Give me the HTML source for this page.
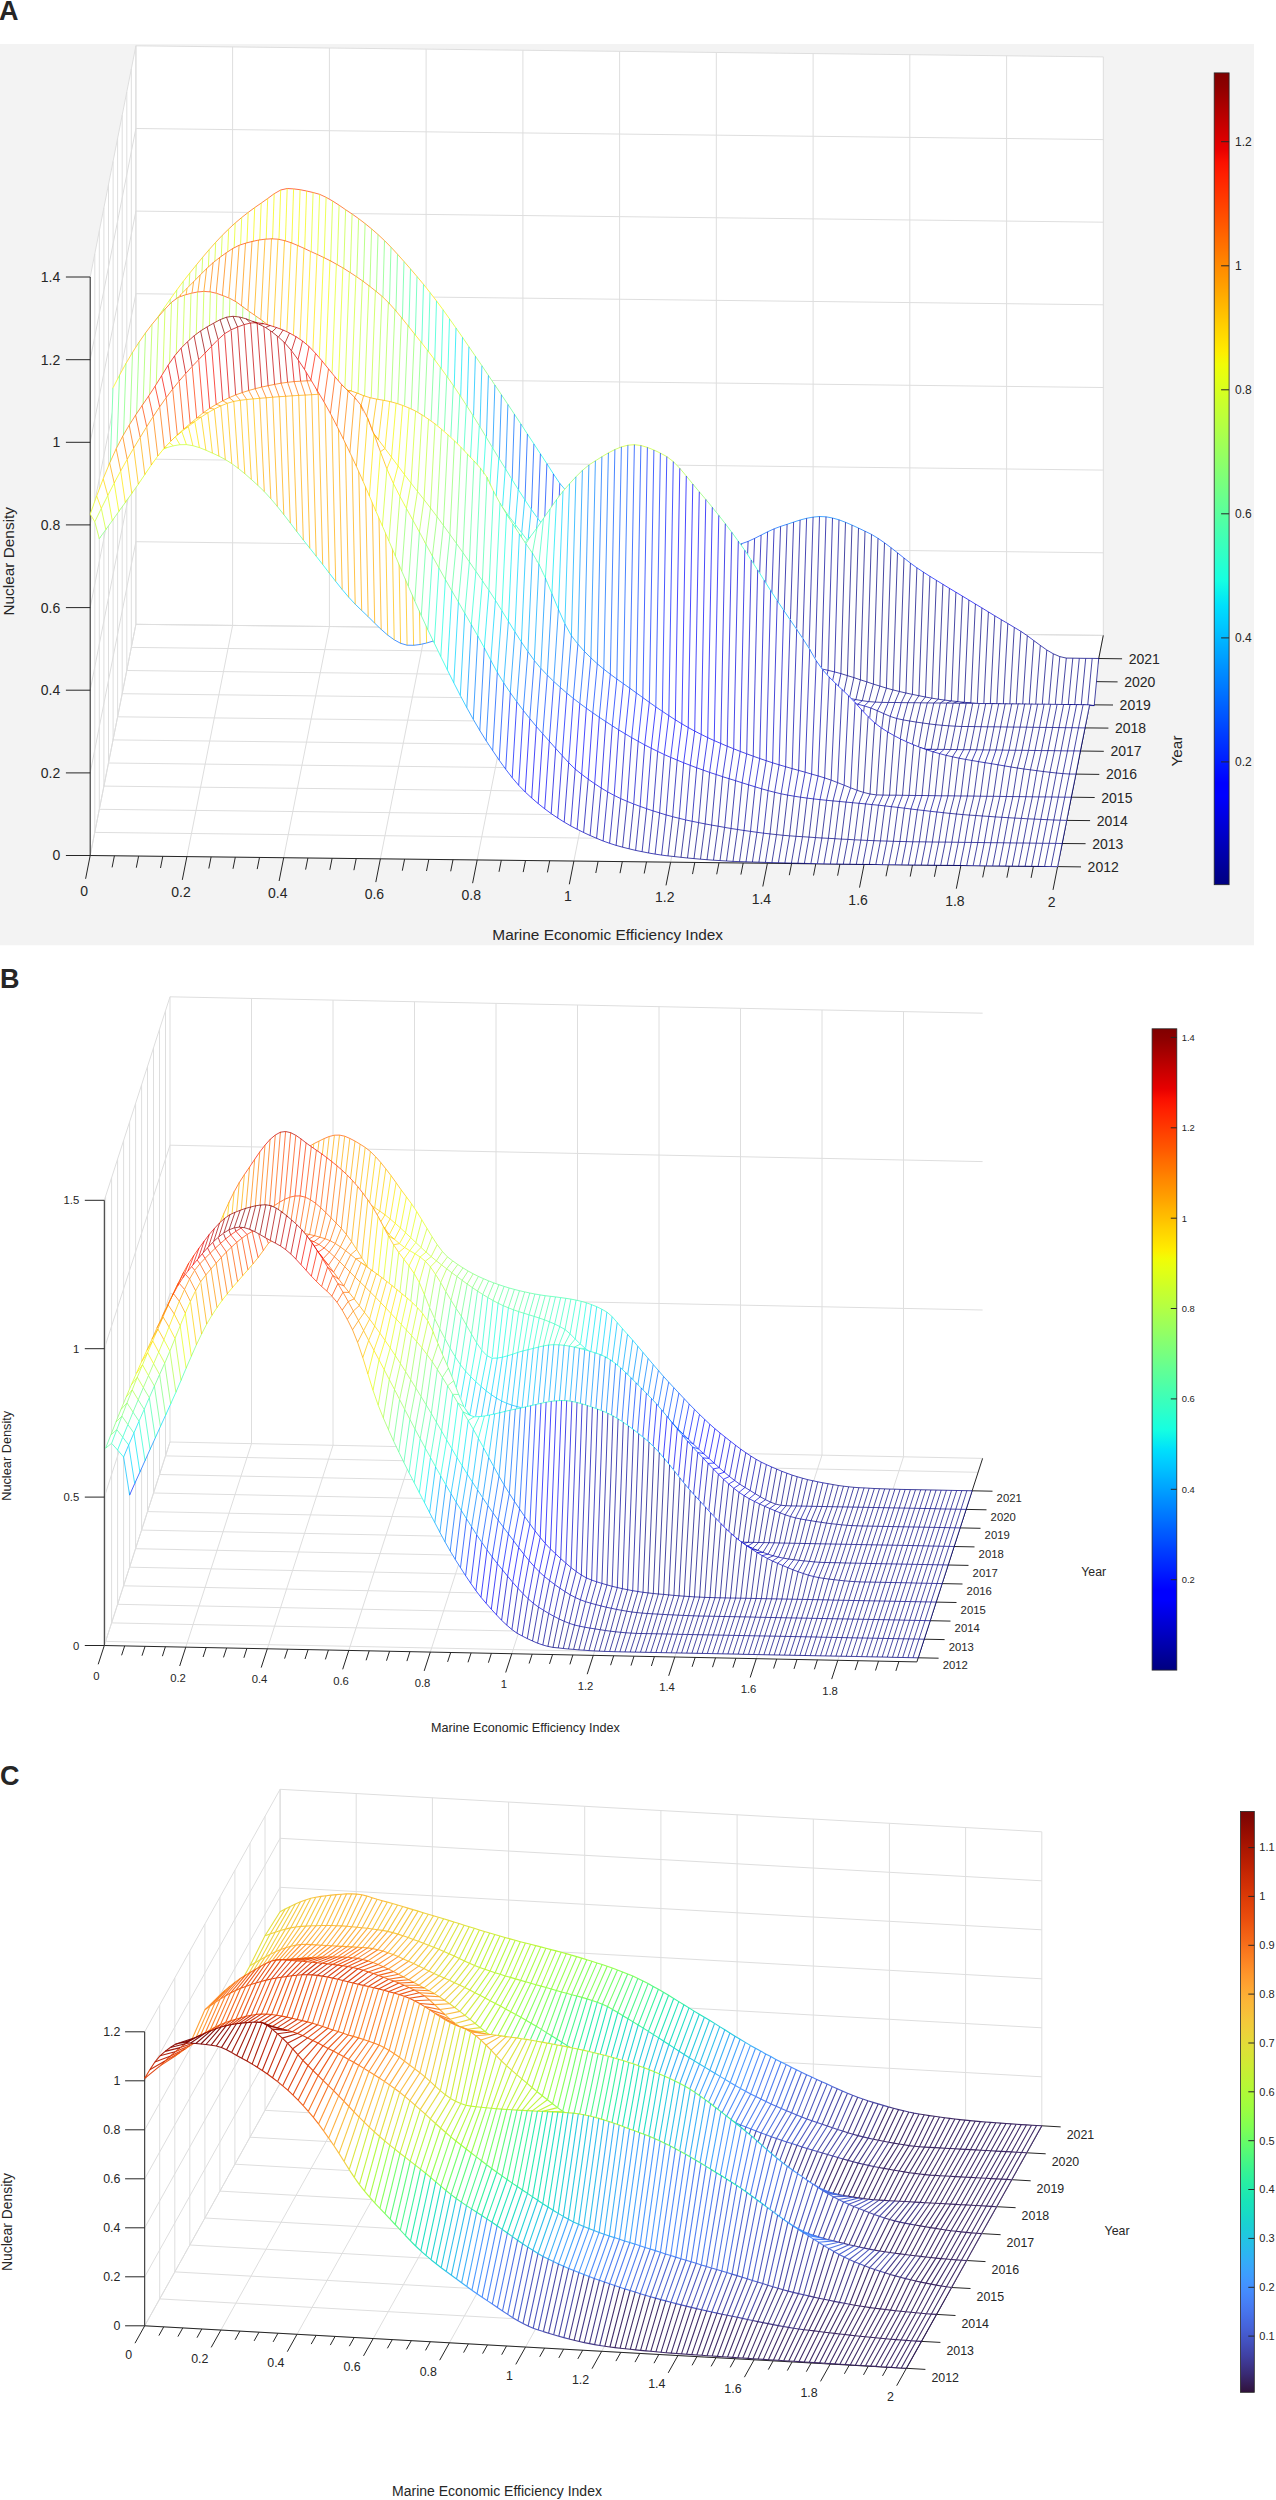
<!DOCTYPE html>
<html><head><meta charset="utf-8"><style>
html,body{margin:0;padding:0;background:#fff;width:1276px;height:2500px;overflow:hidden}
svg{display:block}
text{font-family:"Liberation Sans", sans-serif;fill:#262626}
.f{fill:#fff;stroke:none}
g.mA,g.mB,g.mC{fill:none;stroke-width:0.9;stroke-opacity:0.8;stroke-linejoin:round}
g.mC{stroke-width:1.1;stroke-opacity:0.95}
.k0{stroke:#9dff5a}.k1{stroke:#b1ff46}.k2{stroke:#c1ff36}.k3{stroke:#d1ff26}.k4{stroke:#e4ff13}.k5{stroke:#f4f802}.k6{stroke:#ffe600}.k7{stroke:#ffd000}.k8{stroke:#ffbd00}.k9{stroke:#ffab00}.k10{stroke:#ff9400}.k11{stroke:#ff8200}.k12{stroke:#ff6f00}.k13{stroke:#ff5900}.k14{stroke:#ff4700}.k15{stroke:#ff3400}.k16{stroke:#8dff6a}.k17{stroke:#7dff7a}.k18{stroke:#6aff8d}.k19{stroke:#5aff9d}.k20{stroke:#49ffad}.k21{stroke:#36ffc1}.k22{stroke:#26ffd1}.k23{stroke:#16ffe1}.k24{stroke:#02e8f4}.k25{stroke:#00d4ff}.k26{stroke:#00c0ff}.k27{stroke:#00a8ff}.k28{stroke:#0094ff}.k29{stroke:#0080ff}.k30{stroke:#0068ff}.k31{stroke:#0054ff}.k32{stroke:#0040ff}.k33{stroke:#0028ff}.k34{stroke:#0014ff}.k35{stroke:#0000ff}.k36{stroke:#0000f6}.k37{stroke:#0000df}.k38{stroke:#0000c8}.k39{stroke:#0000ad}.k40{stroke:#000096}.k41{stroke:#000080}.k42{stroke:#ff1e00}.k43{stroke:#f60b00}.k44{stroke:#df0000}.k45{stroke:#c40000}.k46{stroke:#ad0000}.k47{stroke:#960000}.k48{stroke:#800000}.k49{stroke:#e3db38}.k50{stroke:#eecf3a}.k51{stroke:#f5c53a}.k52{stroke:#faba39}.k53{stroke:#d9e436}.k54{stroke:#cdec34}.k55{stroke:#bef434}.k56{stroke:#b1f936}.k57{stroke:#a4fc3c}.k58{stroke:#92ff47}.k59{stroke:#80ff53}.k60{stroke:#6dfe62}.k61{stroke:#55fa76}.k62{stroke:#43f787}.k63{stroke:#32f298}.k64{stroke:#22ebaa}.k65{stroke:#1ae4b6}.k66{stroke:#18ddc2}.k67{stroke:#1ad2d2}.k68{stroke:#20c7df}.k69{stroke:#28bceb}.k70{stroke:#33adf7}.k71{stroke:#3ba0fd}.k72{stroke:#4294ff}.k73{stroke:#4685fa}.k74{stroke:#4778f0}.k75{stroke:#466be3}.k76{stroke:#455ccf}.k77{stroke:#434eba}.k78{stroke:#4040a2}.k79{stroke:#3b2f80}.k80{stroke:#36215f}.k81{stroke:#fdac34}.k82{stroke:#fe9e2f}.k83{stroke:#fe9029}.k84{stroke:#fb7e21}.k85{stroke:#f76f1a}.k86{stroke:#f26014}.k87{stroke:#eb500e}.k88{stroke:#e4450a}.k89{stroke:#dc3b07}.k90{stroke:#d02f05}.k91{stroke:#c52603}.k92{stroke:#b91e02}.k93{stroke:#a91601}.k94{stroke:#9b0f01}.k95{stroke:#8b0902}.k96{stroke:#7a0403}
</style></head><body>
<svg xmlns="http://www.w3.org/2000/svg" width="1276" height="2500" viewBox="0 0 1276 2500">

<rect x="0" y="44" width="1254" height="901.3" fill="#f3f3f3"/>
<polygon points="90.2,855.5 1057.6,866.6 1103.3,635.4 1103.3,56.9 135.9,45.8 90.2,277" fill="#fff"/>
<path d="M90.2 855.5L135.9 624.3M135.9 624.3L135.9 45.8M186.9 856.6L232.6 625.4M232.6 625.4L232.6 46.9M283.7 857.7L329.4 626.5M329.4 626.5L329.4 48M380.4 858.8L426.1 627.6M426.1 627.6L426.1 49.2M477.2 859.9L522.9 628.7M522.9 628.7L522.9 50.3M573.9 861L619.6 629.8M619.6 629.8L619.6 51.4M670.6 862.2L716.3 631M716.3 631L716.3 52.5M767.4 863.3L813.1 632.1M813.1 632.1L813.1 53.6M864.1 864.4L909.8 633.2M909.8 633.2L909.8 54.7M960.9 865.5L1006.6 634.3M1006.6 634.3L1006.6 55.8M1057.6 866.6L1103.3 635.4M1103.3 635.4L1103.3 56.9M90.2 855.5L1057.6 866.6M90.2 855.5L90.2 277M94.8 832.4L1062.2 843.5M94.8 832.4L94.8 253.9M99.3 809.3L1066.7 820.4M99.3 809.3L99.3 230.8M103.9 786.1L1071.3 797.2M103.9 786.1L103.9 207.7M108.5 763L1075.9 774.1M108.5 763L108.5 184.5M113.1 739.9L1080.4 751M113.1 739.9L113.1 161.4M117.6 716.8L1085 727.9M117.6 716.8L117.6 138.3M122.2 693.7L1089.6 704.8M122.2 693.7L122.2 115.2M126.8 670.5L1094.2 681.6M126.8 670.5L126.8 92.1M131.3 647.4L1098.7 658.5M131.3 647.4L131.3 68.9M135.9 624.3L1103.3 635.4M135.9 624.3L135.9 45.8M135.9 624.3L1103.3 635.4M90.2 855.5L135.9 624.3M135.9 541.7L1103.3 552.8M90.2 772.9L135.9 541.7M135.9 459L1103.3 470.1M90.2 690.2L135.9 459M135.9 376.4L1103.3 387.5M90.2 607.6L135.9 376.4M135.9 293.7L1103.3 304.8M90.2 524.9L135.9 293.7M135.9 211.1L1103.3 222.2M90.2 442.3L135.9 211.1M135.9 128.5L1103.3 139.6M90.2 359.7L135.9 128.5M135.9 45.8L1103.3 56.9M90.2 277L135.9 45.8" stroke="#dedede" stroke-width="1" fill="none"/>
<path d="M90.2 855.5L1057.6 866.6M90.2 855.5L90.2 277M1057.6 866.6L1103.3 635.4M90.2 855.5L85.6 878.8M186.9 856.6L182.3 879.9M283.7 857.7L279.1 881M380.4 858.8L375.8 882.1M477.2 859.9L472.6 883.2M573.9 861L569.3 884.3M670.6 862.2L666 885.4M767.4 863.3L762.8 886.5M864.1 864.4L859.5 887.6M960.9 865.5L956.3 888.7M1057.6 866.6L1053 889.9M114.4 855.8L112.1 867.4M138.6 856.1L136.3 867.7M162.8 856.3L160.5 868M211.1 856.9L208.8 868.5M235.3 857.2L233 868.8M259.5 857.4L257.2 869.1M307.9 858L305.6 869.6M332.1 858.3L329.8 869.9M356.2 858.6L353.9 870.2M404.6 859.1L402.3 870.7M428.8 859.4L426.5 871M453 859.7L450.7 871.3M501.3 860.2L499 871.8M525.5 860.5L523.2 872.1M549.7 860.8L547.4 872.4M598.1 861.3L595.8 873M622.3 861.6L620 873.2M646.5 861.9L644.2 873.5M694.8 862.4L692.5 874.1M719 862.7L716.7 874.3M743.2 863L740.9 874.6M791.6 863.5L789.3 875.2M815.8 863.8L813.5 875.5M839.9 864.1L837.6 875.7M888.3 864.7L886 876.3M912.5 864.9L910.2 876.6M936.7 865.2L934.4 876.8M985 865.8L982.7 877.4M1009.2 866L1006.9 877.7M1033.4 866.3L1031.1 877.9M90.2 855.5L65.9 855.5M90.2 772.9L65.9 772.9M90.2 690.2L65.9 690.2M90.2 607.6L65.9 607.6M90.2 524.9L65.9 524.9M90.2 442.3L65.9 442.3M90.2 359.7L65.9 359.7M90.2 277L65.9 277M1057.6 866.6L1081 866.9M1062.2 843.5L1085.6 843.7M1066.7 820.4L1090.1 820.6M1071.3 797.2L1094.7 797.5M1075.9 774.1L1099.3 774.4M1080.4 751L1103.8 751.3M1085 727.9L1108.4 728.1M1089.6 704.8L1113 705M1094.2 681.6L1117.6 681.9M1098.7 658.5L1122.1 658.8" stroke="#262626" stroke-width="1" fill="none"/>
<g class="mA"><path class="f" d="M131 358l13-21 13-19 13-19 13-18 13-16 13-15 13-15 13-12 13-11 13-9 13-9 13-6 13 2 13 2 13 5 13 8 13 9 13 10 13 11 13 12 13 14 13 15 13 16 13 18 13 18 13 19 13 19 13 19 13 19 13 20 13 20 13 20 13 19 13 15 13 11 13 10 13 8 13 7 13 5 13 4 13 3 13 2 13 2 13 1 13-1 13-3 13-3 13-6 13-6 13-6 13-4 13-4 13-1 13 1 13 4 13 6 12 6 13 9 13 10 13 10 13 9 13 8 13 8 13 8 13 8 13 8 13 8 13 7 13 9 13 9 13 9 13 4 13 0 13 0 7 1-5 47-6 0-13-1-13 0-13 0-13 0-13 0-13 0-13-1-13 0-13-1-13-1-13-2-13-2-13-2-13-3-13-3-13-4-13-4-13-4-13-4-13-4-13-2-13-3-13-2-13-2-13-2-13-3-13-3-13-2-13-3-13-3-13-3-13-3-13-4-13-4-13-4-13-5-13-6-13-6-13-6-13-7-13-9-13-10-13-12-13-12-13-14-13-14-13-16-13-16-13-15-13-14-13-14-13-13-13-13-13-15-13-17-13-17-12-14-13-12-13-11-13-8-13-6-13-3-13-1-13 2-13 4-13 5-13 7-13 7-13 8-13 10-13 12-13 14-13 16-13 17z"/>
<path class="k0" d="M131.3 358.2l6.5-10.5M475.4 356.2l6.5 9.5"/>
<path class="k1" d="M137.8 347.7l6.5-10.3 6.5-9.8M468.9 346.7l6.5 9.5"/>
<path class="k2" d="M150.8 327.6l6.5-9.7M462.5 337.3l6.4 9.4"/>
<path class="k3" d="M157.3 317.9l6.5-9.5M449.5 318.8l6.5 9.2 6.5 9.3"/>
<path class="k4" d="M163.8 308.4l6.5-9.3M443 309.7l6.5 9.1"/>
<path class="k5" d="M170.3 299.1l6.5-9.1M436.5 300.9l6.5 8.8"/>
<path class="k6" d="M176.8 290l6.5-8.7 6.5-8.3M423.5 284.3l6.5 8.2 6.5 8.4"/>
<path class="k7" d="M189.8 273l6.5-8M417 276.5l6.5 7.8"/>
<path class="k8" d="M196.3 265l6.4-7.8M404 261.5l6.5 7.4 6.5 7.6"/>
<path class="k9" d="M202.7 257.2l6.5-7.6 6.5-7.3M397.5 254.2l6.5 7.3"/>
<path class="k10" d="M215.7 242.3l6.5-6.9M384.5 240.6l6.5 6.6 6.5 7"/>
<path class="k11" d="M222.2 235.4l6.5-6.4 6.5-6M371.6 228.9l6.4 5.6 6.5 6.1"/>
<path class="k12" d="M235.2 223l6.5-5.5 6.5-5.1M358.6 218.6l6.5 5 6.5 5.3"/>
<path class="k13" d="M248.2 212.4l6.5-4.8 6.5-4.5 6.5-4.6M339.1 205.2l6.5 4.5 6.5 4.3 6.5 4.6"/>
<path class="k14" d="M267.7 198.5l6.5-4.8 6.5-3.7M313.1 192.5l6.5 1.8 6.5 3 6.5 3.7 6.5 4.2"/>
<path class="k15" d="M280.7 190l6.5-1.5 6.4 0.4 6.5 0.8 6.5 1.3 6.5 1.5"/>
<path class="k16" d="M481.9 365.7l6.5 9.7"/>
<path class="k17" d="M488.4 375.4l6.5 9.6 6.5 9.7"/>
<path class="k18" d="M501.4 394.7l6.5 9.7"/>
<path class="k19" d="M507.9 404.4l6.5 9.8"/>
<path class="k20" d="M514.4 414.2l6.5 9.8"/>
<path class="k21" d="M520.9 424l6.5 10"/>
<path class="k22" d="M527.4 434l6.5 9.9"/>
<path class="k23" d="M533.9 443.9l6.5 9.9 6.5 9.9"/>
<path class="k24" d="M546.9 463.7l6.5 10.2"/>
<path class="k25" d="M553.4 473.9l6.4 9.5"/>
<path class="k26" d="M559.8 483.4l6.5 7.6"/>
<path class="k27" d="M566.3 491l6.5 6.6 6.5 6.1"/>
<path class="k28" d="M579.3 503.7l6.5 5.8 6.5 5.2"/>
<path class="k29" d="M592.3 514.7l6.5 4.7 6.5 4.3M787.1 524.3l6.5-2.2 6.5-2.1 6.5-1.7 6.5-1.2 6.4-0.6 6.5 0.3 6.5 1.2 6.5 1.8 6.5 2.5 6.5 2.8 6.5 3"/>
<path class="k30" d="M605.3 523.7l6.5 3.7 6.5 3.2 6.5 3 6.5 2.7M761.1 535.1l6.5-3.3 6.5-3 6.5-2.4 6.5-2.1M858.5 528.1l6.5 3.1 6.5 3.2 6.5 3.9"/>
<path class="k31" d="M631.3 536.3l6.5 2.6 6.4 2.3 6.5 2 6.5 1.7 6.5 1.2M735.1 545.4l6.5-1.7 6.5-2.3 6.5-3 6.5-3.3M878 538.3l6.5 4.5 6.5 4.9 6.5 5.1"/>
<path class="k32" d="M663.7 546.1l6.5 1.1 6.5 1.1 6.5 0.9 6.5 0.8 6.5 0.5 6.5 0.2 6.5-0.3 6.5-0.8 6.5-1.2 6.5-1.4 6.4-1.6M897.5 552.8l6.5 5.2 6.4 5.1"/>
<path class="k33" d="M910.4 563.1l6.5 4.7 6.5 4.3"/>
<path class="k34" d="M923.4 572.1l6.5 4.2 6.5 4 6.5 4"/>
<path class="k35" d="M942.9 584.3l6.5 4 6.5 3.9 6.5 3.9"/>
<path class="k36" d="M962.4 596.1l6.5 3.9 6.5 4 6.5 3.9"/>
<path class="k37" d="M981.9 607.9l6.5 4 6.4 3.9 6.5 3.9"/>
<path class="k38" d="M1001.3 619.7l6.5 3.8 6.5 3.9 6.5 3.9"/>
<path class="k39" d="M1020.8 631.3l6.5 4.4 6.5 4.9"/>
<path class="k40" d="M1033.8 640.6l6.5 4.8 6.5 4.6 6.5 3.8"/>
<path class="k41" d="M1053.3 653.8l6.5 2.8 6.5 1.5 6.5 0.1 6.5 0.1 6.4 0.1 6.5 0 6.5 0.1"/>
<path class="k19" d="M126.8 422.6l4.5-64.4M399.4 424.7l4.6-163.2"/>
<path class="k18" d="M133.3 414.1l4.5-66.4M139.7 405.9l4.6-68.5M386.5 410l4.5-162.8M393 417.6l4.5-163.4"/>
<path class="k17" d="M146.2 397.9l4.6-70.3M380 401.7l4.5-161.1"/>
<path class="k16" d="M152.7 390.3l4.6-72.4M159.2 383l4.6-74.6M373.5 393.2l4.5-158.7"/>
<path class="k0" d="M165.7 376.1l4.6-77M360.5 376.4l4.6-152.8M367 384.7l4.6-155.8"/>
<path class="k1" d="M172.2 369.8l4.6-79.8M178.7 363.9l4.6-82.6M354 368.7l4.6-150.1"/>
<path class="k2" d="M185.2 358.6l4.6-85.6M191.7 353.8l4.6-88.8M198.2 349.7l4.5-92.5M341 356l4.6-146.3M347.5 361.9l4.6-147.9"/>
<path class="k3" d="M204.7 346.1l4.5-96.5M211.2 342.4l4.5-100.1M217.7 338.8l4.5-103.4M328 344.7l4.6-143.7M334.5 350.3l4.6-145.1"/>
<path class="k4" d="M224.1 335.3l4.6-106.3M230.6 332.1l4.6-109.1M237.1 329.2l4.6-111.7M308.6 330.7l4.5-138.2M315 334.8l4.6-140.5M321.5 339.5l4.6-142.2"/>
<path class="k5" d="M243.6 326.5l4.6-114.1M250.1 324.4l4.6-116.8M256.6 322.7l4.6-119.6M263.1 321.5l4.6-123M269.6 321l4.6-127.3M276.1 321.2l4.6-131.2M282.6 322.1l4.6-133.6M289.1 323.6l4.5-134.7M295.6 325.3l4.5-135.6M302.1 327.5l4.5-136.5"/>
<path class="k20" d="M405.9 431.5l4.6-162.6M412.4 438.1l4.6-161.6"/>
<path class="k21" d="M418.9 444.6l4.6-160.3M425.4 451.1l4.6-158.6"/>
<path class="k22" d="M431.9 457.8l4.6-156.9M438.4 464.6l4.6-154.9"/>
<path class="k23" d="M444.9 471.7l4.6-152.9"/>
<path class="k24" d="M451.4 479l4.6-151M457.9 486.7l4.6-149.4"/>
<path class="k25" d="M464.4 494.4l4.5-147.7"/>
<path class="k26" d="M470.9 502.3l4.5-146.1M477.4 510.2l4.5-144.5"/>
<path class="k27" d="M483.9 518l4.5-142.6"/>
<path class="k28" d="M490.3 525.7l4.6-140.7"/>
<path class="k29" d="M496.8 533.1l4.6-138.4M503.3 540.3l4.6-135.9"/>
<path class="k30" d="M509.8 547.1l4.6-132.9M516.3 553.6l4.6-129.6"/>
<path class="k31" d="M522.8 559.9l4.6-125.9M529.3 566.2l4.6-122.3"/>
<path class="k32" d="M535.8 572.3l4.6-118.5M542.3 578.1l4.6-114.4"/>
<path class="k33" d="M548.8 583.5l4.6-109.6M555.3 588.4l4.5-105"/>
<path class="k34" d="M561.8 592.7l4.5-101.7M568.3 596.5l4.5-98.9M574.8 600.2l4.5-96.5"/>
<path class="k35" d="M581.2 603.8l4.6-94.3M587.7 607.1l4.6-92.4M594.2 610.4l4.6-91"/>
<path class="k36" d="M600.7 613.4l4.6-89.7M607.2 616.4l4.6-89M613.7 619.2l4.6-88.6M620.2 621.9l4.6-88.3M626.7 624.4l4.6-88.1"/>
<path class="k37" d="M633.2 626.9l4.6-88M639.7 629.2l4.5-88M646.2 631.4l4.5-88.2M652.7 633.4l4.5-88.5M659.2 635.4l4.5-89.3"/>
<path class="k38" d="M665.6 637.3l4.6-90.1M672.1 639.1l4.6-90.8M678.6 640.8l4.6-91.6M685.1 642.4l4.6-92.4M691.6 643.9l4.6-93.4M698.1 645.4l4.6-94.7M704.6 646.8l4.6-96.4M711.1 648.2l4.6-98.6"/>
<path class="k39" d="M717.6 649.5l4.6-101.1M724.1 650.9l4.6-103.9M730.6 652.2l4.5-106.8M737.1 653.4l4.5-109.7M743.6 654.7l4.5-113.3M750.1 656l4.5-117.6M756.5 657.3l4.6-122.2M763 658.5l4.6-126.7M769.5 659.7l4.6-130.9"/>
<path class="k40" d="M776 660.8l4.6-134.4M782.5 661.9l4.6-137.6M789 663l4.6-140.9M795.5 664.1l4.6-144.1M802 665.2l4.6-146.9M808.5 666.4l4.6-149.3M815 667.6l4.5-151.1M821.5 668.9l4.5-152.1M828 670.3l4.5-152.3M834.5 671.9l4.5-152.1"/>
<path class="k41" d="M840.9 673.6l4.6-151.3M847.4 675.6l4.6-150.5M853.9 677.6l4.6-149.5M860.4 679.8l4.6-148.6M866.9 681.9l4.6-147.5M873.4 684.1l4.6-145.8M879.9 686.1l4.6-143.3M886.4 688.1l4.6-140.4M892.9 689.9l4.6-137.1M899.4 691.5l4.6-133.5M905.9 693l4.5-129.9M912.4 694.4l4.5-126.6M918.9 695.7l4.5-123.6M925.4 697l4.5-120.7M931.8 698.2l4.6-117.9M938.3 699.2l4.6-114.9M944.8 700.1l4.6-111.8M951.3 700.9l4.6-108.7M957.8 701.6l4.6-105.5M964.3 702.3l4.6-102.3M970.8 702.9l4.6-98.9M977.3 703.5l4.6-95.6M983.8 704l4.6-92.1M990.3 704.3l4.5-88.5M996.8 704.5l4.5-84.8M1003.3 704.6l4.5-81.1M1009.8 704.6l4.5-77.2M1016.2 704.7l4.6-73.4M1022.7 704.8l4.6-69.1M1029.2 704.9l4.6-64.3M1035.7 704.9l4.6-59.5M1042.2 705l4.6-55M1048.7 705.1l4.6-51.3M1055.2 705.2l4.6-48.6M1061.7 705.2l4.6-47.1M1068.2 705.3l4.6-47.1M1074.7 705.4l4.6-47.1M1081.2 705.5l4.5-47.1M1087.7 705.5l4.5-47.1M1094.2 705.6l4.5-47.1"/>
<path class="f" d="M127 423l13-17 13-16 13-14 13-12 13-10 13-8 13-7 13-7 13-5 13-4 13-2 13 1 13 3 13 6 13 8 13 11 13 12 12 14 13 17 13 17 13 15 13 13 13 13 13 14 13 14 13 15 13 16 13 16 13 14 13 14 13 12 13 12 13 10 13 9 13 7 13 6 13 6 13 6 13 5 13 4 13 4 13 4 13 3 13 3 13 3 13 3 13 2 13 3 13 3 13 2 13 2 13 2 13 3 13 2 13 4 13 4 13 4 13 4 13 4 13 3 13 3 13 2 13 2 13 2 13 1 13 1 13 0 13 1 13 0 13 0 13 0 13 0 13 0 13 1 6 0-4-1-7 0-13 0-13-1-13 0-13 0-13 0-13 0-13 0-13-1-13 0-13 0-13 0-13 0-13 0-13 0-13-1-13 0-13-1-13-3-13-3-13-3-13-4-13-4-13-3-13-4-13-4-13-5-13-5-12-5-13-6-13-5-13-7-13-7-13-8-13-9-13-8-13-10-13-12-13-12-13-12-13-13-13-15-13-16-13-18-13-21-13-21-13-22-13-21-13-20-13-19-13-17-13-17-13-16-13-16-13-14-13-10-13-10-13-8-13-7-13-7-13-6-13-5-13-4-13 0-13 3-13 3-13 8-13 10-13 12-13 13-13 14-13 18-13 23-13 29-13 32z"/>
<path class="k19" d="M126.8 422.6l6.5-8.5M399.4 424.7l6.5 6.8"/>
<path class="k18" d="M133.3 414.1l6.4-8.2 6.5-8M386.5 410l6.5 7.6 6.4 7.1"/>
<path class="k17" d="M146.2 397.9l6.5-7.6M380 401.7l6.5 8.3"/>
<path class="k16" d="M152.7 390.3l6.5-7.3 6.5-6.9M373.5 393.2l6.5 8.5"/>
<path class="k0" d="M165.7 376.1l6.5-6.3M360.5 376.4l6.5 8.3 6.5 8.5"/>
<path class="k1" d="M172.2 369.8l6.5-5.9 6.5-5.3M354 368.7l6.5 7.7"/>
<path class="k2" d="M185.2 358.6l6.5-4.8 6.5-4.1 6.5-3.6M341 356l6.5 5.9 6.5 6.8"/>
<path class="k3" d="M204.7 346.1l6.5-3.7 6.5-3.6 6.4-3.5M328 344.7l6.5 5.6 6.5 5.7"/>
<path class="k4" d="M224.1 335.3l6.5-3.2 6.5-2.9 6.5-2.7M308.6 330.7l6.4 4.1 6.5 4.7 6.5 5.2"/>
<path class="k5" d="M243.6 326.5l6.5-2.1 6.5-1.7 6.5-1.2 6.5-0.5 6.5 0.2 6.5 0.9 6.5 1.5 6.5 1.7 6.5 2.2 6.5 3.2"/>
<path class="k20" d="M405.9 431.5l6.5 6.6 6.5 6.5"/>
<path class="k21" d="M418.9 444.6l6.5 6.5 6.5 6.7"/>
<path class="k22" d="M431.9 457.8l6.5 6.8 6.5 7.1"/>
<path class="k23" d="M444.9 471.7l6.5 7.3"/>
<path class="k24" d="M451.4 479l6.5 7.7 6.5 7.7"/>
<path class="k25" d="M464.4 494.4l6.5 7.9"/>
<path class="k26" d="M470.9 502.3l6.5 7.9 6.5 7.8"/>
<path class="k27" d="M483.9 518l6.4 7.7"/>
<path class="k28" d="M490.3 525.7l6.5 7.4"/>
<path class="k29" d="M496.8 533.1l6.5 7.2 6.5 6.8"/>
<path class="k30" d="M509.8 547.1l6.5 6.5 6.5 6.3"/>
<path class="k31" d="M522.8 559.9l6.5 6.3 6.5 6.1"/>
<path class="k32" d="M535.8 572.3l6.5 5.8 6.5 5.4"/>
<path class="k33" d="M548.8 583.5l6.5 4.9 6.5 4.3"/>
<path class="k34" d="M561.8 592.7l6.5 3.8 6.5 3.7 6.4 3.6"/>
<path class="k35" d="M581.2 603.8l6.5 3.3 6.5 3.3 6.5 3"/>
<path class="k36" d="M600.7 613.4l6.5 3 6.5 2.8 6.5 2.7 6.5 2.5 6.5 2.5"/>
<path class="k37" d="M633.2 626.9l6.5 2.3 6.5 2.2 6.5 2 6.5 2 6.4 1.9"/>
<path class="k38" d="M665.6 637.3l6.5 1.8 6.5 1.7 6.5 1.6 6.5 1.5 6.5 1.5 6.5 1.4 6.5 1.4 6.5 1.3"/>
<path class="k39" d="M717.6 649.5l6.5 1.4 6.5 1.3 6.5 1.2 6.5 1.3 6.5 1.3 6.4 1.3 6.5 1.2 6.5 1.2 6.5 1.1"/>
<path class="k40" d="M776 660.8l6.5 1.1 6.5 1.1 6.5 1.1 6.5 1.1 6.5 1.2 6.5 1.2 6.5 1.3 6.5 1.4 6.5 1.6 6.4 1.7"/>
<path class="k41" d="M840.9 673.6l6.5 2 6.5 2 6.5 2.2 6.5 2.1 6.5 2.2 6.5 2 6.5 2 6.5 1.8 6.5 1.6 6.5 1.5 6.5 1.4 6.5 1.3 6.5 1.3 6.4 1.2 6.5 1 6.5 0.9 6.5 0.8 6.5 0.7 6.5 0.7 6.5 0.6 6.5 0.6 6.5 0.5 6.5 0.3 6.5 0.2 6.5 0.1 6.5 0 6.4 0.1 6.5 0.1 6.5 0.1 6.5 0 6.5 0.1 6.5 0.1 6.5 0.1 6.5 0 6.5 0.1 6.5 0.1 6.5 0.1 6.5 0 6.5 0.1"/>
<path class="k0" d="M122.2 404.4l4.6 18.2M466.3 405.1l4.6 97.2"/>
<path class="k1" d="M128.7 387.5l4.6 26.6M459.8 395.1l4.6 99.3"/>
<path class="k3" d="M135.2 371.7l4.5 34.2M440.3 367.3l4.6 104.4"/>
<path class="k4" d="M141.7 357l4.5 40.9M433.8 358.6l4.6 106"/>
<path class="k5" d="M148.2 343.5l4.5 46.8M420.9 341.9l4.5 109.2M427.3 350.1l4.6 107.7"/>
<path class="k6" d="M154.7 331.2l4.5 51.8M414.4 333.8l4.5 110.8"/>
<path class="k7" d="M161.1 320.1l4.6 56M407.9 325.6l4.5 112.5"/>
<path class="k8" d="M167.6 310.3l4.6 59.5M394.9 309.7l4.5 115M401.4 317.5l4.5 114"/>
<path class="k9" d="M174.1 302l4.6 61.9M180.6 294.8l4.6 63.8M381.9 296.2l4.6 113.8M388.4 302.5l4.6 115.1"/>
<path class="k10" d="M187.1 288.2l4.6 65.6M368.9 285.7l4.6 107.5M375.4 290.8l4.6 110.9"/>
<path class="k11" d="M193.6 281.7l4.6 68M200.1 275.1l4.6 71M355.9 276.3l4.6 100.1M362.4 280.8l4.6 103.9"/>
<path class="k12" d="M206.6 268.6l4.6 73.8M213.1 262.7l4.6 76.1M336.4 264.2l4.6 91.8M342.9 267.9l4.6 94M349.4 272l4.6 96.7"/>
<path class="k13" d="M219.6 257.6l4.5 77.7M226.1 252.9l4.5 79.2M310.5 251.4l4.5 83.4M317 254.3l4.5 85.2M323.5 257.4l4.5 87.3M330 260.6l4.5 89.7"/>
<path class="k14" d="M232.6 248.6l4.5 80.6M239.1 245.3l4.5 81.2M245.5 243.2l4.6 81.2M252 241.5l4.6 81.2M258.5 240.1l4.6 81.4M265 239.2l4.6 81.8M271.5 238.8l4.6 82.4M278 239.2l4.6 82.9M284.5 240.6l4.6 83M291 242.7l4.6 82.6M297.5 245.4l4.6 82.1M304 248.3l4.6 82.4"/>
<path class="k2" d="M446.8 376.2l4.6 102.8M453.3 385.5l4.6 101.2"/>
<path class="k16" d="M472.8 415.3l4.6 94.9"/>
<path class="k17" d="M479.3 425.7l4.6 92.3"/>
<path class="k18" d="M485.8 436.5l4.5 89.2"/>
<path class="k19" d="M492.3 447.4l4.5 85.7"/>
<path class="k20" d="M498.8 458.1l4.5 82.2"/>
<path class="k21" d="M505.3 468.5l4.5 78.6"/>
<path class="k22" d="M511.7 479l4.6 74.6"/>
<path class="k23" d="M518.2 489.4l4.6 70.5M524.7 499.6l4.6 66.6"/>
<path class="k24" d="M531.2 509.3l4.6 63"/>
<path class="k25" d="M537.7 518.3l4.6 59.8"/>
<path class="k26" d="M544.2 526.5l4.6 57M550.7 534.3l4.6 54.1"/>
<path class="k27" d="M557.2 541.6l4.6 51.1"/>
<path class="k28" d="M563.7 548.6l4.6 47.9M570.2 555.3l4.6 44.9"/>
<path class="k29" d="M576.7 561.8l4.5 42M583.2 568.1l4.5 39"/>
<path class="k30" d="M589.7 574.3l4.5 36.1"/>
<path class="k31" d="M596.2 580.4l4.5 33M602.6 586.3l4.6 30.1"/>
<path class="k32" d="M609.1 592.1l4.6 27.1M615.6 597.5l4.6 24.4M622.1 602.7l4.6 21.7"/>
<path class="k33" d="M628.6 607.5l4.6 19.4M635.1 612.1l4.6 17.1"/>
<path class="k34" d="M641.6 616.5l4.6 14.9M648.1 620.8l4.6 12.6M654.6 624.9l4.6 10.5"/>
<path class="k35" d="M661.1 628.9l4.5 8.4M667.6 632.7l4.5 6.4M674.1 636.4l4.5 4.4"/>
<path class="k36" d="M680.6 640l4.5 2.4M687 643.3l4.6 0.6M693.5 646.5l4.6-1.1"/>
<path class="k37" d="M700 649.6l4.6-2.8M706.5 652.5l4.6-4.3M713 655.2l4.6-5.7M719.5 658l4.6-7.1"/>
<path class="k38" d="M726 660.6l4.6-8.4M732.5 663.2l4.6-9.8M739 665.6l4.6-10.9M745.5 668l4.6-12M752 670.3l4.5-13"/>
<path class="k39" d="M758.5 672.6l4.5-14.1M765 674.8l4.5-15.1M771.5 676.8l4.5-16M777.9 678.8l4.6-16.9M784.4 680.8l4.6-17.8M790.9 682.6l4.6-18.5"/>
<path class="k40" d="M797.4 684.4l4.6-19.2M803.9 686.1l4.6-19.7M810.4 687.9l4.6-20.3M816.9 689.8l4.6-20.9M823.4 691.6l4.6-21.3M829.9 693.4l4.6-21.5M836.4 695.2l4.5-21.6"/>
<path class="k41" d="M842.9 696.8l4.5-21.2M849.4 698.3l4.5-20.7M855.9 699.6l4.5-19.8M862.3 700.7l4.6-18.8M868.8 701.6l4.6-17.5M875.3 702.1l4.6-16M881.8 702.4l4.6-14.3M888.3 702.5l4.6-12.6M894.8 702.5l4.6-11M901.3 702.6l4.6-9.6M907.8 702.7l4.6-8.3M914.3 702.7l4.6-7M920.8 702.8l4.6-5.8M927.3 702.9l4.5-4.7M933.8 703l4.5-3.8M940.3 703l4.5-2.9M946.8 703.1l4.5-2.2M953.2 703.2l4.6-1.6M959.7 703.3l4.6-1M966.2 703.3l4.6-0.4M972.7 703.4l4.6 0.1M979.2 703.5l4.6 0.5M985.7 703.6l4.6 0.7M992.2 703.6l4.6 0.9M998.7 703.7l4.6 0.9M1005.2 703.8l4.6 0.8M1011.7 703.9l4.5 0.8M1018.2 703.9l4.5 0.9M1024.7 704l4.5 0.9M1031.2 704.1l4.5 0.8M1037.6 704.2l4.6 0.8M1044.1 704.2l4.6 0.9M1050.6 704.3l4.6 0.9M1057.1 704.4l4.6 0.8M1063.6 704.5l4.6 0.8M1070.1 704.5l4.6 0.9M1076.6 704.6l4.6 0.9M1083.1 704.7l4.6 0.8M1089.6 704.8l4.6 0.8"/>
<path class="f" d="M122 404l13-32 13-29 13-23 13-18 13-14 13-13 13-12 13-10 13-8 13-3 13-3 13 0 13 4 13 5 13 6 13 7 13 7 13 8 13 10 13 10 13 14 13 16 13 16 13 17 13 17 13 19 13 20 13 21 13 22 13 21 13 21 13 18 13 16 13 15 13 13 13 12 13 12 13 12 13 10 13 8 13 9 13 8 13 7 13 7 13 5 13 6 12 5 13 5 13 5 13 4 13 4 13 3 13 4 13 4 13 3 13 3 13 3 13 1 13 0 13 1 13 0 13 0 13 0 13 0 13 0 13 0 13 1 13 0 13 0 13 0 13 0 13 0 13 1 13 0 7 0-5 23-6 0-13 0-13 0-13-1-13 0-13 0-13 0-13 0-13 0-13-1-13 0-13-1-13-2-13-2-13-2-13-5-13-6-13-4-13-3-13-2-13-3-13-3-13-4-13-4-13-4-13-4-13-5-13-4-13-6-13-5-13-6-13-6-13-6-13-7-13-7-13-8-13-9-13-9-13-8-13-8-13-8-13-7-13-9-13-9-13-12-13-12-13-12-13-13-13-13-13-13-13-14-13-14-13-12-13-11-13-11-13-10-13-10-13-10-13-10-13-11-13-11-13-10-13-9-13-7-13-8-13-7-12-4-13-1-13 5-13 9-13 11-13 13-13 18-13 24-13 26z"/>
<path class="k0" d="M122.2 404.4l6.5-16.9M466.3 405.1l6.5 10.2"/>
<path class="k1" d="M128.7 387.5l6.5-15.8M459.8 395.1l6.5 10"/>
<path class="k3" d="M135.2 371.7l6.5-14.7M440.3 367.3l6.5 8.9"/>
<path class="k4" d="M141.7 357l6.5-13.5M433.8 358.6l6.5 8.7"/>
<path class="k5" d="M148.2 343.5l6.5-12.3M420.9 341.9l6.4 8.2 6.5 8.5"/>
<path class="k6" d="M154.7 331.2l6.4-11.1M414.4 333.8l6.5 8.1"/>
<path class="k7" d="M161.1 320.1l6.5-9.8M407.9 325.6l6.5 8.2"/>
<path class="k8" d="M167.6 310.3l6.5-8.3M394.9 309.7l6.5 7.8 6.5 8.1"/>
<path class="k9" d="M174.1 302l6.5-7.2 6.5-6.6M381.9 296.2l6.5 6.3 6.5 7.2"/>
<path class="k10" d="M187.1 288.2l6.5-6.5M368.9 285.7l6.5 5.1 6.5 5.4"/>
<path class="k11" d="M193.6 281.7l6.5-6.6 6.5-6.5M355.9 276.3l6.5 4.5 6.5 4.9"/>
<path class="k12" d="M206.6 268.6l6.5-5.9 6.5-5.1M336.4 264.2l6.5 3.7 6.5 4.1 6.5 4.3"/>
<path class="k13" d="M219.6 257.6l6.5-4.7 6.5-4.3M310.5 251.4l6.5 2.9 6.5 3.1 6.5 3.2 6.4 3.6"/>
<path class="k14" d="M232.6 248.6l6.5-3.3 6.4-2.1 6.5-1.7 6.5-1.4 6.5-0.9 6.5-0.4 6.5 0.4 6.5 1.4 6.5 2.1 6.5 2.7 6.5 2.9 6.5 3.1"/>
<path class="k2" d="M446.8 376.2l6.5 9.3 6.5 9.6"/>
<path class="k16" d="M472.8 415.3l6.5 10.4"/>
<path class="k17" d="M479.3 425.7l6.5 10.8"/>
<path class="k18" d="M485.8 436.5l6.5 10.9"/>
<path class="k19" d="M492.3 447.4l6.5 10.7"/>
<path class="k20" d="M498.8 458.1l6.5 10.4"/>
<path class="k21" d="M505.3 468.5l6.4 10.5"/>
<path class="k22" d="M511.7 479l6.5 10.4"/>
<path class="k23" d="M518.2 489.4l6.5 10.2 6.5 9.7"/>
<path class="k24" d="M531.2 509.3l6.5 9"/>
<path class="k25" d="M537.7 518.3l6.5 8.2"/>
<path class="k26" d="M544.2 526.5l6.5 7.8 6.5 7.3"/>
<path class="k27" d="M557.2 541.6l6.5 7"/>
<path class="k28" d="M563.7 548.6l6.5 6.7 6.5 6.5"/>
<path class="k29" d="M576.7 561.8l6.5 6.3 6.5 6.2"/>
<path class="k30" d="M589.7 574.3l6.5 6.1"/>
<path class="k31" d="M596.2 580.4l6.4 5.9 6.5 5.8"/>
<path class="k32" d="M609.1 592.1l6.5 5.4 6.5 5.2 6.5 4.8"/>
<path class="k33" d="M628.6 607.5l6.5 4.6 6.5 4.4"/>
<path class="k34" d="M641.6 616.5l6.5 4.3 6.5 4.1 6.5 4"/>
<path class="k35" d="M661.1 628.9l6.5 3.8 6.5 3.7 6.5 3.6"/>
<path class="k36" d="M680.6 640l6.4 3.3 6.5 3.2 6.5 3.1"/>
<path class="k37" d="M700 649.6l6.5 2.9 6.5 2.7 6.5 2.8 6.5 2.6"/>
<path class="k38" d="M726 660.6l6.5 2.6 6.5 2.4 6.5 2.4 6.5 2.3 6.5 2.3"/>
<path class="k39" d="M758.5 672.6l6.5 2.2 6.5 2 6.4 2 6.5 2 6.5 1.8 6.5 1.8"/>
<path class="k40" d="M797.4 684.4l6.5 1.7 6.5 1.8 6.5 1.9 6.5 1.8 6.5 1.8 6.5 1.8 6.5 1.6"/>
<path class="k41" d="M842.9 696.8l6.5 1.5 6.5 1.3 6.4 1.1 6.5 0.9 6.5 0.5 6.5 0.3 6.5 0.1 6.5 0 6.5 0.1 6.5 0.1 6.5 0 6.5 0.1 6.5 0.1 6.5 0.1 6.5 0 6.5 0.1 6.4 0.1 6.5 0.1 6.5 0 6.5 0.1 6.5 0.1 6.5 0.1 6.5 0 6.5 0.1 6.5 0.1 6.5 0.1 6.5 0 6.5 0.1 6.5 0.1 6.4 0.1 6.5 0 6.5 0.1 6.5 0.1 6.5 0.1 6.5 0 6.5 0.1 6.5 0.1 6.5 0.1"/>
<path class="k1" d="M117.6 411l4.6-6.6M377.3 413.1l4.6-116.9M383.8 418.4l4.6-115.9"/>
<path class="k2" d="M124.1 397.5l4.6-10M357.8 397.9l4.6-117.1M364.3 402.9l4.6-117.2M370.8 408l4.6-117.2"/>
<path class="k3" d="M130.6 384.6l4.6-12.9M344.9 387.9l4.5-115.9M351.4 392.9l4.5-116.6"/>
<path class="k4" d="M137.1 372.6l4.6-15.6M331.9 377.8l4.5-113.6M338.4 382.9l4.5-115"/>
<path class="k5" d="M143.6 361.5l4.6-18M318.9 367.3l4.6-109.9M325.4 372.6l4.6-112"/>
<path class="k6" d="M150.1 351.5l4.6-20.3M305.9 356.6l4.6-105.2M312.4 361.9l4.6-107.6"/>
<path class="k7" d="M156.6 342.9l4.5-22.8M286.4 341.3l4.6-98.6M292.9 346.3l4.6-100.9M299.4 351.4l4.6-103.1"/>
<path class="k8" d="M163.1 335.8l4.5-25.5M169.6 330l4.5-28M273.4 332.3l4.6-93.1M279.9 336.7l4.6-96.1"/>
<path class="k9" d="M176.1 324.4l4.5-29.6M182.5 319.1l4.6-30.9M254 320.9l4.5-80.8M260.5 324.6l4.5-85.4M267 328.3l4.5-89.5"/>
<path class="k10" d="M189 314.4l4.6-32.7M195.5 310.3l4.6-35.2M202 307.2l4.6-38.6M228 307.4l4.6-58.8M234.5 310.1l4.6-64.8M241 313.4l4.5-70.2M247.5 317.1l4.5-75.6"/>
<path class="k11" d="M208.5 305.2l4.6-42.5M215 304.7l4.6-47.1M221.5 305.5l4.6-52.6"/>
<path class="k0" d="M390.3 423.8l4.6-114.1M396.8 429.3l4.6-111.8"/>
<path class="k16" d="M403.3 435l4.6-109.4M409.8 440.9l4.6-107.1"/>
<path class="k17" d="M416.3 447.2l4.6-105.3M422.8 453.9l4.5-103.8"/>
<path class="k18" d="M429.3 460.7l4.5-102.1"/>
<path class="k19" d="M435.8 467.7l4.5-100.4M442.3 474.7l4.5-98.5"/>
<path class="k20" d="M448.7 481.6l4.6-96.1M455.2 488.3l4.6-93.2"/>
<path class="k21" d="M461.7 494.8l4.6-89.7"/>
<path class="k22" d="M468.2 501.3l4.6-86M474.7 507.7l4.6-82"/>
<path class="k23" d="M481.2 514l4.6-77.5M487.7 520.2l4.6-72.8"/>
<path class="k24" d="M494.2 526.3l4.6-68.2M500.7 532.2l4.6-63.7"/>
<path class="k25" d="M507.2 538.2l4.5-59.2M513.7 544l4.5-54.6"/>
<path class="k26" d="M520.2 549.5l4.5-49.9M526.7 554.7l4.5-45.4"/>
<path class="k27" d="M533.1 559.3l4.6-41M539.6 563.6l4.6-37.1M546.1 567.6l4.6-33.3"/>
<path class="k28" d="M552.6 571.4l4.6-29.8M559.1 575.1l4.6-26.5M565.6 578.8l4.6-23.5"/>
<path class="k29" d="M572.1 582.6l4.6-20.8M578.6 586.6l4.6-18.5M585.1 590.8l4.6-16.5"/>
<path class="k30" d="M591.6 595l4.6-14.6M598.1 599.4l4.5-13.1"/>
<path class="k31" d="M604.6 603.8l4.5-11.7M611.1 608.2l4.5-10.7M617.6 612.5l4.5-9.8"/>
<path class="k32" d="M624 616.8l4.6-9.3M630.5 620.9l4.6-8.8M637 624.9l4.6-8.4"/>
<path class="k33" d="M643.5 628.6l4.6-7.8M650 632.2l4.6-7.3M656.5 635.5l4.6-6.6"/>
<path class="k34" d="M663 638.8l4.6-6.1M669.5 642l4.6-5.6M676 645.2l4.6-5.2M682.5 648.2l4.5-4.9"/>
<path class="k35" d="M689 651.2l4.5-4.7M695.5 654.2l4.5-4.6M702 657l4.5-4.5M708.4 659.8l4.6-4.6"/>
<path class="k36" d="M714.9 662.5l4.6-4.5M721.4 665.1l4.6-4.5M727.9 667.6l4.6-4.4M734.4 670.1l4.6-4.5"/>
<path class="k37" d="M740.9 672.5l4.6-4.5M747.4 674.8l4.6-4.5M753.9 677l4.6-4.4M760.4 679.1l4.6-4.3M766.9 681.2l4.6-4.4M773.4 683.3l4.5-4.5"/>
<path class="k38" d="M779.9 685.2l4.5-4.4M786.4 687.1l4.5-4.5M792.9 689l4.5-4.6M799.3 690.8l4.6-4.7M805.8 692.5l4.6-4.6M812.3 694.2l4.6-4.4"/>
<path class="k39" d="M818.8 695.9l4.6-4.3M825.3 697.4l4.6-4M831.8 698.8l4.6-3.6M838.3 700.1l4.6-3.3M844.8 701.4l4.6-3.1M851.3 702.7l4.6-3.1M857.8 704.2l4.5-3.5M864.3 705.9l4.5-4.3"/>
<path class="k40" d="M870.8 708l4.5-5.9M877.3 710.7l4.5-8.3M883.7 713.6l4.6-11.1M890.2 716.4l4.6-13.9M896.7 718.5l4.6-15.9"/>
<path class="k41" d="M903.2 719.9l4.6-17.2M909.7 721l4.6-18.3M916.2 722.1l4.6-19.3M922.7 723l4.6-20.1M929.2 723.9l4.6-20.9M935.7 724.7l4.6-21.7M942.2 725.3l4.6-22.2M948.7 725.8l4.5-22.6M955.2 726.2l4.5-22.9M961.7 726.5l4.5-23.2M968.2 726.5l4.5-23.1M974.6 726.6l4.6-23.1M981.1 726.7l4.6-23.1M987.6 726.8l4.6-23.2M994.1 726.8l4.6-23.1M1000.6 726.9l4.6-23.1M1007.1 727l4.6-23.1M1013.6 727.1l4.6-23.2M1020.1 727.1l4.6-23.1M1026.6 727.2l4.6-23.1M1033.1 727.3l4.5-23.1M1039.6 727.4l4.5-23.2M1046.1 727.4l4.5-23.1M1052.6 727.5l4.5-23.1M1059 727.6l4.6-23.1M1065.5 727.7l4.6-23.2M1072 727.7l4.6-23.1M1078.5 727.8l4.6-23.1M1085 727.9l4.6-23.1"/>
<path class="f" d="M118 411l13-26 13-24 13-18 13-13 13-11 13-9 13-5 13 1 12 4 13 7 13 8 13 7 13 9 13 10 13 11 13 11 13 10 13 10 13 10 13 10 13 11 13 11 13 12 13 14 13 14 13 13 13 13 13 13 13 12 13 12 13 12 13 9 13 9 13 7 13 8 13 8 13 8 13 9 13 9 13 8 13 7 13 7 13 6 13 6 13 6 13 5 13 6 13 4 13 5 13 4 13 4 13 4 13 4 13 3 13 3 13 2 13 3 13 4 13 6 13 5 13 2 13 2 13 2 13 1 13 0 13 1 13 0 13 0 13 0 13 0 13 0 13 1 13 0 13 0 6 0-5 23-6 0-13 0-13 0-13-1-13 0-13 0-13 0-13 0-13 0-13 0-13-1-13 0-13 0-13 0-13 0-13 0-13 0-13-1-13-1-13-3-13-3-13-3-13-3-13-4-13-5-13-6-13-6-13-6-13-6-13-7-13-7-13-7-13-9-13-8-13-10-13-11-13-12-12-13-13-13-13-14-13-15-13-17-13-17-13-17-13-18-13-21-13-20-13-15-13-7-13-5-13-5-13-8-13-8-13-9-13-9-13-5-13-5-13-5-13-9-13-15-13-13-13-12-13-10-13-10-13-9-13-9-13-5-13-2-13 2-13 4-13 12-13 15-13 18-13 21-13 25z"/>
<path class="k1" d="M117.6 411l6.5-13.5M377.3 413.1l6.5 5.3 6.5 5.4"/>
<path class="k2" d="M124.1 397.5l6.5-12.9M357.8 397.9l6.5 5 6.5 5.1 6.5 5.1"/>
<path class="k3" d="M130.6 384.6l6.5-12M344.9 387.9l6.5 5 6.4 5"/>
<path class="k4" d="M137.1 372.6l6.5-11.1M331.9 377.8l6.5 5.1 6.5 5"/>
<path class="k5" d="M143.6 361.5l6.5-10M318.9 367.3l6.5 5.3 6.5 5.2"/>
<path class="k6" d="M150.1 351.5l6.5-8.6M305.9 356.6l6.5 5.3 6.5 5.4"/>
<path class="k7" d="M156.6 342.9l6.5-7.1M286.4 341.3l6.5 5 6.5 5.1 6.5 5.2"/>
<path class="k8" d="M163.1 335.8l6.5-5.8 6.5-5.6M273.4 332.3l6.5 4.4 6.5 4.6"/>
<path class="k9" d="M176.1 324.4l6.4-5.3 6.5-4.7M254 320.9l6.5 3.7 6.5 3.7 6.4 4"/>
<path class="k10" d="M189 314.4l6.5-4.1 6.5-3.1 6.5-2M228 307.4l6.5 2.7 6.5 3.3 6.5 3.7 6.5 3.8"/>
<path class="k11" d="M208.5 305.2l6.5-0.5 6.5 0.8 6.5 1.9"/>
<path class="k0" d="M390.3 423.8l6.5 5.5 6.5 5.7"/>
<path class="k16" d="M403.3 435l6.5 5.9 6.5 6.3"/>
<path class="k17" d="M416.3 447.2l6.5 6.7 6.5 6.8"/>
<path class="k18" d="M429.3 460.7l6.5 7"/>
<path class="k19" d="M435.8 467.7l6.5 7 6.4 6.9"/>
<path class="k20" d="M448.7 481.6l6.5 6.7 6.5 6.5"/>
<path class="k21" d="M461.7 494.8l6.5 6.5"/>
<path class="k22" d="M468.2 501.3l6.5 6.4 6.5 6.3"/>
<path class="k23" d="M481.2 514l6.5 6.2 6.5 6.1"/>
<path class="k24" d="M494.2 526.3l6.5 5.9 6.5 6"/>
<path class="k25" d="M507.2 538.2l6.5 5.8 6.5 5.5"/>
<path class="k26" d="M520.2 549.5l6.5 5.2 6.4 4.6"/>
<path class="k27" d="M533.1 559.3l6.5 4.3 6.5 4 6.5 3.8"/>
<path class="k28" d="M552.6 571.4l6.5 3.7 6.5 3.7 6.5 3.8"/>
<path class="k29" d="M572.1 582.6l6.5 4 6.5 4.2 6.5 4.2"/>
<path class="k30" d="M591.6 595l6.5 4.4 6.5 4.4"/>
<path class="k31" d="M604.6 603.8l6.5 4.4 6.5 4.3 6.4 4.3"/>
<path class="k32" d="M624 616.8l6.5 4.1 6.5 4 6.5 3.7"/>
<path class="k33" d="M643.5 628.6l6.5 3.6 6.5 3.3 6.5 3.3"/>
<path class="k34" d="M663 638.8l6.5 3.2 6.5 3.2 6.5 3 6.5 3"/>
<path class="k35" d="M689 651.2l6.5 3 6.5 2.8 6.4 2.8 6.5 2.7"/>
<path class="k36" d="M714.9 662.5l6.5 2.6 6.5 2.5 6.5 2.5 6.5 2.4"/>
<path class="k37" d="M740.9 672.5l6.5 2.3 6.5 2.2 6.5 2.1 6.5 2.1 6.5 2.1 6.5 1.9"/>
<path class="k38" d="M779.9 685.2l6.5 1.9 6.5 1.9 6.4 1.8 6.5 1.7 6.5 1.7 6.5 1.7"/>
<path class="k39" d="M818.8 695.9l6.5 1.5 6.5 1.4 6.5 1.3 6.5 1.3 6.5 1.3 6.5 1.5 6.5 1.7 6.5 2.1"/>
<path class="k40" d="M870.8 708l6.5 2.7 6.4 2.9 6.5 2.8 6.5 2.1 6.5 1.4"/>
<path class="k41" d="M903.2 719.9l6.5 1.1 6.5 1.1 6.5 0.9 6.5 0.9 6.5 0.8 6.5 0.6 6.5 0.5 6.5 0.4 6.5 0.3 6.5 0 6.4 0.1 6.5 0.1 6.5 0.1 6.5 0 6.5 0.1 6.5 0.1 6.5 0.1 6.5 0 6.5 0.1 6.5 0.1 6.5 0.1 6.5 0 6.5 0.1 6.4 0.1 6.5 0.1 6.5 0 6.5 0.1 6.5 0.1"/>
<path class="k5" d="M113.1 387.9l4.6 23.1M340.3 387.5l4.6 0.4M346.8 389.9l4.6 3M353.3 392.2l4.5 5.7M359.8 394.5l4.5 8.4M366.3 397.2l4.5 10.8"/>
<path class="k6" d="M119.5 375.3l4.6 22.2M320.8 376.1l4.6-3.5M327.3 381.1l4.6-3.3M333.8 384.6l4.6-1.7"/>
<path class="k7" d="M126 363.4l4.6 21.2M314.3 368.5l4.6-1.2"/>
<path class="k8" d="M132.5 352.4l4.6 20.2M301.3 354.1l4.6 2.5M307.8 360.6l4.6 1.3"/>
<path class="k9" d="M139 342.3l4.6 19.2M288.4 342.1l4.5 4.2M294.8 348l4.6 3.4"/>
<path class="k10" d="M145.5 332.9l4.6 18.6M275.4 331l4.5 5.7M281.9 336.4l4.5 4.9"/>
<path class="k11" d="M152 324.3l4.6 18.6M262.4 320.7l4.6 7.6M268.9 325.7l4.5 6.6"/>
<path class="k12" d="M158.5 316.6l4.6 19.2M165 309.1l4.6 20.9M242.9 306.8l4.6 10.3M249.4 311.6l4.6 9.3M255.9 316.1l4.6 8.5"/>
<path class="k13" d="M171.5 302.3l4.6 22.1M178 297.5l4.5 21.6M184.5 295.1l4.5 19.3M223.4 295.8l4.6 11.6M229.9 298.4l4.6 11.7M236.4 302l4.6 11.4"/>
<path class="k14" d="M191 293.3l4.5 17M197.5 292l4.5 15.2M203.9 291.4l4.6 13.8M210.4 291.9l4.6 12.8M216.9 293.4l4.6 12.1"/>
<path class="k4" d="M372.8 400.4l4.5 12.7M379.2 404.3l4.6 14.1M385.7 408.7l4.6 15.1"/>
<path class="k3" d="M392.2 413.4l4.6 15.9M398.7 417.9l4.6 17.1"/>
<path class="k2" d="M405.2 422.2l4.6 18.7M411.7 426.4l4.6 20.8M418.2 430.4l4.6 23.5"/>
<path class="k1" d="M424.7 433.9l4.6 26.8M431.2 436.6l4.6 31.1M437.7 439l4.6 35.7M444.2 441.5l4.5 40.1M450.7 443.8l4.5 44.5"/>
<path class="k0" d="M457.2 446.6l4.5 48.2M463.7 450.8l4.5 50.5"/>
<path class="k16" d="M470.1 457.6l4.6 50.1M476.6 465.9l4.6 48.1"/>
<path class="k17" d="M483.1 475l4.6 45.2"/>
<path class="k18" d="M489.6 486.3l4.6 40"/>
<path class="k19" d="M496.1 497.8l4.6 34.4"/>
<path class="k20" d="M502.6 507.5l4.6 30.7"/>
<path class="k21" d="M509.1 516.4l4.6 27.6"/>
<path class="k22" d="M515.6 525l4.6 24.5M522.1 533.4l4.6 21.3"/>
<path class="k23" d="M528.6 541.9l4.5 17.4"/>
<path class="k24" d="M535.1 550.5l4.5 13.1"/>
<path class="k25" d="M541.6 559.1l4.5 8.5M548.1 567.5l4.5 3.9"/>
<path class="k26" d="M554.5 575.5l4.6-0.4"/>
<path class="k27" d="M561 583.2l4.6-4.4M567.5 590.7l4.6-8.1"/>
<path class="k28" d="M574 597.9l4.6-11.3"/>
<path class="k29" d="M580.5 605l4.6-14.2M587 611.8l4.6-16.8"/>
<path class="k30" d="M593.5 618.3l4.6-18.9M600 624.6l4.6-20.8"/>
<path class="k31" d="M606.5 630.8l4.6-22.6M613 636.8l4.6-24.3"/>
<path class="k32" d="M619.5 642.7l4.5-25.9M626 648.4l4.5-27.5"/>
<path class="k33" d="M632.5 653.8l4.5-28.9M639 658.9l4.5-30.3"/>
<path class="k34" d="M645.4 663.6l4.6-31.4M651.9 668.1l4.6-32.6"/>
<path class="k35" d="M658.4 672.4l4.6-33.6M664.9 676.6l4.6-34.6M671.4 680.6l4.6-35.4"/>
<path class="k36" d="M677.9 684.4l4.6-36.2M684.4 688.2l4.6-37M690.9 691.8l4.6-37.6"/>
<path class="k37" d="M697.4 695.3l4.6-38.3M703.9 698.7l4.5-38.9M710.4 701.9l4.5-39.4M716.9 705.1l4.5-40"/>
<path class="k38" d="M723.4 708.3l4.5-40.7M729.8 711.4l4.6-41.3M736.3 714.5l4.6-42M742.8 717.5l4.6-42.7"/>
<path class="k39" d="M749.3 720.4l4.6-43.4M755.8 723.3l4.6-44.2M762.3 726l4.6-44.8M768.8 728.5l4.6-45.2"/>
<path class="k40" d="M775.3 730.8l4.6-45.6M781.8 732.9l4.6-45.8M788.3 734.8l4.6-45.8M794.8 736.4l4.5-45.6M801.3 738.1l4.5-45.6M807.8 739.7l4.5-45.5M814.3 741.3l4.5-45.4"/>
<path class="k41" d="M820.7 742.8l4.6-45.4M827.2 744.2l4.6-45.4M833.7 745.5l4.6-45.4M840.2 746.5l4.6-45.1M846.7 747.4l4.6-44.7M853.2 748.1l4.6-43.9M859.7 748.4l4.6-42.5M866.2 748.5l4.6-40.5M872.7 748.6l4.6-37.9M879.2 748.7l4.5-35.1M885.7 748.8l4.5-32.4M892.2 748.8l4.5-30.3M898.7 748.9l4.5-29M905.1 749l4.6-28M911.6 749.1l4.6-27M918.1 749.1l4.6-26.1M924.6 749.2l4.6-25.3M931.1 749.3l4.6-24.6M937.6 749.4l4.6-24.1M944.1 749.4l4.6-23.6M950.6 749.5l4.6-23.3M957.1 749.6l4.6-23.1M963.6 749.7l4.6-23.2M970.1 749.7l4.5-23.1M976.6 749.8l4.5-23.1M983.1 749.9l4.5-23.1M989.6 750l4.5-23.2M996 750l4.6-23.1M1002.5 750.1l4.6-23.1M1009 750.2l4.6-23.1M1015.5 750.3l4.6-23.2M1022 750.3l4.6-23.1M1028.5 750.4l4.6-23.1M1035 750.5l4.6-23.1M1041.5 750.6l4.6-23.2M1048 750.6l4.6-23.1M1054.5 750.7l4.5-23.1M1061 750.8l4.5-23.1M1067.5 750.9l4.5-23.2M1074 750.9l4.5-23.1M1080.4 751l4.6-23.1"/>
<path class="f" d="M113 388l13-25 13-21 13-18 13-15 13-12 13-4 13-2 13 2 13 5 13 9 13 9 13 10 13 10 13 12 13 13 13 15 13 9 13 5 13 5 13 5 13 9 13 9 13 8 13 8 13 5 13 5 13 7 13 15 13 20 13 21 13 18 13 17 13 17 13 17 13 15 13 14 13 13 12 13 13 12 13 11 13 10 13 8 13 9 13 7 13 7 13 7 13 6 13 6 13 6 13 6 13 5 13 4 13 3 13 3 13 3 13 3 13 1 13 1 13 0 13 0 13 0 13 0 13 0 13 0 13 1 13 0 13 0 13 0 13 0 13 0 13 0 13 1 13 0 13 0 6 0-4 23-7 0-13-1-13-1-13-2-13-2-13-2-13-2-13-2-12-3-13-2-13-3-13-4-13-5-13-6-13-7-13-9-13-13-13-14-13-12-13-14-13-21-13-20-13-19-13-19-13-21-13-20-13-18-13-17-13-16-13-15-13-16-13-11-13-7-13-4-13-1-13 5-13 7-13 8-13 12-13 14-13 18-13 19-13 16-13 12-13 12-13 12-13 13-13 17-13 20-13 11-13 3-13 1-13-5-13-11-13-12-13-13-13-14-13-17-13-17-13-16-13-17-13-17-13-14-13-13-13-11-13-9-13-6-13-5-13-3-13 1-13 4-13 13-13 15-13 16-13 18z"/>
<path class="k5" d="M113 387.9l6.5-12.6M340.3 387.5l6.5 2.4 6.5 2.3 6.5 2.3 6.5 2.7 6.5 3.2"/>
<path class="k6" d="M119.5 375.3l6.5-11.9M320.8 376.1l6.5 5 6.5 3.5 6.5 2.9"/>
<path class="k7" d="M126 363.4l6.5-11M314.3 368.5l6.5 7.6"/>
<path class="k8" d="M132.5 352.4l6.5-10.1M301.3 354.1l6.5 6.5 6.5 7.9"/>
<path class="k9" d="M139 342.3l6.5-9.4M288.4 342.1l6.4 5.9 6.5 6.1"/>
<path class="k10" d="M145.5 332.9l6.5-8.6M275.4 331l6.5 5.4 6.5 5.7"/>
<path class="k11" d="M152 324.3l6.5-7.7M262.4 320.7l6.5 5 6.5 5.3"/>
<path class="k12" d="M158.5 316.6l6.5-7.5 6.5-6.8M242.9 306.8l6.5 4.8 6.5 4.5 6.5 4.6"/>
<path class="k13" d="M171.5 302.3l6.5-4.8 6.5-2.4 6.5-1.8M223.4 295.8l6.5 2.6 6.5 3.6 6.5 4.8"/>
<path class="k14" d="M191 293.3l6.5-1.3 6.4-0.6 6.5 0.5 6.5 1.5 6.5 2.4"/>
<path class="k4" d="M372.8 400.4l6.4 3.9 6.5 4.4 6.5 4.7"/>
<path class="k3" d="M392.2 413.4l6.5 4.5 6.5 4.3"/>
<path class="k2" d="M405.2 422.2l6.5 4.2 6.5 4 6.5 3.5"/>
<path class="k1" d="M424.7 433.9l6.5 2.7 6.5 2.4 6.5 2.5 6.5 2.3 6.5 2.8"/>
<path class="k0" d="M457.2 446.6l6.5 4.2 6.4 6.8"/>
<path class="k16" d="M470.1 457.6l6.5 8.3 6.5 9.1"/>
<path class="k17" d="M483.1 475l6.5 11.3"/>
<path class="k18" d="M489.6 486.3l6.5 11.5"/>
<path class="k19" d="M496.1 497.8l6.5 9.7"/>
<path class="k20" d="M502.6 507.5l6.5 8.9"/>
<path class="k21" d="M509.1 516.4l6.5 8.6"/>
<path class="k22" d="M515.6 525l6.5 8.4 6.5 8.5"/>
<path class="k23" d="M528.6 541.9l6.5 8.6"/>
<path class="k24" d="M535.1 550.5l6.5 8.6"/>
<path class="k25" d="M541.6 559.1l6.5 8.4 6.4 8"/>
<path class="k26" d="M554.5 575.5l6.5 7.7"/>
<path class="k27" d="M561 583.2l6.5 7.5 6.5 7.2"/>
<path class="k28" d="M574 597.9l6.5 7.1"/>
<path class="k29" d="M580.5 605l6.5 6.8 6.5 6.5"/>
<path class="k30" d="M593.5 618.3l6.5 6.3 6.5 6.2"/>
<path class="k31" d="M606.5 630.8l6.5 6 6.5 5.9"/>
<path class="k32" d="M619.5 642.7l6.5 5.7 6.5 5.4"/>
<path class="k33" d="M632.5 653.8l6.5 5.1 6.4 4.7"/>
<path class="k34" d="M645.4 663.6l6.5 4.5 6.5 4.3"/>
<path class="k35" d="M658.4 672.4l6.5 4.2 6.5 4 6.5 3.8"/>
<path class="k36" d="M677.9 684.4l6.5 3.8 6.5 3.6 6.5 3.5"/>
<path class="k37" d="M697.4 695.3l6.5 3.4 6.5 3.2 6.5 3.2 6.5 3.2"/>
<path class="k38" d="M723.4 708.3l6.4 3.1 6.5 3.1 6.5 3 6.5 2.9"/>
<path class="k39" d="M749.3 720.4l6.5 2.9 6.5 2.7 6.5 2.5 6.5 2.3"/>
<path class="k40" d="M775.3 730.8l6.5 2.1 6.5 1.9 6.5 1.6 6.5 1.7 6.5 1.6 6.5 1.6 6.4 1.5"/>
<path class="k41" d="M820.7 742.8l6.5 1.4 6.5 1.3 6.5 1 6.5 0.9 6.5 0.7 6.5 0.3 6.5 0.1 6.5 0.1 6.5 0.1 6.5 0.1 6.5 0 6.5 0.1 6.4 0.1 6.5 0.1 6.5 0 6.5 0.1 6.5 0.1 6.5 0.1 6.5 0 6.5 0.1 6.5 0.1 6.5 0.1 6.5 0 6.5 0.1 6.5 0.1 6.5 0.1 6.4 0 6.5 0.1 6.5 0.1 6.5 0.1 6.5 0 6.5 0.1 6.5 0.1 6.5 0.1 6.5 0 6.5 0.1 6.5 0.1 6.5 0.1 6.5 0 6.4 0.1"/>
<path class="k19" d="M108.5 511.8l4.5-123.9M283.8 514.6l4.6-172.5M543.5 518.4l4.6 49.1M725.3 523.7l4.5 187.7"/>
<path class="k18" d="M115 502.4l4.5-127.1M277.3 506.4l4.6-170M550 509l4.5 66.5M712.3 507.3l4.6 197.8M718.8 515.4l4.6 192.9"/>
<path class="k17" d="M121.5 493.6l4.5-130.2M264.3 491.6l4.6-165.9M270.8 498.7l4.6-167.7M556.5 499.7l4.5 83.5M705.8 499.4l4.6 202.5"/>
<path class="k16" d="M128 485.3l4.5-132.9M134.5 477.5l4.5-135.2M251.3 479.4l4.6-163.3M257.8 485.3l4.6-164.6M563 491.3l4.5 99.4M569.5 483.8l4.5 114.1M692.8 484l4.6 211.3M699.3 491.8l4.6 206.9"/>
<path class="k0" d="M140.9 470.2l4.6-137.3M238.3 468.4l4.6-161.6M244.8 473.7l4.6-162.1M575.9 476.8l4.6 128.2M582.4 470.4l4.6 141.4M686.3 476l4.6 215.8"/>
<path class="k1" d="M147.4 462.7l4.6-138.4M153.9 455.7l4.6-139.1M218.9 456.1l4.5-160.3M225.3 459.5l4.6-161.1M231.8 463.6l4.6-161.6M588.9 465l4.6 153.3M595.4 460.8l4.6 163.8M673.3 461.6l4.6 222.8M679.8 468.3l4.6 219.9"/>
<path class="k2" d="M160.4 450.4l4.6-141.3M166.9 447.6l4.6-145.3M173.4 445.8l4.6-148.3M179.9 444.7l4.6-149.6M186.4 444.6l4.6-151.3M192.9 445.7l4.6-153.7M199.4 447.6l4.5-156.2M205.9 450.2l4.5-158.3M212.4 453.1l4.5-159.7M601.9 456.7l4.6 174.1M608.4 452.9l4.6 183.9M614.9 449.5l4.6 193.2M647.4 447.4l4.5 220.7M653.9 450l4.5 222.4M660.4 453.1l4.5 223.5M666.8 456.6l4.6 224"/>
<path class="k20" d="M290.3 523l4.5-175M296.8 531.6l4.5-177.5M537 527.9l4.6 31.2M731.8 532.3l4.5 182.2"/>
<path class="k21" d="M303.3 540l4.5-179.4M524 543.5l4.6-1.6M530.5 536.5l4.6 14M738.3 541.2l4.5 176.3"/>
<path class="k22" d="M309.8 548.2l4.5-179.7M511 555.5l4.6-30.5M517.5 549.7l4.6-16.3M744.8 550.3l4.5 170.1M751.2 560.1l4.6 163.2"/>
<path class="k23" d="M316.2 556.2l4.6-180.1M322.7 564.5l4.6-183.4M498 567.6l4.6-60.1M504.5 561.5l4.6-45.1M757.7 570.1l4.6 155.9"/>
<path class="k24" d="M329.2 573l4.6-188.4M485.1 579.7l4.5-93.4M491.5 573.6l4.6-75.8M764.2 580.4l4.6 148.1"/>
<path class="k25" d="M335.7 581.4l4.6-193.9M342.2 589.5l4.6-199.6M478.6 586l4.5-111M770.7 590.6l4.6 140.2"/>
<path class="k26" d="M348.7 597.2l4.6-205M465.6 600.7l4.5-143.1M472.1 592.8l4.5-126.9M777.2 600.6l4.6 132.3"/>
<path class="k27" d="M355.2 604.2l4.6-209.7M361.7 610.5l4.6-213.3M459.1 610.3l4.6-159.5M783.7 610.3l4.6 124.5"/>
<path class="k28" d="M368.2 616.7l4.6-216.3M374.7 623.2l4.5-218.9M452.6 620.4l4.6-173.8M790.2 619.9l4.6 116.5"/>
<path class="k29" d="M381.2 629.4l4.5-220.7M387.7 635.1l4.5-221.7M446.1 629.7l4.6-185.9M796.7 629.4l4.6 108.7M803.2 639.1l4.6 100.6"/>
<path class="k30" d="M394.2 639.8l4.5-221.9M400.6 643.3l4.6-221.1M407.1 645.2l4.6-218.8M413.6 645.3l4.6-214.9M420.1 644.5l4.6-210.6M426.6 643l4.6-206.4M433.1 641.1l4.6-202.1M439.6 637l4.6-195.5M809.7 649.3l4.6 92"/>
<path class="k3" d="M621.4 446.9l4.6 201.5M627.9 445.2l4.6 208.6M634.4 444.7l4.6 214.2M640.9 445.5l4.5 218.1"/>
<path class="k31" d="M816.2 660.7l4.5 82.1"/>
<path class="k32" d="M822.7 669.8l4.5 74.4"/>
<path class="k33" d="M829.2 677.1l4.5 68.4M835.7 683.5l4.5 63"/>
<path class="k34" d="M842.1 689.6l4.6 57.8M848.6 695.8l4.6 52.3"/>
<path class="k35" d="M855.1 702.6l4.6 45.8"/>
<path class="k36" d="M861.6 709.8l4.6 38.7M868.1 716.7l4.6 31.9"/>
<path class="k37" d="M874.6 722.8l4.6 25.9M881.1 727.7l4.6 21.1"/>
<path class="k38" d="M887.6 731.9l4.6 16.9M894.1 735.6l4.6 13.3M900.6 739l4.5 10M907.1 742l4.5 7.1"/>
<path class="k39" d="M913.6 744.8l4.5 4.3M920.1 747.4l4.5 1.8M926.5 749.7l4.6-0.4M933 751.8l4.6-2.4M939.5 753.6l4.6-4.2"/>
<path class="k40" d="M946 755.3l4.6-5.8M952.5 756.8l4.6-7.2M959 758.2l4.6-8.5M965.5 759.4l4.6-9.7M972 760.5l4.6-10.7M978.5 761.6l4.6-11.7M985 762.7l4.6-12.7M991.5 763.7l4.5-13.7M998 764.8l4.5-14.7M1004.5 765.9l4.5-15.7"/>
<path class="k41" d="M1011 767l4.5-16.7M1017.4 768l4.6-17.7M1023.9 769l4.6-18.6M1030.4 769.8l4.6-19.3M1036.9 770.7l4.6-20.1M1043.4 771.5l4.6-20.9M1049.9 772.3l4.6-21.6M1056.4 773l4.6-22.2M1062.9 773.6l4.6-22.7M1069.4 774l4.6-23.1M1075.9 774.1l4.5-23.1"/>
<path class="f" d="M108 512l13-18 13-16 13-15 13-13 13-4 13-1 13 3 13 5 13 6 13 9 13 11 13 13 13 14 13 17 13 17 13 16 13 17 13 17 13 14 13 13 13 12 13 11 13 5 13-1 13-3 13-11 13-20 13-17 13-13 13-12 13-12 13-12 13-16 13-19 13-18 13-14 13-12 13-8 13-7 13-5 13 1 13 4 13 7 13 11 13 16 13 15 13 16 13 17 13 18 13 20 13 21 13 19 13 19 13 20 13 21 13 14 13 12 13 14 13 13 13 9 13 7 13 6 13 5 13 4 13 3 13 2 12 3 13 2 13 2 13 2 13 2 13 2 13 1 13 1 7 0-5 23-6 0-13 0-13 0-13 0-13 0-13-1-13 0-13 0-13 0-13 0-13 0-13 0-13-1-13 0-13 0-13-1-13-4-13-5-13-5-13-4-13-4-13-3-13-4-13-4-13-5-13-5-13-5-13-5-13-7-13-6-13-8-13-9-13-9-13-9-13-9-13-10-13-10-13-13-13-15-13-27-13-31-13-25-13-19-13-20-13-23-13-23-13-14-12-13-13-12-13-10-13-8-13-6-13-3-13-3-13-3-13-5-13 0-13 3-13 1-13 0-13 1-13 1-13 1-13 2-13 1-13 5-13 7-13 9-13 10-13 10-13 14-13 15-13 18-13 20-13 21z"/>
<path class="k19" d="M108.5 511.8l6.5-9.4M283.8 514.6l6.5 8.4M543.5 518.4l6.5-9.4M725.3 523.7l6.5 8.6"/>
<path class="k18" d="M115 502.4l6.5-8.8M277.3 506.4l6.5 8.2M550 509l6.5-9.3M712.3 507.3l6.5 8.1 6.5 8.3"/>
<path class="k17" d="M121.5 493.6l6.5-8.3M264.3 491.6l6.5 7.1 6.5 7.7M556.5 499.7l6.5-8.4M705.8 499.4l6.5 7.9"/>
<path class="k16" d="M128 485.3l6.5-7.8 6.4-7.3M251.3 479.4l6.5 5.9 6.5 6.3M563 491.3l6.5-7.5 6.4-7M692.8 484l6.5 7.8 6.5 7.6"/>
<path class="k0" d="M140.9 470.2l6.5-7.5M238.3 468.4l6.5 5.3 6.5 5.7M575.9 476.8l6.5-6.4 6.5-5.4M686.3 476l6.5 8"/>
<path class="k1" d="M147.4 462.7l6.5-7 6.5-5.3M218.9 456.1l6.4 3.4 6.5 4.1 6.5 4.8M588.9 465l6.5-4.2 6.5-4.1M673.3 461.6l6.5 6.7 6.5 7.7"/>
<path class="k2" d="M160.4 450.4l6.5-2.8 6.5-1.8 6.5-1.1 6.5-0.1 6.5 1.1 6.5 1.9 6.5 2.6 6.5 2.9 6.5 3M601.9 456.7l6.5-3.8 6.5-3.4 6.5-2.6M647.4 447.4l6.5 2.6 6.5 3.1 6.4 3.5 6.5 5"/>
<path class="k20" d="M290.3 523l6.5 8.6 6.5 8.4M537 527.9l6.5-9.5M731.8 532.3l6.5 8.9"/>
<path class="k21" d="M303.3 540l6.5 8.2M524 543.5l6.5-7 6.5-8.6M738.3 541.2l6.5 9.1"/>
<path class="k22" d="M309.8 548.2l6.4 8M511 555.5l6.5-5.8 6.5-6.2M744.8 550.3l6.4 9.8 6.5 10"/>
<path class="k23" d="M316.2 556.2l6.5 8.3 6.5 8.5M498 567.6l6.5-6.1 6.5-6M757.7 570.1l6.5 10.3"/>
<path class="k24" d="M329.2 573l6.5 8.4M485.1 579.7l6.4-6.1 6.5-6M764.2 580.4l6.5 10.2"/>
<path class="k25" d="M335.7 581.4l6.5 8.1 6.5 7.7M478.6 586l6.5-6.3M770.7 590.6l6.5 10"/>
<path class="k26" d="M348.7 597.2l6.5 7M465.6 600.7l6.5-7.9 6.5-6.8M777.2 600.6l6.5 9.7"/>
<path class="k27" d="M355.2 604.2l6.5 6.3 6.5 6.2M459.1 610.3l6.5-9.6M783.7 610.3l6.5 9.6"/>
<path class="k28" d="M368.2 616.7l6.5 6.5 6.5 6.2M452.6 620.4l6.5-10.1M790.2 619.9l6.5 9.5"/>
<path class="k29" d="M381.2 629.4l6.5 5.7 6.5 4.7M446.1 629.7l6.5-9.3M796.7 629.4l6.5 9.7 6.5 10.2"/>
<path class="k30" d="M394.2 639.8l6.4 3.5 6.5 1.9 6.5 0.1 6.5-0.8 6.5-1.5 6.5-1.9 6.5-4.1 6.5-7.3M809.7 649.3l6.5 11.4"/>
<path class="k3" d="M621.4 446.9l6.5-1.7 6.5-0.5 6.5 0.8 6.5 1.9"/>
<path class="k31" d="M816.2 660.7l6.5 9.1"/>
<path class="k32" d="M822.7 669.8l6.5 7.3"/>
<path class="k33" d="M829.2 677.1l6.5 6.4 6.4 6.1"/>
<path class="k34" d="M842.1 689.6l6.5 6.2 6.5 6.8"/>
<path class="k35" d="M855.1 702.6l6.5 7.2"/>
<path class="k36" d="M861.6 709.8l6.5 6.9 6.5 6.1"/>
<path class="k37" d="M874.6 722.8l6.5 4.9 6.5 4.2"/>
<path class="k38" d="M887.6 731.9l6.5 3.7 6.5 3.4 6.5 3 6.5 2.8"/>
<path class="k39" d="M913.6 744.8l6.5 2.6 6.4 2.3 6.5 2.1 6.5 1.8 6.5 1.7"/>
<path class="k40" d="M946 755.3l6.5 1.5 6.5 1.4 6.5 1.2 6.5 1.1 6.5 1.1 6.5 1.1 6.5 1 6.5 1.1 6.5 1.1 6.5 1.1"/>
<path class="k41" d="M1011 767l6.4 1 6.5 1 6.5 0.8 6.5 0.9 6.5 0.8 6.5 0.8 6.5 0.7 6.5 0.6 6.5 0.4 6.5 0.1"/>
<path class="k18" d="M103.9 530l4.6-18.2M519.4 533.9l4.6 9.6"/>
<path class="k17" d="M110.4 519.1l4.6-16.7M506.5 514l4.5 41.5M512.9 524.1l4.6 25.6"/>
<path class="k16" d="M116.9 508.7l4.6-15.1M123.4 498.6l4.6-13.3M500 503.3l4.5 58.2"/>
<path class="k0" d="M129.9 489l4.6-11.5M493.5 491.2l4.5 76.4"/>
<path class="k1" d="M136.4 479.9l4.5-9.7"/>
<path class="k2" d="M142.9 471.2l4.5-8.5M487 477.2l4.5 96.4"/>
<path class="k3" d="M149.4 463.1l4.5-7.4M155.9 455.6l4.5-5.2M474 461l4.6 125M480.5 468.2l4.6 111.5"/>
<path class="k4" d="M162.3 448.6l4.6-1M461 447.3l4.6 153.4M467.5 454.1l4.6 138.7"/>
<path class="k5" d="M168.8 442.3l4.6 3.5M175.3 436.7l4.6 8M181.8 431.5l4.6 13.1M448 434.9l4.6 185.5M454.5 440.9l4.6 169.4"/>
<path class="k6" d="M188.3 426.5l4.6 19.2M194.8 421.6l4.6 26M435 423.9l4.6 213.1M441.5 429.2l4.6 200.5"/>
<path class="k7" d="M201.3 417l4.6 33.2M207.8 412.8l4.6 40.3M422 414.9l4.6 228.1M428.5 419.2l4.6 221.9"/>
<path class="k8" d="M214.3 409.1l4.6 47M220.8 405.9l4.5 53.6M227.3 403.3l4.5 60.3M233.8 401.4l4.5 67M240.3 400.3l4.5 73.4M246.7 399.5l4.6 79.9M253.2 398.9l4.6 86.4M383.1 400.2l4.6 234.9M389.6 401.5l4.6 238.3M396.1 403.2l4.5 240.1M402.6 405.4l4.5 239.8M409.1 408l4.5 237.3M415.6 411.1l4.5 233.4"/>
<path class="k9" d="M259.7 398.3l4.6 93.3M266.2 397.8l4.6 100.9M272.7 397.2l4.6 109.2M279.2 396.7l4.6 117.9M285.7 396.3l4.6 126.7M292.2 395.8l4.6 135.8M298.7 395.4l4.6 144.6M305.2 395.1l4.6 153.1M311.7 394.7l4.5 161.5M318.2 394.3l4.5 170.2M324.7 393.6l4.5 179.4M331.2 392.3l4.5 189.1M337.6 390.9l4.6 198.6M344.1 390.2l4.6 207M350.6 390.8l4.6 213.4M357.1 393l4.6 217.5M363.6 395.7l4.6 221M370.1 397.7l4.6 225.5M376.6 399.1l4.6 230.3"/>
<path class="k19" d="M525.9 543.7l4.6-7.2"/>
<path class="k20" d="M532.4 553l4.6-25.1"/>
<path class="k21" d="M538.9 564.1l4.6-45.7"/>
<path class="k22" d="M545.4 578l4.6-69"/>
<path class="k24" d="M551.9 593.6l4.6-93.9"/>
<path class="k25" d="M558.4 609.3l4.6-118"/>
<path class="k26" d="M564.9 623.9l4.6-140.1"/>
<path class="k27" d="M571.4 635.7l4.5-158.9"/>
<path class="k28" d="M577.9 644.1l4.5-173.7"/>
<path class="k29" d="M584.4 651.4l4.5-186.4M590.9 657.9l4.5-197.1"/>
<path class="k30" d="M597.3 663.8l4.6-207.1M603.8 669.2l4.6-216.3"/>
<path class="k31" d="M610.3 674.2l4.6-224.7M616.8 679l4.6-232.1M623.3 683.6l4.6-238.4"/>
<path class="k32" d="M629.8 688.2l4.6-243.5M636.3 692.9l4.6-247.4"/>
<path class="k33" d="M642.8 697.6l4.6-250.2M649.3 702.3l4.6-252.3M655.8 706.9l4.6-253.8"/>
<path class="k34" d="M662.3 711.3l4.5-254.7M668.8 715.6l4.5-254"/>
<path class="k35" d="M675.3 719.8l4.5-251.5M681.8 723.8l4.5-247.8M688.2 727.5l4.6-243.5"/>
<path class="k36" d="M694.7 731.1l4.6-239.3M701.2 734.4l4.6-235M707.7 737.6l4.6-230.3M714.2 740.6l4.6-225.2"/>
<path class="k37" d="M720.7 743.4l4.6-219.7M727.2 746.2l4.6-213.9M733.7 748.8l4.6-207.6M740.2 751.4l4.6-201.1"/>
<path class="k38" d="M746.7 753.8l4.5-193.7M753.2 756.2l4.5-186.1M759.7 758.5l4.5-178.1M766.2 760.7l4.5-170.1M772.6 762.8l4.6-162.2M779.1 764.8l4.6-154.5"/>
<path class="k39" d="M785.6 766.7l4.6-146.8M792.1 768.6l4.6-139.2M798.6 770.4l4.6-131.3M805.1 772.2l4.6-122.9M811.6 774.1l4.6-113.4M818.1 775.9l4.6-106.1"/>
<path class="k40" d="M824.6 777.9l4.6-100.8M831.1 780.1l4.6-96.6M837.6 782.6l4.5-93M844.1 785.2l4.5-89.4M850.6 787.8l4.5-85.2"/>
<path class="k41" d="M857.1 790.3l4.5-80.5M863.5 792.4l4.6-75.7M870 794l4.6-71.2M876.5 794.9l4.6-67.2M883 795.1l4.6-63.2M889.5 795.2l4.6-59.6M896 795.2l4.6-56.2M902.5 795.3l4.6-53.3M909 795.4l4.6-50.6M915.5 795.5l4.6-48.1M922 795.5l4.5-45.8M928.5 795.6l4.5-43.8M935 795.7l4.5-42.1M941.5 795.8l4.5-40.5M948 795.8l4.5-39M954.4 795.9l4.6-37.7M960.9 796l4.6-36.6M967.4 796l4.6-35.5M973.9 796.1l4.6-34.5M980.4 796.2l4.6-33.5M986.9 796.3l4.6-32.6M993.4 796.3l4.6-31.5M999.9 796.4l4.6-30.5M1006.4 796.5l4.6-29.5M1012.9 796.6l4.5-28.6M1019.4 796.6l4.5-27.6M1025.9 796.7l4.5-26.9M1032.4 796.8l4.5-26.1M1038.8 796.9l4.6-25.4M1045.3 796.9l4.6-24.6M1051.8 797l4.6-24M1058.3 797.1l4.6-23.5M1064.8 797.2l4.6-23.2M1071.3 797.2l4.6-23.1"/>
<path class="f" d="M104 530l13-21 13-20 13-18 13-15 13-14 13-10 13-10 13-9 13-7 13-5 13-1 13-2 13-1 13-1 13-1 13 0 13-1 13-3 13 0 13 5 13 3 13 3 13 3 13 6 13 8 13 10 13 12 12 13 13 14 13 23 13 23 13 20 13 19 13 25 13 31 13 27 13 15 13 13 13 10 13 10 13 9 13 9 13 9 13 9 13 8 13 6 13 7 13 5 13 5 13 5 13 5 13 4 13 4 13 3 13 4 13 4 13 5 13 5 13 4 13 1 13 0 13 0 13 1 13 0 13 0 13 0 13 0 13 0 13 0 13 1 13 0 13 0 13 0 13 0 6 0-4 23-7 0-13 0-13-1-13-1-13 0-13-1-13-1-13-1-13-1-13-1-13-2-13-1-13-2-13-1-13-2-13-1-13-1-13-1-12-2-13-1-13-2-13-2-13-3-13-3-13-4-13-4-13-4-13-5-13-4-13-5-13-6-13-6-13-6-13-7-13-8-13-8-13-9-13-10-13-10-13-12-13-13-13-16-13-20-13-21-13-21-13-19-13-18-13-19-13-17-13-17-13-17-13-17-13-18-13-17-13-18-13-21-13-7-13-4-13 0-13 1-13 1-13 3-13 3-13 4-13 5-13 6-13 9-13 11-13 11-13 13-13 17-13 19-13 18-13 19-13 18z"/>
<path class="k18" d="M103.9 530l6.5-10.9M519.4 533.9l6.5 9.8"/>
<path class="k17" d="M110.4 519.1l6.5-10.4M506.5 514l6.4 10.1 6.5 9.8"/>
<path class="k16" d="M116.9 508.7l6.5-10.1 6.5-9.6M500 503.3l6.5 10.7"/>
<path class="k0" d="M129.9 489l6.5-9.1M493.5 491.2l6.5 12.1"/>
<path class="k1" d="M136.4 479.9l6.5-8.7"/>
<path class="k2" d="M142.9 471.2l6.5-8.1M487 477.2l6.5 14"/>
<path class="k3" d="M149.4 463.1l6.5-7.5 6.4-7M474 461l6.5 7.2 6.5 9"/>
<path class="k4" d="M162.3 448.6l6.5-6.3M461 447.3l6.5 6.8 6.5 6.9"/>
<path class="k5" d="M168.8 442.3l6.5-5.6 6.5-5.2 6.5-5M448 434.9l6.5 6 6.5 6.4"/>
<path class="k6" d="M188.3 426.5l6.5-4.9 6.5-4.6M435 423.9l6.5 5.3 6.5 5.7"/>
<path class="k7" d="M201.3 417l6.5-4.2 6.5-3.7M422 414.9l6.5 4.3 6.5 4.7"/>
<path class="k8" d="M214.3 409.1l6.5-3.2 6.5-2.6 6.5-1.9 6.5-1.1 6.4-0.8 6.5-0.6 6.5-0.6M383.1 400.2l6.5 1.3 6.5 1.7 6.5 2.2 6.5 2.6 6.5 3.1 6.4 3.8"/>
<path class="k9" d="M259.7 398.3l6.5-0.5 6.5-0.6 6.5-0.5 6.5-0.4 6.5-0.5 6.5-0.4 6.5-0.3 6.5-0.4 6.5-0.4 6.5-0.7 6.5-1.3 6.4-1.4 6.5-0.7 6.5 0.6 6.5 2.2 6.5 2.7 6.5 2 6.5 1.4 6.5 1.1"/>
<path class="k19" d="M525.9 543.7l6.5 9.3"/>
<path class="k20" d="M532.4 553l6.5 11.1"/>
<path class="k21" d="M538.9 564.1l6.5 13.9"/>
<path class="k22" d="M545.4 578l6.5 15.6"/>
<path class="k24" d="M551.9 593.6l6.5 15.7"/>
<path class="k25" d="M558.4 609.3l6.5 14.6"/>
<path class="k26" d="M564.9 623.9l6.5 11.8"/>
<path class="k27" d="M571.4 635.7l6.5 8.4"/>
<path class="k28" d="M577.9 644.1l6.5 7.3"/>
<path class="k29" d="M584.4 651.4l6.5 6.5 6.4 5.9"/>
<path class="k30" d="M597.3 663.8l6.5 5.4 6.5 5"/>
<path class="k31" d="M610.3 674.2l6.5 4.8 6.5 4.6 6.5 4.6"/>
<path class="k32" d="M629.8 688.2l6.5 4.7 6.5 4.7"/>
<path class="k33" d="M642.8 697.6l6.5 4.7 6.5 4.6 6.5 4.4"/>
<path class="k34" d="M662.3 711.3l6.5 4.3 6.5 4.2"/>
<path class="k35" d="M675.3 719.8l6.5 4 6.4 3.7 6.5 3.6"/>
<path class="k36" d="M694.7 731.1l6.5 3.3 6.5 3.2 6.5 3 6.5 2.8"/>
<path class="k37" d="M720.7 743.4l6.5 2.8 6.5 2.6 6.5 2.6 6.5 2.4"/>
<path class="k38" d="M746.7 753.8l6.5 2.4 6.5 2.3 6.5 2.2 6.4 2.1 6.5 2 6.5 1.9"/>
<path class="k39" d="M785.6 766.7l6.5 1.9 6.5 1.8 6.5 1.8 6.5 1.9 6.5 1.8 6.5 2"/>
<path class="k40" d="M824.6 777.9l6.5 2.2 6.5 2.5 6.5 2.6 6.5 2.6 6.5 2.5"/>
<path class="k41" d="M857.1 790.3l6.4 2.1 6.5 1.6 6.5 0.9 6.5 0.2 6.5 0.1 6.5 0 6.5 0.1 6.5 0.1 6.5 0.1 6.5 0 6.5 0.1 6.5 0.1 6.5 0.1 6.5 0 6.4 0.1 6.5 0.1 6.5 0 6.5 0.1 6.5 0.1 6.5 0.1 6.5 0 6.5 0.1 6.5 0.1 6.5 0.1 6.5 0 6.5 0.1 6.5 0.1 6.4 0.1 6.5 0 6.5 0.1 6.5 0.1 6.5 0.1 6.5 0"/>
<path class="k17" d="M99.3 538.6l4.6-8.6M456.4 543.4l4.6-96.1"/>
<path class="k16" d="M105.8 529.6l4.6-10.5M443.4 525.4l4.6-90.5M449.9 534.4l4.6-93.5"/>
<path class="k0" d="M112.3 520.6l4.6-11.9M118.8 511.5l4.6-12.9M437 516.6l4.5-87.4"/>
<path class="k1" d="M125.3 502.5l4.6-13.5M430.5 508l4.5-84.1"/>
<path class="k2" d="M131.8 493.4l4.6-13.5M417.5 491.4l4.5-76.5M424 499.6l4.5-80.4"/>
<path class="k3" d="M138.3 484.2l4.6-13M411 483.1l4.6-72"/>
<path class="k4" d="M144.8 474.6l4.6-11.5M404.5 474.6l4.6-66.6"/>
<path class="k5" d="M151.3 465l4.6-9.4M157.8 456l4.5-7.4M391.5 457.2l4.6-54M398 465.9l4.6-60.5"/>
<path class="k6" d="M164.3 448.1l4.5-5.8M385 448.5l4.6-47"/>
<path class="k7" d="M170.8 441.2l4.5-4.5M177.3 434.9l4.5-3.4M378.5 439.9l4.6-39.7"/>
<path class="k8" d="M183.7 429.1l4.6-2.6M190.2 423.6l4.6-2M372 431.4l4.6-32.3"/>
<path class="k9" d="M196.7 418.1l4.6-1.1M203.2 412.8l4.6 0M359 412.9l4.6-17.2M365.5 422.6l4.6-24.9"/>
<path class="k10" d="M209.7 408.3l4.6 0.8M216.2 404.4l4.6 1.5M222.7 400.8l4.6 2.5M352.6 400.9l4.5-7.9"/>
<path class="k11" d="M229.2 397.7l4.6 3.7M235.7 394.9l4.6 5.4M242.2 392.6l4.5 6.9M248.7 390.5l4.5 8.4M255.2 388.7l4.5 9.6M346.1 392.2l4.5-1.4"/>
<path class="k12" d="M261.7 387.1l4.5 10.7M268.1 385.7l4.6 11.5M274.6 384.4l4.6 12.3M281.1 383.2l4.6 13.1M287.6 382.3l4.6 13.5M294.1 381.6l4.6 13.8M300.6 381.2l4.6 13.9M307.1 380.8l4.6 13.9M313.6 380.8l4.6 13.5M320.1 381.5l4.6 12.1M326.6 383.1l4.6 9.2M333.1 385.5l4.5 5.4M339.6 388.5l4.5 1.7"/>
<path class="k18" d="M462.9 552.6l4.6-98.5"/>
<path class="k19" d="M469.4 561.9l4.6-100.9"/>
<path class="k20" d="M475.9 571.3l4.6-103.1M482.4 580.8l4.6-103.6"/>
<path class="k21" d="M488.9 590.3l4.6-99.1"/>
<path class="k22" d="M495.4 600.3l4.6-97"/>
<path class="k23" d="M501.9 610.7l4.6-96.7"/>
<path class="k24" d="M508.4 621.3l4.5-97.2"/>
<path class="k25" d="M514.9 631.8l4.5-97.9"/>
<path class="k26" d="M521.4 642l4.5-98.3"/>
<path class="k27" d="M527.9 651.6l4.5-98.6M534.3 660.5l4.6-96.4"/>
<path class="k28" d="M540.8 668.3l4.6-90.3"/>
<path class="k29" d="M547.3 675.1l4.6-81.5M553.8 681.5l4.6-72.2"/>
<path class="k30" d="M560.3 687.4l4.6-63.5M566.8 693.1l4.6-57.4"/>
<path class="k31" d="M573.3 698.4l4.6-54.3M579.8 703.4l4.6-52"/>
<path class="k32" d="M586.3 708.2l4.6-50.3M592.8 712.8l4.5-49M599.3 717.3l4.5-48.1"/>
<path class="k33" d="M605.8 721.6l4.5-47.4M612.3 725.8l4.5-46.8"/>
<path class="k34" d="M618.7 729.9l4.6-46.3M625.2 733.8l4.6-45.6M631.7 737.7l4.6-44.8M638.2 741.3l4.6-43.7"/>
<path class="k35" d="M644.7 744.9l4.6-42.6M651.2 748.2l4.6-41.3M657.7 751.4l4.6-40.1"/>
<path class="k36" d="M664.2 754.5l4.6-38.9M670.7 757.4l4.6-37.6M677.2 760.1l4.6-36.3M683.7 762.8l4.5-35.3"/>
<path class="k37" d="M690.2 765.3l4.5-34.2M696.7 767.8l4.5-33.4M703.2 770.1l4.5-32.5M709.6 772.4l4.6-31.8M716.1 774.5l4.6-31.1"/>
<path class="k38" d="M722.6 776.7l4.6-30.5M729.1 778.7l4.6-29.9M735.6 780.7l4.6-29.3M742.1 782.8l4.6-29M748.6 784.8l4.6-28.6M755.1 786.8l4.6-28.3"/>
<path class="k39" d="M761.6 788.8l4.6-28.1M768.1 790.6l4.5-27.8M774.6 792.3l4.5-27.5M781.1 793.8l4.5-27.1M787.6 795.1l4.5-26.5M794.1 796.2l4.5-25.8M800.5 797.2l4.6-25M807 798.1l4.6-24M813.5 798.9l4.6-23M820 799.6l4.6-21.7"/>
<path class="k40" d="M826.5 800.3l4.6-20.2M833 800.9l4.6-18.3M839.5 801.5l4.6-16.3M846 802.1l4.6-14.3M852.5 802.7l4.6-12.4M859 803.3l4.5-10.9M865.5 803.9l4.5-9.9M872 804.6l4.5-9.7M878.5 805.2l4.5-10.1M884.9 805.9l4.6-10.7M891.4 806.7l4.6-11.5M897.9 807.4l4.6-12.1M904.4 808.2l4.6-12.8M910.9 809l4.6-13.5M917.4 809.8l4.6-14.3M923.9 810.5l4.6-14.9M930.4 811.3l4.6-15.6M936.9 812l4.6-16.2"/>
<path class="k41" d="M943.4 812.7l4.6-16.9M949.9 813.4l4.5-17.5M956.4 814l4.5-18M962.9 814.6l4.5-18.6M969.4 815.1l4.5-19M975.8 815.5l4.6-19.3M982.3 816l4.6-19.7M988.8 816.4l4.6-20.1M995.3 816.9l4.6-20.5M1001.8 817.3l4.6-20.8M1008.3 817.7l4.6-21.1M1014.8 818.1l4.6-21.5M1021.3 818.4l4.6-21.7M1027.8 818.8l4.6-22M1034.3 819.1l4.5-22.2M1040.8 819.4l4.5-22.5M1047.3 819.7l4.5-22.7M1053.8 820l4.5-22.9M1060.2 820.2l4.6-23M1066.7 820.4l4.6-23.2"/>
<path class="f" d="M99 539l13-18 13-19 13-18 13-19 13-17 13-13 13-11 13-11 13-9 13-6 13-5 13-4 13-3 13-3 13-1 13-1 13 0 13 4 13 7 13 21 13 18 13 17 13 18 13 17 13 17 13 17 13 17 13 19 13 18 13 19 13 21 13 21 13 20 13 16 13 13 13 12 13 10 13 10 13 9 13 8 13 8 13 7 13 6 13 6 13 6 13 5 13 4 13 5 13 4 13 4 13 4 13 3 13 3 13 2 13 2 13 1 12 2 13 1 13 1 13 1 13 2 13 1 13 2 13 1 13 2 13 1 13 1 13 1 13 1 13 1 13 0 13 1 13 1 13 0 7 0-5 23-6 0-13 0-13 0-13 0-13 0-13 0-13 0-13-1-13 0-13 0-13 0-13 0-13 0-13-1-13 0-13-1-13-1-13 0-13-1-13-1-13-1-13-1-13-1-13-2-13-1-13-3-13-2-13-2-13-3-13-3-13-3-13-4-13-5-13-5-13-6-13-7-13-9-13-10-13-13-13-15-13-15-13-16-13-17-13-21-13-24-13-23-13-23-13-22-13-24-13-24-13-24-13-25-13-31-13-34-13-21-13-13-12-15-13-16-13-12-13-8-13-5-13-4-13-1-13 4-13 7-13 12-13 14-13 14-13 15-13 18-13 20-13 21-13 23-13 24-13 27z"/>
<path class="k17" d="M99.3 538.6l6.5-9M456.4 543.4l6.5 9.2"/>
<path class="k16" d="M105.8 529.6l6.5-9M443.4 525.4l6.5 9 6.5 9"/>
<path class="k0" d="M112.3 520.6l6.5-9.1 6.5-9M437 516.6l6.4 8.8"/>
<path class="k1" d="M125.3 502.5l6.5-9.1M430.5 508l6.5 8.6"/>
<path class="k2" d="M131.8 493.4l6.5-9.2M417.5 491.4l6.5 8.2 6.5 8.4"/>
<path class="k3" d="M138.3 484.2l6.5-9.6M411 483.1l6.5 8.3"/>
<path class="k4" d="M144.8 474.6l6.5-9.6M404.5 474.6l6.5 8.5"/>
<path class="k5" d="M151.3 465l6.5-9 6.5-7.9M391.5 457.2l6.5 8.7 6.5 8.7"/>
<path class="k6" d="M164.3 448.1l6.5-6.9M385 448.5l6.5 8.7"/>
<path class="k7" d="M170.8 441.2l6.5-6.3 6.4-5.8M378.5 439.9l6.5 8.6"/>
<path class="k8" d="M183.7 429.1l6.5-5.5 6.5-5.5M372 431.4l6.5 8.5"/>
<path class="k9" d="M196.7 418.1l6.5-5.3 6.5-4.5M359 412.9l6.5 9.7 6.5 8.8"/>
<path class="k10" d="M209.7 408.3l6.5-3.9 6.5-3.6 6.5-3.1M352.6 400.9l6.4 12"/>
<path class="k11" d="M229.2 397.7l6.5-2.8 6.5-2.3 6.5-2.1 6.5-1.8 6.5-1.6M346.1 392.2l6.5 8.7"/>
<path class="k12" d="M261.7 387.1l6.4-1.4 6.5-1.3 6.5-1.2 6.5-0.9 6.5-0.7 6.5-0.4 6.5-0.4 6.5 0 6.5 0.7 6.5 1.6 6.5 2.4 6.5 3 6.5 3.7"/>
<path class="k18" d="M462.9 552.6l6.5 9.3"/>
<path class="k19" d="M469.4 561.9l6.5 9.4"/>
<path class="k20" d="M475.9 571.3l6.5 9.5 6.5 9.5"/>
<path class="k21" d="M488.9 590.3l6.5 10"/>
<path class="k22" d="M495.4 600.3l6.5 10.4"/>
<path class="k23" d="M501.9 610.7l6.5 10.6"/>
<path class="k24" d="M508.4 621.3l6.5 10.5"/>
<path class="k25" d="M514.9 631.8l6.5 10.2"/>
<path class="k26" d="M521.4 642l6.5 9.6"/>
<path class="k27" d="M527.9 651.6l6.4 8.9 6.5 7.8"/>
<path class="k28" d="M540.8 668.3l6.5 6.8"/>
<path class="k29" d="M547.3 675.1l6.5 6.4 6.5 5.9"/>
<path class="k30" d="M560.3 687.4l6.5 5.7 6.5 5.3"/>
<path class="k31" d="M573.3 698.4l6.5 5 6.5 4.8"/>
<path class="k32" d="M586.3 708.2l6.5 4.6 6.5 4.5 6.5 4.3"/>
<path class="k33" d="M605.8 721.6l6.5 4.2 6.4 4.1"/>
<path class="k34" d="M618.7 729.9l6.5 3.9 6.5 3.9 6.5 3.6 6.5 3.6"/>
<path class="k35" d="M644.7 744.9l6.5 3.3 6.5 3.2 6.5 3.1"/>
<path class="k36" d="M664.2 754.5l6.5 2.9 6.5 2.7 6.5 2.7 6.5 2.5"/>
<path class="k37" d="M690.2 765.3l6.5 2.5 6.5 2.3 6.4 2.3 6.5 2.1 6.5 2.2"/>
<path class="k38" d="M722.6 776.7l6.5 2 6.5 2 6.5 2.1 6.5 2 6.5 2 6.5 2"/>
<path class="k39" d="M761.6 788.8l6.5 1.8 6.5 1.7 6.5 1.5 6.5 1.3 6.5 1.1 6.4 1 6.5 0.9 6.5 0.8 6.5 0.7 6.5 0.7"/>
<path class="k40" d="M826.5 800.3l6.5 0.6 6.5 0.6 6.5 0.6 6.5 0.6 6.5 0.6 6.5 0.6 6.5 0.7 6.5 0.6 6.4 0.7 6.5 0.8 6.5 0.7 6.5 0.8 6.5 0.8 6.5 0.8 6.5 0.7 6.5 0.8 6.5 0.7 6.5 0.7"/>
<path class="k41" d="M943.4 812.7l6.5 0.7 6.5 0.6 6.5 0.6 6.5 0.5 6.4 0.4 6.5 0.5 6.5 0.4 6.5 0.5 6.5 0.4 6.5 0.4 6.5 0.4 6.5 0.3 6.5 0.4 6.5 0.3 6.5 0.3 6.5 0.3 6.5 0.3 6.4 0.2 6.5 0.2"/>
<path class="k2" d="M94.8 521.7l4.5 16.9M412.9 520.2l4.6-28.8"/>
<path class="k3" d="M101.3 508.4l4.5 21.2M406.4 508.4l4.6-25.3"/>
<path class="k4" d="M107.8 495.5l4.5 25.1M399.9 496.3l4.6-21.7"/>
<path class="k5" d="M114.2 483l4.6 28.5M393.4 483.5l4.6-17.6"/>
<path class="k6" d="M120.7 470.9l4.6 31.6M386.9 468.9l4.6-11.7"/>
<path class="k7" d="M127.2 459.3l4.6 34.1"/>
<path class="k8" d="M133.7 448.1l4.6 36.1M380.4 451.7l4.6-3.2"/>
<path class="k9" d="M140.2 437.3l4.6 37.3"/>
<path class="k10" d="M146.7 426.7l4.6 38.3M374 434l4.5 5.9"/>
<path class="k11" d="M153.2 416.5l4.6 39.5M367.5 417.8l4.5 13.6"/>
<path class="k12" d="M159.7 406.8l4.6 41.3M361 405.3l4.5 17.3"/>
<path class="k13" d="M166.2 397.6l4.6 43.6M172.7 389l4.6 45.9M348 391l4.6 9.9M354.5 397.2l4.5 15.7"/>
<path class="k14" d="M179.2 381l4.5 48.1M341.5 384.4l4.6 7.8"/>
<path class="k15" d="M185.7 373.5l4.5 50.1M192.2 366.4l4.5 51.7M328.5 368.9l4.6 16.6M335 376.9l4.6 11.6"/>
<path class="k42" d="M198.7 359.6l4.5 53.2M322 360.9l4.6 22.2"/>
<path class="k43" d="M205.1 353l4.6 55.3M211.6 346.2l4.6 58.2M309 346.5l4.6 34.3M315.5 353.3l4.6 28.2"/>
<path class="k44" d="M218.1 339.5l4.6 61.3M224.6 333.7l4.6 64M289.5 333l4.6 48.6M296 336.7l4.6 44.5M302.5 341l4.6 39.8"/>
<path class="k45" d="M231.1 329.8l4.6 65.1M237.6 327l4.6 65.6M244.1 324.6l4.6 65.9M250.6 323l4.6 65.7M257.1 322.7l4.6 64.4M263.6 323.7l4.5 62M270.1 325.5l4.5 58.9M276.6 327.6l4.5 55.6M283.1 330l4.5 52.3"/>
<path class="k1" d="M419.4 532l4.6-32.4"/>
<path class="k0" d="M425.9 544.1l4.6-36.1"/>
<path class="k16" d="M432.4 556.1l4.6-39.5"/>
<path class="k17" d="M438.9 567.9l4.5-42.5"/>
<path class="k18" d="M445.4 579.5l4.5-45.1"/>
<path class="k19" d="M451.9 590.9l4.5-47.5"/>
<path class="k20" d="M458.4 602.1l4.5-49.5"/>
<path class="k21" d="M464.8 613.3l4.6-51.4"/>
<path class="k22" d="M471.3 624.6l4.6-53.3"/>
<path class="k23" d="M477.8 636l4.6-55.2"/>
<path class="k24" d="M484.3 647.8l4.6-57.5"/>
<path class="k25" d="M490.8 660.3l4.6-60"/>
<path class="k26" d="M497.3 672.4l4.6-61.7"/>
<path class="k27" d="M503.8 683l4.6-61.7"/>
<path class="k28" d="M510.3 692.7l4.6-60.9"/>
<path class="k29" d="M516.8 701.8l4.6-59.8"/>
<path class="k30" d="M523.3 710.4l4.6-58.8"/>
<path class="k31" d="M529.8 718.6l4.5-58.1M536.3 726.4l4.5-58.1"/>
<path class="k32" d="M542.8 733.9l4.5-58.8"/>
<path class="k33" d="M549.3 741.2l4.5-59.7M555.7 748.4l4.6-61"/>
<path class="k34" d="M562.2 755.6l4.6-62.5M568.7 762.7l4.6-64.3"/>
<path class="k35" d="M575.2 769.1l4.6-65.7M581.7 774.3l4.6-66.1"/>
<path class="k36" d="M588.2 779.2l4.6-66.4M594.7 783.7l4.6-66.4"/>
<path class="k37" d="M601.2 788l4.6-66.4M607.7 791.9l4.6-66.1M614.2 795.4l4.5-65.5"/>
<path class="k38" d="M620.7 798.6l4.5-64.8M627.2 801.4l4.5-63.7M633.7 804l4.5-62.7M640.1 806.4l4.6-61.5M646.6 808.7l4.6-60.5"/>
<path class="k39" d="M653.1 810.9l4.6-59.5M659.6 812.9l4.6-58.4M666.1 814.9l4.6-57.5M672.6 816.7l4.6-56.6M679.1 818.3l4.6-55.5M685.6 819.9l4.6-54.6M692.1 821.3l4.6-53.5"/>
<path class="k40" d="M698.6 822.6l4.6-52.5M705.1 823.9l4.5-51.5M711.6 825.1l4.5-50.6M718.1 826.2l4.5-49.5M724.6 827.4l4.5-48.7M731 828.5l4.6-47.8M737.5 829.5l4.6-46.7M744 830.5l4.6-45.7M750.5 831.4l4.6-44.6M757 832.3l4.6-43.5M763.5 833.2l4.6-42.6"/>
<path class="k41" d="M770 833.9l4.6-41.6M776.5 834.6l4.6-40.8M783 835.3l4.6-40.2M789.5 835.8l4.6-39.6M796 836.3l4.5-39.1M802.5 836.7l4.5-38.6M809 837.1l4.5-38.2M815.5 837.6l4.5-38M821.9 838l4.6-37.7M828.4 838.3l4.6-37.4M834.9 838.7l4.6-37.2M841.4 839.1l4.6-37M847.9 839.4l4.6-36.7M854.4 839.8l4.6-36.5M860.9 840.1l4.6-36.2M867.4 840.4l4.6-35.8M873.9 840.7l4.6-35.5M880.4 840.9l4.5-35M886.9 841.1l4.5-34.4M893.4 841.3l4.5-33.9M899.9 841.5l4.5-33.3M906.3 841.6l4.6-32.6M912.8 841.8l4.6-32M919.3 841.8l4.6-31.3M925.8 841.9l4.6-30.6M932.3 842l4.6-30M938.8 842.1l4.6-29.4M945.3 842.1l4.6-28.7M951.8 842.2l4.6-28.2M958.3 842.3l4.6-27.7M964.8 842.4l4.6-27.3M971.3 842.4l4.5-26.9M977.8 842.5l4.5-26.5M984.3 842.6l4.5-26.2M990.8 842.7l4.5-25.8M997.2 842.7l4.6-25.4M1003.7 842.8l4.6-25.1M1010.2 842.9l4.6-24.8M1016.7 843l4.6-24.6M1023.2 843l4.6-24.2M1029.7 843.1l4.6-24M1036.2 843.2l4.6-23.8M1042.7 843.3l4.6-23.6M1049.2 843.3l4.6-23.3M1055.7 843.4l4.5-23.2M1062.2 843.5l4.5-23.1"/>
<path class="f" d="M95 522l13-27 13-24 13-23 13-21 13-20 13-18 13-15 13-14 13-14 13-12 13-7 13-4 13 1 13 4 13 5 13 8 13 12 13 16 12 15 13 13 13 21 13 34 13 31 13 25 13 24 13 24 13 24 13 22 13 23 13 23 13 24 13 21 13 17 13 16 13 15 13 15 13 13 13 10 13 9 13 7 13 6 13 5 13 5 13 4 13 3 13 3 13 3 13 2 13 2 13 3 13 1 13 2 13 1 13 1 13 1 13 1 13 1 13 0 13 1 13 1 13 0 13 1 13 0 13 0 13 0 13 0 13 0 13 1 13 0 13 0 13 0 13 0 13 0 13 0 6 0-4 24-7 0-13-1-13 0-13 0-13 0-13 0-13 0-13-1-13 0-13 0-13 0-13 0-13 0-13 0-13-1-13 0-13 0-13 0-13 0-13-1-13 0-13 0-13-1-13 0-13 0-13-1-13-1-12-1-13-1-13-1-13-2-13-2-13-3-13-3-13-4-13-5-13-6-13-6-13-8-13-9-13-11-13-13-13-16-13-18-13-21-13-22-13-25-13-26-13-27-13-29-13-30-13-30-13-30-13-30-13-28-13-27-13-24-13-22-13-20-13-17-13-11-13-8-13-5-13-3-13 4-13 7-13 9-13 12-13 17-13 21-13 20-13 19-13 24-13 30-13 35z"/>
<path class="k2" d="M94.8 521.7l6.5-13.3M412.9 520.2l6.5 11.8"/>
<path class="k3" d="M101.3 508.4l6.5-12.9M406.4 508.4l6.5 11.8"/>
<path class="k4" d="M107.8 495.5l6.4-12.5M399.9 496.3l6.5 12.1"/>
<path class="k5" d="M114.2 483l6.5-12.1M393.4 483.5l6.5 12.8"/>
<path class="k6" d="M120.7 470.9l6.5-11.6M386.9 468.9l6.5 14.6"/>
<path class="k7" d="M127.2 459.3l6.5-11.2"/>
<path class="k8" d="M133.7 448.1l6.5-10.8M380.4 451.7l6.5 17.2"/>
<path class="k9" d="M140.2 437.3l6.5-10.6"/>
<path class="k10" d="M146.7 426.7l6.5-10.2M374 434l6.4 17.7"/>
<path class="k11" d="M153.2 416.5l6.5-9.7M367.5 417.8l6.5 16.2"/>
<path class="k12" d="M159.7 406.8l6.5-9.2M361 405.3l6.5 12.5"/>
<path class="k13" d="M166.2 397.6l6.5-8.6 6.5-8M348 391l6.5 6.2 6.5 8.1"/>
<path class="k14" d="M179.2 381l6.5-7.5M341.5 384.4l6.5 6.6"/>
<path class="k15" d="M185.7 373.5l6.5-7.1 6.5-6.8M328.5 368.9l6.5 8 6.5 7.5"/>
<path class="k42" d="M198.7 359.6l6.4-6.6M322 360.9l6.5 8"/>
<path class="k43" d="M205.1 353l6.5-6.8 6.5-6.7M309 346.5l6.5 6.8 6.5 7.6"/>
<path class="k44" d="M218.1 339.5l6.5-5.8 6.5-3.9M289.5 333l6.5 3.7 6.5 4.3 6.5 5.5"/>
<path class="k45" d="M231.1 329.8l6.5-2.8 6.5-2.4 6.5-1.6 6.5-0.3 6.5 1 6.5 1.8 6.5 2.1 6.5 2.4 6.4 3"/>
<path class="k1" d="M419.4 532l6.5 12.1"/>
<path class="k0" d="M425.9 544.1l6.5 12"/>
<path class="k16" d="M432.4 556.1l6.5 11.8"/>
<path class="k17" d="M438.9 567.9l6.5 11.6"/>
<path class="k18" d="M445.4 579.5l6.5 11.4"/>
<path class="k19" d="M451.9 590.9l6.5 11.2"/>
<path class="k20" d="M458.4 602.1l6.4 11.2"/>
<path class="k21" d="M464.8 613.3l6.5 11.3"/>
<path class="k22" d="M471.3 624.6l6.5 11.4"/>
<path class="k23" d="M477.8 636l6.5 11.8"/>
<path class="k24" d="M484.3 647.8l6.5 12.5"/>
<path class="k25" d="M490.8 660.3l6.5 12.1"/>
<path class="k26" d="M497.3 672.4l6.5 10.6"/>
<path class="k27" d="M503.8 683l6.5 9.7"/>
<path class="k28" d="M510.3 692.7l6.5 9.1"/>
<path class="k29" d="M516.8 701.8l6.5 8.6"/>
<path class="k30" d="M523.3 710.4l6.5 8.2"/>
<path class="k31" d="M529.8 718.6l6.5 7.8 6.5 7.5"/>
<path class="k32" d="M542.8 733.9l6.5 7.3"/>
<path class="k33" d="M549.3 741.2l6.4 7.2 6.5 7.2"/>
<path class="k34" d="M562.2 755.6l6.5 7.1 6.5 6.4"/>
<path class="k35" d="M575.2 769.1l6.5 5.2 6.5 4.9"/>
<path class="k36" d="M588.2 779.2l6.5 4.5 6.5 4.3"/>
<path class="k37" d="M601.2 788l6.5 3.9 6.5 3.5 6.5 3.2"/>
<path class="k38" d="M620.7 798.6l6.5 2.8 6.5 2.6 6.4 2.4 6.5 2.3 6.5 2.2"/>
<path class="k39" d="M653.1 810.9l6.5 2 6.5 2 6.5 1.8 6.5 1.6 6.5 1.6 6.5 1.4 6.5 1.3"/>
<path class="k40" d="M698.6 822.6l6.5 1.3 6.5 1.2 6.5 1.1 6.5 1.2 6.4 1.1 6.5 1 6.5 1 6.5 0.9 6.5 0.9 6.5 0.9 6.5 0.7"/>
<path class="k41" d="M770 833.9l6.5 0.7 6.5 0.7 6.5 0.5 6.5 0.5 6.5 0.4 6.5 0.4 6.5 0.5 6.4 0.4 6.5 0.3 6.5 0.4 6.5 0.4 6.5 0.3 6.5 0.4 6.5 0.3 6.5 0.3 6.5 0.3 6.5 0.2 6.5 0.2 6.5 0.2 6.5 0.2 6.4 0.1 6.5 0.2 6.5 0 6.5 0.1 6.5 0.1 6.5 0.1 6.5 0 6.5 0.1 6.5 0.1 6.5 0.1 6.5 0 6.5 0.1 6.5 0.1 6.5 0.1 6.4 0 6.5 0.1 6.5 0.1 6.5 0.1 6.5 0 6.5 0.1 6.5 0.1 6.5 0.1 6.5 0 6.5 0.1 6.5 0.1"/>
<path class="k4" d="M90.2 514.2l4.6 7.5"/>
<path class="k6" d="M96.7 496l4.6 12.4M369.4 496l4.6-62"/>
<path class="k7" d="M103.2 478.8l4.6 16.7M362.9 480.9l4.6-63.1"/>
<path class="k9" d="M109.7 463l4.5 20M356.4 466.4l4.6-61.1"/>
<path class="k10" d="M116.2 448.7l4.5 22.2M349.9 452.6l4.6-55.4"/>
<path class="k11" d="M122.7 436.2l4.5 23.1M343.4 439.1l4.6-48.1"/>
<path class="k12" d="M129.2 425.2l4.5 22.9M336.9 426l4.6-41.6"/>
<path class="k13" d="M135.6 415.1l4.6 22.2M330.4 413.5l4.6-36.6"/>
<path class="k14" d="M142.1 405.5l4.6 21.2M323.9 401.7l4.6-32.8"/>
<path class="k15" d="M148.6 396.1l4.6 20.4M317.4 390.8l4.6-29.9"/>
<path class="k42" d="M155.1 386.2l4.6 20.6M310.9 379.9l4.6-26.6"/>
<path class="k43" d="M161.6 375.7l4.6 21.9M304.5 369.4l4.5-22.9"/>
<path class="k44" d="M168.1 365.3l4.6 23.7M174.6 355.9l4.6 25.1M298 359.6l4.5-18.6"/>
<path class="k45" d="M181.1 348.1l4.6 25.4M291.5 350.7l4.5-14"/>
<path class="k46" d="M187.6 341.6l4.6 24.8M194.1 335.8l4.6 23.8M278.5 337.1l4.6-7.1M285 343.1l4.5-10.1"/>
<path class="k47" d="M200.6 330.9l4.5 22.1M207.1 326.9l4.5 19.3M213.6 323.2l4.5 16.3M252.5 321.4l4.6 1.3M259 324.2l4.6-0.5M265.5 327.5l4.6-2M272 331.9l4.6-4.3"/>
<path class="k48" d="M220.1 319.7l4.5 14M226.5 317.2l4.6 12.6M233 316.3l4.6 10.7M239.5 317l4.6 7.6M246 318.8l4.6 4.2"/>
<path class="k5" d="M375.9 511.1l4.5-59.4"/>
<path class="k3" d="M382.4 526l4.5-57.1"/>
<path class="k2" d="M388.9 540.9l4.5-57.4"/>
<path class="k1" d="M395.4 556l4.5-59.7"/>
<path class="k16" d="M401.8 571.2l4.6-62.8"/>
<path class="k17" d="M408.3 586.2l4.6-66"/>
<path class="k18" d="M414.8 601.1l4.6-69.1"/>
<path class="k19" d="M421.3 615.6l4.6-71.5"/>
<path class="k21" d="M427.8 629.7l4.6-73.6"/>
<path class="k22" d="M434.3 643.2l4.6-75.3"/>
<path class="k23" d="M440.8 656.6l4.6-77.1"/>
<path class="k24" d="M447.3 669.8l4.6-78.9"/>
<path class="k25" d="M453.8 682.8l4.6-80.7"/>
<path class="k26" d="M460.3 695.5l4.5-82.2"/>
<path class="k28" d="M466.8 707.7l4.5-83.1"/>
<path class="k29" d="M473.3 719.4l4.5-83.4"/>
<path class="k30" d="M479.8 730.5l4.5-82.7M486.2 740.8l4.6-80.5"/>
<path class="k31" d="M492.7 750.6l4.6-78.2"/>
<path class="k32" d="M499.2 760.2l4.6-77.2"/>
<path class="k33" d="M505.7 769.2l4.6-76.5"/>
<path class="k34" d="M512.2 777.7l4.6-75.9M518.7 785.3l4.6-74.9"/>
<path class="k35" d="M525.2 792l4.6-73.4"/>
<path class="k36" d="M531.7 798l4.6-71.6M538.2 803.6l4.6-69.7M544.7 808.8l4.6-67.6"/>
<path class="k37" d="M551.2 813.6l4.5-65.2M557.7 818l4.5-62.4"/>
<path class="k38" d="M564.2 822.1l4.5-59.4M570.7 825.9l4.5-56.8M577.1 829.2l4.6-54.9"/>
<path class="k39" d="M583.6 832.5l4.6-53.3M590.1 835.5l4.6-51.8M596.6 838.3l4.6-50.3M603.1 841l4.6-49.1M609.6 843.3l4.6-47.9"/>
<path class="k40" d="M616.1 845.4l4.6-46.8M622.6 847.2l4.6-45.8M629.1 848.8l4.6-44.8M635.6 850.4l4.5-44M642.1 851.7l4.5-43M648.6 853l4.5-42.1M655.1 854.1l4.5-41.2M661.6 855.1l4.5-40.2"/>
<path class="k41" d="M668 855.9l4.6-39.2M674.5 856.6l4.6-38.3M681 857.3l4.6-37.4M687.5 858l4.6-36.7M694 858.6l4.6-36M700.5 859.2l4.6-35.3M707 859.7l4.6-34.6M713.5 860.2l4.6-34M720 860.6l4.6-33.2M726.5 861l4.5-32.5M733 861.4l4.5-31.9M739.5 861.6l4.5-31.1M746 861.8l4.5-30.4M752.4 862l4.6-29.7M758.9 862.2l4.6-29M765.4 862.4l4.6-28.5M771.9 862.6l4.6-28M778.4 862.7l4.6-27.4M784.9 862.9l4.6-27.1M791.4 863.1l4.6-26.8M797.9 863.2l4.6-26.5M804.4 863.4l4.6-26.3M810.9 863.5l4.6-25.9M817.4 863.6l4.5-25.6M823.9 863.8l4.5-25.5M830.4 863.9l4.5-25.2M836.9 864l4.5-24.9M843.3 864.1l4.6-24.7M849.8 864.2l4.6-24.4M856.3 864.3l4.6-24.2M862.8 864.4l4.6-24M869.3 864.4l4.6-23.7M875.8 864.5l4.6-23.6M882.3 864.6l4.6-23.5M888.8 864.7l4.6-23.4M895.3 864.7l4.6-23.2M901.8 864.8l4.5-23.2M908.3 864.9l4.5-23.1M914.8 865l4.5-23.2M921.3 865l4.5-23.1M927.7 865.1l4.6-23.1M934.2 865.2l4.6-23.1M940.7 865.3l4.6-23.2M947.2 865.3l4.6-23.1M953.7 865.4l4.6-23.1M960.2 865.5l4.6-23.1M966.7 865.6l4.6-23.2M973.2 865.6l4.6-23.1M979.7 865.7l4.6-23.1M986.2 865.8l4.6-23.1M992.7 865.9l4.5-23.2M999.2 865.9l4.5-23.1M1005.7 866l4.5-23.1M1012.2 866.1l4.5-23.1M1018.6 866.2l4.6-23.2M1025.1 866.2l4.6-23.1M1031.6 866.3l4.6-23.1M1038.1 866.4l4.6-23.1M1044.6 866.5l4.6-23.2M1051.1 866.5l4.6-23.1M1057.6 866.6l4.6-23.1"/>
<path class="k4" d="M90.2 514.2l6.5-18.2"/>
<path class="k6" d="M96.7 496l6.5-17.2M369.4 496l6.5 15.1"/>
<path class="k7" d="M103.2 478.8l6.5-15.8M362.9 480.9l6.5 15.1"/>
<path class="k9" d="M109.7 463l6.5-14.3M356.4 466.4l6.5 14.5"/>
<path class="k10" d="M116.2 448.7l6.5-12.5M349.9 452.6l6.5 13.8"/>
<path class="k11" d="M122.7 436.2l6.5-11M343.4 439.1l6.5 13.5"/>
<path class="k12" d="M129.2 425.2l6.4-10.1M336.9 426l6.5 13.1"/>
<path class="k13" d="M135.6 415.1l6.5-9.6M330.4 413.5l6.5 12.5"/>
<path class="k14" d="M142.1 405.5l6.5-9.4M323.9 401.7l6.5 11.8"/>
<path class="k15" d="M148.6 396.1l6.5-9.9M317.4 390.8l6.5 10.9"/>
<path class="k42" d="M155.1 386.2l6.5-10.5M310.9 379.9l6.5 10.9"/>
<path class="k43" d="M161.6 375.7l6.5-10.4M304.5 369.4l6.4 10.5"/>
<path class="k44" d="M168.1 365.3l6.5-9.4 6.5-7.8M298 359.6l6.5 9.8"/>
<path class="k45" d="M181.1 348.1l6.5-6.5M291.5 350.7l6.5 8.9"/>
<path class="k46" d="M187.6 341.6l6.5-5.8 6.5-4.9M278.5 337.1l6.5 6 6.5 7.6"/>
<path class="k47" d="M200.6 330.9l6.5-4 6.5-3.7 6.5-3.5M252.5 321.4l6.5 2.8 6.5 3.3 6.5 4.4 6.5 5.2"/>
<path class="k48" d="M220.1 319.7l6.4-2.5 6.5-0.9 6.5 0.7 6.5 1.8 6.5 2.6"/>
<path class="k5" d="M375.9 511.1l6.5 14.9"/>
<path class="k3" d="M382.4 526l6.5 14.9"/>
<path class="k2" d="M388.9 540.9l6.5 15.1"/>
<path class="k1" d="M395.4 556l6.4 15.2"/>
<path class="k16" d="M401.8 571.2l6.5 15"/>
<path class="k17" d="M408.3 586.2l6.5 14.9"/>
<path class="k18" d="M414.8 601.1l6.5 14.5"/>
<path class="k19" d="M421.3 615.6l6.5 14.1"/>
<path class="k21" d="M427.8 629.7l6.5 13.5"/>
<path class="k22" d="M434.3 643.2l6.5 13.4"/>
<path class="k23" d="M440.8 656.6l6.5 13.2"/>
<path class="k24" d="M447.3 669.8l6.5 13"/>
<path class="k25" d="M453.8 682.8l6.5 12.7"/>
<path class="k26" d="M460.3 695.5l6.5 12.2"/>
<path class="k28" d="M466.8 707.7l6.5 11.7"/>
<path class="k29" d="M473.3 719.4l6.5 11.1"/>
<path class="k30" d="M479.8 730.5l6.4 10.3 6.5 9.8"/>
<path class="k31" d="M492.7 750.6l6.5 9.6"/>
<path class="k32" d="M499.2 760.2l6.5 9"/>
<path class="k33" d="M505.7 769.2l6.5 8.5"/>
<path class="k34" d="M512.2 777.7l6.5 7.6 6.5 6.7"/>
<path class="k35" d="M525.2 792l6.5 6"/>
<path class="k36" d="M531.7 798l6.5 5.6 6.5 5.2 6.5 4.8"/>
<path class="k37" d="M551.2 813.6l6.5 4.4 6.5 4.1"/>
<path class="k38" d="M564.2 822.1l6.5 3.8 6.4 3.3 6.5 3.3"/>
<path class="k39" d="M583.6 832.5l6.5 3 6.5 2.8 6.5 2.7 6.5 2.3 6.5 2.1"/>
<path class="k40" d="M616.1 845.4l6.5 1.8 6.5 1.6 6.5 1.6 6.5 1.3 6.5 1.3 6.5 1.1 6.5 1 6.4 0.8"/>
<path class="k41" d="M668 855.9l6.5 0.7 6.5 0.7 6.5 0.7 6.5 0.6 6.5 0.6 6.5 0.5 6.5 0.5 6.5 0.4 6.5 0.4 6.5 0.4 6.5 0.2 6.5 0.2 6.4 0.2 6.5 0.2 6.5 0.2 6.5 0.2 6.5 0.1 6.5 0.2 6.5 0.2 6.5 0.1 6.5 0.2 6.5 0.1 6.5 0.1 6.5 0.2 6.5 0.1 6.5 0.1 6.4 0.1 6.5 0.1 6.5 0.1 6.5 0.1 6.5 0 6.5 0.1 6.5 0.1 6.5 0.1 6.5 0 6.5 0.1 6.5 0.1 6.5 0.1 6.5 0 6.4 0.1 6.5 0.1 6.5 0.1 6.5 0 6.5 0.1 6.5 0.1 6.5 0.1 6.5 0 6.5 0.1 6.5 0.1 6.5 0.1 6.5 0 6.5 0.1 6.5 0.1 6.4 0.1 6.5 0 6.5 0.1 6.5 0.1 6.5 0.1 6.5 0 6.5 0.1"/></g>
<text x="84.2" y="895.7" font-size="14" text-anchor="middle">0</text>
<text x="181" y="896.8" font-size="14" text-anchor="middle">0.2</text>
<text x="277.7" y="897.9" font-size="14" text-anchor="middle">0.4</text>
<text x="374.4" y="899" font-size="14" text-anchor="middle">0.6</text>
<text x="471.2" y="900.2" font-size="14" text-anchor="middle">0.8</text>
<text x="567.9" y="901.3" font-size="14" text-anchor="middle">1</text>
<text x="664.7" y="902.4" font-size="14" text-anchor="middle">1.2</text>
<text x="761.4" y="903.5" font-size="14" text-anchor="middle">1.4</text>
<text x="858.1" y="904.6" font-size="14" text-anchor="middle">1.6</text>
<text x="954.9" y="905.7" font-size="14" text-anchor="middle">1.8</text>
<text x="1051.6" y="906.8" font-size="14" text-anchor="middle">2</text>
<text x="60.2" y="860.4" font-size="14" text-anchor="end">0</text>
<text x="60.2" y="777.8" font-size="14" text-anchor="end">0.2</text>
<text x="60.2" y="695.1" font-size="14" text-anchor="end">0.4</text>
<text x="60.2" y="612.5" font-size="14" text-anchor="end">0.6</text>
<text x="60.2" y="529.8" font-size="14" text-anchor="end">0.8</text>
<text x="60.2" y="447.2" font-size="14" text-anchor="end">1</text>
<text x="60.2" y="364.6" font-size="14" text-anchor="end">1.2</text>
<text x="60.2" y="281.9" font-size="14" text-anchor="end">1.4</text>
<text x="1087.6" y="871.8" font-size="14">2012</text>
<text x="1092.2" y="848.7" font-size="14">2013</text>
<text x="1096.7" y="825.6" font-size="14">2014</text>
<text x="1101.3" y="802.5" font-size="14">2015</text>
<text x="1105.9" y="779.4" font-size="14">2016</text>
<text x="1110.4" y="756.2" font-size="14">2017</text>
<text x="1115" y="733.1" font-size="14">2018</text>
<text x="1119.6" y="710" font-size="14">2019</text>
<text x="1124.2" y="686.9" font-size="14">2020</text>
<text x="1128.7" y="663.8" font-size="14">2021</text>
<defs><linearGradient id="gA" x1="0" y1="0" x2="0" y2="1"><stop offset="0.000" stop-color="#800000"/><stop offset="0.016" stop-color="#8d0000"/><stop offset="0.031" stop-color="#9f0000"/><stop offset="0.047" stop-color="#b20000"/><stop offset="0.062" stop-color="#c40000"/><stop offset="0.078" stop-color="#d60000"/><stop offset="0.094" stop-color="#e80000"/><stop offset="0.109" stop-color="#fa0f00"/><stop offset="0.125" stop-color="#ff1e00"/><stop offset="0.141" stop-color="#ff2d00"/><stop offset="0.156" stop-color="#ff3b00"/><stop offset="0.172" stop-color="#ff4a00"/><stop offset="0.188" stop-color="#ff5900"/><stop offset="0.203" stop-color="#ff6800"/><stop offset="0.219" stop-color="#ff7700"/><stop offset="0.234" stop-color="#ff8600"/><stop offset="0.250" stop-color="#ff9400"/><stop offset="0.266" stop-color="#ffa300"/><stop offset="0.281" stop-color="#ffb200"/><stop offset="0.297" stop-color="#ffc100"/><stop offset="0.312" stop-color="#ffd000"/><stop offset="0.328" stop-color="#ffde00"/><stop offset="0.344" stop-color="#feed00"/><stop offset="0.359" stop-color="#f1fc06"/><stop offset="0.375" stop-color="#e4ff13"/><stop offset="0.391" stop-color="#d7ff1f"/><stop offset="0.406" stop-color="#caff2c"/><stop offset="0.422" stop-color="#beff39"/><stop offset="0.438" stop-color="#b1ff46"/><stop offset="0.453" stop-color="#a4ff53"/><stop offset="0.469" stop-color="#97ff60"/><stop offset="0.484" stop-color="#8aff6d"/><stop offset="0.500" stop-color="#7dff7a"/><stop offset="0.516" stop-color="#70ff87"/><stop offset="0.531" stop-color="#63ff94"/><stop offset="0.547" stop-color="#56ffa0"/><stop offset="0.562" stop-color="#49ffad"/><stop offset="0.578" stop-color="#3cffba"/><stop offset="0.594" stop-color="#30ffc7"/><stop offset="0.609" stop-color="#23ffd4"/><stop offset="0.625" stop-color="#16ffe1"/><stop offset="0.641" stop-color="#09f0ee"/><stop offset="0.656" stop-color="#00e0fb"/><stop offset="0.672" stop-color="#00d0ff"/><stop offset="0.688" stop-color="#00c0ff"/><stop offset="0.703" stop-color="#00b0ff"/><stop offset="0.719" stop-color="#00a0ff"/><stop offset="0.734" stop-color="#0090ff"/><stop offset="0.750" stop-color="#0080ff"/><stop offset="0.766" stop-color="#0070ff"/><stop offset="0.781" stop-color="#0060ff"/><stop offset="0.797" stop-color="#0050ff"/><stop offset="0.812" stop-color="#0040ff"/><stop offset="0.828" stop-color="#0030ff"/><stop offset="0.844" stop-color="#0020ff"/><stop offset="0.859" stop-color="#0010ff"/><stop offset="0.875" stop-color="#0000ff"/><stop offset="0.891" stop-color="#0000ff"/><stop offset="0.906" stop-color="#0000ed"/><stop offset="0.922" stop-color="#0000da"/><stop offset="0.938" stop-color="#0000c8"/><stop offset="0.953" stop-color="#0000b6"/><stop offset="0.969" stop-color="#0000a4"/><stop offset="0.984" stop-color="#000092"/><stop offset="1.000" stop-color="#000080"/></linearGradient></defs>
<rect x="1214.2" y="72.9" width="14.899999999999864" height="811.8000000000001" fill="url(#gA)" stroke="#262626" stroke-width="0.8"/>
<path d="M1221.1 761.9L1229.1 761.9M1221.1 637.9L1229.1 637.9M1221.1 513.8L1229.1 513.8M1221.1 389.8L1229.1 389.8M1221.1 265.8L1229.1 265.8M1221.1 141.7L1229.1 141.7" stroke="#262626" stroke-width="1"/>
<text x="1235.1" y="766.1" font-size="12">0.2</text>
<text x="1235.1" y="642.1" font-size="12">0.4</text>
<text x="1235.1" y="518" font-size="12">0.6</text>
<text x="1235.1" y="394" font-size="12">0.8</text>
<text x="1235.1" y="270" font-size="12">1</text>
<text x="1235.1" y="145.9" font-size="12">1.2</text><path d="M104.3 1645.5L170 1442M170 1442L170 996.8M185.8 1647.1L251.5 1443.6M251.5 1443.6L251.5 998.4M267.3 1648.8L333 1445.3M333 1445.3L333 1000.1M348.8 1650.4L414.5 1446.9M414.5 1446.9L414.5 1001.7M430.3 1652.1L496 1448.6M496 1448.6L496 1003.4M511.8 1653.7L577.5 1450.2M577.5 1450.2L577.5 1005M593.3 1655.3L659 1451.8M659 1451.8L659 1006.6M674.8 1657L740.5 1453.5M740.5 1453.5L740.5 1008.3M756.3 1658.6L822 1455.1M822 1455.1L822 1009.9M837.8 1660.3L903.5 1456.8M903.5 1456.8L903.5 1011.6M105.6 1641.4L918.2 1657.8M105.6 1641.4L105.6 1196.2M111.6 1622.9L924.2 1639.2M111.6 1622.9L111.6 1177.7M117.6 1604.3L930.2 1620.7M117.6 1604.3L117.6 1159.1M123.6 1585.8L936.1 1602.1M123.6 1585.8L123.6 1140.6M129.6 1567.2L942.1 1583.6M129.6 1567.2L129.6 1122M135.6 1548.7L948.1 1565M135.6 1548.7L135.6 1103.5M141.6 1530.1L954.1 1546.5M141.6 1530.1L141.6 1084.9M147.5 1511.6L960.1 1527.9M147.5 1511.6L147.5 1066.4M153.5 1493L966.1 1509.4M153.5 1493L153.5 1047.8M159.5 1474.5L972.1 1490.8M159.5 1474.5L159.5 1029.3M165.5 1455.9L978.1 1472.3M165.5 1455.9L165.5 1010.7M170 1442L982.6 1458.4M104.3 1645.5L170 1442M170 1293.6L982.6 1310M104.3 1497.1L170 1293.6M170 1145.2L982.6 1161.6M104.3 1348.7L170 1145.2M170 996.8L982.6 1013.2M104.3 1200.3L170 996.8" stroke="#dedede" stroke-width="1" fill="none"/>
<path d="M104.3 1645.5L916.9 1661.9M104.3 1645.5L104.3 1200.3M916.9 1661.9L982.6 1458.4M104.3 1645.5L98.2 1664.3M185.8 1647.1L179.7 1666M267.3 1648.8L261.2 1667.6M348.8 1650.4L342.7 1669.3M430.3 1652.1L424.2 1670.9M511.8 1653.7L505.7 1672.5M593.3 1655.3L587.2 1674.2M674.8 1657L668.7 1675.8M756.3 1658.6L750.2 1677.5M837.8 1660.3L831.7 1679.1M124.7 1645.9L121.6 1655.3M145.1 1646.3L142 1655.7M165.4 1646.7L162.4 1656.2M206.2 1647.5L203.1 1657M226.6 1648L223.5 1657.4M246.9 1648.4L243.9 1657.8M287.7 1649.2L284.6 1658.6M308.1 1649.6L305 1659M328.4 1650L325.4 1659.4M369.2 1650.8L366.1 1660.3M389.6 1651.2L386.5 1660.7M409.9 1651.7L406.9 1661.1M450.7 1652.5L447.6 1661.9M471.1 1652.9L468 1662.3M491.4 1653.3L488.4 1662.7M532.2 1654.1L529.1 1663.5M552.6 1654.5L549.5 1663.9M572.9 1654.9L569.9 1664.4M613.7 1655.8L610.6 1665.2M634 1656.2L631 1665.6M654.4 1656.6L651.4 1666M695.2 1657.4L692.1 1666.8M715.5 1657.8L712.5 1667.2M735.9 1658.2L732.9 1667.6M776.7 1659L773.6 1668.5M797 1659.4L794 1668.9M817.4 1659.8L814.4 1669.3M858.2 1660.7L855.1 1670.1M878.5 1661.1L875.5 1670.5M898.9 1661.5L895.9 1670.9M104.3 1645.5L84.8 1645.5M104.3 1497.1L84.8 1497.1M104.3 1348.7L84.8 1348.7M104.3 1200.3L84.8 1200.3M918.2 1657.8L938.6 1658.2M924.2 1639.2L944.6 1639.6M930.2 1620.7L950.5 1621.1M936.1 1602.1L956.5 1602.5M942.1 1583.6L962.5 1584M948.1 1565L968.5 1565.4M954.1 1546.5L974.5 1546.9M960.1 1527.9L980.5 1528.3M966.1 1509.4L986.5 1509.8M972.1 1490.8L992.5 1491.2" stroke="#262626" stroke-width="1" fill="none"/>
<g class="mB"><path class="f" d="M160 1371l10-22 10-22 10-20 11-19 10-18 10-17 11-16 10-14 10-14 10-14 11-13 10-12 10-10 11-9 10-7 10-5 10-4 11 1 10 5 10 6 11 10 10 12 10 14 10 14 11 14 10 17 10 17 11 12 10 8 10 6 10 5 11 5 10 4 10 3 11 3 10 2 10 2 10 1 11 2 10 1 10 2 11 4 10 4 10 8 10 12 11 11 10 12 10 13 11 11 10 12 10 11 10 10 11 10 10 10 10 8 11 8 10 8 10 6 10 6 11 4 10 4 10 4 11 3 10 2 10 2 10 1 11 2 10 1 10 0 11 1 10 0 10 0 10 1 11 0 10 0 10 0 11 0 10 1 10 0-6 18-10 0-10 0-11 0-10 0-10-1-11 0-10 0-10 0-10 0-11-1-10 0-10 0-11 0-10-1-10 0-10 0-11 0-10-1-10-3-11-5-10-6-10-7-10-7-11-9-10-10-10-9-11-10-10-10-10-10-10-10-11-9-10-9-10-9-11-9-10-8-10-8-10-9-11-9-10-9-10-6-11-4-10-4-10-3-10-3-11-4-10-6-10-6-11-6-10-8-10-7-10-8-11-8-10-10-10-9-11-10-10-9-10-8-10-7-11-7-10-6-10-3-11 1-10 2-10 3-10 4-11 7-10 9-10 13-11 14-10 15-10 15-10 14-11 15-10 16-10 16-11 17-10 18-10 18-10 19z"/>
<path class="k29" d="M159.5 1370.6l5.2-11.1M663.5 1376.4l5.2 5.7 5.1 5.5"/>
<path class="k28" d="M164.7 1359.5l5.1-10.9M658.4 1370.5l5.1 5.9"/>
<path class="k27" d="M169.8 1348.6l5.2-10.7M648.1 1358.4l5.1 6.1 5.2 6"/>
<path class="k25" d="M175 1337.9l5.1-10.4M632.7 1340.2l5.1 6 5.1 6.1"/>
<path class="k24" d="M180.1 1327.5l5.1-10.3M627.5 1334.3l5.2 5.9"/>
<path class="k23" d="M185.2 1317.2l5.2-10M617.2 1322.5l5.2 6.1 5.1 5.7"/>
<path class="k22" d="M190.4 1307.2l5.1-9.7M612.1 1316.6l5.1 5.9"/>
<path class="k21" d="M195.5 1297.5l5.2-9.5M591.5 1304.6l5.2 2.1 5.1 2.5 5.1 2.9 5.2 4.5"/>
<path class="k20" d="M200.7 1288l5.1-9.2M534.9 1294l5.2 0.9 5.1 0.8 5.2 0.6 5.1 0.6 5.2 0.7 5.1 0.7 5.1 0.8 5.2 1 5.1 1.2 5.2 1.5 5.1 1.8"/>
<path class="k19" d="M205.8 1278.8l5.2-8.9M498.9 1284.7l5.2 1.7 5.1 1.6 5.2 1.4 5.1 1.3 5.2 1.2 5.1 1.1 5.1 1"/>
<path class="k18" d="M211 1269.9l5.1-8.7M478.4 1276.4l5.1 2.3 5.2 2.2 5.1 2 5.1 1.8"/>
<path class="k17" d="M216.1 1261.2l5.1-8.3M463 1267.9l5.1 3.1 5.1 2.8 5.2 2.6"/>
<path class="k16" d="M221.2 1252.9l5.2-8M447.5 1256.9l5.2 4 5.1 3.6 5.2 3.4"/>
<path class="k0" d="M226.4 1244.9l5.1-7.7M442.4 1251.5l5.1 5.4"/>
<path class="k1" d="M231.5 1237.2l5.2-7.4M437.2 1244.6l5.2 6.9"/>
<path class="k2" d="M236.7 1229.8l5.1-7M432.1 1236.8l5.1 7.8"/>
<path class="k3" d="M241.8 1222.8l5.2-6.9M427 1228.4l5.1 8.4"/>
<path class="k4" d="M247 1215.9l5.1-7 5.1-6.8M421.8 1219.8l5.2 8.6"/>
<path class="k5" d="M257.2 1202.1l5.2-6.8M411.5 1203.8l5.2 7.7 5.1 8.3"/>
<path class="k6" d="M262.4 1195.3l5.1-6.6M406.4 1196.9l5.1 6.9"/>
<path class="k7" d="M267.5 1188.7l5.2-6.4M401.2 1189.9l5.2 7"/>
<path class="k8" d="M272.7 1182.3l5.1-6.1 5.2-5.9M396.1 1182.7l5.1 7.2"/>
<path class="k9" d="M283 1170.3l5.1-5.5M385.8 1168.8l5.2 6.8 5.1 7.1"/>
<path class="k10" d="M288.1 1164.8l5.1-5.2 5.2-4.7M380.7 1162.4l5.1 6.4"/>
<path class="k11" d="M298.4 1154.9l5.1-4.3 5.2-3.7M370.4 1151.5l5.1 5.1 5.2 5.8"/>
<path class="k12" d="M308.7 1146.9l5.1-3.2 5.2-2.6 5.1-2.5M355 1141.1l5.1 3.1 5.1 3.2 5.2 4.1"/>
<path class="k13" d="M324.1 1138.6l5.1-2.1 5.2-1.3 5.1-0.1 5.2 1.1 5.1 2.2 5.2 2.7"/>
<path class="k26" d="M642.9 1352.3l5.2 6.1"/>
<path class="k30" d="M673.8 1387.6l5.1 5.5"/>
<path class="k31" d="M678.9 1393.1l5.2 5.5 5.1 5.4"/>
<path class="k32" d="M689.2 1404l5.2 5.3 5.1 5.1"/>
<path class="k33" d="M699.5 1414.4l5.2 5 5.1 4.8"/>
<path class="k34" d="M709.8 1424.2l5.1 4.5"/>
<path class="k35" d="M714.9 1428.7l5.2 4.3 5.1 4.1 5.2 4.1"/>
<path class="k36" d="M730.4 1441.2l5.1 4 5.2 3.9"/>
<path class="k37" d="M740.7 1449.1l5.1 3.6 5.1 3.4"/>
<path class="k38" d="M750.9 1456.1l5.2 3.2 5.1 2.8 5.2 2.5 5.1 2.3"/>
<path class="k39" d="M771.5 1466.9l5.2 2.2 5.1 2.2 5.1 1.9 5.2 1.9"/>
<path class="k40" d="M792.1 1475.1l5.1 1.6 5.2 1.5 5.1 1.4 5.2 1.1 5.1 1.1 5.1 1 5.2 0.9"/>
<path class="k41" d="M828.1 1483.7l5.1 0.9 5.2 0.9 5.1 0.7 5.2 0.6 5.1 0.5 5.1 0.4 5.2 0.2 5.1 0.3 5.2 0.3 5.1 0.2 5.2 0.2 5.1 0.2 5.1 0.1 5.2 0.2 5.1 0.1 5.2 0.1 5.1 0.1 5.2 0.1 5.1 0.1 5.1 0.1 5.2 0.1 5.1 0.1 5.2 0.1 5.1 0.1 5.2 0.1 5.1 0.1 5.1 0.1 5.2 0.1"/>
<path class="k31" d="M153.5 1404l6-33.4M662.7 1414l6-31.9M667.8 1418.9l6-31.3"/>
<path class="k30" d="M158.7 1394.5l6-35M652.4 1404.5l6-34M657.5 1409.2l6-32.8"/>
<path class="k29" d="M163.8 1385.1l6-36.5M642.1 1395.2l6-36.8M647.2 1399.8l6-35.3"/>
<path class="k28" d="M169 1375.9l6-38M631.8 1386.1l6-39.9M637 1390.6l5.9-38.3"/>
<path class="k27" d="M174.1 1366.9l6-39.4M621.5 1377.3l6-43M626.7 1381.6l6-41.4"/>
<path class="k26" d="M179.3 1358l5.9-40.8M611.2 1368.9l6-46.4M616.4 1373l6-44.4"/>
<path class="k25" d="M184.4 1349.3l6-42.1M601 1360.8l5.9-48.7M606.1 1364.8l6-48.2"/>
<path class="k24" d="M189.5 1340.7l6-43.2M585.5 1348.5l6-43.9M590.7 1352.7l6-46M595.8 1356.8l6-47.6"/>
<path class="k23" d="M194.7 1332.3l6-44.3M580.4 1344.1l6-41.3"/>
<path class="k22" d="M199.8 1324.1l6-45.3M570.1 1333.8l6-33.7M575.2 1339l6-37.7"/>
<path class="k21" d="M205 1316l6-46.1M549.5 1321.8l6-24.9M554.7 1324l6-26.4M559.8 1326.6l6-28.3M565 1329.5l5.9-30.4"/>
<path class="k20" d="M210.1 1308.1l6-46.9M523.8 1313.2l6-20.2M529 1314.8l5.9-20.8M534.1 1316.4l6-21.5M539.2 1318l6-22.3M544.4 1319.8l6-23.5"/>
<path class="k19" d="M215.3 1300.3l5.9-47.4M498.1 1303.2l6-16.8M503.2 1305.7l6-17.7M508.4 1307.8l6-18.4M513.5 1309.8l6-19.1M518.7 1311.6l6-19.7"/>
<path class="k18" d="M220.4 1292.7l6-47.8M482.7 1294.4l6-13.5M487.8 1297.5l6-14.6M493 1300.5l5.9-15.8"/>
<path class="k17" d="M225.5 1285.3l6-48.1M472.4 1287.6l6-11.2M477.5 1291.1l6-12.4"/>
<path class="k16" d="M230.7 1278.1l6-48.3M235.8 1271l6-48.2M457 1276.5l6-8.6M462.1 1280.3l6-9.3M467.2 1284l6-10.2"/>
<path class="k0" d="M241 1263.8l6-47.9M446.7 1268.8l6-7.9M451.8 1272.7l6-8.2"/>
<path class="k1" d="M246.1 1256.3l6-47.4M436.4 1260.9l6-9.4M441.5 1264.9l6-8"/>
<path class="k2" d="M251.3 1248.8l5.9-46.7M426.1 1252.1l6-15.3M431.2 1256.6l6-12"/>
<path class="k3" d="M256.4 1241.3l6-46M415.8 1242.5l6-22.7M421 1247.4l6-19"/>
<path class="k4" d="M261.5 1234l6-45.3M405.5 1232.7l6-28.9M410.7 1237.6l6-26.1"/>
<path class="k5" d="M266.7 1227l6-44.7M271.8 1220.4l6-44.2M395.2 1223.3l6-33.4M400.4 1227.9l6-31"/>
<path class="k6" d="M277 1214.4l6-44.1M385 1214.8l6-39.2M390.1 1218.9l6-36.2"/>
<path class="k7" d="M282.1 1209.1l6-44.3M287.2 1204.6l6-45M369.5 1204.1l6-47.5M374.7 1207.6l6-45.2M379.8 1211.1l6-42.3"/>
<path class="k8" d="M292.4 1201l6-46.1M297.5 1198.5l6-47.9M302.7 1196.3l6-49.4M307.8 1194.3l6-50.6M359.2 1196.9l6-49.5M364.4 1200.4l6-48.9"/>
<path class="k9" d="M313 1192.4l6-51.3M318.1 1190.8l6-52.2M323.2 1189.5l6-53M328.4 1188.6l6-53.4M333.5 1188.1l6-53M338.7 1188.1l6-51.9M343.8 1189.2l6-50.8M349 1191.1l6-50M354.1 1193.7l6-49.5"/>
<path class="k32" d="M673 1423.9l5.9-30.8M678.1 1429l6-30.4"/>
<path class="k33" d="M683.2 1434.1l6-30.1"/>
<path class="k34" d="M688.4 1439.2l6-29.9M693.5 1444.2l6-29.8"/>
<path class="k35" d="M698.7 1449.1l6-29.7M703.8 1453.8l6-29.6"/>
<path class="k36" d="M709 1458.4l5.9-29.7M714.1 1463.1l6-30.1"/>
<path class="k37" d="M719.2 1467.7l6-30.6M724.4 1472.2l6-31"/>
<path class="k38" d="M729.5 1476.5l6-31.3M734.7 1480.5l6-31.4"/>
<path class="k39" d="M739.8 1484.2l6-31.5M745 1487.4l5.9-31.3M750.1 1490.5l6-31.2"/>
<path class="k40" d="M755.2 1493.7l6-31.6M760.4 1496.8l6-32.2M765.5 1499.7l6-32.8"/>
<path class="k41" d="M770.7 1502.2l6-33.1M775.8 1504.1l6-32.8M781 1505.3l5.9-32.1M786.1 1505.7l6-30.6M791.2 1505.9l6-29.2M796.4 1506l6-27.8M801.5 1506.1l6-26.5M806.7 1506.2l6-25.5M811.8 1506.3l6-24.5M817 1506.4l5.9-23.6M822.1 1506.5l6-22.8M827.2 1506.6l6-22M832.4 1506.7l6-21.2M837.5 1506.8l6-20.6M842.7 1506.9l6-20.1M847.8 1507l6-19.7M853 1507.1l5.9-19.4M858.1 1507.2l6-19.3M863.2 1507.3l6-19.1M868.4 1507.4l6-18.9M873.5 1507.5l6-18.8M878.7 1507.6l6-18.7M883.8 1507.7l6-18.6M889 1507.8l5.9-18.6M894.1 1507.9l6-18.5M899.2 1508l6-18.5M904.4 1508.1l6-18.5M909.5 1508.2l6-18.5M914.7 1508.3l6-18.5M919.8 1508.4l6-18.5M925 1508.5l5.9-18.5M930.1 1508.6l6-18.5M935.2 1508.7l6-18.5M940.4 1508.9l6-18.6M945.5 1509l6-18.6M950.7 1509.1l6-18.6M955.8 1509.2l6-18.6M961 1509.3l5.9-18.6M966.1 1509.4l6-18.6"/>
<path class="f" d="M154 1404l10-19 10-18 10-18 11-17 10-16 10-16 11-15 10-14 10-15 10-15 11-14 10-13 10-9 11-7 10-4 10-3 10-2 11-1 10 3 10 6 11 7 10 7 10 8 10 9 11 10 10 9 10 10 11 8 10 8 10 7 10 8 11 6 10 6 10 6 11 4 10 3 10 3 10 4 11 4 10 6 10 9 11 9 10 9 10 8 10 8 11 9 10 9 10 9 11 9 10 10 10 10 10 10 11 10 10 9 10 10 11 9 10 7 10 7 10 6 11 5 10 3 10 1 11 0 10 0 10 0 10 1 11 0 10 0 10 0 11 1 10 0 10 0 10 0 11 0 10 1 10 0 11 0 10 0 10 0-6 19-10 0-10 0-11-1-10 0-10 0-11 0-10-1-10 0-10 0-11 0-10-1-10-1-11-1-10-1-10-2-10-2-11-3-10-4-10-5-11-5-10-5-10-8-10-9-11-10-10-11-10-11-11-12-10-12-10-13-10-12-11-10-10-10-10-10-11-8-10-5-10-4-10-3-11-2-10-1-10 0-11 2-10 3-10 2-10 4-11 2-10-2-10-13-11-18-10-17-10-17-10-17-11-13-10-7-10-7-11-8-10-9-10-10-10-11-11-12-10-12-10-10-11-7-10-6-10-6-10-3-11 0-10 8-10 12-11 13-10 14-10 18-10 20-11 21-10 23-10 24-11 27-10 28-10 30-10 32z"/>
<path class="k31" d="M153.5 1404l5.2-9.5M662.7 1414l5.1 4.9 5.2 5"/>
<path class="k30" d="M158.7 1394.5l5.1-9.4M652.4 1404.5l5.1 4.7 5.2 4.8"/>
<path class="k29" d="M163.8 1385.1l5.2-9.2M642.1 1395.2l5.1 4.6 5.2 4.7"/>
<path class="k28" d="M169 1375.9l5.1-9M631.8 1386.1l5.2 4.5 5.1 4.6"/>
<path class="k27" d="M174.1 1366.9l5.2-8.9M621.5 1377.3l5.2 4.3 5.1 4.5"/>
<path class="k26" d="M179.3 1358l5.1-8.7M611.2 1368.9l5.2 4.1 5.1 4.3"/>
<path class="k25" d="M184.4 1349.3l5.1-8.6M601 1360.8l5.1 4 5.1 4.1"/>
<path class="k24" d="M189.5 1340.7l5.2-8.4M585.5 1348.5l5.2 4.2 5.1 4.1 5.2 4"/>
<path class="k23" d="M194.7 1332.3l5.1-8.2M580.4 1344.1l5.1 4.4"/>
<path class="k22" d="M199.8 1324.1l5.2-8.1M570.1 1333.8l5.1 5.2 5.2 5.1"/>
<path class="k21" d="M205 1316l5.1-7.9M549.5 1321.8l5.2 2.2 5.1 2.6 5.2 2.9 5.1 4.3"/>
<path class="k20" d="M210.1 1308.1l5.2-7.8M523.8 1313.2l5.2 1.6 5.1 1.6 5.1 1.6 5.2 1.8 5.1 2"/>
<path class="k19" d="M215.3 1300.3l5.1-7.6M498.1 1303.2l5.1 2.5 5.2 2.1 5.1 2 5.2 1.8 5.1 1.6"/>
<path class="k18" d="M220.4 1292.7l5.1-7.4M482.7 1294.4l5.1 3.1 5.2 3 5.1 2.7"/>
<path class="k17" d="M225.5 1285.3l5.2-7.2M472.4 1287.6l5.1 3.5 5.2 3.3"/>
<path class="k16" d="M230.7 1278.1l5.1-7.1 5.2-7.2M457 1276.5l5.1 3.8 5.1 3.7 5.2 3.6"/>
<path class="k0" d="M241 1263.8l5.1-7.5M446.7 1268.8l5.1 3.9 5.2 3.8"/>
<path class="k1" d="M246.1 1256.3l5.2-7.5M436.4 1260.9l5.1 4 5.2 3.9"/>
<path class="k2" d="M251.3 1248.8l5.1-7.5M426.1 1252.1l5.1 4.5 5.2 4.3"/>
<path class="k3" d="M256.4 1241.3l5.1-7.3M415.8 1242.5l5.2 4.9 5.1 4.7"/>
<path class="k4" d="M261.5 1234l5.2-7M405.5 1232.7l5.2 4.9 5.1 4.9"/>
<path class="k5" d="M266.7 1227l5.1-6.6 5.2-6M395.2 1223.3l5.2 4.6 5.1 4.8"/>
<path class="k6" d="M277 1214.4l5.1-5.3M385 1214.8l5.1 4.1 5.1 4.4"/>
<path class="k7" d="M282.1 1209.1l5.1-4.5 5.2-3.6M369.5 1204.1l5.2 3.5 5.1 3.5 5.2 3.7"/>
<path class="k8" d="M292.4 1201l5.1-2.5 5.2-2.2 5.1-2 5.2-1.9M359.2 1196.9l5.2 3.5 5.1 3.7"/>
<path class="k9" d="M313 1192.4l5.1-1.6 5.1-1.3 5.2-0.9 5.1-0.5 5.2 0 5.1 1.1 5.2 1.9 5.1 2.6 5.1 3.2"/>
<path class="k32" d="M673 1423.9l5.1 5.1 5.1 5.1"/>
<path class="k33" d="M683.2 1434.1l5.2 5.1"/>
<path class="k34" d="M688.4 1439.2l5.1 5 5.2 4.9"/>
<path class="k35" d="M698.7 1449.1l5.1 4.7 5.2 4.6"/>
<path class="k36" d="M709 1458.4l5.1 4.7 5.1 4.6"/>
<path class="k37" d="M719.2 1467.7l5.2 4.5 5.1 4.3"/>
<path class="k38" d="M729.5 1476.5l5.2 4 5.1 3.7"/>
<path class="k39" d="M739.8 1484.2l5.2 3.2 5.1 3.1 5.1 3.2"/>
<path class="k40" d="M755.2 1493.7l5.2 3.1 5.1 2.9 5.2 2.5"/>
<path class="k41" d="M770.7 1502.2l5.1 1.9 5.2 1.2 5.1 0.4 5.1 0.2 5.2 0.1 5.1 0.1 5.2 0.1 5.1 0.1 5.2 0.1 5.1 0.1 5.1 0.1 5.2 0.1 5.1 0.1 5.2 0.1 5.1 0.1 5.2 0.1 5.1 0.1 5.1 0.1 5.2 0.1 5.1 0.1 5.2 0.1 5.1 0.1 5.2 0.1 5.1 0.1 5.1 0.1 5.2 0.1 5.1 0.1 5.2 0.1 5.1 0.1 5.2 0.1 5.1 0.1 5.1 0.1 5.2 0.2 5.1 0.1 5.2 0.1 5.1 0.1 5.2 0.1 5.1 0.1"/>
<path class="k31" d="M147.5 1422.5l6-18.5M682.4 1435.2l6 4"/>
<path class="k29" d="M152.7 1406.5l6-12M667 1416.3l6 7.6"/>
<path class="k27" d="M157.8 1390.9l6-5.8M651.5 1398.5l6 10.7"/>
<path class="k25" d="M163 1375.7l6 0.2M631 1377.7l6 12.9M636.1 1382.9l6 12.3"/>
<path class="k24" d="M168.1 1360.9l6 6M620.7 1367.9l6 13.7M625.8 1372.7l6 13.4"/>
<path class="k22" d="M173.3 1346.6l6 11.4M481.8 1350.3l6-52.8M487 1355.7l6-55.2M507.5 1355.8l6-46M512.7 1354.2l6-42.6M517.8 1352.4l6-39.2M523 1350.9l6-36.1M528.1 1349.7l6-33.3M533.3 1348.4l5.9-30.4M584.7 1349.7l6 3M589.8 1351.2l6 5.6M595 1352.8l6 8M600.1 1354.5l6 10.3M605.3 1356.8l5.9 12.1"/>
<path class="k21" d="M178.4 1332.8l6 16.5M476.7 1342.9l6-48.5M538.4 1347.1l6-27.3M543.5 1345.9l6-24.1M548.7 1345l6-21M553.8 1344.7l6-18.1M559 1344.8l6-15.3M564.1 1345.3l6-11.5M569.3 1346.1l5.9-7.1M574.4 1347.1l6-3M579.5 1348.3l6 0.2"/>
<path class="k19" d="M183.5 1319.4l6 21.3M466.4 1325.1l6-37.5"/>
<path class="k18" d="M188.7 1306.4l6 25.9M461.3 1316.2l5.9-32.2"/>
<path class="k16" d="M193.8 1293.9l6 30.2M451 1300.3l6-23.8"/>
<path class="k0" d="M199 1281.9l6 34.1M445.8 1291.5l6-18.8"/>
<path class="k2" d="M204.1 1270.4l6 37.7M435.5 1274.3l6-9.4"/>
<path class="k3" d="M209.3 1259.3l6 41M425.3 1261.2l5.9-4.6M430.4 1266.9l6-6"/>
<path class="k4" d="M214.4 1248.5l6 44.2M409.8 1250.7l6-8.2M415 1253.7l6-6.3M420.1 1257l6-4.9"/>
<path class="k5" d="M219.5 1237.9l6 47.4M399.5 1243.6l6-10.9M404.7 1247.5l6-9.9"/>
<path class="k7" d="M224.7 1227.7l6 50.4M379 1224.7l6-9.9M384.1 1229.7l6-10.8"/>
<path class="k8" d="M229.8 1217.9l6 53.1M368.7 1214.4l6-6.8M373.8 1219.5l6-8.4"/>
<path class="k9" d="M235 1208.7l6 55.1M363.5 1209l6-4.9"/>
<path class="k10" d="M240.1 1200.3l6 56M353.3 1196.9l5.9 0M358.4 1203.1l6-2.7"/>
<path class="k11" d="M245.3 1192.6l6 56.2M250.4 1185.9l6 55.4M348.1 1190.7l6 3"/>
<path class="k12" d="M255.5 1179.3l6 54.7M337.8 1179.6l6 9.6M343 1184.9l6 6.2"/>
<path class="k13" d="M260.7 1172.5l6 54.5M327.5 1171.7l6 16.4M332.7 1175.2l6 12.9"/>
<path class="k14" d="M265.8 1166.1l6 54.3M271 1160.5l6 53.9M312.1 1161.5l6 29.3M317.3 1164.7l5.9 24.8M322.4 1168.2l6 20.4"/>
<path class="k15" d="M276.1 1156l6 53.1M281.3 1153.2l5.9 51.4M286.4 1152.3l6 48.7M291.5 1152.8l6 45.7M296.7 1154.2l6 42.1M301.8 1156.1l6 38.2M307 1158.6l6 33.8"/>
<path class="k6" d="M389.3 1234.6l5.9-11.3M394.4 1239.3l6-11.4"/>
<path class="k1" d="M440.7 1282.6l6-13.8"/>
<path class="k17" d="M456.1 1308.4l6-28.1"/>
<path class="k20" d="M471.5 1334.2l6-43.1"/>
<path class="k23" d="M492.1 1358.2l6-55M497.3 1358.1l5.9-52.4M502.4 1357.2l6-49.4M610.4 1359.8l6 13.2M615.5 1363.6l6 13.7"/>
<path class="k26" d="M641.3 1388.1l5.9 11.7M646.4 1393.3l6 11.2"/>
<path class="k28" d="M656.7 1404.1l6 9.9M661.8 1410.1l6 8.8"/>
<path class="k30" d="M672.1 1422.6l6 6.4M677.3 1429l5.9 5.1"/>
<path class="k32" d="M687.5 1441.2l6 3M692.7 1447l6 2.1"/>
<path class="k33" d="M697.8 1452.4l6 1.4"/>
<path class="k34" d="M703 1457.9l6 0.5M708.1 1463.4l6-0.3"/>
<path class="k35" d="M713.3 1468.9l5.9-1.2M718.4 1474.2l6-2"/>
<path class="k36" d="M723.5 1479.2l6-2.7"/>
<path class="k37" d="M728.7 1484l6-3.5M733.8 1488.3l6-4.1M739 1492.3l6-4.9"/>
<path class="k38" d="M744.1 1495.7l6-5.2M749.2 1498.7l6-5M754.4 1501.4l6-4.6"/>
<path class="k39" d="M759.5 1503.9l6-4.2M764.7 1506.3l6-4.1M769.8 1508.5l6-4.4M775 1510.7l6-5.4"/>
<path class="k40" d="M780.1 1512.8l6-7.1M785.2 1514.8l6-8.9M790.4 1516.5l6-10.5M795.5 1517.9l6-11.8M800.7 1519l6-12.8M805.8 1519.9l6-13.6"/>
<path class="k41" d="M811 1520.7l6-14.3M816.1 1521.6l6-15.1M821.2 1522.3l6-15.7M826.4 1523.1l6-16.4M831.5 1523.7l6-16.9M836.7 1524.3l6-17.4M841.8 1524.8l6-17.8M847 1525.3l6-18.2M852.1 1525.6l6-18.4M857.2 1525.8l6-18.5M862.4 1526l6-18.6M867.5 1526.1l6-18.6M872.7 1526.2l6-18.6M877.8 1526.3l6-18.6M883 1526.4l6-18.6M888.1 1526.5l6-18.6M893.2 1526.6l6-18.6M898.4 1526.7l6-18.6M903.5 1526.8l6-18.6M908.7 1526.9l6-18.6M913.8 1527l6-18.6M919 1527.1l6-18.6M924.1 1527.2l6-18.6M929.2 1527.3l6-18.6M934.4 1527.4l6-18.5M939.5 1527.5l6-18.5M944.7 1527.6l6-18.5M949.8 1527.7l6-18.5M955 1527.8l6-18.5M960.1 1527.9l6-18.5"/>
<path class="f" d="M148 1423l10-32 10-30 10-28 11-27 10-24 10-23 11-21 10-20 10-18 10-14 11-13 10-12 10-8 11 0 10 3 10 6 10 6 11 7 10 10 10 12 11 12 10 11 10 10 10 9 11 8 10 7 10 7 11 13 10 17 10 17 10 17 11 18 10 13 10 2 11-2 10-4 10-2 10-3 11-2 10 0 10 1 11 2 10 3 10 4 10 5 11 8 10 10 10 10 11 10 10 12 10 13 10 12 11 12 10 11 10 11 11 10 10 9 10 8 10 5 11 5 10 5 10 4 11 3 10 2 10 2 10 1 11 1 10 1 10 1 11 0 10 0 10 0 10 1 11 0 10 0 10 0 11 1 10 0 10 0-6 18-10 0-10 0-11 0-10 0-10-1-11 0-10 0-10 0-10 0-11-1-10 0-10 0-11 0-10 0-10-1-10 0-11 0-10 0-10 0-11-1-10 0-10-2-10-6-11-9-10-9-10-9-11-9-10-9-10-10-10-8-11-9-10-9-10-8-11-7-10-6-10-6-10-4-11-4-10-3-10-3-11-2-10-2-10-3-10-4-11-6-10-9-10-9-11-12-10-17-10-19-10-21-11-25-10-17-10-14-11-16-10-20-10-16-10-14-11-11-10-9-10-8-11-8-10-7-10-8-10-4-11 4-10 10-10 14-11 16-10 17-10 22-10 24-11 25-10 25-10 25-11 27-10 28-10 28-10 30z"/>
<path class="k31" d="M147.5 1422.5l5.2-16M682.4 1435.2l5.1 6"/>
<path class="k29" d="M152.7 1406.5l5.1-15.6M667 1416.3l5.1 6.3"/>
<path class="k27" d="M157.8 1390.9l5.2-15.2M651.5 1398.5l5.2 5.6"/>
<path class="k25" d="M163 1375.7l5.1-14.8M631 1377.7l5.1 5.2 5.2 5.2"/>
<path class="k24" d="M168.1 1360.9l5.2-14.3M620.7 1367.9l5.1 4.8 5.2 5"/>
<path class="k22" d="M173.3 1346.6l5.1-13.8M481.8 1350.3l5.2 5.4 5.1 2.5M507.5 1355.8l5.2-1.6 5.1-1.8 5.2-1.5 5.1-1.2 5.2-1.3 5.1-1.3M584.7 1349.7l5.1 1.5 5.2 1.6 5.1 1.7 5.2 2.3 5.1 3"/>
<path class="k21" d="M178.4 1332.8l5.1-13.4M476.7 1342.9l5.1 7.4M538.4 1347.1l5.1-1.2 5.2-0.9 5.1-0.3 5.2 0.1 5.1 0.5 5.2 0.8 5.1 1 5.1 1.2 5.2 1.4"/>
<path class="k19" d="M183.5 1319.4l5.2-13M466.4 1325.1l5.1 9.1"/>
<path class="k18" d="M188.7 1306.4l5.1-12.5M461.3 1316.2l5.1 8.9"/>
<path class="k16" d="M193.8 1293.9l5.2-12M451 1300.3l5.1 8.1"/>
<path class="k0" d="M199 1281.9l5.1-11.5M445.8 1291.5l5.2 8.8"/>
<path class="k2" d="M204.1 1270.4l5.2-11.1M435.5 1274.3l5.2 8.3"/>
<path class="k3" d="M209.3 1259.3l5.1-10.8M425.3 1261.2l5.1 5.7 5.1 7.4"/>
<path class="k4" d="M214.4 1248.5l5.1-10.6M409.8 1250.7l5.2 3 5.1 3.3 5.2 4.2"/>
<path class="k5" d="M219.5 1237.9l5.2-10.2M399.5 1243.6l5.2 3.9 5.1 3.2"/>
<path class="k7" d="M224.7 1227.7l5.1-9.8M379 1224.7l5.1 5 5.2 4.9"/>
<path class="k8" d="M229.8 1217.9l5.2-9.2M368.7 1214.4l5.1 5.1 5.2 5.2"/>
<path class="k9" d="M235 1208.7l5.1-8.4M363.5 1209l5.2 5.4"/>
<path class="k10" d="M240.1 1200.3l5.2-7.7M353.3 1196.9l5.1 6.2 5.1 5.9"/>
<path class="k11" d="M245.3 1192.6l5.1-6.7 5.1-6.6M348.1 1190.7l5.2 6.2"/>
<path class="k12" d="M255.5 1179.3l5.2-6.8M337.8 1179.6l5.2 5.3 5.1 5.8"/>
<path class="k13" d="M260.7 1172.5l5.1-6.4M327.5 1171.7l5.2 3.5 5.1 4.4"/>
<path class="k14" d="M265.8 1166.1l5.2-5.6 5.1-4.5M312.1 1161.5l5.2 3.2 5.1 3.5 5.1 3.5"/>
<path class="k15" d="M276.1 1156l5.2-2.8 5.1-0.9 5.1 0.5 5.2 1.4 5.1 1.9 5.2 2.5 5.1 2.9"/>
<path class="k6" d="M389.3 1234.6l5.1 4.7 5.1 4.3"/>
<path class="k1" d="M440.7 1282.6l5.1 8.9"/>
<path class="k17" d="M456.1 1308.4l5.2 7.8"/>
<path class="k20" d="M471.5 1334.2l5.2 8.7"/>
<path class="k23" d="M492.1 1358.2l5.2-0.1 5.1-0.9 5.1-1.4M610.4 1359.8l5.1 3.8 5.2 4.3"/>
<path class="k26" d="M641.3 1388.1l5.1 5.2 5.1 5.2"/>
<path class="k28" d="M656.7 1404.1l5.1 6 5.2 6.2"/>
<path class="k30" d="M672.1 1422.6l5.2 6.4 5.1 6.2"/>
<path class="k32" d="M687.5 1441.2l5.2 5.8 5.1 5.4"/>
<path class="k33" d="M697.8 1452.4l5.2 5.5"/>
<path class="k34" d="M703 1457.9l5.1 5.5 5.2 5.5"/>
<path class="k35" d="M713.3 1468.9l5.1 5.3 5.1 5"/>
<path class="k36" d="M723.5 1479.2l5.2 4.8"/>
<path class="k37" d="M728.7 1484l5.1 4.3 5.2 4 5.1 3.4"/>
<path class="k38" d="M744.1 1495.7l5.1 3 5.2 2.7 5.1 2.5"/>
<path class="k39" d="M759.5 1503.9l5.2 2.4 5.1 2.2 5.2 2.2 5.1 2.1"/>
<path class="k40" d="M780.1 1512.8l5.1 2 5.2 1.7 5.1 1.4 5.2 1.1 5.1 0.9 5.2 0.8"/>
<path class="k41" d="M811 1520.7l5.1 0.9 5.1 0.7 5.2 0.8 5.1 0.6 5.2 0.6 5.1 0.5 5.2 0.5 5.1 0.3 5.1 0.2 5.2 0.2 5.1 0.1 5.2 0.1 5.1 0.1 5.2 0.1 5.1 0.1 5.1 0.1 5.2 0.1 5.1 0.1 5.2 0.1 5.1 0.1 5.2 0.1 5.1 0.1 5.1 0.1 5.2 0.1 5.1 0.1 5.2 0.1 5.1 0.1 5.2 0.1 5.1 0.1"/>
<path class="k29" d="M141.6 1426.2l5.9-3.7M594.1 1431.6l6-77.1M599.3 1434.6l6-77.8M604.4 1437.9l6-78.1"/>
<path class="k27" d="M146.7 1411.2l6-4.7M537.5 1410.9l6-65M542.7 1412l6-67M547.8 1413.3l6-68.6M553 1414.8l6-70M558.1 1416.5l6-71.2M563.3 1418.2l6-72.1M568.4 1420.1l6-73"/>
<path class="k26" d="M151.8 1396.5l6-5.6M506.7 1403.3l6-49.1M511.8 1405.1l6-52.7M517 1406.6l6-55.7M522.1 1407.8l6-58.1M527.3 1408.8l6-60.4M532.4 1409.8l6-62.7"/>
<path class="k24" d="M157 1382l6-6.3M481 1386.4l6-30.7M486.1 1390.8l6-32.6"/>
<path class="k22" d="M162.1 1367.8l6-6.9M465.6 1371.2l5.9-37"/>
<path class="k21" d="M167.3 1353.8l6-7.2M455.3 1356.9l6-40.7M460.4 1364.7l6-39.6"/>
<path class="k19" d="M172.4 1340.1l6-7.3M445 1338.8l6-38.5"/>
<path class="k18" d="M177.6 1326.6l5.9-7.2"/>
<path class="k16" d="M182.7 1313.4l6-7M434.7 1318.8l6-36.2"/>
<path class="k0" d="M187.8 1300.4l6-6.5M429.6 1307.6l5.9-33.3"/>
<path class="k2" d="M193 1287.6l6-5.7"/>
<path class="k3" d="M198.1 1275.1l6-4.7M419.3 1282.5l6-21.3"/>
<path class="k5" d="M203.3 1262.8l6-3.5M403.8 1259.2l6-8.5M409 1265.9l6-12.2"/>
<path class="k6" d="M208.4 1250.5l6-2M398.7 1252.4l6-4.9"/>
<path class="k7" d="M213.6 1238l5.9-0.1M393.6 1244.8l5.9-1.2"/>
<path class="k9" d="M218.7 1225.6l6 2.1M383.3 1226.2l6 8.4"/>
<path class="k10" d="M223.8 1213.6l6 4.3M378.1 1216.5l6 13.2"/>
<path class="k12" d="M229 1202.2l6 6.5M367.8 1199.9l6 19.6"/>
<path class="k13" d="M234.1 1191.8l6 8.5M362.7 1192.9l6 21.5"/>
<path class="k14" d="M239.3 1182.5l6 10.1M352.4 1180.5l6 22.6M357.6 1186.4l5.9 22.6"/>
<path class="k15" d="M244.4 1174.6l6 11.3M342.1 1170.3l6 20.4M347.3 1175.1l6 21.8"/>
<path class="k42" d="M249.6 1167l5.9 12.3M331.8 1161.6l6 18M337 1165.8l6 19.1"/>
<path class="k43" d="M254.7 1159.3l6 13.2M259.8 1151.9l6 14.2M321.6 1153.8l5.9 17.9M326.7 1157.6l6 17.6"/>
<path class="k44" d="M265 1145.2l6 15.3M311.3 1146.7l6 18M316.4 1150.2l6 18"/>
<path class="k45" d="M270.1 1139.4l6 16.6M275.3 1135l6 18.2M295.8 1135.3l6 20.8M301 1138.9l6 19.7M306.1 1142.9l6 18.6"/>
<path class="k46" d="M280.4 1132.2l6 20.1M285.6 1131.5l5.9 21.3M290.7 1132.7l6 21.5"/>
<path class="k11" d="M373 1207.5l6 17.2"/>
<path class="k8" d="M388.4 1235.9l6 3.4"/>
<path class="k4" d="M414.1 1273.4l6-16.4"/>
<path class="k1" d="M424.4 1294.6l6-27.7"/>
<path class="k17" d="M439.8 1329l6-37.5"/>
<path class="k20" d="M450.1 1348.2l6-39.8"/>
<path class="k23" d="M470.7 1376.7l6-33.8M475.8 1381.7l6-31.4"/>
<path class="k25" d="M491.3 1394.7l6-36.6M496.4 1398.1l6-40.9M501.6 1401l5.9-45.2"/>
<path class="k28" d="M573.5 1422.1l6-73.8M578.7 1424.2l6-74.5M583.8 1426.5l6-75.3M589 1428.9l6-76.1"/>
<path class="k30" d="M609.5 1441.5l6-77.9M614.7 1445.3l6-77.4"/>
<path class="k31" d="M619.8 1449.3l6-76.6M625 1453.4l6-75.7"/>
<path class="k32" d="M630.1 1457.7l6-74.8M635.3 1462l6-73.9"/>
<path class="k33" d="M640.4 1466.3l6-73M645.5 1470.6l6-72.1"/>
<path class="k34" d="M650.7 1474.9l6-70.8M655.8 1479.2l6-69.1"/>
<path class="k35" d="M661 1483.8l6-67.5M666.1 1488.6l6-66"/>
<path class="k36" d="M671.3 1493.5l6-64.5M676.4 1498.3l6-63.1"/>
<path class="k37" d="M681.5 1503l6-61.8M686.7 1507.5l6-60.5"/>
<path class="k38" d="M691.8 1511.6l6-59.2M697 1515.9l6-58"/>
<path class="k39" d="M702.1 1520.4l6-57M707.3 1525.1l6-56.2"/>
<path class="k40" d="M712.4 1529.6l6-55.4M717.5 1533.8l6-54.6M722.7 1537.3l6-53.3"/>
<path class="k41" d="M727.8 1540l6-51.7M733 1541.7l6-49.4M738.1 1542.1l6-46.4M743.3 1542.2l5.9-43.5M748.4 1542.3l6-40.9M753.5 1542.4l6-38.5M758.7 1542.5l6-36.2M763.8 1542.6l6-34.1M769 1542.7l6-32M774.1 1542.8l6-30M779.3 1543l5.9-28.2M784.4 1543.1l6-26.6M789.5 1543.2l6-25.3M794.7 1543.3l6-24.3M799.8 1543.4l6-23.5M805 1543.5l6-22.8M810.1 1543.6l6-22M815.3 1543.7l5.9-21.4M820.4 1543.8l6-20.7M825.5 1543.9l6-20.2M830.7 1544l6-19.7M835.8 1544.1l6-19.3M841 1544.2l6-18.9M846.1 1544.3l6-18.7M851.3 1544.4l5.9-18.6M856.4 1544.5l6-18.5M861.5 1544.6l6-18.5M866.7 1544.7l6-18.5M871.8 1544.8l6-18.5M877 1544.9l6-18.5M882.1 1545l6-18.5M887.3 1545.1l5.9-18.5M892.4 1545.2l6-18.5M897.5 1545.3l6-18.5M902.7 1545.4l6-18.5M907.8 1545.5l6-18.5M913 1545.6l6-18.5M918.1 1545.7l6-18.5M923.3 1545.8l5.9-18.5M928.4 1546l6-18.6M933.5 1546.1l6-18.6M938.7 1546.2l6-18.6M943.8 1546.3l6-18.6M949 1546.4l6-18.6M954.1 1546.5l6-18.6"/>
<path class="f" d="M142 1426l10-30 10-28 10-28 11-27 10-25 10-25 11-25 10-24 10-22 10-17 11-16 10-14 10-10 11-4 10 4 10 8 10 7 11 8 10 8 10 9 11 11 10 14 10 16 10 20 11 16 10 14 10 17 11 25 10 21 10 19 10 17 11 12 10 9 10 9 11 6 10 4 10 3 10 2 11 2 10 3 10 3 11 4 10 4 10 6 10 6 11 7 10 8 10 9 11 9 10 8 10 10 10 9 11 9 10 9 10 9 11 9 10 6 10 2 10 0 11 1 10 0 10 0 11 0 10 0 10 1 10 0 11 0 10 0 10 0 11 1 10 0 10 0 10 0 11 0 10 1 10 0 11 0 10 0 10 0-6 19-10 0-10 0-11-1-10 0-10 0-11 0-10 0-10-1-10 0-11 0-10 0-10 0-11-1-10-1-10-1-10-2-11-2-10-4-10-4-11-4-10-5-10-4-10-5-11-6-10-6-10-6-11-6-10-6-10-8-10-7-11-7-10-6-10-5-11-5-10-4-10-3-10-3-11-2-10-2-10-2-11-2-10-3-10-2-10-5-11-6-10-8-10-10-11-12-10-17-10-18-10-18-11-15-10-13-10-14-11-13-10-15-10-17-10-16-11-14-10-10-10-10-11-8-10-4-10 1-10 5-11 7-10 9-10 9-11 13-10 16-10 17-10 19-11 19-10 21-10 22-11 24-10 26-10 27-10 29z"/>
<path class="k29" d="M141.6 1426.2l5.1-15M594.1 1431.6l5.2 3 5.1 3.3 5.1 3.6"/>
<path class="k27" d="M146.7 1411.2l5.1-14.7M537.5 1410.9l5.2 1.1 5.1 1.3 5.2 1.5 5.1 1.7 5.2 1.7 5.1 1.9 5.1 2"/>
<path class="k26" d="M151.8 1396.5l5.2-14.5M506.7 1403.3l5.1 1.8 5.2 1.5 5.1 1.2 5.2 1 5.1 1 5.1 1.1"/>
<path class="k24" d="M157 1382l5.1-14.2M481 1386.4l5.1 4.4 5.2 3.9"/>
<path class="k22" d="M162.1 1367.8l5.2-14M465.6 1371.2l5.1 5.5"/>
<path class="k21" d="M167.3 1353.8l5.1-13.7M455.3 1356.9l5.1 7.8 5.2 6.5"/>
<path class="k19" d="M172.4 1340.1l5.2-13.5M445 1338.8l5.1 9.4"/>
<path class="k18" d="M177.6 1326.6l5.1-13.2"/>
<path class="k16" d="M182.7 1313.4l5.1-13M434.7 1318.8l5.1 10.2"/>
<path class="k0" d="M187.8 1300.4l5.2-12.8M429.6 1307.6l5.1 11.2"/>
<path class="k2" d="M193 1287.6l5.1-12.5"/>
<path class="k3" d="M198.1 1275.1l5.2-12.3M419.3 1282.5l5.1 12.1"/>
<path class="k5" d="M203.3 1262.8l5.1-12.3M403.8 1259.2l5.2 6.7 5.1 7.5"/>
<path class="k6" d="M208.4 1250.5l5.2-12.5M398.7 1252.4l5.1 6.8"/>
<path class="k7" d="M213.6 1238l5.1-12.4M393.6 1244.8l5.1 7.6"/>
<path class="k9" d="M218.7 1225.6l5.1-12M383.3 1226.2l5.1 9.7"/>
<path class="k10" d="M223.8 1213.6l5.2-11.4M378.1 1216.5l5.2 9.7"/>
<path class="k12" d="M229 1202.2l5.1-10.4M367.8 1199.9l5.2 7.6"/>
<path class="k13" d="M234.1 1191.8l5.2-9.3M362.7 1192.9l5.1 7"/>
<path class="k14" d="M239.3 1182.5l5.1-7.9M352.4 1180.5l5.2 5.9 5.1 6.5"/>
<path class="k15" d="M244.4 1174.6l5.2-7.6M342.1 1170.3l5.2 4.8 5.1 5.4"/>
<path class="k42" d="M249.6 1167l5.1-7.7M331.8 1161.6l5.2 4.2 5.1 4.5"/>
<path class="k43" d="M254.7 1159.3l5.1-7.4 5.2-6.7M321.6 1153.8l5.1 3.8 5.1 4"/>
<path class="k44" d="M265 1145.2l5.1-5.8M311.3 1146.7l5.1 3.5 5.2 3.6"/>
<path class="k45" d="M270.1 1139.4l5.2-4.4 5.1-2.8M295.8 1135.3l5.2 3.6 5.1 4 5.2 3.8"/>
<path class="k46" d="M280.4 1132.2l5.2-0.7 5.1 1.2 5.1 2.6"/>
<path class="k11" d="M373 1207.5l5.1 9"/>
<path class="k8" d="M388.4 1235.9l5.2 8.9"/>
<path class="k4" d="M414.1 1273.4l5.2 9.1"/>
<path class="k1" d="M424.4 1294.6l5.2 13"/>
<path class="k17" d="M439.8 1329l5.2 9.8"/>
<path class="k20" d="M450.1 1348.2l5.2 8.7"/>
<path class="k23" d="M470.7 1376.7l5.1 5 5.2 4.7"/>
<path class="k25" d="M491.3 1394.7l5.1 3.4 5.2 2.9 5.1 2.3"/>
<path class="k28" d="M573.5 1422.1l5.2 2.1 5.1 2.3 5.2 2.4 5.1 2.7"/>
<path class="k30" d="M609.5 1441.5l5.2 3.8 5.1 4"/>
<path class="k31" d="M619.8 1449.3l5.2 4.1 5.1 4.3"/>
<path class="k32" d="M630.1 1457.7l5.2 4.3 5.1 4.3"/>
<path class="k33" d="M640.4 1466.3l5.1 4.3 5.2 4.3"/>
<path class="k34" d="M650.7 1474.9l5.1 4.3 5.2 4.6"/>
<path class="k35" d="M661 1483.8l5.1 4.8 5.2 4.9"/>
<path class="k36" d="M671.3 1493.5l5.1 4.8 5.1 4.7"/>
<path class="k37" d="M681.5 1503l5.2 4.5 5.1 4.1"/>
<path class="k38" d="M691.8 1511.6l5.2 4.3 5.1 4.5"/>
<path class="k39" d="M702.1 1520.4l5.2 4.7 5.1 4.5"/>
<path class="k40" d="M712.4 1529.6l5.1 4.2 5.2 3.5 5.1 2.7"/>
<path class="k41" d="M727.8 1540l5.2 1.7 5.1 0.4 5.2 0.1 5.1 0.1 5.1 0.1 5.2 0.1 5.1 0.1 5.2 0.1 5.1 0.1 5.2 0.2 5.1 0.1 5.1 0.1 5.2 0.1 5.1 0.1 5.2 0.1 5.1 0.1 5.2 0.1 5.1 0.1 5.1 0.1 5.2 0.1 5.1 0.1 5.2 0.1 5.1 0.1 5.2 0.1 5.1 0.1 5.1 0.1 5.2 0.1 5.1 0.1 5.2 0.1 5.1 0.1 5.2 0.1 5.1 0.1 5.1 0.1 5.2 0.1 5.1 0.1 5.2 0.1 5.1 0.1 5.2 0.1 5.1 0.2 5.1 0.1 5.2 0.1 5.1 0.1 5.2 0.1 5.1 0.1"/>
<path class="k31" d="M135.6 1459.6l6-33.4M608.7 1467.1l6-21.8M613.8 1469.7l6-20.4M619 1472.4l6-19"/>
<path class="k29" d="M140.7 1445.2l6-34M547 1448l6-33.2M552.1 1449.1l6-32.6M557.3 1450.2l6-32M562.4 1451.3l6-31.2M567.6 1452.5l5.9-30.4M572.7 1453.7l6-29.5M577.8 1455l6-28.5M583 1456.5l6-27.6"/>
<path class="k28" d="M145.9 1431l5.9-34.5M505.8 1438.5l6-33.4M511 1440l6-33.4M516.1 1441.3l6-33.5M521.3 1442.5l6-33.7M526.4 1443.6l6-33.8M531.6 1444.6l5.9-33.7M536.7 1445.6l6-33.6M541.8 1446.8l6-33.5"/>
<path class="k26" d="M151 1417.2l6-35.2M475 1419.7l6-33.3M480.1 1424l6-33.2M485.3 1428l6-33.3"/>
<path class="k24" d="M156.1 1403.7l6-35.9M459.6 1404.6l6-33.4M464.7 1410l6-33.3"/>
<path class="k23" d="M161.3 1390.6l6-36.8M454.4 1398l6-33.3"/>
<path class="k21" d="M166.4 1377.9l6-37.8M444.1 1381.3l6-33.1"/>
<path class="k20" d="M171.6 1365.7l6-39.1M439 1372l6-33.2"/>
<path class="k19" d="M176.7 1353.8l6-40.4M433.8 1362.6l6-33.6"/>
<path class="k17" d="M181.9 1342.5l5.9-42.1M423.6 1344.9l6-37.3"/>
<path class="k16" d="M187 1331.6l6-44M418.4 1337.3l6-42.7"/>
<path class="k0" d="M192.1 1321.2l6-46.1M408.1 1323.2l6-49.8M413.3 1330.1l6-47.6"/>
<path class="k1" d="M197.3 1311.4l6-48.6M403 1316.5l6-50.6"/>
<path class="k2" d="M202.4 1301.7l6-51.2M397.8 1310l6-50.8"/>
<path class="k3" d="M207.6 1292.1l6-54.1M387.6 1296.6l6-51.8M392.7 1303.4l6-51"/>
<path class="k4" d="M212.7 1282.7l6-57.1M382.4 1289.7l6-53.8"/>
<path class="k6" d="M217.9 1273.4l5.9-59.8M372.1 1274.5l6-58"/>
<path class="k7" d="M223 1264.5l6-62.3M367 1266.2l6-58.7"/>
<path class="k8" d="M228.1 1256l6-64.2M361.8 1257.8l6-57.9"/>
<path class="k9" d="M233.3 1247.9l6-65.4M238.4 1240.4l6-65.8M351.6 1241.7l6-55.3M356.7 1249.5l6-56.6"/>
<path class="k10" d="M243.6 1233.6l6-66.6M346.4 1234.5l6-54"/>
<path class="k11" d="M248.7 1227.5l6-68.2M253.9 1222.2l5.9-70.3M341.3 1228.3l6-53.2"/>
<path class="k12" d="M259 1217.8l6-72.6M264.1 1213.6l6-74.2M331 1217.8l6-52M336.1 1223.1l6-52.8"/>
<path class="k13" d="M269.3 1209.5l6-74.5M274.4 1205.6l6-73.4M320.7 1207.7l6-50.1M325.8 1212.6l6-51"/>
<path class="k14" d="M279.6 1202.2l6-70.7M284.7 1199.3l6-66.6M289.9 1197.2l5.9-61.9M305.3 1197.2l6-50.5M310.4 1199.7l6-49.5M315.6 1203.3l6-49.5"/>
<path class="k15" d="M295 1196l6-57.1M300.1 1195.9l6-53"/>
<path class="k5" d="M377.3 1282.4l6-56.2"/>
<path class="k18" d="M428.7 1353.4l6-34.6"/>
<path class="k22" d="M449.3 1390.1l6-33.2"/>
<path class="k25" d="M469.8 1415l6-33.3"/>
<path class="k27" d="M490.4 1431.4l6-33.3M495.6 1434.4l6-33.4M500.7 1436.7l6-33.4"/>
<path class="k30" d="M588.1 1458.2l6-26.6M593.3 1460.1l6-25.5M598.4 1462.3l6-24.4M603.6 1464.6l5.9-23.1"/>
<path class="k32" d="M624.1 1475.2l6-17.5M629.3 1478.1l6-16.1M634.4 1481.4l6-15.1"/>
<path class="k33" d="M639.6 1485l5.9-14.4M644.7 1488.6l6-13.7M649.8 1492.4l6-13.2"/>
<path class="k34" d="M655 1496.1l6-12.3M660.1 1499.6l6-11"/>
<path class="k35" d="M665.3 1502.9l6-9.4M670.4 1506.1l6-7.8M675.6 1509.2l5.9-6.2"/>
<path class="k36" d="M680.7 1512.3l6-4.8M685.8 1515.4l6-3.8M691 1518.4l6-2.5"/>
<path class="k37" d="M696.1 1521.4l6-1M701.3 1524.3l6 0.8M706.4 1527l6 2.6"/>
<path class="k38" d="M711.6 1529.7l5.9 4.1M716.7 1532.3l6 5M721.8 1534.8l6 5.2M727 1537.1l6 4.6"/>
<path class="k39" d="M732.1 1539.3l6 2.8M737.3 1541.6l6 0.6M742.4 1543.9l6-1.6M747.6 1546.2l5.9-3.8"/>
<path class="k40" d="M752.7 1548.4l6-5.9M757.8 1550.4l6-7.8M763 1552.4l6-9.7M768.1 1554.2l6-11.4M773.3 1555.8l6-12.8M778.4 1557.1l6-14"/>
<path class="k41" d="M783.6 1558.2l5.9-15M788.7 1559l6-15.7M793.8 1559.7l6-16.3M799 1560.3l6-16.8M804.1 1560.9l6-17.3M809.3 1561.4l6-17.7M814.4 1561.9l6-18.1M819.6 1562.3l5.9-18.4M824.7 1562.5l6-18.5M829.8 1562.6l6-18.5M835 1562.7l6-18.5M840.1 1562.8l6-18.5M845.3 1563l6-18.6M850.4 1563.1l6-18.6M855.6 1563.2l5.9-18.6M860.7 1563.3l6-18.6M865.8 1563.4l6-18.6M871 1563.5l6-18.6M876.1 1563.6l6-18.6M881.3 1563.7l6-18.6M886.4 1563.8l6-18.6M891.6 1563.9l5.9-18.6M896.7 1564l6-18.6M901.8 1564.1l6-18.6M907 1564.2l6-18.6M912.1 1564.3l6-18.6M917.3 1564.4l6-18.6M922.4 1564.5l6-18.5M927.6 1564.6l5.9-18.5M932.7 1564.7l6-18.5M937.8 1564.8l6-18.5M943 1564.9l6-18.5M948.1 1565l6-18.5"/>
<path class="f" d="M136 1460l10-29 10-27 10-26 11-24 10-22 10-21 11-19 10-19 10-17 10-16 11-13 10-9 10-9 11-7 10-5 10-1 10 4 11 8 10 10 10 10 11 14 10 16 10 17 10 15 11 13 10 14 10 13 11 15 10 18 10 18 10 17 11 12 10 10 10 8 11 6 10 5 10 2 10 3 11 2 10 2 10 2 11 2 10 3 10 3 10 4 11 5 10 5 10 6 11 7 10 7 10 8 10 6 11 6 10 6 10 6 11 6 10 5 10 4 10 5 11 4 10 4 10 4 11 2 10 2 10 1 10 1 11 1 10 0 10 0 11 0 10 0 10 1 10 0 11 0 10 0 10 0 11 1 10 0 10 0-6 19-10-1-10 0-11 0-10 0-10 0-11-1-10 0-10 0-10-1-11-1-10-1-10-1-11-3-10-3-10-4-10-5-11-5-10-5-10-7-11-8-10-9-10-11-10-11-11-11-10-12-10-13-11-12-10-12-10-9-10-8-11-8-10-6-10-5-11-4-10-3-10-3-10 0-11 0-10 2-10 3-11 2-10 2-10 3-10 2-11 2-10-2-10-21-11-26-10-24-10-23-10-13-11-10-10-8-10-9-11-7-10-8-10-7-10-8-11-8-10-4-10-3-11-3-10-1-10 2-10 5-11 12-10 13-10 12-11 12-10 12-10 15-10 19-11 22-10 24-10 24-11 23-10 22-10 23-10 23z"/>
<path class="k31" d="M135.6 1459.6l5.1-14.4M608.7 1467.1l5.1 2.6 5.2 2.7 5.1 2.8"/>
<path class="k29" d="M140.7 1445.2l5.2-14.2M547 1448l5.1 1.1 5.2 1.1 5.1 1.1 5.2 1.2 5.1 1.2 5.1 1.3 5.2 1.5 5.1 1.7"/>
<path class="k28" d="M145.9 1431l5.1-13.8M505.8 1438.5l5.2 1.5 5.1 1.3 5.2 1.2 5.1 1.1 5.2 1 5.1 1 5.1 1.2 5.2 1.2"/>
<path class="k26" d="M151 1417.2l5.1-13.5M475 1419.7l5.1 4.3 5.2 4 5.1 3.4"/>
<path class="k24" d="M156.1 1403.7l5.2-13.1M459.6 1404.6l5.1 5.4 5.1 5"/>
<path class="k23" d="M161.3 1390.6l5.1-12.7M454.4 1398l5.2 6.6"/>
<path class="k21" d="M166.4 1377.9l5.2-12.2M444.1 1381.3l5.2 8.8"/>
<path class="k20" d="M171.6 1365.7l5.1-11.9M439 1372l5.1 9.3"/>
<path class="k19" d="M176.7 1353.8l5.2-11.3M433.8 1362.6l5.2 9.4"/>
<path class="k17" d="M181.9 1342.5l5.1-10.9M423.6 1344.9l5.1 8.5"/>
<path class="k16" d="M187 1331.6l5.1-10.4M418.4 1337.3l5.2 7.6"/>
<path class="k0" d="M192.1 1321.2l5.2-9.8M408.1 1323.2l5.2 6.9 5.1 7.2"/>
<path class="k1" d="M197.3 1311.4l5.1-9.7M403 1316.5l5.1 6.7"/>
<path class="k2" d="M202.4 1301.7l5.2-9.6M397.8 1310l5.2 6.5"/>
<path class="k3" d="M207.6 1292.1l5.1-9.4M387.6 1296.6l5.1 6.8 5.1 6.6"/>
<path class="k4" d="M212.7 1282.7l5.2-9.3M382.4 1289.7l5.2 6.9"/>
<path class="k6" d="M217.9 1273.4l5.1-8.9M372.1 1274.5l5.2 7.9"/>
<path class="k7" d="M223 1264.5l5.1-8.5M367 1266.2l5.1 8.3"/>
<path class="k8" d="M228.1 1256l5.2-8.1M361.8 1257.8l5.2 8.4"/>
<path class="k9" d="M233.3 1247.9l5.1-7.5 5.2-6.8M351.6 1241.7l5.1 7.8 5.1 8.3"/>
<path class="k10" d="M243.6 1233.6l5.1-6.1M346.4 1234.5l5.2 7.2"/>
<path class="k11" d="M248.7 1227.5l5.2-5.3 5.1-4.4M341.3 1228.3l5.1 6.2"/>
<path class="k12" d="M259 1217.8l5.1-4.2 5.2-4.1M331 1217.8l5.1 5.3 5.2 5.2"/>
<path class="k13" d="M269.3 1209.5l5.1-3.9 5.2-3.4M320.7 1207.7l5.1 4.9 5.2 5.2"/>
<path class="k14" d="M279.6 1202.2l5.1-2.9 5.2-2.1 5.1-1.2M305.3 1197.2l5.1 2.5 5.2 3.6 5.1 4.4"/>
<path class="k15" d="M295 1196l5.1-0.1 5.2 1.3"/>
<path class="k5" d="M377.3 1282.4l5.1 7.3"/>
<path class="k18" d="M428.7 1353.4l5.1 9.2"/>
<path class="k22" d="M449.3 1390.1l5.1 7.9"/>
<path class="k25" d="M469.8 1415l5.2 4.7"/>
<path class="k27" d="M490.4 1431.4l5.2 3 5.1 2.3 5.1 1.8"/>
<path class="k30" d="M588.1 1458.2l5.2 1.9 5.1 2.2 5.2 2.3 5.1 2.5"/>
<path class="k32" d="M624.1 1475.2l5.2 2.9 5.1 3.3 5.2 3.6"/>
<path class="k33" d="M639.6 1485l5.1 3.6 5.1 3.8 5.2 3.7"/>
<path class="k34" d="M655 1496.1l5.1 3.5 5.2 3.3"/>
<path class="k35" d="M665.3 1502.9l5.1 3.2 5.2 3.1 5.1 3.1"/>
<path class="k36" d="M680.7 1512.3l5.1 3.1 5.2 3 5.1 3"/>
<path class="k37" d="M696.1 1521.4l5.2 2.9 5.1 2.7 5.2 2.7"/>
<path class="k38" d="M711.6 1529.7l5.1 2.6 5.1 2.5 5.2 2.3 5.1 2.2"/>
<path class="k39" d="M732.1 1539.3l5.2 2.3 5.1 2.3 5.2 2.3 5.1 2.2"/>
<path class="k40" d="M752.7 1548.4l5.1 2 5.2 2 5.1 1.8 5.2 1.6 5.1 1.3 5.2 1.1"/>
<path class="k41" d="M783.6 1558.2l5.1 0.8 5.1 0.7 5.2 0.6 5.1 0.6 5.2 0.5 5.1 0.5 5.2 0.4 5.1 0.2 5.1 0.1 5.2 0.1 5.1 0.1 5.2 0.2 5.1 0.1 5.2 0.1 5.1 0.1 5.1 0.1 5.2 0.1 5.1 0.1 5.2 0.1 5.1 0.1 5.2 0.1 5.1 0.1 5.1 0.1 5.2 0.1 5.1 0.1 5.2 0.1 5.1 0.1 5.2 0.1 5.1 0.1 5.1 0.1 5.2 0.1 5.1 0.1"/>
<path class="k33" d="M129.6 1495.1l6-35.5M705.6 1507.2l6 22.5M710.7 1512.9l6 19.4"/>
<path class="k31" d="M134.7 1483.6l6-38.4M690.1 1490.3l6 31.1"/>
<path class="k30" d="M139.9 1472.1l6-41.1M679.9 1477.9l5.9 37.5M685 1484.3l6 34.1"/>
<path class="k29" d="M145 1460.7l6-43.5M674.7 1471.4l6 40.9"/>
<path class="k28" d="M150.1 1449.3l6-45.6M669.6 1464.9l6 44.3"/>
<path class="k26" d="M155.3 1437.9l6-47.3M649 1442.1l6 54M654.1 1447.1l6 52.5"/>
<path class="k25" d="M160.4 1426.5l6-48.6M638.7 1433.7l6 54.9M643.9 1437.8l5.9 54.6"/>
<path class="k24" d="M165.6 1415.2l6-49.5M628.4 1425.9l6 55.5M633.6 1429.7l6 55.3"/>
<path class="k22" d="M170.7 1403.9l6-50.1M463.9 1406.6l5.9 8.4M505 1411.4l6 28.6M510.1 1410.2l6 31.1M515.3 1409.1l6 33.4M520.4 1408.1l6 35.5M525.6 1406.9l6 37.7M530.7 1405.7l6 39.9M535.9 1404.5l5.9 42.3M587.3 1405.5l6 54.6M592.4 1407.2l6 55.1M597.6 1409.1l6 55.5M602.7 1411l6 56.1M607.9 1413.3l5.9 56.4"/>
<path class="k21" d="M175.9 1392.3l6-49.8M458.7 1394.5l6 15.5M541 1403.3l6 44.7M546.1 1402.2l6 46.9M551.3 1401.3l6 48.9M556.4 1400.8l6 50.5M561.6 1400.5l6 52M566.7 1400.7l6 53M571.9 1401.4l5.9 53.6M577 1402.5l6 54M582.1 1403.9l6 54.3"/>
<path class="k20" d="M181 1380.4l6-48.8"/>
<path class="k18" d="M186.1 1368.3l6-47.1M448.4 1368l6 30"/>
<path class="k17" d="M191.3 1356.3l6-44.9"/>
<path class="k0" d="M196.4 1344.8l6-43.1M438.1 1343.9l6 37.4"/>
<path class="k1" d="M201.6 1334l6-41.9"/>
<path class="k2" d="M206.7 1324.1l6-41.4M433 1331.6l6 40.4"/>
<path class="k3" d="M211.9 1315.3l6-41.9M427.9 1321.2l5.9 41.4"/>
<path class="k4" d="M217 1307.6l6-43.1M417.6 1307.8l6 37.1M422.7 1313.7l6 39.7"/>
<path class="k5" d="M222.1 1300.4l6-44.4M227.3 1293.8l6-45.9M407.3 1298.1l6 32M412.4 1302.7l6 34.6"/>
<path class="k6" d="M232.4 1287.6l6-47.2M397 1289.7l6 26.8M402.1 1293.9l6 29.3"/>
<path class="k7" d="M237.6 1281.6l6-48M242.7 1275.7l6-48.2M386.7 1281.4l6 22M391.9 1285.5l5.9 24.5"/>
<path class="k8" d="M247.9 1269.8l6-47.6M371.3 1269.9l6 12.5M376.4 1273.6l6 16.1M381.6 1277.4l6 19.2"/>
<path class="k9" d="M253 1263.8l6-46M361 1262.6l6 3.6M366.1 1266.3l6 8.2"/>
<path class="k10" d="M258.1 1257.6l6-44M263.3 1250.5l6-41M350.7 1254.7l6-5.2M355.9 1258.8l5.9-1"/>
<path class="k11" d="M268.4 1243.3l6-37.7M335.3 1243.5l6-15.2M340.4 1246.9l6-12.4M345.6 1250.7l6-9"/>
<path class="k12" d="M273.6 1239.2l6-37M278.7 1236.2l6-36.9M283.9 1233.8l6-36.6M304.4 1233.4l6-33.7M309.6 1234.5l6-31.2M314.7 1235.7l6-28M319.9 1237.2l5.9-24.6M325 1238.7l6-20.9M330.1 1240.7l6-17.6"/>
<path class="k13" d="M289 1232.4l6-36.4M294.1 1232.2l6-36.3M299.3 1232.6l6-35.4"/>
<path class="k16" d="M443.3 1356.5l6 33.6"/>
<path class="k19" d="M453.6 1380.8l6 23.8"/>
<path class="k23" d="M469 1414.8l6 4.9M474.1 1416.8l6 7.2M479.3 1416.6l6 11.4M484.4 1416l6 15.4M489.6 1415l6 19.4M494.7 1413.9l6 22.8M499.9 1412.7l5.9 25.8M613 1415.9l6 56.5M618.1 1418.9l6 56.3M623.3 1422.3l6 55.8"/>
<path class="k27" d="M659.3 1452.6l6 50.3M664.4 1458.6l6 47.5"/>
<path class="k32" d="M695.3 1496l6 28.3M700.4 1501.6l6 25.4"/>
<path class="k34" d="M715.9 1518.4l5.9 16.4"/>
<path class="k35" d="M721 1523.7l6 13.4M726.1 1528.9l6 10.4"/>
<path class="k36" d="M731.3 1533.7l6 7.9M736.4 1538.1l6 5.8"/>
<path class="k37" d="M741.6 1542.1l6 4.1M746.7 1545.8l6 2.6"/>
<path class="k38" d="M751.9 1549.2l5.9 1.2M757 1552.5l6-0.1M762.1 1555.6l6-1.4"/>
<path class="k39" d="M767.3 1558.4l6-2.6M772.4 1561l6-3.9M777.6 1563.3l6-5.1M782.7 1565.5l6-6.5"/>
<path class="k40" d="M787.9 1567.7l5.9-8M793 1569.8l6-9.5M798.1 1571.7l6-10.8M803.3 1573.5l6-12.1M808.4 1575.2l6-13.3M813.6 1576.5l6-14.2"/>
<path class="k41" d="M818.7 1577.6l6-15.1M823.8 1578.4l6-15.8M829 1579.1l6-16.4M834.1 1579.7l6-16.9M839.3 1580.3l6-17.3M844.4 1580.8l6-17.7M849.6 1581.3l6-18.1M854.7 1581.6l6-18.3M859.8 1581.9l6-18.5M865 1582l6-18.5M870.1 1582.1l6-18.5M875.3 1582.2l6-18.5M880.4 1582.3l6-18.5M885.6 1582.4l6-18.5M890.7 1582.5l6-18.5M895.8 1582.6l6-18.5M901 1582.7l6-18.5M906.1 1582.8l6-18.5M911.3 1582.9l6-18.5M916.4 1583.1l6-18.6M921.6 1583.2l6-18.6M926.7 1583.3l6-18.6M931.8 1583.4l6-18.6M937 1583.5l6-18.6M942.1 1583.6l6-18.6"/>
<path class="f" d="M130 1495l10-23 10-23 10-22 11-23 10-24 10-24 11-22 10-19 10-15 10-12 11-12 10-12 10-13 11-12 10-5 10-2 10 1 11 3 10 3 10 4 11 8 10 8 10 7 10 8 11 7 10 9 10 8 11 10 10 13 10 23 10 24 11 26 10 21 10 2 11-2 10-2 10-3 10-2 11-2 10-3 10-2 11 0 10 0 10 3 10 3 11 4 10 5 10 6 11 8 10 8 10 9 10 12 11 12 10 13 10 12 11 11 10 11 10 11 10 9 11 8 10 7 10 5 11 5 10 5 10 4 10 3 11 3 10 1 10 1 11 1 10 1 10 0 10 0 11 1 10 0 10 0 11 0 10 0 10 1-6 18-10 0-10 0-11-1-10 0-10 0-11 0-10 0-10-1-10 0-11 0-10 0-10 0-11-1-10 0-10 0-10 0-11 0-10-1-10 0-11 0-10 0-10 0-10-1-11 0-10-1-10-1-11-1-10-1-10-1-10-2-11-2-10-3-10-3-11-4-10-6-10-9-10-9-11-11-10-12-10-14-11-16-10-16-10-18-10-19-11-19-10-17-10-18-11-17-10-15-10-14-10-12-11-12-10-10-10-11-11-11-10-10-10-10-10-10-11-10-10-7-10-6-11-5-10-4-10-3-10 0-11 2-10 6-10 7-11 10-10 11-10 12-10 16-11 22-10 25-10 25-11 23-10 23-10 24-10 24z"/>
<path class="k33" d="M129.6 1495.1l5.1-11.5M705.6 1507.2l5.1 5.7 5.2 5.5"/>
<path class="k31" d="M134.7 1483.6l5.2-11.5M690.1 1490.3l5.2 5.7"/>
<path class="k30" d="M139.9 1472.1l5.1-11.4M679.9 1477.9l5.1 6.4 5.1 6"/>
<path class="k29" d="M145 1460.7l5.1-11.4M674.7 1471.4l5.2 6.5"/>
<path class="k28" d="M150.1 1449.3l5.2-11.4M669.6 1464.9l5.1 6.5"/>
<path class="k26" d="M155.3 1437.9l5.1-11.4M649 1442.1l5.1 5 5.2 5.5"/>
<path class="k25" d="M160.4 1426.5l5.2-11.3M638.7 1433.7l5.2 4.1 5.1 4.3"/>
<path class="k24" d="M165.6 1415.2l5.1-11.3M628.4 1425.9l5.2 3.8 5.1 4"/>
<path class="k22" d="M170.7 1403.9l5.2-11.6M463.9 1406.6l5.1 8.2M505 1411.4l5.1-1.2 5.2-1.1 5.1-1 5.2-1.2 5.1-1.2 5.2-1.2 5.1-1.2M587.3 1405.5l5.1 1.7 5.2 1.9 5.1 1.9 5.2 2.3 5.1 2.6"/>
<path class="k21" d="M175.9 1392.3l5.1-11.9M458.7 1394.5l5.2 12.1M541 1403.3l5.1-1.1 5.2-0.9 5.1-0.5 5.2-0.3 5.1 0.2 5.2 0.7 5.1 1.1 5.1 1.4 5.2 1.6"/>
<path class="k20" d="M181 1380.4l5.1-12.1"/>
<path class="k18" d="M186.1 1368.3l5.2-12M448.4 1368l5.2 12.8"/>
<path class="k17" d="M191.3 1356.3l5.1-11.5"/>
<path class="k0" d="M196.4 1344.8l5.2-10.8M438.1 1343.9l5.2 12.6"/>
<path class="k1" d="M201.6 1334l5.1-9.9"/>
<path class="k2" d="M206.7 1324.1l5.2-8.8M433 1331.6l5.1 12.3"/>
<path class="k3" d="M211.9 1315.3l5.1-7.7M427.9 1321.2l5.1 10.4"/>
<path class="k4" d="M217 1307.6l5.1-7.2M417.6 1307.8l5.1 5.9 5.2 7.5"/>
<path class="k5" d="M222.1 1300.4l5.2-6.6 5.1-6.2M407.3 1298.1l5.1 4.6 5.2 5.1"/>
<path class="k6" d="M232.4 1287.6l5.2-6M397 1289.7l5.1 4.2 5.2 4.2"/>
<path class="k7" d="M237.6 1281.6l5.1-5.9 5.2-5.9M386.7 1281.4l5.2 4.1 5.1 4.2"/>
<path class="k8" d="M247.9 1269.8l5.1-6M371.3 1269.9l5.1 3.7 5.2 3.8 5.1 4"/>
<path class="k9" d="M253 1263.8l5.1-6.2M361 1262.6l5.1 3.7 5.2 3.6"/>
<path class="k10" d="M258.1 1257.6l5.2-7.1 5.1-7.2M350.7 1254.7l5.2 4.1 5.1 3.8"/>
<path class="k11" d="M268.4 1243.3l5.2-4.1M335.3 1243.5l5.1 3.4 5.2 3.8 5.1 4"/>
<path class="k12" d="M273.6 1239.2l5.1-3 5.2-2.4 5.1-1.4M304.4 1233.4l5.2 1.1 5.1 1.2 5.2 1.5 5.1 1.5 5.1 2 5.2 2.8"/>
<path class="k13" d="M289 1232.4l5.1-0.2 5.2 0.4 5.1 0.8"/>
<path class="k16" d="M443.3 1356.5l5.1 11.5"/>
<path class="k19" d="M453.6 1380.8l5.1 13.7"/>
<path class="k23" d="M469 1414.8l5.1 2 5.2-0.2 5.1-0.6 5.2-1 5.1-1.1 5.2-1.2 5.1-1.3M613 1415.9l5.1 3 5.2 3.4 5.1 3.6"/>
<path class="k27" d="M659.3 1452.6l5.1 6 5.2 6.3"/>
<path class="k32" d="M695.3 1496l5.1 5.6 5.2 5.6"/>
<path class="k34" d="M715.9 1518.4l5.1 5.3"/>
<path class="k35" d="M721 1523.7l5.1 5.2 5.2 4.8"/>
<path class="k36" d="M731.3 1533.7l5.1 4.4 5.2 4"/>
<path class="k37" d="M741.6 1542.1l5.1 3.7 5.2 3.4"/>
<path class="k38" d="M751.9 1549.2l5.1 3.3 5.1 3.1 5.2 2.8"/>
<path class="k39" d="M767.3 1558.4l5.1 2.6 5.2 2.3 5.1 2.2 5.2 2.2"/>
<path class="k40" d="M787.9 1567.7l5.1 2.1 5.1 1.9 5.2 1.8 5.1 1.7 5.2 1.3 5.1 1.1"/>
<path class="k41" d="M818.7 1577.6l5.1 0.8 5.2 0.7 5.1 0.6 5.2 0.6 5.1 0.5 5.2 0.5 5.1 0.3 5.1 0.3 5.2 0.1 5.1 0.1 5.2 0.1 5.1 0.1 5.2 0.1 5.1 0.1 5.1 0.1 5.2 0.1 5.1 0.1 5.2 0.1 5.1 0.2 5.2 0.1 5.1 0.1 5.1 0.1 5.2 0.1 5.1 0.1"/>
<path class="k26" d="M123.6 1457l6 38.1M488.7 1457.4l6-43.5"/>
<path class="k25" d="M128.7 1445l6 38.6"/>
<path class="k24" d="M133.9 1433l6 39.1M483.6 1447.9l6-32.9"/>
<path class="k22" d="M139 1421.2l6 39.5M473.3 1429.3l6-12.7"/>
<path class="k21" d="M144.2 1409.4l5.9 39.9M468.2 1420.5l5.9-3.7"/>
<path class="k20" d="M149.3 1397.7l6 40.2M463 1411.8l6 3"/>
<path class="k18" d="M154.4 1386.1l6 40.4M452.7 1394.3l6 0.2"/>
<path class="k17" d="M159.6 1374.6l6 40.6M442.4 1377.4l6-9.4M447.6 1385.8l6-5"/>
<path class="k16" d="M164.7 1363.1l6 40.8M437.3 1369.4l6-12.9"/>
<path class="k1" d="M169.9 1351.1l6 41.2M427 1354.5l6-22.9"/>
<path class="k2" d="M175 1338.5l6 41.9M421.9 1347.8l6-26.6"/>
<path class="k4" d="M180.2 1325.7l5.9 42.6M401.3 1324.5l6-26.4M406.4 1330l6-27.3"/>
<path class="k5" d="M185.3 1313.1l6 43.2M396.2 1319l5.9-25.1"/>
<path class="k7" d="M190.4 1301.3l6 43.5M375.6 1297.3l6-19.9M380.7 1302.6l6-21.2"/>
<path class="k8" d="M195.6 1290.7l6 43.3M370.4 1292.1l6-18.5"/>
<path class="k9" d="M200.7 1281.7l6 42.4M360.2 1282.1l5.9-15.8M365.3 1287l6-17.1"/>
<path class="k10" d="M205.9 1274.9l6 40.4M211 1268.9l6 38.7M349.9 1271.9l6-13.1M355 1277.1l6-14.5"/>
<path class="k11" d="M216.2 1263.1l5.9 37.3M339.6 1261.6l6-10.9M344.7 1266.7l6-12"/>
<path class="k12" d="M221.3 1257.4l6 36.4M226.4 1252l6 35.6M329.3 1252.1l6-8.6M334.4 1256.7l6-9.8"/>
<path class="k13" d="M231.6 1247l6 34.6M236.7 1242.3l6 33.4M319 1244.5l6-5.8M324.2 1248l5.9-7.3"/>
<path class="k14" d="M241.9 1238.2l6 31.6M247 1234.5l6 29.3M298.4 1234.3l6-0.9M303.6 1236.7l6-2.2M308.7 1239.2l6-3.5M313.9 1241.7l6-4.5"/>
<path class="k15" d="M252.2 1231.5l5.9 26.1M257.3 1229.1l6 21.4M262.4 1227.5l6 15.8M267.6 1226.7l6 12.5M272.7 1226.7l6 9.5M277.9 1227.4l6 6.4M283 1228.6l6 3.8M288.2 1230.1l5.9 2.1M293.3 1232.1l6 0.5"/>
<path class="k6" d="M385.9 1308l6-22.5M391 1313.5l6-23.8"/>
<path class="k3" d="M411.6 1335.7l6-27.9M416.7 1341.6l6-27.9"/>
<path class="k0" d="M432.2 1361.7l5.9-17.8"/>
<path class="k19" d="M457.9 1403l6 3.6"/>
<path class="k23" d="M478.4 1438.4l6-22.4"/>
<path class="k27" d="M493.9 1466.9l6-54.2"/>
<path class="k28" d="M499 1476.2l6-64.8"/>
<path class="k29" d="M504.2 1485.1l5.9-74.9"/>
<path class="k30" d="M509.3 1493.4l6-84.3M514.4 1501.3l6-93.2"/>
<path class="k31" d="M519.6 1509l6-102.1"/>
<path class="k32" d="M524.7 1516.6l6-110.9"/>
<path class="k33" d="M529.9 1523.9l6-119.4"/>
<path class="k34" d="M535 1530.9l6-127.6"/>
<path class="k35" d="M540.2 1537.4l5.9-135.2M545.3 1543.5l6-142.2"/>
<path class="k36" d="M550.4 1548.9l6-148.1M555.6 1553.8l6-153.3"/>
<path class="k37" d="M560.7 1558.6l6-157.9M565.9 1563.2l6-161.8"/>
<path class="k38" d="M571 1567.6l6-165.1M576.2 1571.5l5.9-167.6"/>
<path class="k39" d="M581.3 1575l6-169.5M586.4 1577.9l6-170.7M591.6 1580.1l6-171M596.7 1581.8l6-170.8"/>
<path class="k40" d="M601.9 1583.4l6-170.1M607 1584.9l6-169M612.1 1586.3l6-167.4M617.3 1587.5l6-165.2M622.4 1588.7l6-162.8M627.6 1589.7l6-160M632.7 1590.7l6-157M637.9 1591.5l6-153.7"/>
<path class="k41" d="M643 1592.3l6-150.2M648.1 1592.9l6-145.8M653.3 1593.5l6-140.9M658.4 1594l6-135.4M663.6 1594.4l6-129.5M668.7 1594.9l6-123.5M673.9 1595.4l6-117.5M679 1595.8l6-111.5M684.1 1596.2l6-105.9M689.3 1596.5l6-100.5M694.4 1596.9l6-95.3M699.6 1597.1l6-89.9M704.7 1597.4l6-84.5M709.9 1597.5l6-79.1M715 1597.7l6-74M720.1 1597.8l6-68.9M725.3 1597.9l6-64.2M730.4 1598l6-59.9M735.6 1598.1l6-56M740.7 1598.2l6-52.4M745.9 1598.3l6-49.1M751 1598.4l6-45.9M756.1 1598.5l6-42.9M761.3 1598.6l6-40.2M766.4 1598.7l6-37.7M771.6 1598.8l6-35.5M776.7 1598.9l6-33.4M781.9 1599l6-31.3M787 1599.1l6-29.3M792.1 1599.2l6-27.5M797.3 1599.3l6-25.8M802.4 1599.4l6-24.2M807.6 1599.5l6-23M812.7 1599.6l6-22M817.9 1599.7l5.9-21.3M823 1599.8l6-20.7M828.1 1599.9l6-20.2M833.3 1600.1l6-19.8M838.4 1600.2l6-19.4M843.6 1600.3l6-19M848.7 1600.4l6-18.8M853.9 1600.5l5.9-18.6M859 1600.6l6-18.6M864.1 1600.7l6-18.6M869.3 1600.8l6-18.6M874.4 1600.9l6-18.6M879.6 1601l6-18.6M884.7 1601.1l6-18.6M889.9 1601.2l5.9-18.6M895 1601.3l6-18.6M900.1 1601.4l6-18.6M905.3 1601.5l6-18.6M910.4 1601.6l6-18.5M915.6 1601.7l6-18.5M920.7 1601.8l6-18.5M925.9 1601.9l5.9-18.5M931 1602l6-18.5M936.1 1602.1l6-18.5"/>
<path class="f" d="M124 1457l10-24 10-24 10-23 11-23 10-25 10-25 11-22 10-16 10-12 10-11 11-10 10-7 10-6 11-2 10 0 10 3 10 4 11 5 10 6 10 7 11 10 10 10 10 10 10 10 11 11 10 11 10 10 11 12 10 12 10 14 10 15 11 17 10 18 10 17 11 19 10 19 10 18 10 16 11 16 10 14 10 12 11 11 10 9 10 9 10 6 11 4 10 3 10 3 11 2 10 2 10 1 10 1 11 1 10 1 10 1 11 0 10 1 10 0 10 0 11 0 10 0 10 1 11 0 10 0 10 0 10 0 11 1 10 0 10 0 11 0 10 0 10 1 10 0 11 0 10 0 10 0 11 1 10 0 10 0-6 19-10-1-10 0-11 0-10 0-10 0-11-1-10 0-10 0-10 0-11 0-10-1-10 0-11 0-10 0-10 0-10-1-11 0-10 0-10 0-11 0-10-1-10 0-10 0-11-1-10 0-10-1-11 0-10-1-10-1-10-2-11-2-10-2-10-3-11-3-10-5-10-7-10-7-11-9-10-11-10-13-11-14-10-14-10-15-10-15-11-16-10-16-10-18-11-18-10-17-10-17-10-16-11-16-10-16-10-14-11-14-10-13-10-13-10-14-11-14-10-11-10-8-11-7-10-6-10-4-10-1-11 3-10 4-10 7-11 8-10 10-10 11-10 15-11 22-10 26-10 25-11 24-10 24-10 25-10 25z"/>
<path class="k26" d="M123.6 1457l5.1-12M488.7 1457.4l5.2 9.5"/>
<path class="k25" d="M128.7 1445l5.2-12"/>
<path class="k24" d="M133.9 1433l5.1-11.8M483.6 1447.9l5.1 9.5"/>
<path class="k22" d="M139 1421.2l5.2-11.8M473.3 1429.3l5.1 9.1"/>
<path class="k21" d="M144.2 1409.4l5.1-11.7M468.2 1420.5l5.1 8.8"/>
<path class="k20" d="M149.3 1397.7l5.1-11.6M463 1411.8l5.2 8.7"/>
<path class="k18" d="M154.4 1386.1l5.2-11.5M452.7 1394.3l5.2 8.7"/>
<path class="k17" d="M159.6 1374.6l5.1-11.5M442.4 1377.4l5.2 8.4 5.1 8.5"/>
<path class="k16" d="M164.7 1363.1l5.2-12M437.3 1369.4l5.1 8"/>
<path class="k1" d="M169.9 1351.1l5.1-12.6M427 1354.5l5.2 7.2"/>
<path class="k2" d="M175 1338.5l5.2-12.8M421.9 1347.8l5.1 6.7"/>
<path class="k4" d="M180.2 1325.7l5.1-12.6M401.3 1324.5l5.1 5.5 5.2 5.7"/>
<path class="k5" d="M185.3 1313.1l5.1-11.8M396.2 1319l5.1 5.5"/>
<path class="k7" d="M190.4 1301.3l5.2-10.6M375.6 1297.3l5.1 5.3 5.2 5.4"/>
<path class="k8" d="M195.6 1290.7l5.1-9M370.4 1292.1l5.2 5.2"/>
<path class="k9" d="M200.7 1281.7l5.2-6.8M360.2 1282.1l5.1 4.9 5.1 5.1"/>
<path class="k10" d="M205.9 1274.9l5.1-6 5.2-5.8M349.9 1271.9l5.1 5.2 5.2 5"/>
<path class="k11" d="M216.2 1263.1l5.1-5.7M339.6 1261.6l5.1 5.1 5.2 5.2"/>
<path class="k12" d="M221.3 1257.4l5.1-5.4 5.2-5M329.3 1252.1l5.1 4.6 5.2 4.9"/>
<path class="k13" d="M231.6 1247l5.1-4.7 5.2-4.1M319 1244.5l5.2 3.5 5.1 4.1"/>
<path class="k14" d="M241.9 1238.2l5.1-3.7 5.2-3M298.4 1234.3l5.2 2.4 5.1 2.5 5.2 2.5 5.1 2.8"/>
<path class="k15" d="M252.2 1231.5l5.1-2.4 5.1-1.6 5.2-0.8 5.1 0 5.2 0.7 5.1 1.2 5.2 1.5 5.1 2 5.1 2.2"/>
<path class="k6" d="M385.9 1308l5.1 5.5 5.2 5.5"/>
<path class="k3" d="M411.6 1335.7l5.1 5.9 5.2 6.2"/>
<path class="k0" d="M432.2 1361.7l5.1 7.7"/>
<path class="k19" d="M457.9 1403l5.1 8.8"/>
<path class="k23" d="M478.4 1438.4l5.2 9.5"/>
<path class="k27" d="M493.9 1466.9l5.1 9.3"/>
<path class="k28" d="M499 1476.2l5.2 8.9"/>
<path class="k29" d="M504.2 1485.1l5.1 8.3"/>
<path class="k30" d="M509.3 1493.4l5.1 7.9 5.2 7.7"/>
<path class="k31" d="M519.6 1509l5.1 7.6"/>
<path class="k32" d="M524.7 1516.6l5.2 7.3"/>
<path class="k33" d="M529.9 1523.9l5.1 7"/>
<path class="k34" d="M535 1530.9l5.2 6.5"/>
<path class="k35" d="M540.2 1537.4l5.1 6.1 5.1 5.4"/>
<path class="k36" d="M550.4 1548.9l5.2 4.9 5.1 4.8"/>
<path class="k37" d="M560.7 1558.6l5.2 4.6 5.1 4.4"/>
<path class="k38" d="M571 1567.6l5.2 3.9 5.1 3.5"/>
<path class="k39" d="M581.3 1575l5.1 2.9 5.2 2.2 5.1 1.7 5.2 1.6"/>
<path class="k40" d="M601.9 1583.4l5.1 1.5 5.1 1.4 5.2 1.2 5.1 1.2 5.2 1 5.1 1 5.2 0.8 5.1 0.8"/>
<path class="k41" d="M643 1592.3l5.1 0.6 5.2 0.6 5.1 0.5 5.2 0.4 5.1 0.5 5.2 0.5 5.1 0.4 5.1 0.4 5.2 0.3 5.1 0.4 5.2 0.2 5.1 0.3 5.2 0.1 5.1 0.2 5.1 0.1 5.2 0.1 5.1 0.1 5.2 0.1 5.1 0.1 5.2 0.1 5.1 0.1 5.1 0.1 5.2 0.1 5.1 0.1 5.2 0.1 5.1 0.1 5.2 0.1 5.1 0.1 5.1 0.1 5.2 0.1 5.1 0.1 5.2 0.1 5.1 0.1 5.2 0.1 5.1 0.1 5.1 0.1 5.2 0.2 5.1 0.1 5.2 0.1 5.1 0.1 5.2 0.1 5.1 0.1 5.1 0.1 5.2 0.1 5.1 0.1 5.2 0.1 5.1 0.1 5.2 0.1 5.1 0.1 5.1 0.1 5.2 0.1 5.1 0.1 5.2 0.1 5.1 0.1 5.2 0.1 5.1 0.1 5.1 0.1"/>
<path class="k23" d="M117.6 1450l6 7M451.9 1448.9l6-45.9M457 1457.5l6-45.7"/>
<path class="k22" d="M122.7 1437.2l6 7.8M446.7 1440l6-45.7"/>
<path class="k20" d="M127.9 1424.6l6 8.4M436.4 1422.2l6-44.8"/>
<path class="k19" d="M133 1412.1l6 9.1M431.3 1413.5l6-44.1"/>
<path class="k18" d="M138.2 1399.8l6 9.6M426.2 1404.9l6-43.2"/>
<path class="k16" d="M143.3 1387.6l6 10.1M415.9 1388.1l6-40.3"/>
<path class="k0" d="M148.5 1375.6l5.9 10.5M410.7 1379.8l6-38.2"/>
<path class="k2" d="M153.6 1363.7l6 10.9M400.4 1363.5l6-33.5"/>
<path class="k3" d="M158.7 1352l6 11.1M395.3 1355.6l6-31.1"/>
<path class="k4" d="M163.9 1339.7l6 11.4M390.2 1347.9l6-28.9"/>
<path class="k6" d="M169 1326.9l6 11.6M374.7 1326l6-23.4M379.9 1333.1l6-25.1"/>
<path class="k7" d="M174.2 1313.9l6 11.8M369.6 1319.1l6-21.8"/>
<path class="k9" d="M179.3 1301.2l6 11.9M354.2 1298.9l6-16.8M359.3 1305.6l6-18.6"/>
<path class="k10" d="M184.5 1289.4l5.9 11.9M349 1292.4l6-15.3"/>
<path class="k11" d="M189.6 1278.9l6 11.8M343.9 1285.9l6-14"/>
<path class="k12" d="M194.7 1270.2l6 11.5M333.6 1272.1l6-10.5M338.7 1279.1l6-12.4"/>
<path class="k13" d="M199.9 1263.8l6 11.1M328.5 1265.2l5.9-8.5"/>
<path class="k14" d="M205 1258.4l6 10.5M210.2 1253.2l6 9.9M323.3 1258.5l6-6.4"/>
<path class="k15" d="M215.3 1248.2l6 9.2M220.5 1243.4l5.9 8.6M313 1246.7l6-2.2M318.2 1252.2l6-4.2"/>
<path class="k42" d="M225.6 1239l6 8M230.7 1234.9l6 7.4M297.6 1235.2l6 1.5M302.7 1238.5l6 0.7M307.9 1242.1l6-0.4"/>
<path class="k43" d="M235.9 1231.3l6 6.9M241 1228.1l6 6.4M246.2 1225.5l6 6M282.2 1226.3l6 3.8M287.3 1228.9l6 3.2M292.5 1231.9l5.9 2.4"/>
<path class="k44" d="M251.3 1223.5l6 5.6M256.5 1222.2l5.9 5.3M261.6 1221.5l6 5.2M266.7 1221.6l6 5.1M271.9 1222.5l6 4.9M277 1224.1l6 4.5"/>
<path class="k8" d="M364.4 1312.3l6-20.2"/>
<path class="k5" d="M385 1340.4l6-26.9"/>
<path class="k1" d="M405.6 1371.6l6-35.9"/>
<path class="k17" d="M421 1396.5l6-42"/>
<path class="k21" d="M441.6 1431.1l6-45.3"/>
<path class="k24" d="M462.2 1465.9l6-45.4"/>
<path class="k25" d="M467.3 1474.1l6-44.8"/>
<path class="k26" d="M472.4 1482.1l6-43.7"/>
<path class="k27" d="M477.6 1490l6-42.1"/>
<path class="k28" d="M482.7 1497.8l6-40.4"/>
<path class="k29" d="M487.9 1505.5l6-38.6"/>
<path class="k30" d="M493 1512.9l6-36.7"/>
<path class="k31" d="M498.2 1520.2l6-35.1M503.3 1527.1l6-33.7"/>
<path class="k32" d="M508.4 1533.9l6-32.6"/>
<path class="k33" d="M513.6 1540.8l6-31.8"/>
<path class="k34" d="M518.7 1547.6l6-31M523.9 1554.3l6-30.4"/>
<path class="k35" d="M529 1560.6l6-29.7"/>
<path class="k36" d="M534.2 1566.5l6-29.1M539.3 1571.8l6-28.3"/>
<path class="k37" d="M544.4 1576.5l6-27.6M549.6 1580.6l6-26.8"/>
<path class="k38" d="M554.7 1584.5l6-25.9M559.9 1588.2l6-25"/>
<path class="k39" d="M565 1591.6l6-24M570.2 1594.8l6-23.3M575.3 1597.5l6-22.5M580.4 1599.8l6-21.9"/>
<path class="k40" d="M585.6 1601.7l6-21.6M590.7 1603.2l6-21.4M595.9 1604.6l6-21.2M601 1605.9l6-21M606.2 1607.2l5.9-20.9M611.3 1608.3l6-20.8M616.4 1609.4l6-20.7"/>
<path class="k41" d="M621.6 1610.3l6-20.6M626.7 1611.2l6-20.5M631.9 1612l6-20.5M637 1612.6l6-20.3M642.2 1613.1l5.9-20.2M647.3 1613.5l6-20M652.4 1613.8l6-19.8M657.6 1614.1l6-19.7M662.7 1614.4l6-19.5M667.9 1614.7l6-19.3M673 1614.9l6-19.1M678.2 1615.2l5.9-19M683.3 1615.4l6-18.9M688.4 1615.6l6-18.7M693.6 1615.8l6-18.7M698.7 1616l6-18.6M703.9 1616.1l6-18.6M709 1616.2l6-18.5M714.2 1616.3l5.9-18.5M719.3 1616.4l6-18.5M724.4 1616.5l6-18.5M729.6 1616.6l6-18.5M734.7 1616.7l6-18.5M739.9 1616.8l6-18.5M745 1616.9l6-18.5M750.2 1617l5.9-18.5M755.3 1617.2l6-18.6M760.4 1617.3l6-18.6M765.6 1617.4l6-18.6M770.7 1617.5l6-18.6M775.9 1617.6l6-18.6M781 1617.7l6-18.6M786.2 1617.8l5.9-18.6M791.3 1617.9l6-18.6M796.4 1618l6-18.6M801.6 1618.1l6-18.6M806.7 1618.2l6-18.6M811.9 1618.3l6-18.6M817 1618.4l6-18.6M822.2 1618.5l5.9-18.6M827.3 1618.6l6-18.5M832.4 1618.7l6-18.5M837.6 1618.8l6-18.5M842.7 1618.9l6-18.5M847.9 1619l6-18.5M853 1619.1l6-18.5M858.2 1619.2l5.9-18.5M863.3 1619.3l6-18.5M868.4 1619.4l6-18.5M873.6 1619.5l6-18.5M878.7 1619.6l6-18.5M883.9 1619.7l6-18.5M889 1619.8l6-18.5M894.2 1619.9l5.9-18.5M899.3 1620l6-18.5M904.4 1620.2l6-18.6M909.6 1620.3l6-18.6M914.7 1620.4l6-18.6M919.9 1620.5l6-18.6M925 1620.6l6-18.6M930.2 1620.7l5.9-18.6"/>
<path class="f" d="M118 1450l10-25 10-25 10-24 11-24 10-25 10-26 11-22 10-15 10-11 10-10 11-8 10-7 10-4 11-3 10 1 10 4 10 6 11 7 10 8 10 11 11 14 10 14 10 13 10 13 11 14 10 14 10 16 11 16 10 16 10 17 10 17 11 18 10 18 10 16 11 16 10 15 10 15 10 14 11 14 10 13 10 11 11 9 10 7 10 7 10 5 11 3 10 3 10 2 11 2 10 2 10 1 10 1 11 0 10 1 10 0 11 1 10 0 10 0 10 1 11 0 10 0 10 0 11 0 10 1 10 0 10 0 11 0 10 0 10 1 11 0 10 0 10 0 10 0 11 1 10 0 10 0 11 0 10 0 10 1-6 18-10 0-10 0-11 0-10-1-10 0-11 0-10 0-10 0-10-1-11 0-10 0-10 0-11 0-10-1-10 0-10 0-11 0-10-1-10 0-11 0-10 0-10 0-10-1-11 0-10 0-10 0-11 0-10-1-10 0-10-1-11-2-10-1-10-2-11-2-10-4-10-5-10-6-11-7-10-9-10-12-11-12-10-13-10-15-10-15-11-16-10-17-10-18-11-19-10-18-10-20-10-20-11-19-10-20-10-20-11-19-10-20-10-17-10-17-11-16-10-15-10-12-11-8-10-8-10-3-10 1-11 3-10 3-10 6-11 10-10 13-10 14-10 17-11 21-10 24-10 24-11 24-10 25-10 26-10 27z"/>
<path class="k23" d="M117.6 1450l5.1-12.8M451.9 1448.9l5.1 8.6 5.2 8.4"/>
<path class="k22" d="M122.7 1437.2l5.2-12.6M446.7 1440l5.2 8.9"/>
<path class="k20" d="M127.9 1424.6l5.1-12.5M436.4 1422.2l5.2 8.9"/>
<path class="k19" d="M133 1412.1l5.2-12.3M431.3 1413.5l5.1 8.7"/>
<path class="k18" d="M138.2 1399.8l5.1-12.2M426.2 1404.9l5.1 8.6"/>
<path class="k16" d="M143.3 1387.6l5.2-12M415.9 1388.1l5.1 8.4"/>
<path class="k0" d="M148.5 1375.6l5.1-11.9M410.7 1379.8l5.2 8.3"/>
<path class="k2" d="M153.6 1363.7l5.1-11.7M400.4 1363.5l5.2 8.1"/>
<path class="k3" d="M158.7 1352l5.2-12.3M395.3 1355.6l5.1 7.9"/>
<path class="k4" d="M163.9 1339.7l5.1-12.8M390.2 1347.9l5.1 7.7"/>
<path class="k6" d="M169 1326.9l5.2-13M374.7 1326l5.2 7.1 5.1 7.3"/>
<path class="k7" d="M174.2 1313.9l5.1-12.7M369.6 1319.1l5.1 6.9"/>
<path class="k9" d="M179.3 1301.2l5.2-11.8M354.2 1298.9l5.1 6.7 5.1 6.7"/>
<path class="k10" d="M184.5 1289.4l5.1-10.5M349 1292.4l5.2 6.5"/>
<path class="k11" d="M189.6 1278.9l5.1-8.7M343.9 1285.9l5.1 6.5"/>
<path class="k12" d="M194.7 1270.2l5.2-6.4M333.6 1272.1l5.1 7 5.2 6.8"/>
<path class="k13" d="M199.9 1263.8l5.1-5.4M328.5 1265.2l5.1 6.9"/>
<path class="k14" d="M205 1258.4l5.2-5.2 5.1-5M323.3 1258.5l5.2 6.7"/>
<path class="k15" d="M215.3 1248.2l5.2-4.8 5.1-4.4M313 1246.7l5.2 5.5 5.1 6.3"/>
<path class="k42" d="M225.6 1239l5.1-4.1 5.2-3.6M297.6 1235.2l5.1 3.3 5.2 3.6 5.1 4.6"/>
<path class="k43" d="M235.9 1231.3l5.1-3.2 5.2-2.6 5.1-2M282.2 1226.3l5.1 2.6 5.2 3 5.1 3.3"/>
<path class="k44" d="M251.3 1223.5l5.2-1.3 5.1-0.7 5.1 0.1 5.2 0.9 5.1 1.6 5.2 2.2"/>
<path class="k8" d="M364.4 1312.3l5.2 6.8"/>
<path class="k5" d="M385 1340.4l5.2 7.5"/>
<path class="k1" d="M405.6 1371.6l5.1 8.2"/>
<path class="k17" d="M421 1396.5l5.2 8.4"/>
<path class="k21" d="M441.6 1431.1l5.1 8.9"/>
<path class="k24" d="M462.2 1465.9l5.1 8.2"/>
<path class="k25" d="M467.3 1474.1l5.1 8"/>
<path class="k26" d="M472.4 1482.1l5.2 7.9"/>
<path class="k27" d="M477.6 1490l5.1 7.8"/>
<path class="k28" d="M482.7 1497.8l5.2 7.7"/>
<path class="k29" d="M487.9 1505.5l5.1 7.4"/>
<path class="k30" d="M493 1512.9l5.2 7.3"/>
<path class="k31" d="M498.2 1520.2l5.1 6.9 5.1 6.8"/>
<path class="k32" d="M508.4 1533.9l5.2 6.9"/>
<path class="k33" d="M513.6 1540.8l5.1 6.8"/>
<path class="k34" d="M518.7 1547.6l5.2 6.7 5.1 6.3"/>
<path class="k35" d="M529 1560.6l5.2 5.9"/>
<path class="k36" d="M534.2 1566.5l5.1 5.3 5.1 4.7"/>
<path class="k37" d="M544.4 1576.5l5.2 4.1 5.1 3.9"/>
<path class="k38" d="M554.7 1584.5l5.2 3.7 5.1 3.4"/>
<path class="k39" d="M565 1591.6l5.2 3.2 5.1 2.7 5.1 2.3 5.2 1.9"/>
<path class="k40" d="M585.6 1601.7l5.1 1.5 5.2 1.4 5.1 1.3 5.2 1.3 5.1 1.1 5.1 1.1 5.2 0.9"/>
<path class="k41" d="M621.6 1610.3l5.1 0.9 5.2 0.8 5.1 0.6 5.2 0.5 5.1 0.4 5.1 0.3 5.2 0.3 5.1 0.3 5.2 0.3 5.1 0.2 5.2 0.3 5.1 0.2 5.1 0.2 5.2 0.2 5.1 0.2 5.2 0.1 5.1 0.1 5.2 0.1 5.1 0.1 5.1 0.1 5.2 0.1 5.1 0.1 5.2 0.1 5.1 0.1 5.2 0.1 5.1 0.2 5.1 0.1 5.2 0.1 5.1 0.1 5.2 0.1 5.1 0.1 5.2 0.1 5.1 0.1 5.1 0.1 5.2 0.1 5.1 0.1 5.2 0.1 5.1 0.1 5.2 0.1 5.1 0.1 5.1 0.1 5.2 0.1 5.1 0.1 5.2 0.1 5.1 0.1 5.2 0.1 5.1 0.1 5.1 0.1 5.2 0.1 5.1 0.1 5.2 0.1 5.1 0.1 5.2 0.1 5.1 0.1 5.1 0.2 5.2 0.1 5.1 0.1 5.2 0.1 5.1 0.1 5.2 0.1"/>
<path class="k21" d="M111.6 1443.3l6 6.7M430.5 1457.5l5.9-35.3"/>
<path class="k19" d="M116.8 1429.6l5.9 7.6M420.2 1438.7l6-33.8"/>
<path class="k17" d="M121.9 1416.1l6 8.5M409.9 1419.3l6-31.2"/>
<path class="k16" d="M127 1402.9l6 9.2M404.7 1409.4l6-29.6"/>
<path class="k1" d="M132.2 1389.9l6 9.9M394.5 1389.5l5.9-26"/>
<path class="k2" d="M137.3 1377.2l6 10.4M389.3 1379.6l6-24"/>
<path class="k3" d="M142.5 1364.8l6 10.8M384.2 1369.7l6-21.8"/>
<path class="k5" d="M147.6 1352.7l6 11M379 1359.9l6-19.5"/>
<path class="k6" d="M152.7 1340.8l6 11.2M373.9 1350.3l6-17.2"/>
<path class="k8" d="M157.9 1329l6 10.7M363.6 1330.6l6-11.5"/>
<path class="k9" d="M163 1316.9l6 10M358.5 1320.7l5.9-8.4"/>
<path class="k10" d="M168.2 1305l6 8.9M353.3 1311l6-5.4"/>
<path class="k12" d="M173.3 1293.4l6 7.8M343 1292.3l6 0.1"/>
<path class="k13" d="M178.5 1282.5l6 6.9M337.9 1283.6l6 2.3"/>
<path class="k14" d="M183.6 1272.3l6 6.6M332.7 1275.3l6 3.8"/>
<path class="k15" d="M188.7 1263.2l6 7M327.6 1267l6 5.1"/>
<path class="k42" d="M193.9 1255.4l6 8.4M322.5 1258.7l6 6.5"/>
<path class="k43" d="M199 1248.1l6 10.3M317.3 1250.7l6 7.8"/>
<path class="k44" d="M204.2 1241.1l6 12.1M209.3 1234.4l6 13.8M312.2 1243l6 9.2"/>
<path class="k45" d="M214.5 1228.3l6 15.1M301.9 1229.8l6 12.3M307 1236l6 10.7"/>
<path class="k46" d="M219.6 1222.9l6 16.1M224.7 1218.3l6 16.6M291.6 1220l6 15.2M296.7 1224.5l6 14"/>
<path class="k47" d="M229.9 1214.7l6 16.6M235 1212.3l6 15.8M240.2 1210.3l6 15.2M281.3 1211.5l6 17.4M286.5 1215.6l6 16.3"/>
<path class="k48" d="M245.3 1208.5l6 15M250.5 1207l6 15.2M255.6 1205.8l6 15.7M260.7 1205l6 16.6M265.9 1204.8l6 17.7M271 1205.7l6 18.4M276.2 1208.1l6 18.2"/>
<path class="k11" d="M348.2 1301.5l6-2.6"/>
<path class="k7" d="M368.7 1340.4l6-14.4"/>
<path class="k0" d="M399.6 1399.5l6-27.9"/>
<path class="k18" d="M415 1429.1l6-32.6"/>
<path class="k20" d="M425.3 1448.2l6-34.7"/>
<path class="k22" d="M435.6 1466.8l6-35.7"/>
<path class="k23" d="M440.7 1475.9l6-35.9"/>
<path class="k25" d="M445.9 1484.9l6-36"/>
<path class="k26" d="M451 1493.7l6-36.2M456.2 1502.3l6-36.4"/>
<path class="k27" d="M461.3 1510.5l6-36.4"/>
<path class="k28" d="M466.5 1518.7l5.9-36.6"/>
<path class="k29" d="M471.6 1526.8l6-36.8"/>
<path class="k30" d="M476.7 1534.8l6-37"/>
<path class="k31" d="M481.9 1542.5l6-37"/>
<path class="k32" d="M487 1549.9l6-37"/>
<path class="k33" d="M492.2 1557l6-36.8M497.3 1563.6l6-36.5"/>
<path class="k34" d="M502.5 1569.9l5.9-36"/>
<path class="k35" d="M507.6 1576.2l6-35.4M512.7 1582.3l6-34.7"/>
<path class="k36" d="M517.9 1588.2l6-33.9"/>
<path class="k37" d="M523 1593.7l6-33.1M528.2 1598.8l6-32.3"/>
<path class="k38" d="M533.3 1603.3l6-31.5M538.5 1607.1l5.9-30.6"/>
<path class="k39" d="M543.6 1610.3l6-29.7M548.7 1613.4l6-28.9M553.9 1616.3l6-28.1"/>
<path class="k40" d="M559 1618.9l6-27.3M564.2 1621.3l6-26.5M569.3 1623.3l6-25.8M574.5 1625l5.9-25.2M579.6 1626.2l6-24.5M584.7 1627.2l6-24M589.9 1628.1l6-23.5"/>
<path class="k41" d="M595 1628.9l6-23M600.2 1629.7l6-22.5M605.3 1630.5l6-22.2M610.5 1631.2l5.9-21.8M615.6 1631.8l6-21.5M620.7 1632.3l6-21.1M625.9 1632.8l6-20.8M631 1633.1l6-20.5M636.2 1633.4l6-20.3M641.3 1633.5l6-20M646.5 1633.6l5.9-19.8M651.6 1633.7l6-19.6M656.7 1633.8l6-19.4M661.9 1633.9l6-19.2M667 1634l6-19.1M672.2 1634.1l6-18.9M677.3 1634.3l6-18.9M682.5 1634.4l5.9-18.8M687.6 1634.5l6-18.7M692.7 1634.6l6-18.6M697.9 1634.7l6-18.6M703 1634.8l6-18.6M708.2 1634.9l6-18.6M713.3 1635l6-18.6M718.5 1635.1l5.9-18.6M723.6 1635.2l6-18.6M728.7 1635.3l6-18.6M733.9 1635.4l6-18.6M739 1635.5l6-18.6M744.2 1635.6l6-18.6M749.3 1635.7l6-18.5M754.5 1635.8l5.9-18.5M759.6 1635.9l6-18.5M764.7 1636l6-18.5M769.9 1636.1l6-18.5M775 1636.2l6-18.5M780.2 1636.3l6-18.5M785.3 1636.4l6-18.5M790.5 1636.5l5.9-18.5M795.6 1636.6l6-18.5M800.7 1636.7l6-18.5M805.9 1636.8l6-18.5M811 1636.9l6-18.5M816.2 1637l6-18.5M821.3 1637.2l6-18.6M826.5 1637.3l5.9-18.6M831.6 1637.4l6-18.6M836.7 1637.5l6-18.6M841.9 1637.6l6-18.6M847 1637.7l6-18.6M852.2 1637.8l6-18.6M857.3 1637.9l6-18.6M862.4 1638l6-18.6M867.6 1638.1l6-18.6M872.7 1638.2l6-18.6M877.9 1638.3l6-18.6M883 1638.4l6-18.6M888.2 1638.5l6-18.6M893.3 1638.6l6-18.6M898.4 1638.7l6-18.5M903.6 1638.8l6-18.5M908.7 1638.9l6-18.5M913.9 1639l6-18.5M919 1639.1l6-18.5M924.2 1639.2l6-18.5"/>
<path class="f" d="M112 1443l10-27 10-26 10-25 11-24 10-24 10-24 11-21 10-17 10-14 10-13 11-10 10-6 10-3 11-3 10-1 10 3 10 8 11 8 10 12 10 15 11 16 10 17 10 17 10 20 11 19 10 20 10 20 11 19 10 20 10 20 10 18 11 19 10 18 10 17 11 16 10 15 10 15 10 13 11 12 10 12 10 9 11 7 10 6 10 5 10 4 11 2 10 2 10 1 11 2 10 1 10 0 10 1 11 0 10 0 10 0 11 0 10 1 10 0 10 0 11 0 10 0 10 1 11 0 10 0 10 0 10 1 11 0 10 0 10 0 11 0 10 1 10 0 10 0 11 0 10 0 10 1 11 0 10 0 10 0-6 19-10 0-10-1-11 0-10 0-10 0-11 0-10-1-10 0-10 0-11 0-10-1-10 0-11 0-10 0-10 0-10-1-11 0-10 0-10 0-11 0-10-1-10 0-10 0-11 0-10 0-10-1-11 0-10 0-10 0-10 0-11-1-10 0-10-1-11-1-10-1-10-2-10-3-11-4-10-6-10-8-11-10-10-12-10-12-10-15-11-16-10-18-10-19-11-20-10-20-10-21-10-21-11-23-10-28-10-32-11-28-10-20-10-14-10-10-11-10-10-11-10-11-11-8-10-6-10-5-10-6-11-2-10 3-10 7-11 10-10 12-10 12-10 15-11 20-10 22-10 23-11 22-10 24-10 25-10 26z"/>
<path class="k21" d="M111.6 1443.3l5.2-13.7M430.5 1457.5l5.1 9.3"/>
<path class="k19" d="M116.8 1429.6l5.1-13.5M420.2 1438.7l5.1 9.5"/>
<path class="k17" d="M121.9 1416.1l5.1-13.2M409.9 1419.3l5.1 9.8"/>
<path class="k16" d="M127 1402.9l5.2-13M404.7 1409.4l5.2 9.9"/>
<path class="k1" d="M132.2 1389.9l5.1-12.7M394.5 1389.5l5.1 10"/>
<path class="k2" d="M137.3 1377.2l5.2-12.4M389.3 1379.6l5.2 9.9"/>
<path class="k3" d="M142.5 1364.8l5.1-12.1M384.2 1369.7l5.1 9.9"/>
<path class="k5" d="M147.6 1352.7l5.1-11.9M379 1359.9l5.2 9.8"/>
<path class="k6" d="M152.7 1340.8l5.2-11.8M373.9 1350.3l5.1 9.6"/>
<path class="k8" d="M157.9 1329l5.1-12.1M363.6 1330.6l5.1 9.8"/>
<path class="k9" d="M163 1316.9l5.2-11.9M358.5 1320.7l5.1 9.9"/>
<path class="k10" d="M168.2 1305l5.1-11.6M353.3 1311l5.2 9.7"/>
<path class="k12" d="M173.3 1293.4l5.2-10.9M343 1292.3l5.2 9.2"/>
<path class="k13" d="M178.5 1282.5l5.1-10.2M337.9 1283.6l5.1 8.7"/>
<path class="k14" d="M183.6 1272.3l5.1-9.1M332.7 1275.3l5.2 8.3"/>
<path class="k15" d="M188.7 1263.2l5.2-7.8M327.6 1267l5.1 8.3"/>
<path class="k42" d="M193.9 1255.4l5.1-7.3M322.5 1258.7l5.1 8.3"/>
<path class="k43" d="M199 1248.1l5.2-7M317.3 1250.7l5.2 8"/>
<path class="k44" d="M204.2 1241.1l5.1-6.7 5.2-6.1M312.2 1243l5.1 7.7"/>
<path class="k45" d="M214.5 1228.3l5.1-5.4M301.9 1229.8l5.1 6.2 5.2 7"/>
<path class="k46" d="M219.6 1222.9l5.1-4.6 5.2-3.6M291.6 1220l5.1 4.5 5.2 5.3"/>
<path class="k47" d="M229.9 1214.7l5.1-2.4 5.2-2 5.1-1.8M281.3 1211.5l5.2 4.1 5.1 4.4"/>
<path class="k48" d="M245.3 1208.5l5.2-1.5 5.1-1.2 5.1-0.8 5.2-0.2 5.1 0.9 5.2 2.4 5.1 3.4"/>
<path class="k11" d="M348.2 1301.5l5.1 9.5"/>
<path class="k7" d="M368.7 1340.4l5.2 9.9"/>
<path class="k0" d="M399.6 1399.5l5.1 9.9"/>
<path class="k18" d="M415 1429.1l5.2 9.6"/>
<path class="k20" d="M425.3 1448.2l5.2 9.3"/>
<path class="k22" d="M435.6 1466.8l5.1 9.1"/>
<path class="k23" d="M440.7 1475.9l5.2 9"/>
<path class="k25" d="M445.9 1484.9l5.1 8.8"/>
<path class="k26" d="M451 1493.7l5.2 8.6 5.1 8.2"/>
<path class="k27" d="M461.3 1510.5l5.2 8.2"/>
<path class="k28" d="M466.5 1518.7l5.1 8.1"/>
<path class="k29" d="M471.6 1526.8l5.1 8"/>
<path class="k30" d="M476.7 1534.8l5.2 7.7"/>
<path class="k31" d="M481.9 1542.5l5.1 7.4"/>
<path class="k32" d="M487 1549.9l5.2 7.1"/>
<path class="k33" d="M492.2 1557l5.1 6.6 5.2 6.3"/>
<path class="k34" d="M502.5 1569.9l5.1 6.3"/>
<path class="k35" d="M507.6 1576.2l5.1 6.1 5.2 5.9"/>
<path class="k36" d="M517.9 1588.2l5.1 5.5"/>
<path class="k37" d="M523 1593.7l5.2 5.1 5.1 4.5"/>
<path class="k38" d="M533.3 1603.3l5.2 3.8 5.1 3.2"/>
<path class="k39" d="M543.6 1610.3l5.1 3.1 5.2 2.9 5.1 2.6"/>
<path class="k40" d="M559 1618.9l5.2 2.4 5.1 2 5.2 1.7 5.1 1.2 5.1 1 5.2 0.9 5.1 0.8"/>
<path class="k41" d="M595 1628.9l5.2 0.8 5.1 0.8 5.2 0.7 5.1 0.6 5.1 0.5 5.2 0.5 5.1 0.3 5.2 0.3 5.1 0.1 5.2 0.1 5.1 0.1 5.1 0.1 5.2 0.1 5.1 0.1 5.2 0.1 5.1 0.2 5.2 0.1 5.1 0.1 5.1 0.1 5.2 0.1 5.1 0.1 5.2 0.1 5.1 0.1 5.2 0.1 5.1 0.1 5.1 0.1 5.2 0.1 5.1 0.1 5.2 0.1 5.1 0.1 5.2 0.1 5.1 0.1 5.1 0.1 5.2 0.1 5.1 0.1 5.2 0.1 5.1 0.1 5.2 0.1 5.1 0.1 5.1 0.1 5.2 0.1 5.1 0.1 5.2 0.1 5.1 0.2 5.2 0.1 5.1 0.1 5.1 0.1 5.2 0.1 5.1 0.1 5.2 0.1 5.1 0.1 5.1 0.1 5.2 0.1 5.1 0.1 5.2 0.1 5.1 0.1 5.2 0.1 5.1 0.1 5.1 0.1 5.2 0.1 5.1 0.1 5.2 0.1 5.1 0.1 5.2 0.1"/>
<path class="k19" d="M105.6 1448.2l6-4.9M398.8 1452l5.9-42.6"/>
<path class="k17" d="M110.8 1435l6-5.4"/>
<path class="k16" d="M115.9 1422.1l6-6M388.5 1429.8l6-40.3"/>
<path class="k0" d="M121 1409.4l6-6.5M383.3 1417.9l6-38.3"/>
<path class="k2" d="M126.2 1397l6-7.1M378.2 1405.2l6-35.5"/>
<path class="k3" d="M131.3 1384.9l6-7.7M373 1390.3l6-30.4"/>
<path class="k5" d="M136.5 1373.2l6-8.4M367.9 1374l6-23.7"/>
<path class="k6" d="M141.6 1361.7l6-9"/>
<path class="k7" d="M146.8 1350.5l5.9-9.7M362.8 1357.6l5.9-17.2"/>
<path class="k9" d="M151.9 1339.3l6-10.3M357.6 1342.4l6-11.8"/>
<path class="k10" d="M157 1327.9l6-11M352.5 1329.8l6-9.1"/>
<path class="k11" d="M162.2 1316.7l6-11.7M347.3 1319.4l6-8.4"/>
<path class="k12" d="M167.3 1305.7l6-12.3M342.2 1310.1l6-8.6"/>
<path class="k14" d="M172.5 1295.5l6-13M326.8 1291l5.9-15.7M331.9 1296.1l6-12.5"/>
<path class="k15" d="M177.6 1286.1l6-13.8M316.5 1281.5l6-22.8M321.6 1286.5l6-19.5"/>
<path class="k42" d="M182.8 1277.9l5.9-14.7M187.9 1271.1l6-15.7M311.3 1276.1l6-25.4"/>
<path class="k43" d="M193 1264.9l6-16.8M301 1264.7l6-28.7M306.2 1270.4l6-27.4"/>
<path class="k44" d="M198.2 1258.6l6-17.5M295.9 1259.1l6-29.3"/>
<path class="k45" d="M203.3 1252.5l6-18.1M208.5 1246.8l6-18.5M280.5 1246l6-30.4M285.6 1249.6l6-29.6M290.8 1254l5.9-29.5"/>
<path class="k46" d="M213.6 1241.5l6-18.6M218.8 1236.8l5.9-18.5M265 1237.5l6-31.8M270.2 1240.4l6-32.3M275.3 1243.1l6-31.6"/>
<path class="k47" d="M223.9 1232.9l6-18.2M229 1229.8l6-17.5M234.2 1227.9l6-17.6M244.5 1227.7l6-20.7M249.6 1229.3l6-23.5M254.8 1231.7l5.9-26.7M259.9 1234.5l6-29.7"/>
<path class="k48" d="M239.3 1227.1l6-18.6"/>
<path class="k13" d="M337 1302.3l6-10"/>
<path class="k18" d="M393.6 1441.1l6-41.6"/>
<path class="k20" d="M403.9 1462.5l6-43.2"/>
<path class="k21" d="M409 1472.7l6-43.6"/>
<path class="k22" d="M414.2 1482.7l6-44"/>
<path class="k23" d="M419.3 1492.7l6-44.5"/>
<path class="k24" d="M424.5 1502.7l6-45.2"/>
<path class="k26" d="M429.6 1512.7l6-45.9"/>
<path class="k27" d="M434.8 1522.6l5.9-46.7"/>
<path class="k28" d="M439.9 1532.4l6-47.5"/>
<path class="k29" d="M445 1541.9l6-48.2"/>
<path class="k30" d="M450.2 1551l6-48.7"/>
<path class="k31" d="M455.3 1559.5l6-49"/>
<path class="k32" d="M460.5 1567.7l6-49"/>
<path class="k33" d="M465.6 1575.7l6-48.9"/>
<path class="k34" d="M470.8 1583.4l5.9-48.6M475.9 1590.6l6-48.1"/>
<path class="k35" d="M481 1597.3l6-47.4"/>
<path class="k36" d="M486.2 1603.4l6-46.4M491.3 1609.2l6-45.6"/>
<path class="k37" d="M496.5 1614.9l6-45"/>
<path class="k38" d="M501.6 1620.3l6-44.1M506.8 1625.2l5.9-42.9"/>
<path class="k39" d="M511.9 1629.5l6-41.3M517 1633.2l6-39.5M522.2 1636l6-37.2"/>
<path class="k40" d="M527.3 1638.6l6-35.3M532.5 1641l6-33.9M537.6 1643.2l6-32.9M542.8 1645l5.9-31.6"/>
<path class="k41" d="M547.9 1646.4l6-30.1M553 1647.4l6-28.5M558.2 1647.9l6-26.6M563.3 1648.5l6-25.2M568.5 1649l6-24M573.6 1649.4l6-23.2M578.8 1649.9l5.9-22.7M583.9 1650.2l6-22.1M589 1650.6l6-21.7M594.2 1650.9l6-21.2M599.3 1651.1l6-20.6M604.5 1651.4l6-20.2M609.6 1651.5l6-19.7M614.8 1651.7l5.9-19.4M619.9 1651.8l6-19M625 1651.9l6-18.8M630.2 1652l6-18.6M635.3 1652.1l6-18.6M640.5 1652.2l6-18.6M645.6 1652.3l6-18.6M650.7 1652.4l6-18.6M655.9 1652.5l6-18.6M661 1652.6l6-18.6M666.2 1652.7l6-18.6M671.3 1652.8l6-18.5M676.5 1652.9l6-18.5M681.6 1653l6-18.5M686.7 1653.1l6-18.5M691.9 1653.2l6-18.5M697 1653.3l6-18.5M702.2 1653.4l6-18.5M707.3 1653.5l6-18.5M712.5 1653.6l6-18.5M717.6 1653.7l6-18.5M722.7 1653.8l6-18.5M727.9 1653.9l6-18.5M733 1654l6-18.5M738.2 1654.1l6-18.5M743.3 1654.3l6-18.6M748.5 1654.4l6-18.6M753.6 1654.5l6-18.6M758.7 1654.6l6-18.6M763.9 1654.7l6-18.6M769 1654.8l6-18.6M774.2 1654.9l6-18.6M779.3 1655l6-18.6M784.5 1655.1l6-18.6M789.6 1655.2l6-18.6M794.7 1655.3l6-18.6M799.9 1655.4l6-18.6M805 1655.5l6-18.6M810.2 1655.6l6-18.6M815.3 1655.7l6-18.5M820.5 1655.8l6-18.5M825.6 1655.9l6-18.5M830.7 1656l6-18.5M835.9 1656.1l6-18.5M841 1656.2l6-18.5M846.2 1656.3l6-18.5M851.3 1656.4l6-18.5M856.5 1656.5l5.9-18.5M861.6 1656.6l6-18.5M866.7 1656.7l6-18.5M871.9 1656.8l6-18.5M877 1656.9l6-18.5M882.2 1657l6-18.5M887.3 1657.1l6-18.5M892.5 1657.3l5.9-18.6M897.6 1657.4l6-18.6M902.7 1657.5l6-18.6M907.9 1657.6l6-18.6M913 1657.7l6-18.6M918.2 1657.8l6-18.6"/>
<path class="k19" d="M105.6 1448.2l5.2-13.2M398.8 1452l5.1 10.5"/>
<path class="k17" d="M110.8 1435l5.1-12.9"/>
<path class="k16" d="M115.9 1422.1l5.1-12.7M388.5 1429.8l5.1 11.3"/>
<path class="k0" d="M121 1409.4l5.2-12.4M383.3 1417.9l5.2 11.9"/>
<path class="k2" d="M126.2 1397l5.1-12.1M378.2 1405.2l5.1 12.7"/>
<path class="k3" d="M131.3 1384.9l5.2-11.7M373 1390.3l5.2 14.9"/>
<path class="k5" d="M136.5 1373.2l5.1-11.5M367.9 1374l5.1 16.3"/>
<path class="k6" d="M141.6 1361.7l5.2-11.2"/>
<path class="k7" d="M146.8 1350.5l5.1-11.2M362.8 1357.6l5.1 16.4"/>
<path class="k9" d="M151.9 1339.3l5.1-11.4M357.6 1342.4l5.2 15.2"/>
<path class="k10" d="M157 1327.9l5.2-11.2M352.5 1329.8l5.1 12.6"/>
<path class="k11" d="M162.2 1316.7l5.1-11M347.3 1319.4l5.2 10.4"/>
<path class="k12" d="M167.3 1305.7l5.2-10.2M342.2 1310.1l5.1 9.3"/>
<path class="k14" d="M172.5 1295.5l5.1-9.4M326.8 1291l5.1 5.1 5.1 6.2"/>
<path class="k15" d="M177.6 1286.1l5.2-8.2M316.5 1281.5l5.1 5 5.2 4.5"/>
<path class="k42" d="M182.8 1277.9l5.1-6.8 5.1-6.2M311.3 1276.1l5.2 5.4"/>
<path class="k43" d="M193 1264.9l5.2-6.3M301 1264.7l5.2 5.7 5.1 5.7"/>
<path class="k44" d="M198.2 1258.6l5.1-6.1M295.9 1259.1l5.1 5.6"/>
<path class="k45" d="M203.3 1252.5l5.2-5.7 5.1-5.3M280.5 1246l5.1 3.6 5.2 4.4 5.1 5.1"/>
<path class="k46" d="M213.6 1241.5l5.2-4.7 5.1-3.9M265 1237.5l5.2 2.9 5.1 2.7 5.2 2.9"/>
<path class="k47" d="M223.9 1232.9l5.1-3.1 5.2-1.9 5.1-0.8M244.5 1227.7l5.1 1.6 5.2 2.4 5.1 2.8 5.1 3"/>
<path class="k48" d="M239.3 1227.1l5.2 0.6"/>
<path class="k13" d="M337 1302.3l5.2 7.8"/>
<path class="k18" d="M393.6 1441.1l5.2 10.9"/>
<path class="k20" d="M403.9 1462.5l5.1 10.2"/>
<path class="k21" d="M409 1472.7l5.2 10"/>
<path class="k22" d="M414.2 1482.7l5.1 10"/>
<path class="k23" d="M419.3 1492.7l5.2 10"/>
<path class="k24" d="M424.5 1502.7l5.1 10"/>
<path class="k26" d="M429.6 1512.7l5.2 9.9"/>
<path class="k27" d="M434.8 1522.6l5.1 9.8"/>
<path class="k28" d="M439.9 1532.4l5.1 9.5"/>
<path class="k29" d="M445 1541.9l5.2 9.1"/>
<path class="k30" d="M450.2 1551l5.1 8.5"/>
<path class="k31" d="M455.3 1559.5l5.2 8.2"/>
<path class="k32" d="M460.5 1567.7l5.1 8"/>
<path class="k33" d="M465.6 1575.7l5.2 7.7"/>
<path class="k34" d="M470.8 1583.4l5.1 7.2 5.1 6.7"/>
<path class="k35" d="M481 1597.3l5.2 6.1"/>
<path class="k36" d="M486.2 1603.4l5.1 5.8 5.2 5.7"/>
<path class="k37" d="M496.5 1614.9l5.1 5.4"/>
<path class="k38" d="M501.6 1620.3l5.2 4.9 5.1 4.3"/>
<path class="k39" d="M511.9 1629.5l5.1 3.7 5.2 2.8 5.1 2.6"/>
<path class="k40" d="M527.3 1638.6l5.2 2.4 5.1 2.2 5.2 1.8 5.1 1.4"/>
<path class="k41" d="M547.9 1646.4l5.1 1 5.2 0.5 5.1 0.6 5.2 0.5 5.1 0.4 5.2 0.5 5.1 0.3 5.1 0.4 5.2 0.3 5.1 0.2 5.2 0.3 5.1 0.1 5.2 0.2 5.1 0.1 5.1 0.1 5.2 0.1 5.1 0.1 5.2 0.1 5.1 0.1 5.1 0.1 5.2 0.1 5.1 0.1 5.2 0.1 5.1 0.1 5.2 0.1 5.1 0.1 5.1 0.1 5.2 0.1 5.1 0.1 5.2 0.1 5.1 0.1 5.2 0.1 5.1 0.1 5.1 0.1 5.2 0.1 5.1 0.1 5.2 0.1 5.1 0.2 5.2 0.1 5.1 0.1 5.1 0.1 5.2 0.1 5.1 0.1 5.2 0.1 5.1 0.1 5.2 0.1 5.1 0.1 5.1 0.1 5.2 0.1 5.1 0.1 5.2 0.1 5.1 0.1 5.2 0.1 5.1 0.1 5.1 0.1 5.2 0.1 5.1 0.1 5.2 0.1 5.1 0.1 5.2 0.1 5.1 0.1 5.1 0.1 5.2 0.1 5.1 0.1 5.2 0.1 5.1 0.1 5.2 0.2 5.1 0.1 5.1 0.1 5.2 0.1 5.1 0.1 5.2 0.1"/></g>
<text x="96.5" y="1679.9" font-size="11.3" text-anchor="middle">0</text>
<text x="178" y="1681.5" font-size="11.3" text-anchor="middle">0.2</text>
<text x="259.5" y="1683.2" font-size="11.3" text-anchor="middle">0.4</text>
<text x="341" y="1684.8" font-size="11.3" text-anchor="middle">0.6</text>
<text x="422.5" y="1686.5" font-size="11.3" text-anchor="middle">0.8</text>
<text x="504" y="1688.1" font-size="11.3" text-anchor="middle">1</text>
<text x="585.5" y="1689.7" font-size="11.3" text-anchor="middle">1.2</text>
<text x="667" y="1691.4" font-size="11.3" text-anchor="middle">1.4</text>
<text x="748.5" y="1693" font-size="11.3" text-anchor="middle">1.6</text>
<text x="830" y="1694.7" font-size="11.3" text-anchor="middle">1.8</text>
<text x="79.3" y="1649.5" font-size="11.3" text-anchor="end">0</text>
<text x="79.3" y="1501.1" font-size="11.3" text-anchor="end">0.5</text>
<text x="79.3" y="1352.7" font-size="11.3" text-anchor="end">1</text>
<text x="79.3" y="1204.3" font-size="11.3" text-anchor="end">1.5</text>
<text x="942.7" y="1669.2" font-size="11.3">2012</text>
<text x="948.7" y="1650.7" font-size="11.3">2013</text>
<text x="954.6" y="1632.1" font-size="11.3">2014</text>
<text x="960.6" y="1613.6" font-size="11.3">2015</text>
<text x="966.6" y="1595" font-size="11.3">2016</text>
<text x="972.6" y="1576.5" font-size="11.3">2017</text>
<text x="978.6" y="1557.9" font-size="11.3">2018</text>
<text x="984.6" y="1539.4" font-size="11.3">2019</text>
<text x="990.6" y="1520.8" font-size="11.3">2020</text>
<text x="996.6" y="1502.3" font-size="11.3">2021</text>
<defs><linearGradient id="gB" x1="0" y1="0" x2="0" y2="1"><stop offset="0.000" stop-color="#800000"/><stop offset="0.016" stop-color="#8d0000"/><stop offset="0.031" stop-color="#9f0000"/><stop offset="0.047" stop-color="#b20000"/><stop offset="0.062" stop-color="#c40000"/><stop offset="0.078" stop-color="#d60000"/><stop offset="0.094" stop-color="#e80000"/><stop offset="0.109" stop-color="#fa0f00"/><stop offset="0.125" stop-color="#ff1e00"/><stop offset="0.141" stop-color="#ff2d00"/><stop offset="0.156" stop-color="#ff3b00"/><stop offset="0.172" stop-color="#ff4a00"/><stop offset="0.188" stop-color="#ff5900"/><stop offset="0.203" stop-color="#ff6800"/><stop offset="0.219" stop-color="#ff7700"/><stop offset="0.234" stop-color="#ff8600"/><stop offset="0.250" stop-color="#ff9400"/><stop offset="0.266" stop-color="#ffa300"/><stop offset="0.281" stop-color="#ffb200"/><stop offset="0.297" stop-color="#ffc100"/><stop offset="0.312" stop-color="#ffd000"/><stop offset="0.328" stop-color="#ffde00"/><stop offset="0.344" stop-color="#feed00"/><stop offset="0.359" stop-color="#f1fc06"/><stop offset="0.375" stop-color="#e4ff13"/><stop offset="0.391" stop-color="#d7ff1f"/><stop offset="0.406" stop-color="#caff2c"/><stop offset="0.422" stop-color="#beff39"/><stop offset="0.438" stop-color="#b1ff46"/><stop offset="0.453" stop-color="#a4ff53"/><stop offset="0.469" stop-color="#97ff60"/><stop offset="0.484" stop-color="#8aff6d"/><stop offset="0.500" stop-color="#7dff7a"/><stop offset="0.516" stop-color="#70ff87"/><stop offset="0.531" stop-color="#63ff94"/><stop offset="0.547" stop-color="#56ffa0"/><stop offset="0.562" stop-color="#49ffad"/><stop offset="0.578" stop-color="#3cffba"/><stop offset="0.594" stop-color="#30ffc7"/><stop offset="0.609" stop-color="#23ffd4"/><stop offset="0.625" stop-color="#16ffe1"/><stop offset="0.641" stop-color="#09f0ee"/><stop offset="0.656" stop-color="#00e0fb"/><stop offset="0.672" stop-color="#00d0ff"/><stop offset="0.688" stop-color="#00c0ff"/><stop offset="0.703" stop-color="#00b0ff"/><stop offset="0.719" stop-color="#00a0ff"/><stop offset="0.734" stop-color="#0090ff"/><stop offset="0.750" stop-color="#0080ff"/><stop offset="0.766" stop-color="#0070ff"/><stop offset="0.781" stop-color="#0060ff"/><stop offset="0.797" stop-color="#0050ff"/><stop offset="0.812" stop-color="#0040ff"/><stop offset="0.828" stop-color="#0030ff"/><stop offset="0.844" stop-color="#0020ff"/><stop offset="0.859" stop-color="#0010ff"/><stop offset="0.875" stop-color="#0000ff"/><stop offset="0.891" stop-color="#0000ff"/><stop offset="0.906" stop-color="#0000ed"/><stop offset="0.922" stop-color="#0000da"/><stop offset="0.938" stop-color="#0000c8"/><stop offset="0.953" stop-color="#0000b6"/><stop offset="0.969" stop-color="#0000a4"/><stop offset="0.984" stop-color="#000092"/><stop offset="1.000" stop-color="#000080"/></linearGradient></defs>
<rect x="1152.1" y="1028.8" width="24.700000000000045" height="641.3" fill="url(#gB)" stroke="#262626" stroke-width="0.8"/>
<path d="M1170.8 1579.7L1176.8 1579.7M1170.8 1489.3L1176.8 1489.3M1170.8 1398.9L1176.8 1398.9M1170.8 1308.5L1176.8 1308.5M1170.8 1218.2L1176.8 1218.2M1170.8 1127.8L1176.8 1127.8M1170.8 1037.4L1176.8 1037.4" stroke="#262626" stroke-width="1"/>
<text x="1181.8" y="1583" font-size="9.4">0.2</text>
<text x="1181.8" y="1492.6" font-size="9.4">0.4</text>
<text x="1181.8" y="1402.2" font-size="9.4">0.6</text>
<text x="1181.8" y="1311.8" font-size="9.4">0.8</text>
<text x="1181.8" y="1221.5" font-size="9.4">1</text>
<text x="1181.8" y="1131.1" font-size="9.4">1.2</text>
<text x="1181.8" y="1040.7" font-size="9.4">1.4</text><path d="M144.7 2325.8L280.1 2083.3M280.1 2083.3L280.1 1789.3M220.9 2330.1L356.2 2087.6M356.2 2087.6L356.2 1793.6M297 2334.3L432.4 2091.8M432.4 2091.8L432.4 1797.8M373.2 2338.6L508.6 2096.1M508.6 2096.1L508.6 1802.1M449.4 2342.8L584.7 2100.3M584.7 2100.3L584.7 1806.3M525.5 2347.1L660.9 2104.6M660.9 2104.6L660.9 1810.6M601.7 2351.3L737.1 2108.8M737.1 2108.8L737.1 1814.8M677.9 2355.6L813.3 2113.1M813.3 2113.1L813.3 1819.1M754.1 2359.8L889.4 2117.3M889.4 2117.3L889.4 1823.3M830.2 2364.1L965.6 2121.6M965.6 2121.6L965.6 1827.6M906.4 2368.3L1041.8 2125.8M1041.8 2125.8L1041.8 1831.8M144.7 2325.8L906.4 2368.3M144.7 2325.8L144.7 2031.8M159.7 2298.9L921.4 2341.4M159.7 2298.9L159.7 2004.9M174.8 2271.9L936.5 2314.4M174.8 2271.9L174.8 1977.9M189.8 2245L951.5 2287.5M189.8 2245L189.8 1951M204.9 2218L966.6 2260.5M204.9 2218L204.9 1924M219.9 2191.1L981.6 2233.6M219.9 2191.1L219.9 1897.1M234.9 2164.2L996.6 2206.7M234.9 2164.2L234.9 1870.2M250 2137.2L1011.7 2179.7M250 2137.2L250 1843.2M265 2110.3L1026.7 2152.8M265 2110.3L265 1816.3M280.1 2083.3L1041.8 2125.8M280.1 2083.3L280.1 1789.3M280.1 2083.3L1041.8 2125.8M144.7 2325.8L280.1 2083.3M280.1 2034.3L1041.8 2076.8M144.7 2276.8L280.1 2034.3M280.1 1985.3L1041.8 2027.8M144.7 2227.8L280.1 1985.3M280.1 1936.3L1041.8 1978.8M144.7 2178.8L280.1 1936.3M280.1 1887.3L1041.8 1929.8M144.7 2129.8L280.1 1887.3M280.1 1838.3L1041.8 1880.8M144.7 2080.8L280.1 1838.3M280.1 1789.3L1041.8 1831.8M144.7 2031.8L280.1 1789.3" stroke="#dedede" stroke-width="1" fill="none"/>
<path d="M144.7 2325.8L906.4 2368.3M144.7 2325.8L144.7 2031.8M906.4 2368.3L1041.8 2125.8M144.7 2325.8L135 2343.2M220.9 2330.1L211.2 2347.4M297 2334.3L287.3 2351.7M373.2 2338.6L363.5 2355.9M449.4 2342.8L439.7 2360.2M525.5 2347.1L515.8 2364.4M601.7 2351.3L592 2368.7M677.9 2355.6L668.2 2372.9M754.1 2359.8L744.4 2377.2M830.2 2364.1L820.5 2381.4M906.4 2368.3L896.7 2385.7M163.7 2326.9L158.9 2335.6M182.8 2327.9L177.9 2336.6M201.8 2329L197 2337.7M239.9 2331.1L235.1 2339.8M259 2332.2L254.1 2340.9M278 2333.2L273.1 2341.9M316.1 2335.4L311.2 2344.1M335.1 2336.4L330.3 2345.1M354.2 2337.5L349.3 2346.2M392.3 2339.6L387.4 2348.3M411.3 2340.7L406.4 2349.4M430.3 2341.7L425.5 2350.4M468.4 2343.9L463.6 2352.6M487.5 2344.9L482.6 2353.6M506.5 2346L501.7 2354.7M544.6 2348.1L539.7 2356.8M563.6 2349.2L558.8 2357.9M582.7 2350.2L577.8 2358.9M620.8 2352.4L615.9 2361.1M639.8 2353.4L635 2362.1M658.8 2354.5L654 2363.2M696.9 2356.6L692.1 2365.3M716 2357.7L711.1 2366.4M735 2358.7L730.2 2367.4M773.1 2360.9L768.3 2369.6M792.1 2361.9L787.3 2370.6M811.2 2363L806.3 2371.7M849.3 2365.1L844.4 2373.8M868.3 2366.2L863.5 2374.9M887.4 2367.2L882.5 2375.9M144.7 2325.8L125.1 2325.8M144.7 2276.8L125.1 2276.8M144.7 2227.8L125.1 2227.8M144.7 2178.8L125.1 2178.8M144.7 2129.8L125.1 2129.8M144.7 2080.8L125.1 2080.8M144.7 2031.8L125.1 2031.8M906.4 2368.3L925.4 2369.4M921.4 2341.4L940.4 2342.4M936.5 2314.4L955.5 2315.5M951.5 2287.5L970.5 2288.5M966.6 2260.5L985.5 2261.6M981.6 2233.6L1000.6 2234.7M996.6 2206.7L1015.6 2207.7M1011.7 2179.7L1030.7 2180.8M1026.7 2152.8L1045.7 2153.8M1041.8 2125.8L1060.7 2126.9" stroke="#262626" stroke-width="1" fill="none"/>
<g class="mC"><path class="f" d="M280 1912l10-6 11-4 10-4 10-2 10-1 10-1 11 0 10 1 10 3 10 3 11 3 10 3 10 3 10 3 10 3 11 3 10 3 10 3 10 3 11 3 10 4 10 2 10 3 10 3 11 3 10 2 10 3 10 3 11 3 10 3 10 3 10 3 10 4 11 4 10 4 10 6 10 5 11 6 10 7 10 6 10 6 10 6 11 7 10 6 10 6 10 6 11 6 10 6 10 5 10 5 10 5 11 5 10 5 10 4 10 5 11 4 10 4 10 3 10 3 11 3 10 3 10 2 10 2 10 1 11 2 10 1 10 1 10 1 11 1 10 1 10 1 10 0 10 1 11 1 5 0-15 27-5-1-11 0-10-1-10 0-10-1-11 0-10-1-10 0-10-1-10-1-11 0-10-1-10-2-10-2-11-2-10-2-10-2-10-3-10-4-11-3-10-3-10-4-10-4-11-4-10-5-10-4-10-5-10-6-11-6-10-6-10-6-10-6-11-6-10-7-10-6-10-7-10-6-11-7-10-6-10-6-10-7-11-5-10-4-10-3-10-2-10-3-11-3-10-3-10-3-10-3-11-3-10-3-10-3-10-3-10-5-11-4-10-5-10-5-10-4-11-4-10-4-10-3-10-3-11-1-10-2-10-1-10-1-10 0-11 0-10 0-10 0-10 1-11 2-10 3-10 4z"/>
<path class="k49" d="M280.1 1911.8l5.1-2.7 5.1-2.7M438.5 1917.3l5.1 1.5 5.2 1.6 5.1 1.6 5.1 1.6 5.1 1.6"/>
<path class="k50" d="M290.3 1906.4l5.1-2.4 5.1-2.2M413 1909.6l5.1 1.5 5.1 1.6 5.1 1.5 5.1 1.5 5.1 1.6"/>
<path class="k51" d="M300.5 1901.8l5.1-1.9 5.1-1.6 5.1-1.1M387.4 1902.1l5.1 1.4 5.1 1.5 5.1 1.5 5.2 1.6 5.1 1.5"/>
<path class="k52" d="M315.8 1897.2l5.2-0.8 5.1-0.7 5.1-0.6 5.1-0.5 5.1-0.4 5.1-0.3 5.1 0 5.1 0.2 5.2 0.7 5.1 1.3 5.1 1.6 5.1 1.6 5.1 1.4 5.1 1.4"/>
<path class="k53" d="M464.1 1925.2l5.1 1.5 5.1 1.6 5.1 1.6 5.1 1.6 5.2 1.5"/>
<path class="k54" d="M489.7 1933l5.1 1.5 5.1 1.5 5.1 1.5 5.1 1.4 5.1 1.4"/>
<path class="k55" d="M515.2 1940.3l5.1 1.4 5.1 1.3 5.2 1.3 5.1 1.3 5.1 1.3"/>
<path class="k56" d="M540.8 1946.9l5.1 1.3 5.1 1.4 5.1 1.3 5.1 1.4 5.1 1.3 5.1 1.5"/>
<path class="k57" d="M571.4 1955.1l5.2 1.5 5.1 1.5 5.1 1.6 5.1 1.6 5.1 1.6"/>
<path class="k58" d="M597 1962.9l5.1 1.7 5.1 1.7 5.1 1.8 5.2 1.9"/>
<path class="k59" d="M617.5 1970l5.1 1.9 5.1 2.1 5.1 2.1 5.1 2.3"/>
<path class="k60" d="M637.9 1978.4l5.1 2.5 5.1 2.7"/>
<path class="k61" d="M648.1 1983.6l5.1 2.8 5.2 2.9 5.1 3"/>
<path class="k62" d="M663.5 1992.3l5.1 3 5.1 3.2"/>
<path class="k63" d="M673.7 1998.5l5.1 3.1 5.1 3.2"/>
<path class="k64" d="M683.9 2004.8l5.1 3.1 5.1 3.2"/>
<path class="k65" d="M694.1 2011.1l5.2 3.1 5.1 3"/>
<path class="k66" d="M704.4 2017.2l5.1 3.1 5.1 3.1"/>
<path class="k67" d="M714.6 2023.4l5.1 3.2 5.1 3.2 5.1 3.2"/>
<path class="k68" d="M729.9 2033l5.1 3.2 5.1 3.1"/>
<path class="k69" d="M740.1 2039.3l5.2 3.1 5.1 3"/>
<path class="k70" d="M750.4 2045.4l5.1 2.9 5.1 2.8"/>
<path class="k71" d="M760.6 2051.1l5.1 2.8 5.1 2.7 5.1 2.8"/>
<path class="k72" d="M775.9 2059.4l5.1 2.6 5.2 2.6"/>
<path class="k73" d="M786.2 2064.6l5.1 2.6 5.1 2.6 5.1 2.5"/>
<path class="k74" d="M801.5 2072.3l5.1 2.4 5.1 2.4 5.1 2.3"/>
<path class="k75" d="M816.8 2079.4l5.1 2.4 5.2 2.3 5.1 2.4"/>
<path class="k76" d="M832.2 2086.5l5.1 2.2 5.1 2.3 5.1 2.2"/>
<path class="k77" d="M847.5 2093.2l5.1 2.1 5.1 1.9 5.1 1.9"/>
<path class="k78" d="M862.8 2099.1l5.1 1.7 5.2 1.6 5.1 1.5 5.1 1.5 5.1 1.5"/>
<path class="k79" d="M888.4 2106.9l5.1 1.4 5.1 1.3 5.1 1.2 5.1 1.2 5.2 1.1 5.1 0.9"/>
<path class="k80" d="M919.1 2114l5.1 0.8 5.1 0.8 5.1 0.7 5.1 0.7 5.1 0.7 5.1 0.7 5.2 0.6 5.1 0.6 5.1 0.5 5.1 0.5 5.1 0.5 5.1 0.5 5.1 0.4 5.1 0.4 5.2 0.4 5.1 0.3 5.1 0.4 5.1 0.4 5.1 0.3 5.1 0.4 5.1 0.3 5.1 0.3 5.1 0.3 5.2 0.3"/>
<path class="k49" d="M265 1935.8l15.1-24M428.6 1945.3l15-26.5M433.7 1947.3l15.1-26.9M438.8 1949.3l15.1-27.3"/>
<path class="k50" d="M270.1 1934l15.1-24.9M275.2 1932.2l15.1-25.8M280.4 1930.5l15-26.5M408.2 1937.5l15-24.8M413.3 1939.4l15-25.2M418.4 1941.3l15-25.6M423.5 1943.3l15-26"/>
<path class="k51" d="M285.5 1929.1l15-27.3M290.6 1927.9l15-28M295.7 1927l15-28.7M300.8 1926.4l15-29.2M305.9 1926.1l15.1-29.7M311 1925.8l15.1-30.1M316.1 1925.7l15.1-30.6M372.4 1929l15-26.9M377.5 1929.7l15-26.2M382.6 1930.4l15-25.4M387.7 1931.4l15-24.9M392.8 1932.6l15.1-24.5M397.9 1934.1l15.1-24.5M403 1935.7l15.1-24.6"/>
<path class="k52" d="M321.3 1925.5l15-30.9M326.4 1925.5l15-31.3M331.5 1925.5l15-31.6M336.6 1925.7l15-31.8M341.7 1925.9l15-31.8M346.8 1926.2l15.1-31.4M351.9 1926.7l15.1-30.6M357 1927.2l15.1-29.5M362.1 1927.7l15.1-28.4M367.3 1928.3l15-27.6"/>
<path class="k53" d="M443.9 1951.4l15.1-27.8M449.1 1953.7l15-28.5M454.2 1956.1l15-29.4"/>
<path class="k54" d="M459.3 1958.6l15-30.3M464.4 1961l15-31.1M469.5 1963.3l15-31.8"/>
<path class="k55" d="M474.6 1965.5l15.1-32.5M479.7 1967.5l15.1-33M484.8 1969.3l15.1-33.3M490 1971.1l15-33.6"/>
<path class="k56" d="M495.1 1972.7l15-33.8M500.2 1974.3l15-34M505.3 1975.9l15-34.2M510.4 1977.4l15-34.4M515.5 1978.9l15.1-34.6"/>
<path class="k57" d="M520.6 1980.4l15.1-34.8M525.7 1981.8l15.1-34.9M530.8 1983.2l15.1-35M536 1984.7l15-35.1M541.1 1986.1l15-35.2"/>
<path class="k58" d="M546.2 1987.5l15-35.2M551.3 1989l15-35.4M556.4 1990.5l15-35.4M561.5 1992l15.1-35.4M566.6 1993.3l15.1-35.2"/>
<path class="k59" d="M571.7 1994.7l15.1-35M576.9 1996l15-34.7M582 1997.4l15-34.5M587.1 1998.9l15-34.3M592.2 2000.5l15-34.2"/>
<path class="k60" d="M597.3 2002.2l15-34.1M602.4 2004.2l15.1-34.2M607.5 2006.6l15.1-34.7"/>
<path class="k61" d="M612.6 2009.5l15.1-35.5M617.8 2012.5l15-36.4"/>
<path class="k62" d="M622.9 2015.7l15-37.3M628 2018.8l15-37.9M633.1 2021.9l15-38.3"/>
<path class="k63" d="M638.2 2025l15-38.6M643.3 2028.1l15.1-38.8"/>
<path class="k64" d="M648.4 2031.4l15.1-39.1M653.5 2034.6l15.1-39.3"/>
<path class="k65" d="M658.7 2037.9l15-39.4M663.8 2041.2l15-39.6"/>
<path class="k66" d="M668.9 2044.5l15-39.7M674 2047.9l15-40"/>
<path class="k67" d="M679.1 2051.2l15-40.1M684.2 2054.5l15.1-40.3"/>
<path class="k68" d="M689.3 2057.7l15.1-40.5M694.4 2060.9l15.1-40.6"/>
<path class="k69" d="M699.5 2064l15.1-40.6M704.7 2067.1l15-40.5"/>
<path class="k70" d="M709.8 2070.2l15-40.4M714.9 2073.3l15-40.3"/>
<path class="k71" d="M720 2076.4l15-40.2M725.1 2079.4l15-40.1"/>
<path class="k72" d="M730.2 2082.5l15.1-40.1M735.3 2085.4l15.1-40M740.4 2088.4l15.1-40.1"/>
<path class="k73" d="M745.6 2091.2l15-40.1M750.7 2093.9l15-40"/>
<path class="k74" d="M755.8 2096.6l15-40M760.9 2099.1l15-39.7M766 2101.5l15-39.5"/>
<path class="k75" d="M771.1 2103.9l15.1-39.3M776.2 2106.2l15.1-39M781.3 2108.5l15.1-38.7"/>
<path class="k76" d="M786.5 2110.7l15-38.4M791.6 2112.8l15-38.1M796.7 2114.9l15-37.8"/>
<path class="k77" d="M801.8 2116.9l15-37.5M806.9 2118.9l15-37.1M812 2120.7l15.1-36.6M817.1 2122.5l15.1-36"/>
<path class="k78" d="M822.2 2124.3l15.1-35.6M827.3 2126l15.1-35M832.5 2127.7l15-34.5M837.6 2129.4l15-34.1"/>
<path class="k79" d="M842.7 2131.1l15-33.9M847.8 2132.7l15-33.6M852.9 2134.2l15-33.4M858 2135.6l15.1-33.2M863.1 2136.9l15.1-33M868.2 2138.1l15.1-32.7"/>
<path class="k80" d="M873.4 2139.2l15-32.3M878.5 2140.2l15-31.9M883.6 2141.2l15-31.6M888.7 2142.2l15-31.4M893.8 2143.1l15-31.1M898.9 2144l15.1-30.9M904 2144.8l15.1-30.8M909.1 2145.6l15.1-30.8M914.3 2146.2l15-30.6M919.4 2146.7l15-30.4M924.5 2147.1l15-30.1M929.6 2147.4l15-29.7M934.7 2147.6l15-29.2M939.8 2147.9l15.1-28.9M944.9 2148.2l15.1-28.6M950 2148.5l15.1-28.4M955.2 2148.8l15-28.2M960.3 2149.1l15-28M965.4 2149.4l15-27.8M970.5 2149.6l15-27.6M975.6 2149.9l15-27.5M980.7 2150.2l15.1-27.4M985.8 2150.5l15.1-27.4M990.9 2150.8l15.1-27.3M996 2151.1l15.1-27.2M1001.2 2151.4l15-27.2M1006.3 2151.6l15-27M1011.4 2151.9l15-27M1016.5 2152.2l15-27M1021.6 2152.5l15-27M1026.7 2152.8l15.1-27"/>
<path class="f" d="M265 1936l10-4 10-3 11-2 10-1 10 0 10 0 11 0 10 0 10 1 10 1 10 2 11 1 10 3 10 3 10 4 11 4 10 4 10 5 10 5 11 4 10 5 10 3 10 3 10 3 11 3 10 3 10 3 10 3 11 3 10 3 10 2 10 3 10 4 11 5 10 7 10 6 10 6 11 7 10 6 10 7 10 6 10 7 11 6 10 6 10 6 10 6 11 6 10 6 10 5 10 4 10 5 11 4 10 4 10 4 10 3 11 3 10 4 10 3 10 2 10 2 11 2 10 2 10 2 10 1 11 0 10 1 10 1 10 0 10 1 11 0 10 1 10 0 10 1 11 0 5 1-15 27-5-1-11 0-10-1-10 0-10-1-11 0-10-1-10-1-10 0-10-2-11-1-10-2-10-2-10-1-11-3-10-2-10-3-10-3-10-3-11-3-10-3-10-3-10-4-11-3-10-4-10-4-10-4-10-4-11-5-10-4-10-4-10-4-11-4-10-4-10-4-10-4-11-5-10-4-10-5-10-5-10-6-11-5-10-6-10-7-10-6-11-6-10-7-10-6-10-6-10-5-11-6-10-5-10-5-10-5-11-5-10-5-10-5-10-4-10-5-11-5-10-4-10-4-10-2-11-2-10 0-10-1-10 0-10-1-11 0-10-1-10 2-10 4-11 4-10 6-10 6z"/>
<path class="k49" d="M265 1935.8l5.1-1.8M428.6 1945.3l5.1 2 5.1 2 5.1 2.1"/>
<path class="k50" d="M270.1 1934l5.1-1.8 5.2-1.7 5.1-1.4M408.2 1937.5l5.1 1.9 5.1 1.9 5.1 2 5.1 2"/>
<path class="k51" d="M285.5 1929.1l5.1-1.2 5.1-0.9 5.1-0.6 5.1-0.3 5.1-0.3 5.1-0.1 5.2-0.2M372.4 1929l5.1 0.7 5.1 0.7 5.1 1 5.1 1.2 5.1 1.5 5.1 1.6 5.2 1.8"/>
<path class="k52" d="M321.3 1925.5l5.1 0 5.1 0 5.1 0.2 5.1 0.2 5.1 0.3 5.1 0.5 5.1 0.5 5.1 0.5 5.2 0.6 5.1 0.7"/>
<path class="k53" d="M443.9 1951.4l5.2 2.3 5.1 2.4 5.1 2.5"/>
<path class="k54" d="M459.3 1958.6l5.1 2.4 5.1 2.3 5.1 2.2"/>
<path class="k55" d="M474.6 1965.5l5.1 2 5.1 1.8 5.2 1.8 5.1 1.6"/>
<path class="k56" d="M495.1 1972.7l5.1 1.6 5.1 1.6 5.1 1.5 5.1 1.5 5.1 1.5"/>
<path class="k57" d="M520.6 1980.4l5.1 1.4 5.1 1.4 5.2 1.5 5.1 1.4 5.1 1.4"/>
<path class="k58" d="M546.2 1987.5l5.1 1.5 5.1 1.5 5.1 1.5 5.1 1.3 5.1 1.4"/>
<path class="k59" d="M571.7 1994.7l5.2 1.3 5.1 1.4 5.1 1.5 5.1 1.6 5.1 1.7"/>
<path class="k60" d="M597.3 2002.2l5.1 2 5.1 2.4 5.1 2.9"/>
<path class="k61" d="M612.6 2009.5l5.2 3 5.1 3.2"/>
<path class="k62" d="M622.9 2015.7l5.1 3.1 5.1 3.1 5.1 3.1"/>
<path class="k63" d="M638.2 2025l5.1 3.1 5.1 3.3"/>
<path class="k64" d="M648.4 2031.4l5.1 3.2 5.2 3.3"/>
<path class="k65" d="M658.7 2037.9l5.1 3.3 5.1 3.3"/>
<path class="k66" d="M668.9 2044.5l5.1 3.4 5.1 3.3"/>
<path class="k67" d="M679.1 2051.2l5.1 3.3 5.1 3.2"/>
<path class="k68" d="M689.3 2057.7l5.1 3.2 5.1 3.1"/>
<path class="k69" d="M699.5 2064l5.2 3.1 5.1 3.1"/>
<path class="k70" d="M709.8 2070.2l5.1 3.1 5.1 3.1"/>
<path class="k71" d="M720 2076.4l5.1 3 5.1 3.1"/>
<path class="k72" d="M730.2 2082.5l5.1 2.9 5.1 3 5.2 2.8"/>
<path class="k73" d="M745.6 2091.2l5.1 2.7 5.1 2.7"/>
<path class="k74" d="M755.8 2096.6l5.1 2.5 5.1 2.4 5.1 2.4"/>
<path class="k75" d="M771.1 2103.9l5.1 2.3 5.1 2.3 5.2 2.2"/>
<path class="k76" d="M786.5 2110.7l5.1 2.1 5.1 2.1 5.1 2"/>
<path class="k77" d="M801.8 2116.9l5.1 2 5.1 1.8 5.1 1.8 5.1 1.8"/>
<path class="k78" d="M822.2 2124.3l5.1 1.7 5.2 1.7 5.1 1.7 5.1 1.7"/>
<path class="k79" d="M842.7 2131.1l5.1 1.6 5.1 1.5 5.1 1.4 5.1 1.3 5.1 1.2 5.2 1.1"/>
<path class="k80" d="M873.4 2139.2l5.1 1 5.1 1 5.1 1 5.1 0.9 5.1 0.9 5.1 0.8 5.1 0.8 5.2 0.6 5.1 0.5 5.1 0.4 5.1 0.3 5.1 0.2 5.1 0.3 5.1 0.3 5.1 0.3 5.2 0.3 5.1 0.3 5.1 0.3 5.1 0.2 5.1 0.3 5.1 0.3 5.1 0.3 5.1 0.3 5.1 0.3 5.2 0.3 5.1 0.2 5.1 0.3 5.1 0.3 5.1 0.3 5.1 0.3"/>
<path class="k49" d="M250 1965.7l15-29.9M255.1 1962.7l15-28.7M434 1973.5l15.1-19.8M439.1 1975.8l15.1-19.7M444.2 1978l15.1-19.4"/>
<path class="k50" d="M260.2 1959.8l15-27.6M265.3 1956.9l15.1-26.4M418.7 1966.1l15-18.8M423.8 1968.6l15-19.3M428.9 1971.1l15-19.7"/>
<path class="k51" d="M270.4 1954.3l15.1-25.2M275.5 1951.8l15.1-23.9M403.3 1958.9l15.1-17.6M408.5 1961.2l15-17.9M413.6 1963.6l15-18.3"/>
<path class="k52" d="M280.7 1949.6l15-22.6M285.8 1947.7l15-21.3M290.9 1946.2l15-20.1M388 1952.7l15-17M393.1 1954.6l15.1-17.1M398.2 1956.6l15.1-17.2"/>
<path class="k81" d="M296 1945.1l15-19.3M301.1 1944.5l15-18.8M306.2 1944.4l15.1-18.9M311.3 1944.6l15.1-19.1M316.4 1944.9l15.1-19.4M321.5 1945.2l15.1-19.5M326.7 1945.5l15-19.6M331.8 1945.8l15-19.6M336.9 1946.1l15-19.4M342 1946.4l15-19.2M347.1 1946.6l15-18.9M352.2 1946.9l15.1-18.6M357.3 1947.2l15.1-18.2M362.4 1947.5l15.1-17.8M367.6 1947.9l15-17.5M372.7 1948.6l15-17.2M377.8 1949.7l15-17.1M382.9 1951l15-16.9"/>
<path class="k53" d="M449.4 1980.3l15-19.3M454.5 1982.7l15-19.4M459.6 1985.1l15-19.6"/>
<path class="k54" d="M464.7 1987.6l15-20.1M469.8 1990.1l15-20.8"/>
<path class="k55" d="M474.9 1992.7l15.1-21.6M480 1995.3l15.1-22.6M485.1 1998l15.1-23.7"/>
<path class="k56" d="M490.2 2000.7l15.1-24.8M495.4 2003.4l15-26M500.5 2006.1l15-27.2"/>
<path class="k57" d="M505.6 2008.9l15-28.5M510.7 2011.7l15-29.9"/>
<path class="k58" d="M515.8 2014.5l15-31.3M520.9 2017.3l15.1-32.6"/>
<path class="k59" d="M526 2020.2l15.1-34.1M531.1 2023.2l15.1-35.7M536.3 2026.3l15-37.3"/>
<path class="k60" d="M541.4 2029.4l15-38.9M546.5 2032.6l15-40.6"/>
<path class="k61" d="M551.6 2035.8l15-42.5M556.7 2039l15-44.3"/>
<path class="k62" d="M561.8 2042.2l15.1-46.2M566.9 2045.4l15.1-48"/>
<path class="k63" d="M572 2048.5l15.1-49.6M577.2 2051.6l15-51.1"/>
<path class="k64" d="M582.3 2054.7l15-52.5M587.4 2057.7l15-53.5"/>
<path class="k65" d="M592.5 2060.6l15-54M597.6 2063.4l15-53.9M602.7 2066.1l15.1-53.6"/>
<path class="k66" d="M607.8 2068.7l15.1-53M612.9 2071.3l15.1-52.5"/>
<path class="k67" d="M618 2073.8l15.1-51.9M623.2 2076.3l15-51.3M628.3 2078.7l15-50.6"/>
<path class="k68" d="M633.4 2081.1l15-49.7M638.5 2083.5l15-48.9M643.6 2085.7l15.1-47.8"/>
<path class="k69" d="M648.7 2088l15.1-46.8M653.8 2090.2l15.1-45.7M658.9 2092.3l15.1-44.4"/>
<path class="k70" d="M664.1 2094.3l15-43.1M669.2 2096.4l15-41.9M674.3 2098.3l15-40.6M679.4 2100.3l15-39.4"/>
<path class="k71" d="M684.5 2102.2l15-38.2M689.6 2104.2l15.1-37.1M694.7 2106.1l15.1-35.9M699.8 2108.1l15.1-34.8"/>
<path class="k72" d="M705 2110.1l15-33.7M710.1 2112.1l15-32.7M715.2 2114.2l15-31.7"/>
<path class="k73" d="M720.3 2116.3l15-30.9M725.4 2118.4l15-30M730.5 2120.6l15.1-29.4"/>
<path class="k74" d="M735.6 2122.7l15.1-28.8M740.7 2124.9l15.1-28.3M745.9 2127l15-27.9M751 2129l15-27.5"/>
<path class="k75" d="M756.1 2131l15-27.1M761.2 2133l15-26.8M766.3 2134.8l15-26.3"/>
<path class="k76" d="M771.4 2136.7l15.1-26M776.5 2138.5l15.1-25.7M781.6 2140.2l15.1-25.3M786.7 2141.9l15.1-25M791.9 2143.6l15-24.7"/>
<path class="k77" d="M797 2145.3l15-24.6M802.1 2146.9l15-24.4M807.2 2148.5l15-24.2M812.3 2150l15-24"/>
<path class="k78" d="M817.4 2151.5l15.1-23.8M822.5 2153l15.1-23.6M827.6 2154.5l15.1-23.4M832.8 2156l15-23.3M837.9 2157.5l15-23.3"/>
<path class="k79" d="M843 2159l15-23.4M848.1 2160.4l15-23.5M853.2 2161.7l15-23.6M858.3 2163.1l15.1-23.9M863.4 2164.3l15.1-24.1M868.5 2165.4l15.1-24.2M873.7 2166.5l15-24.3"/>
<path class="k80" d="M878.8 2167.5l15-24.4M883.9 2168.4l15-24.4M889 2169.3l15-24.5M894.1 2170.2l15-24.6M899.2 2171l15.1-24.8M904.3 2171.9l15.1-25.2M909.4 2172.7l15.1-25.6M914.6 2173.4l15-26M919.7 2174l15-26.4M924.8 2174.6l15-26.7M929.9 2175.1l15-26.9M935 2175.4l15-26.9M940.1 2175.7l15.1-26.9M945.2 2176l15.1-26.9M950.3 2176.3l15.1-26.9M955.4 2176.6l15.1-27M960.6 2176.9l15-27M965.7 2177.2l15-27M970.8 2177.4l15-26.9M975.9 2177.7l15-26.9M981 2178l15-26.9M986.1 2178.3l15.1-26.9M991.2 2178.6l15.1-27M996.3 2178.9l15.1-27M1001.5 2179.1l15-26.9M1006.6 2179.4l15-26.9M1011.7 2179.7l15-26.9"/>
<path class="f" d="M250 1966l10-6 10-6 11-4 10-4 10-2 10 1 11 0 10 1 10 0 10 1 10 0 11 2 10 2 10 4 10 4 11 5 10 5 10 4 10 5 10 5 11 5 10 5 10 5 10 5 11 6 10 5 10 6 10 6 10 7 11 6 10 6 10 7 10 6 11 5 10 6 10 5 10 5 10 4 11 5 10 4 10 4 10 4 11 4 10 4 10 4 10 4 11 5 10 4 10 4 10 4 10 4 11 3 10 4 10 3 10 3 11 3 10 3 10 3 10 3 10 2 11 3 10 1 10 2 10 2 11 1 10 2 10 0 10 1 10 1 11 0 10 1 10 0 10 1 11 0 5 1-15 27-5-1-11 0-10-1-10 0-10-1-11 0-10-1-10-1-10 0-10-1-11 0-10-1-10-1-10-1-11-2-10-1-10-2-10-2-11-2-10-2-10-2-10-2-10-2-11-2-10-3-10-2-10-3-11-3-10-3-10-4-10-3-10-4-11-4-10-4-10-4-10-4-11-4-10-5-10-5-10-6-10-7-11-7-10-9-10-8-10-9-11-9-10-9-10-8-10-8-10-8-11-8-10-9-10-8-10-7-11-7-10-6-10-6-10-5-10-6-11-5-10-4-10-4-10-3-11-1-10 0-10 0-10 0-10 1-11 1-10 1-10 4-10 5-11 7-10 8-10 9z"/>
<path class="k49" d="M250 1965.7l5.1-3 5.1-2.9M434 1973.5l5.1 2.3 5.1 2.2 5.2 2.3"/>
<path class="k50" d="M260.2 1959.8l5.1-2.9 5.1-2.6M418.7 1966.1l5.1 2.5 5.1 2.5 5.1 2.4"/>
<path class="k51" d="M270.4 1954.3l5.1-2.5 5.2-2.2M403.3 1958.9l5.2 2.3 5.1 2.4 5.1 2.5"/>
<path class="k52" d="M280.7 1949.6l5.1-1.9 5.1-1.5 5.1-1.1M388 1952.7l5.1 1.9 5.1 2 5.1 2.3"/>
<path class="k81" d="M296 1945.1l5.1-0.6 5.1-0.1 5.1 0.2 5.1 0.3 5.1 0.3 5.2 0.3 5.1 0.3 5.1 0.3 5.1 0.3 5.1 0.2 5.1 0.3 5.1 0.3 5.1 0.3 5.2 0.4 5.1 0.7 5.1 1.1 5.1 1.3 5.1 1.7"/>
<path class="k53" d="M449.4 1980.3l5.1 2.4 5.1 2.4 5.1 2.5"/>
<path class="k54" d="M464.7 1987.6l5.1 2.5 5.1 2.6"/>
<path class="k55" d="M474.9 1992.7l5.1 2.6 5.1 2.7 5.1 2.7"/>
<path class="k56" d="M490.2 2000.7l5.2 2.7 5.1 2.7 5.1 2.8"/>
<path class="k57" d="M505.6 2008.9l5.1 2.8 5.1 2.8"/>
<path class="k58" d="M515.8 2014.5l5.1 2.8 5.1 2.9"/>
<path class="k59" d="M526 2020.2l5.1 3 5.2 3.1 5.1 3.1"/>
<path class="k60" d="M541.4 2029.4l5.1 3.2 5.1 3.2"/>
<path class="k61" d="M551.6 2035.8l5.1 3.2 5.1 3.2"/>
<path class="k62" d="M561.8 2042.2l5.1 3.2 5.1 3.1"/>
<path class="k63" d="M572 2048.5l5.2 3.1 5.1 3.1"/>
<path class="k64" d="M582.3 2054.7l5.1 3 5.1 2.9"/>
<path class="k65" d="M592.5 2060.6l5.1 2.8 5.1 2.7 5.1 2.6"/>
<path class="k66" d="M607.8 2068.7l5.1 2.6 5.1 2.5"/>
<path class="k67" d="M618 2073.8l5.2 2.5 5.1 2.4 5.1 2.4"/>
<path class="k68" d="M633.4 2081.1l5.1 2.4 5.1 2.2 5.1 2.3"/>
<path class="k69" d="M648.7 2088l5.1 2.2 5.1 2.1 5.2 2"/>
<path class="k70" d="M664.1 2094.3l5.1 2.1 5.1 1.9 5.1 2 5.1 1.9"/>
<path class="k71" d="M684.5 2102.2l5.1 2 5.1 1.9 5.1 2 5.2 2"/>
<path class="k72" d="M705 2110.1l5.1 2 5.1 2.1 5.1 2.1"/>
<path class="k73" d="M720.3 2116.3l5.1 2.1 5.1 2.2 5.1 2.1"/>
<path class="k74" d="M735.6 2122.7l5.1 2.2 5.2 2.1 5.1 2 5.1 2"/>
<path class="k75" d="M756.1 2131l5.1 2 5.1 1.8 5.1 1.9"/>
<path class="k76" d="M771.4 2136.7l5.1 1.8 5.1 1.7 5.1 1.7 5.2 1.7 5.1 1.7"/>
<path class="k77" d="M797 2145.3l5.1 1.6 5.1 1.6 5.1 1.5 5.1 1.5"/>
<path class="k78" d="M817.4 2151.5l5.1 1.5 5.1 1.5 5.2 1.5 5.1 1.5 5.1 1.5"/>
<path class="k79" d="M843 2159l5.1 1.4 5.1 1.3 5.1 1.4 5.1 1.2 5.1 1.1 5.2 1.1 5.1 1"/>
<path class="k80" d="M878.8 2167.5l5.1 0.9 5.1 0.9 5.1 0.9 5.1 0.8 5.1 0.9 5.1 0.8 5.2 0.7 5.1 0.6 5.1 0.6 5.1 0.5 5.1 0.3 5.1 0.3 5.1 0.3 5.1 0.3 5.1 0.3 5.2 0.3 5.1 0.3 5.1 0.2 5.1 0.3 5.1 0.3 5.1 0.3 5.1 0.3 5.1 0.3 5.2 0.2 5.1 0.3 5.1 0.3"/>
<path class="k49" d="M234.9 1992.7l15.1-27M449.6 2003.8l15.1-16.2"/>
<path class="k50" d="M240.1 1988.3l15-25.6M245.2 1984l15-24.2M439.4 1996.8l15.1-14.1M444.5 2000.2l15.1-15.1"/>
<path class="k51" d="M250.3 1979.9l15-23M424.1 1987.9l15-12.1M429.2 1990.7l15-12.7M434.3 1993.6l15.1-13.3"/>
<path class="k52" d="M255.4 1976l15-21.7M260.5 1972.4l15-20.6M413.9 1982.4l15-11.3M419 1985.2l15-11.7"/>
<path class="k81" d="M265.6 1969.1l15.1-19.5M398.5 1974.2l15.1-10.6M403.6 1976.9l15.1-10.8M408.8 1979.7l15-11.1"/>
<path class="k82" d="M270.7 1966.1l15.1-18.4M275.8 1963.6l15.1-17.4M280.9 1961.6l15.1-16.5M388.3 1969l15-10.1M393.4 1971.6l15.1-10.4"/>
<path class="k83" d="M286.1 1960.1l15-15.6M291.2 1959.2l15-14.8M296.3 1958.7l15-14.1M301.4 1958.3l15-13.4M306.5 1957.9l15-12.7M311.6 1957.6l15.1-12.1M316.7 1957.3l15.1-11.5M367.9 1960.9l15-9.9M373 1962.6l15-9.9M378.1 1964.5l15-9.9M383.2 1966.7l15-10.1"/>
<path class="k84" d="M321.8 1957.1l15.1-11M327 1957l15-10.6M332.1 1956.9l15-10.3M337.2 1957l15-10.1M342.3 1957.1l15-9.9M347.4 1957.3l15-9.8M352.5 1957.7l15.1-9.8M357.6 1958.4l15.1-9.8M362.7 1959.5l15.1-9.8"/>
<path class="k53" d="M454.8 2007.5l15-17.4M459.9 2011.4l15-18.7"/>
<path class="k54" d="M465 2015.4l15-20.1M470.1 2019.4l15-21.4"/>
<path class="k55" d="M475.2 2023.5l15-22.8"/>
<path class="k56" d="M480.3 2027.6l15.1-24.2M485.4 2031.7l15.1-25.6"/>
<path class="k57" d="M490.5 2035.7l15.1-26.8M495.7 2039.8l15-28.1"/>
<path class="k58" d="M500.8 2043.7l15-29.2"/>
<path class="k59" d="M505.9 2047.6l15-30.3M511 2051.7l15-31.5"/>
<path class="k60" d="M516.1 2055.9l15-32.7"/>
<path class="k61" d="M521.2 2060.2l15.1-33.9M526.3 2064.6l15.1-35.2"/>
<path class="k62" d="M531.4 2069l15.1-36.4"/>
<path class="k63" d="M536.6 2073.5l15-37.7M541.7 2078l15-39"/>
<path class="k64" d="M546.8 2082.4l15-40.2"/>
<path class="k65" d="M551.9 2086.8l15-41.4M557 2091.2l15-42.7"/>
<path class="k66" d="M562.1 2095.4l15.1-43.8"/>
<path class="k67" d="M567.2 2099.6l15.1-44.9M572.3 2103.6l15.1-45.9"/>
<path class="k68" d="M577.4 2107.5l15.1-46.9M582.6 2111.2l15-47.8"/>
<path class="k69" d="M587.7 2114.7l15-48.6M592.8 2118l15-49.3"/>
<path class="k70" d="M597.9 2121l15-49.7M603 2123.8l15-50"/>
<path class="k71" d="M608.1 2126.4l15.1-50.1M613.2 2128.9l15.1-50.2M618.3 2131.3l15.1-50.2"/>
<path class="k72" d="M623.5 2133.6l15-50.1M628.6 2135.8l15-50.1M633.7 2137.9l15-49.9"/>
<path class="k73" d="M638.8 2140l15-49.8M643.9 2142l15-49.7M649 2144l15.1-49.7"/>
<path class="k74" d="M654.1 2146l15.1-49.6M659.2 2148l15.1-49.7M664.4 2149.9l15-49.6M669.5 2151.9l15-49.7"/>
<path class="k75" d="M674.6 2153.9l15-49.7M679.7 2155.8l15-49.7M684.8 2157.7l15-49.6M689.9 2159.5l15.1-49.4"/>
<path class="k76" d="M695 2161.3l15.1-49.2M700.1 2163.1l15.1-48.9M705.3 2164.8l15-48.5M710.4 2166.4l15-48"/>
<path class="k77" d="M715.5 2168l15-47.4M720.6 2169.6l15-46.9M725.7 2171l15-46.1M730.8 2172.4l15.1-45.4M735.9 2173.7l15.1-44.7"/>
<path class="k78" d="M741 2175l15.1-44M746.1 2176.2l15.1-43.2M751.3 2177.5l15-42.7M756.4 2178.6l15-41.9M761.5 2179.8l15-41.3M766.6 2180.9l15-40.7M771.7 2182l15-40.1"/>
<path class="k79" d="M776.8 2183.1l15.1-39.5M781.9 2184.1l15.1-38.8M787 2185.1l15.1-38.2M792.2 2186.1l15-37.6M797.3 2187.1l15-37.1M802.4 2188l15-36.5M807.5 2188.9l15-35.9M812.6 2189.8l15-35.3M817.7 2190.8l15.1-34.8"/>
<path class="k80" d="M822.8 2191.7l15.1-34.2M827.9 2192.7l15.1-33.7M833.1 2193.6l15-33.2M838.2 2194.6l15-32.9M843.3 2195.5l15-32.4M848.4 2196.3l15-32M853.5 2197.1l15-31.7M858.6 2197.9l15.1-31.4M863.7 2198.6l15.1-31.1M868.8 2199.2l15.1-30.8M874 2199.7l15-30.4M879.1 2200.1l15-29.9M884.2 2200.4l15-29.4M889.3 2200.7l15-28.8M894.4 2201l15-28.3M899.5 2201.2l15.1-27.8M904.6 2201.5l15.1-27.5M909.7 2201.8l15.1-27.2M914.8 2202.1l15.1-27M920 2202.4l15-27M925.1 2202.7l15-27M930.2 2203l15-27M935.3 2203.2l15-26.9M940.4 2203.5l15-26.9M945.5 2203.8l15.1-26.9M950.6 2204.1l15.1-26.9M955.7 2204.4l15.1-27M960.9 2204.7l15-27M966 2204.9l15-26.9M971.1 2205.2l15-26.9M976.2 2205.5l15-26.9M981.3 2205.8l15-26.9M986.4 2206.1l15.1-27M991.5 2206.4l15.1-27M996.6 2206.7l15.1-27"/>
<path class="f" d="M235 1993l10-9 10-8 11-7 10-5 10-4 10-1 11-1 10-1 10 0 10 0 10 0 11 1 10 3 10 4 10 4 11 5 10 6 10 5 10 6 10 6 11 7 10 7 10 8 10 9 11 8 10 8 10 8 10 8 10 9 11 9 10 9 10 8 10 9 11 7 10 7 10 6 10 5 10 5 11 4 10 4 10 4 10 4 11 4 10 4 10 3 10 4 10 3 11 3 10 3 10 2 10 3 11 2 10 2 10 2 10 2 10 2 11 2 10 2 10 2 10 1 11 2 10 1 10 1 10 1 11 0 10 1 10 0 10 1 10 1 11 0 10 1 10 0 10 1 11 0 5 1-15 27-6-1-10-1-10-1-10-1-10-2-11-1-10-2-10-2-10-2-11-3-10-4-10-3-10-5-10-4-11-5-10-6-10-7-10-7-11-7-10-8-10-8-10-9-10-9-11-8-10-8-10-8-10-8-11-8-10-7-10-6-10-5-10-4-11-4-10-4-10-4-10-3-11-3-10-2-10-3-10-2-10-2-11-2-10-2-10-2-10-2-11-1-10-1-10-2-10-1-10-2-11-3-10-6-10-9-10-9-11-9-10-6-10-5-10-4-11-4-10-3-10-4-10-2-10-2-11-2-10-1-10-1-10-1-11-1-10 0-10 1-10 5-10 6-11 7-10 7-10 9z"/>
<path class="k49" d="M234.9 1992.7l5.2-4.4M449.6 2003.8l5.2 3.7"/>
<path class="k50" d="M240.1 1988.3l5.1-4.3 5.1-4.1M439.4 1996.8l5.1 3.4 5.1 3.6"/>
<path class="k51" d="M250.3 1979.9l5.1-3.9M424.1 1987.9l5.1 2.8 5.1 2.9 5.1 3.2"/>
<path class="k52" d="M255.4 1976l5.1-3.6 5.1-3.3M413.9 1982.4l5.1 2.8 5.1 2.7"/>
<path class="k81" d="M265.6 1969.1l5.1-3M398.5 1974.2l5.1 2.7 5.2 2.8 5.1 2.7"/>
<path class="k82" d="M270.7 1966.1l5.1-2.5 5.1-2 5.2-1.5M388.3 1969l5.1 2.6 5.1 2.6"/>
<path class="k83" d="M286.1 1960.1l5.1-0.9 5.1-0.5 5.1-0.4 5.1-0.4 5.1-0.3 5.1-0.3 5.1-0.2M367.9 1960.9l5.1 1.7 5.1 1.9 5.1 2.2 5.1 2.3"/>
<path class="k84" d="M321.8 1957.1l5.2-0.1 5.1-0.1 5.1 0.1 5.1 0.1 5.1 0.2 5.1 0.4 5.1 0.7 5.1 1.1 5.2 1.4"/>
<path class="k53" d="M454.8 2007.5l5.1 3.9 5.1 4"/>
<path class="k54" d="M465 2015.4l5.1 4 5.1 4.1"/>
<path class="k55" d="M475.2 2023.5l5.1 4.1"/>
<path class="k56" d="M480.3 2027.6l5.1 4.1 5.1 4"/>
<path class="k57" d="M490.5 2035.7l5.2 4.1 5.1 3.9"/>
<path class="k58" d="M500.8 2043.7l5.1 3.9"/>
<path class="k59" d="M505.9 2047.6l5.1 4.1 5.1 4.2"/>
<path class="k60" d="M516.1 2055.9l5.1 4.3"/>
<path class="k61" d="M521.2 2060.2l5.1 4.4 5.1 4.4"/>
<path class="k62" d="M531.4 2069l5.2 4.5"/>
<path class="k63" d="M536.6 2073.5l5.1 4.5 5.1 4.4"/>
<path class="k64" d="M546.8 2082.4l5.1 4.4"/>
<path class="k65" d="M551.9 2086.8l5.1 4.4 5.1 4.2"/>
<path class="k66" d="M562.1 2095.4l5.1 4.2"/>
<path class="k67" d="M567.2 2099.6l5.1 4 5.1 3.9"/>
<path class="k68" d="M577.4 2107.5l5.2 3.7 5.1 3.5"/>
<path class="k69" d="M587.7 2114.7l5.1 3.3 5.1 3"/>
<path class="k70" d="M597.9 2121l5.1 2.8 5.1 2.6"/>
<path class="k71" d="M608.1 2126.4l5.1 2.5 5.1 2.4 5.2 2.3"/>
<path class="k72" d="M623.5 2133.6l5.1 2.2 5.1 2.1 5.1 2.1"/>
<path class="k73" d="M638.8 2140l5.1 2 5.1 2 5.1 2"/>
<path class="k74" d="M654.1 2146l5.1 2 5.2 1.9 5.1 2 5.1 2"/>
<path class="k75" d="M674.6 2153.9l5.1 1.9 5.1 1.9 5.1 1.8 5.1 1.8"/>
<path class="k76" d="M695 2161.3l5.1 1.8 5.2 1.7 5.1 1.6 5.1 1.6"/>
<path class="k77" d="M715.5 2168l5.1 1.6 5.1 1.4 5.1 1.4 5.1 1.3 5.1 1.3"/>
<path class="k78" d="M741 2175l5.1 1.2 5.2 1.3 5.1 1.1 5.1 1.2 5.1 1.1 5.1 1.1 5.1 1.1"/>
<path class="k79" d="M776.8 2183.1l5.1 1 5.1 1 5.2 1 5.1 1 5.1 0.9 5.1 0.9 5.1 0.9 5.1 1 5.1 0.9"/>
<path class="k80" d="M822.8 2191.7l5.1 1 5.2 0.9 5.1 1 5.1 0.9 5.1 0.8 5.1 0.8 5.1 0.8 5.1 0.7 5.1 0.6 5.2 0.5 5.1 0.4 5.1 0.3 5.1 0.3 5.1 0.3 5.1 0.2 5.1 0.3 5.1 0.3 5.1 0.3 5.2 0.3 5.1 0.3 5.1 0.3 5.1 0.2 5.1 0.3 5.1 0.3 5.1 0.3 5.1 0.3 5.2 0.3 5.1 0.2 5.1 0.3 5.1 0.3 5.1 0.3 5.1 0.3 5.1 0.3 5.1 0.3"/>
<path class="k81" d="M219.9 1995.1l15-2.4M434.6 2004.6l15-0.8M439.7 2009.5l15.1-2"/>
<path class="k82" d="M225 1990.5l15.1-2.2M230.1 1986.2l15.1-2.2M429.5 2000l15 0.2"/>
<path class="k83" d="M235.2 1982.2l15.1-2.3M419.3 1992.7l15 0.9M424.4 1995.9l15 0.9"/>
<path class="k84" d="M240.3 1978.5l15.1-2.5M245.5 1975.2l15-2.8M403.9 1985.2l15.1 0M409 1987.5l15.1 0.4M414.2 1990l15 0.7"/>
<path class="k85" d="M250.6 1972.2l15-3.1M255.7 1969.2l15-3.1M383.5 1977.3l15-3.1M388.6 1979.2l15-2.3M393.7 1981.1l15.1-1.4M398.8 1983l15.1-0.6"/>
<path class="k86" d="M260.8 1966.2l15-2.6M363 1970.3l15.1-5.8M368.2 1971.9l15-5.2M373.3 1973.6l15-4.6M378.4 1975.4l15-3.8"/>
<path class="k87" d="M265.9 1963.5l15-1.9M271 1961.2l15.1-1.1M276.1 1959.9l15.1-0.7M281.2 1959.8l15.1-1.1M286.4 1960.1l15-1.8M291.5 1960.5l15-2.6M296.6 1960.9l15-3.3M301.7 1961.3l15-4M306.8 1961.7l15-4.6M311.9 1962.2l15.1-5.2M317 1962.7l15.1-5.8M322.1 1963.3l15.1-6.3M327.3 1963.9l15-6.8M332.4 1964.4l15-7.1M337.5 1965.1l15-7.4M342.6 1965.7l15-7.3M347.7 1966.5l15-7M352.8 1967.5l15.1-6.6M357.9 1968.8l15.1-6.2"/>
<path class="k52" d="M444.8 2014.5l15.1-3.1"/>
<path class="k51" d="M449.9 2019.2l15.1-3.8"/>
<path class="k50" d="M455.1 2023.5l15-4.1M460.2 2027l15-3.5"/>
<path class="k49" d="M465.3 2029.5l15-1.9M470.4 2030.8l15 0.9M475.5 2031.9l15 3.8M480.6 2032.9l15.1 6.9M485.7 2033.7l15.1 10M490.8 2034.5l15.1 13.1M496 2035.2l15 16.5M501.1 2035.9l15 20M506.2 2036.6l15 23.6M511.3 2037.2l15 27.4M516.4 2037.9l15 31.1"/>
<path class="k53" d="M521.5 2038.7l15.1 34.8M526.6 2039.4l15.1 38.6M531.7 2040.3l15.1 42.1M536.8 2041.2l15.1 45.6M542 2042.1l15 49.1M547.1 2043.1l15 52.3M552.2 2044l15 55.6M557.3 2045l15 58.6M562.4 2045.9l15 61.6M567.5 2046.9l15.1 64.3"/>
<path class="k54" d="M572.6 2048l15.1 66.7M577.7 2049l15.1 69M582.9 2050.1l15 70.9M588 2051.3l15 72.5M593.1 2052.5l15 73.9M598.2 2053.7l15 75.2M603.3 2055l15 76.3"/>
<path class="k55" d="M608.4 2056.3l15.1 77.3M613.5 2057.7l15.1 78.1M618.6 2059.2l15.1 78.7M623.8 2060.8l15 79.2M628.9 2062.4l15 79.6"/>
<path class="k56" d="M634 2064.1l15 79.9M639.1 2065.9l15 80.1M644.2 2067.8l15 80.2M649.3 2069.8l15.1 80.1"/>
<path class="k57" d="M654.4 2071.8l15.1 80.1M659.5 2074l15.1 79.9M664.7 2076.2l15 79.6"/>
<path class="k58" d="M669.8 2078.5l15 79.2M674.9 2080.9l15 78.6M680 2083.4l15 77.9"/>
<path class="k59" d="M685.1 2086.2l15 76.9M690.2 2089.3l15.1 75.5"/>
<path class="k60" d="M695.3 2092.6l15.1 73.8M700.4 2096.2l15.1 71.8"/>
<path class="k61" d="M705.5 2099.9l15.1 69.7M710.7 2103.7l15 67.3"/>
<path class="k62" d="M715.8 2107.7l15 64.7"/>
<path class="k63" d="M720.9 2111.6l15 62.1M726 2115.6l15 59.4"/>
<path class="k64" d="M731.1 2119.5l15 56.7"/>
<path class="k65" d="M736.2 2123.5l15.1 54M741.3 2127.5l15.1 51.1"/>
<path class="k66" d="M746.4 2131.8l15.1 48M751.6 2136.2l15 44.7"/>
<path class="k67" d="M756.7 2140.6l15 41.4"/>
<path class="k68" d="M761.8 2145.1l15 38"/>
<path class="k69" d="M766.9 2149.6l15 34.5M772 2154l15 31.1"/>
<path class="k70" d="M777.1 2158.3l15.1 27.8M782.2 2162.4l15.1 24.7"/>
<path class="k71" d="M787.3 2166.3l15.1 21.7"/>
<path class="k72" d="M792.5 2170l15 18.9M797.6 2173.6l15 16.2"/>
<path class="k73" d="M802.7 2177.1l15 13.7M807.8 2180.7l15 11"/>
<path class="k74" d="M812.9 2184.1l15 8.6M818 2187.5l15.1 6.1"/>
<path class="k75" d="M823.1 2190.7l15.1 3.9M828.2 2193.8l15.1 1.7"/>
<path class="k76" d="M833.3 2196.7l15.1-0.4M838.5 2199.5l15-2.4M843.6 2202l15-4.1"/>
<path class="k77" d="M848.7 2204.3l15-5.7M853.8 2206.4l15-7.2M858.9 2208.6l15.1-8.9"/>
<path class="k78" d="M864 2210.6l15.1-10.5M869.1 2212.6l15.1-12.2M874.2 2214.5l15.1-13.8M879.4 2216.3l15-15.3"/>
<path class="k79" d="M884.5 2217.9l15-16.7M889.6 2219.5l15-18M894.7 2220.9l15-19.1M899.8 2222.1l15-20M904.9 2223.1l15.1-20.7M910 2224.1l15.1-21.4"/>
<path class="k80" d="M915.1 2225l15.1-22M920.3 2225.9l15-22.7M925.4 2226.8l15-23.3M930.5 2227.6l15-23.8M935.6 2228.4l15-24.3M940.7 2229.2l15-24.8M945.8 2230l15.1-25.3M950.9 2230.7l15.1-25.8M956 2231.3l15.1-26.1M961.2 2231.9l15-26.4M966.3 2232.4l15-26.6M971.4 2232.9l15-26.8M976.5 2233.3l15-26.9M981.6 2233.6l15-26.9"/>
<path class="f" d="M220 1995l10-9 10-7 11-7 10-6 10-5 10-1 10 0 11 1 10 1 10 1 10 1 11 2 10 2 10 2 10 4 10 3 11 4 10 4 10 5 10 6 11 9 10 9 10 9 10 6 11 3 10 2 10 1 10 2 10 1 11 1 10 2 10 2 10 2 11 2 10 2 10 2 10 3 10 2 11 3 10 3 10 4 10 4 11 4 10 4 10 5 10 6 10 7 11 8 10 8 10 8 10 8 11 8 10 9 10 9 10 8 10 8 11 7 10 7 10 7 10 6 11 5 10 4 10 5 10 3 10 4 11 3 10 2 10 2 10 2 11 1 10 2 10 1 10 1 10 1 6 1-15 27-6-1-10-1-10 0-10-1-10-2-11-1-10-1-10-1-10-2-11-2-10-2-10-2-10-3-10-2-11-3-10-3-10-3-10-4-11-4-10-3-10-5-10-4-10-5-11-5-10-5-10-4-10-5-11-5-10-5-10-5-10-6-11-5-10-6-10-6-10-6-10-6-11-6-10-6-10-7-10-7-11-7-10-8-10-9-10-8-10-9-11-9-10-11-10-10-10-8-11-5-10-4-10-6-10-7-10-6-11-6-10-3-10-3-10-3-11-2-10-3-10-2-10-3-10-2-11-2-10 0-10 0-10 2-11 1-10 2-10 3-10 3-10 5-11 5-10 6-10 8z"/>
<path class="k81" d="M219.9 1995.1l5.1-4.6M434.6 2004.6l5.1 4.9 5.1 5"/>
<path class="k82" d="M225 1990.5l5.1-4.3 5.1-4M429.5 2000l5.1 4.6"/>
<path class="k83" d="M235.2 1982.2l5.1-3.7M419.3 1992.7l5.1 3.2 5.1 4.1"/>
<path class="k84" d="M240.3 1978.5l5.2-3.3 5.1-3M403.9 1985.2l5.1 2.3 5.2 2.5 5.1 2.7"/>
<path class="k85" d="M250.6 1972.2l5.1-3 5.1-3M383.5 1977.3l5.1 1.9 5.1 1.9 5.1 1.9 5.1 2.2"/>
<path class="k86" d="M260.8 1966.2l5.1-2.7M363 1970.3l5.2 1.6 5.1 1.7 5.1 1.8 5.1 1.9"/>
<path class="k87" d="M265.9 1963.5l5.1-2.3 5.1-1.3 5.1-0.1 5.2 0.3 5.1 0.4 5.1 0.4 5.1 0.4 5.1 0.4 5.1 0.5 5.1 0.5 5.1 0.6 5.2 0.6 5.1 0.5 5.1 0.7 5.1 0.6 5.1 0.8 5.1 1 5.1 1.3 5.1 1.5"/>
<path class="k52" d="M444.8 2014.5l5.1 4.7"/>
<path class="k51" d="M449.9 2019.2l5.2 4.3"/>
<path class="k50" d="M455.1 2023.5l5.1 3.5 5.1 2.5"/>
<path class="k49" d="M465.3 2029.5l5.1 1.3 5.1 1.1 5.1 1 5.1 0.8 5.1 0.8 5.2 0.7 5.1 0.7 5.1 0.7 5.1 0.6 5.1 0.7 5.1 0.8"/>
<path class="k53" d="M521.5 2038.7l5.1 0.7 5.1 0.9 5.1 0.9 5.2 0.9 5.1 1 5.1 0.9 5.1 1 5.1 0.9 5.1 1 5.1 1.1"/>
<path class="k54" d="M572.6 2048l5.1 1 5.2 1.1 5.1 1.2 5.1 1.2 5.1 1.2 5.1 1.3 5.1 1.3"/>
<path class="k55" d="M608.4 2056.3l5.1 1.4 5.1 1.5 5.2 1.6 5.1 1.6 5.1 1.7"/>
<path class="k56" d="M634 2064.1l5.1 1.8 5.1 1.9 5.1 2 5.1 2"/>
<path class="k57" d="M654.4 2071.8l5.1 2.2 5.2 2.2 5.1 2.3"/>
<path class="k58" d="M669.8 2078.5l5.1 2.4 5.1 2.5 5.1 2.8"/>
<path class="k59" d="M685.1 2086.2l5.1 3.1 5.1 3.3"/>
<path class="k60" d="M695.3 2092.6l5.1 3.6 5.1 3.7"/>
<path class="k61" d="M705.5 2099.9l5.2 3.8 5.1 4"/>
<path class="k62" d="M715.8 2107.7l5.1 3.9"/>
<path class="k63" d="M720.9 2111.6l5.1 4 5.1 3.9"/>
<path class="k64" d="M731.1 2119.5l5.1 4"/>
<path class="k65" d="M736.2 2123.5l5.1 4 5.1 4.3"/>
<path class="k66" d="M746.4 2131.8l5.2 4.4 5.1 4.4"/>
<path class="k67" d="M756.7 2140.6l5.1 4.5"/>
<path class="k68" d="M761.8 2145.1l5.1 4.5"/>
<path class="k69" d="M766.9 2149.6l5.1 4.4 5.1 4.3"/>
<path class="k70" d="M777.1 2158.3l5.1 4.1 5.1 3.9"/>
<path class="k71" d="M787.3 2166.3l5.2 3.7"/>
<path class="k72" d="M792.5 2170l5.1 3.6 5.1 3.5"/>
<path class="k73" d="M802.7 2177.1l5.1 3.6 5.1 3.4"/>
<path class="k74" d="M812.9 2184.1l5.1 3.4 5.1 3.2"/>
<path class="k75" d="M823.1 2190.7l5.1 3.1 5.1 2.9"/>
<path class="k76" d="M833.3 2196.7l5.2 2.8 5.1 2.5 5.1 2.3"/>
<path class="k77" d="M848.7 2204.3l5.1 2.1 5.1 2.2 5.1 2"/>
<path class="k78" d="M864 2210.6l5.1 2 5.1 1.9 5.2 1.8 5.1 1.6"/>
<path class="k79" d="M884.5 2217.9l5.1 1.6 5.1 1.4 5.1 1.2 5.1 1 5.1 1 5.1 0.9"/>
<path class="k80" d="M915.1 2225l5.2 0.9 5.1 0.9 5.1 0.8 5.1 0.8 5.1 0.8 5.1 0.8 5.1 0.7 5.1 0.6 5.2 0.6 5.1 0.5 5.1 0.5 5.1 0.4 5.1 0.3"/>
<path class="k83" d="M204.9 2009.8l15-14.7M445.1 2019.7l15.1 7.3M450.2 2022.5l15.1 7M455.4 2024.9l15 5.9"/>
<path class="k84" d="M210 2006l15-15.5M215.1 2002.5l15-16.3M434.9 2013.3l15 5.9M440 2016.6l15.1 6.9"/>
<path class="k85" d="M220.2 1999.1l15-16.9M225.3 1996l15-17.5M424.7 2006.6l15 2.9M429.8 2009.9l15 4.6"/>
<path class="k86" d="M230.4 1993.1l15.1-17.9M235.5 1990.6l15.1-18.4M414.5 2000.7l15-0.7M419.6 2003.5l15 1.1"/>
<path class="k87" d="M240.6 1988.3l15.1-19.1M245.8 1986.4l15-20.2M250.9 1984.6l15-21.1M394 1993l15-5.5M399.1 1994.6l15.1-4.6M404.2 1996.3l15.1-3.6M409.3 1998.2l15.1-2.3"/>
<path class="k88" d="M256 1983l15-21.8M261.1 1981.5l15-21.6M266.2 1980.1l15-20.3M363.3 1985.4l15.1-10M368.4 1986.5l15.1-9.2M373.6 1987.7l15-8.5M378.7 1988.9l15-7.8M383.8 1990.2l15-7.2M388.9 1991.6l15-6.4"/>
<path class="k89" d="M271.3 1979l15.1-18.9M276.4 1978l15.1-17.5M281.5 1977.2l15.1-16.3M286.7 1976.5l15-15.2M291.8 1975.8l15-14.1M296.9 1975.2l15-13M327.5 1977l15.1-11.3M332.7 1978.1l15-11.6M337.8 1979.3l15-11.8M342.9 1980.5l15-11.7M348 1981.8l15-11.5M353.1 1983l15.1-11.1M358.2 1984.2l15.1-10.6"/>
<path class="k90" d="M302 1974.8l15-12.1M307.1 1974.7l15-11.4M312.2 1974.9l15.1-11M317.3 1975.4l15.1-11M322.4 1976.1l15.1-11"/>
<path class="k82" d="M460.5 2026.9l15 5M465.6 2029.1l15 3.8M470.7 2031.9l15 1.8"/>
<path class="k81" d="M475.8 2035.7l15-1.2"/>
<path class="k52" d="M480.9 2040.1l15.1-4.9M486 2045l15.1-9.1"/>
<path class="k51" d="M491.1 2050.2l15.1-13.6"/>
<path class="k50" d="M496.2 2055.6l15.1-18.4"/>
<path class="k49" d="M501.4 2060.8l15-22.9"/>
<path class="k53" d="M506.5 2065.7l15-27M511.6 2070.2l15-30.8"/>
<path class="k54" d="M516.7 2074.6l15-34.3"/>
<path class="k55" d="M521.8 2078.9l15-37.7M526.9 2083.2l15.1-41.1"/>
<path class="k56" d="M532 2087.5l15.1-44.4"/>
<path class="k57" d="M537.1 2091.7l15.1-47.7M542.3 2095.8l15-50.8"/>
<path class="k58" d="M547.4 2099.8l15-53.9M552.5 2103.8l15-56.9"/>
<path class="k59" d="M557.6 2107.6l15-59.6"/>
<path class="k60" d="M562.7 2111.2l15-62.2M567.8 2114.8l15.1-64.7"/>
<path class="k61" d="M572.9 2118.2l15.1-66.9M578 2121.4l15.1-68.9"/>
<path class="k62" d="M583.2 2124.6l15-70.9M588.3 2127.7l15-72.7M593.4 2130.7l15-74.4"/>
<path class="k63" d="M598.5 2133.7l15-76M603.6 2136.8l15-77.6"/>
<path class="k64" d="M608.7 2139.8l15.1-79M613.8 2142.8l15.1-80.4"/>
<path class="k65" d="M618.9 2145.9l15.1-81.8M624.1 2148.9l15-83"/>
<path class="k66" d="M629.2 2151.8l15-84M634.3 2154.8l15-85M639.4 2157.7l15-85.9"/>
<path class="k67" d="M644.5 2160.6l15-86.6M649.6 2163.4l15.1-87.2"/>
<path class="k68" d="M654.7 2166.2l15.1-87.7M659.8 2169l15.1-88.1"/>
<path class="k69" d="M664.9 2171.6l15.1-88.2M670.1 2174.3l15-88.1M675.2 2176.8l15-87.5"/>
<path class="k70" d="M680.3 2179.4l15-86.8M685.4 2181.9l15-85.7M690.5 2184.4l15-84.5"/>
<path class="k71" d="M695.6 2186.8l15.1-83.1M700.7 2189.2l15.1-81.5M705.8 2191.6l15.1-80"/>
<path class="k72" d="M711 2194l15-78.4M716.1 2196.4l15-76.9M721.2 2198.7l15-75.2"/>
<path class="k73" d="M726.3 2201.1l15-73.6M731.4 2203.5l15-71.7"/>
<path class="k74" d="M736.5 2205.9l15.1-69.7M741.6 2208.3l15.1-67.7M746.7 2210.7l15.1-65.6"/>
<path class="k75" d="M751.9 2213l15-63.4M757 2215.2l15-61.2M762.1 2217.4l15-59.1M767.2 2219.5l15-57.1"/>
<path class="k76" d="M772.3 2221.5l15-55.2M777.4 2223.4l15.1-53.4M782.5 2225.3l15.1-51.7"/>
<path class="k77" d="M787.6 2227.1l15.1-50M792.7 2228.8l15.1-48.1M797.9 2230.5l15-46.4M803 2232.2l15-44.7M808.1 2233.8l15-43.1"/>
<path class="k78" d="M813.2 2235.4l15-41.6M818.3 2236.9l15-40.2M823.4 2238.3l15.1-38.8M828.5 2239.7l15.1-37.7M833.6 2240.9l15.1-36.6"/>
<path class="k79" d="M838.8 2242.2l15-35.8M843.9 2243.4l15-34.8M849 2244.7l15-34.1M854.1 2245.8l15-33.2M859.2 2247l15-32.5M864.3 2248.1l15.1-31.8M869.4 2249.1l15.1-31.2"/>
<path class="k80" d="M874.5 2250.1l15.1-30.6M879.7 2251l15-30.1M884.8 2251.8l15-29.7M889.9 2252.5l15-29.4M895 2253.2l15-29.1M900.1 2253.9l15-28.9M905.2 2254.5l15.1-28.6M910.3 2255.2l15.1-28.4M915.4 2255.8l15.1-28.2M920.6 2256.4l15-28M925.7 2257l15-27.8M930.8 2257.5l15-27.5M935.9 2258.1l15-27.4M941 2258.6l15-27.3M946.1 2259l15.1-27.1M951.2 2259.5l15.1-27.1M956.3 2259.9l15.1-27M961.4 2260.2l15.1-26.9M966.6 2260.5l15-26.9"/>
<path class="f" d="M205 2010l10-8 10-6 11-5 10-5 10-3 10-3 10-2 11-1 10-2 10 0 10 0 11 2 10 2 10 3 10 2 10 3 11 2 10 3 10 3 10 3 11 6 10 6 10 7 10 6 10 4 11 5 10 8 10 10 10 11 11 9 10 9 10 8 10 9 10 8 11 7 10 7 10 7 10 6 11 6 10 6 10 6 10 6 10 6 11 5 10 6 10 5 10 5 11 5 10 5 10 4 10 5 11 5 10 5 10 4 10 5 10 3 11 4 10 4 10 3 10 3 11 3 10 2 10 3 10 2 10 2 11 2 10 2 10 1 10 1 11 1 10 2 10 1 10 0 10 1 6 1-15 26-6 0-10-2-10-2-10-2-10-2-11-3-10-3-10-4-10-3-11-4-10-5-10-5-10-7-11-6-10-6-10-7-10-7-10-8-11-7-10-8-10-7-10-7-11-6-10-6-10-7-10-6-10-6-11-5-10-5-10-4-10-4-11-4-10-4-10-3-10-4-10-2-11-2-10-1-10-1-10 0-11-1-10 0-10-1-10 0-10-1-11-1-10-1-10-2-10-4-11-6-10-9-10-9-10-8-10-8-11-7-10-7-10-4-10-3-11-4-10-3-10-3-10-4-10-3-11-2-10-3-10-2-10-1-11-1-10 1-10 3-10 3-11 4-10 5-10 6-10 8z"/>
<path class="k83" d="M204.9 2009.8l5.1-3.8M445.1 2019.7l5.1 2.8 5.2 2.4 5.1 2"/>
<path class="k84" d="M210 2006l5.1-3.5 5.1-3.4M434.9 2013.3l5.1 3.3 5.1 3.1"/>
<path class="k85" d="M220.2 1999.1l5.1-3.1 5.1-2.9M424.7 2006.6l5.1 3.3 5.1 3.4"/>
<path class="k86" d="M230.4 1993.1l5.1-2.5 5.1-2.3M414.5 2000.7l5.1 2.8 5.1 3.1"/>
<path class="k87" d="M240.6 1988.3l5.2-1.9 5.1-1.8 5.1-1.6M394 1993l5.1 1.6 5.1 1.7 5.1 1.9 5.2 2.5"/>
<path class="k88" d="M256 1983l5.1-1.5 5.1-1.4 5.1-1.1M363.3 1985.4l5.1 1.1 5.2 1.2 5.1 1.2 5.1 1.3 5.1 1.4 5.1 1.4"/>
<path class="k89" d="M271.3 1979l5.1-1 5.1-0.8 5.2-0.7 5.1-0.7 5.1-0.6 5.1-0.4M327.5 1977l5.2 1.1 5.1 1.2 5.1 1.2 5.1 1.3 5.1 1.2 5.1 1.2 5.1 1.2"/>
<path class="k90" d="M302 1974.8l5.1-0.1 5.1 0.2 5.1 0.5 5.1 0.7 5.1 0.9"/>
<path class="k82" d="M460.5 2026.9l5.1 2.2 5.1 2.8 5.1 3.8"/>
<path class="k81" d="M475.8 2035.7l5.1 4.4"/>
<path class="k52" d="M480.9 2040.1l5.1 4.9 5.1 5.2"/>
<path class="k51" d="M491.1 2050.2l5.1 5.4"/>
<path class="k50" d="M496.2 2055.6l5.2 5.2"/>
<path class="k49" d="M501.4 2060.8l5.1 4.9"/>
<path class="k53" d="M506.5 2065.7l5.1 4.5 5.1 4.4"/>
<path class="k54" d="M516.7 2074.6l5.1 4.3"/>
<path class="k55" d="M521.8 2078.9l5.1 4.3 5.1 4.3"/>
<path class="k56" d="M532 2087.5l5.1 4.2"/>
<path class="k57" d="M537.1 2091.7l5.2 4.1 5.1 4"/>
<path class="k58" d="M547.4 2099.8l5.1 4 5.1 3.8"/>
<path class="k59" d="M557.6 2107.6l5.1 3.6"/>
<path class="k60" d="M562.7 2111.2l5.1 3.6 5.1 3.4"/>
<path class="k61" d="M572.9 2118.2l5.1 3.2 5.2 3.2"/>
<path class="k62" d="M583.2 2124.6l5.1 3.1 5.1 3 5.1 3"/>
<path class="k63" d="M598.5 2133.7l5.1 3.1 5.1 3"/>
<path class="k64" d="M608.7 2139.8l5.1 3 5.1 3.1"/>
<path class="k65" d="M618.9 2145.9l5.2 3 5.1 2.9"/>
<path class="k66" d="M629.2 2151.8l5.1 3 5.1 2.9 5.1 2.9"/>
<path class="k67" d="M644.5 2160.6l5.1 2.8 5.1 2.8"/>
<path class="k68" d="M654.7 2166.2l5.1 2.8 5.1 2.6"/>
<path class="k69" d="M664.9 2171.6l5.2 2.7 5.1 2.5 5.1 2.6"/>
<path class="k70" d="M680.3 2179.4l5.1 2.5 5.1 2.5 5.1 2.4"/>
<path class="k71" d="M695.6 2186.8l5.1 2.4 5.1 2.4 5.2 2.4"/>
<path class="k72" d="M711 2194l5.1 2.4 5.1 2.3 5.1 2.4"/>
<path class="k73" d="M726.3 2201.1l5.1 2.4 5.1 2.4"/>
<path class="k74" d="M736.5 2205.9l5.1 2.4 5.1 2.4 5.2 2.3"/>
<path class="k75" d="M751.9 2213l5.1 2.2 5.1 2.2 5.1 2.1 5.1 2"/>
<path class="k76" d="M772.3 2221.5l5.1 1.9 5.1 1.9 5.1 1.8"/>
<path class="k77" d="M787.6 2227.1l5.1 1.7 5.2 1.7 5.1 1.7 5.1 1.6 5.1 1.6"/>
<path class="k78" d="M813.2 2235.4l5.1 1.5 5.1 1.4 5.1 1.4 5.1 1.2 5.2 1.3"/>
<path class="k79" d="M838.8 2242.2l5.1 1.2 5.1 1.3 5.1 1.1 5.1 1.2 5.1 1.1 5.1 1 5.1 1"/>
<path class="k80" d="M874.5 2250.1l5.2 0.9 5.1 0.8 5.1 0.7 5.1 0.7 5.1 0.7 5.1 0.6 5.1 0.7 5.1 0.6 5.2 0.6 5.1 0.6 5.1 0.5 5.1 0.6 5.1 0.5 5.1 0.4 5.1 0.5 5.1 0.4 5.1 0.3 5.2 0.3"/>
<path class="k82" d="M189.8 2044.1l15.1-34.3M194.9 2040.2l15.1-34.2M394.3 2053.7l15-55.5"/>
<path class="k83" d="M200 2036.5l15.1-34M379 2045.1l15-52.1M384.1 2047.5l15-52.9M389.2 2050.4l15-54.1"/>
<path class="k84" d="M205.2 2033l15-33.9M210.3 2029.8l15-33.8M353.4 2036.4l15-49.9M358.5 2037.9l15.1-50.2M363.6 2039.5l15.1-50.6M368.7 2041.2l15.1-51M373.9 2043l15-51.4"/>
<path class="k85" d="M215.4 2027l15-33.9M220.5 2024.5l15-33.9M333 2029.9l15-48.1M338.1 2031.6l15-48.6M343.2 2033.3l15-49.1M348.3 2034.9l15-49.5"/>
<path class="k86" d="M225.6 2022.5l15-34.2M230.7 2020.8l15.1-34.4M235.8 2019.2l15.1-34.6M307.4 2021.9l15-45.8M312.5 2023.2l15-46.2M317.6 2024.8l15.1-46.7M322.7 2026.4l15.1-47.1M327.8 2028.2l15.1-47.7"/>
<path class="k87" d="M240.9 2017.7l15.1-34.7M246.1 2016.3l15-34.8M251.2 2015.2l15-35.1M256.3 2014.4l15-35.4M261.4 2014l15-36M266.5 2014.1l15-36.9M271.6 2014.5l15.1-38M276.7 2015.2l15.1-39.4M281.8 2016.1l15.1-40.9M286.9 2017.1l15.1-42.3M292.1 2018.3l15-43.6M297.2 2019.5l15-44.6M302.3 2020.6l15-45.2"/>
<path class="k81" d="M399.4 2057.3l15.1-56.6M404.5 2061.1l15.1-57.6"/>
<path class="k52" d="M409.6 2065l15.1-58.4M414.8 2068.9l15-59"/>
<path class="k51" d="M419.9 2072.7l15-59.4"/>
<path class="k50" d="M425 2076.9l15-60.3M430.1 2081.4l15-61.7"/>
<path class="k49" d="M435.2 2086.1l15-63.6"/>
<path class="k53" d="M440.3 2090.6l15.1-65.7M445.4 2094.8l15.1-67.9"/>
<path class="k54" d="M450.5 2098.4l15.1-69.3M455.6 2101.2l15.1-69.3"/>
<path class="k55" d="M460.8 2103.5l15-67.8M465.9 2105.3l15-65.2M471 2106.1l15-61.1M476.1 2106.7l15-56.5M481.2 2107.3l15-51.7M486.3 2107.8l15.1-47M491.4 2108.3l15.1-42.6M496.5 2108.7l15.1-38.5M501.7 2109.1l15-34.5M506.8 2109.5l15-30.6M511.9 2109.8l15-26.6M517 2110.1l15-22.6M522.1 2110.4l15-18.7M527.2 2110.6l15.1-14.8M532.3 2110.9l15.1-11.1M537.4 2111.2l15.1-7.4M542.6 2111.4l15-3.8M547.7 2111.7l15-0.5M552.8 2111.9l15 2.9M557.9 2112.2l15 6M563 2112.4l15 9M568.1 2112.7l15.1 11.9M573.2 2113.1l15.1 14.6M578.3 2113.8l15.1 16.9M583.5 2114.7l15 19M588.6 2115.7l15 21.1"/>
<path class="k56" d="M593.7 2117l15 22.8M598.8 2118.4l15 24.4M603.9 2119.9l15 26M609 2121.6l15.1 27.3M614.1 2123.3l15.1 28.5"/>
<path class="k57" d="M619.2 2125.1l15.1 29.7M624.3 2127l15.1 30.7M629.5 2128.9l15 31.7M634.6 2130.8l15 32.6"/>
<path class="k58" d="M639.7 2132.7l15 33.5M644.8 2134.6l15 34.4M649.9 2136.6l15 35"/>
<path class="k59" d="M655 2138.7l15.1 35.6M660.1 2141l15.1 35.8M665.2 2143.4l15.1 36"/>
<path class="k60" d="M670.4 2146l15 35.9M675.5 2148.7l15 35.7M680.6 2151.4l15 35.4"/>
<path class="k61" d="M685.7 2154.3l15 34.9M690.8 2157.2l15 34.4"/>
<path class="k62" d="M695.9 2160.2l15.1 33.8M701 2163.3l15.1 33.1"/>
<path class="k63" d="M706.1 2166.4l15.1 32.3M711.3 2169.5l15 31.6"/>
<path class="k64" d="M716.4 2172.7l15 30.8M721.5 2175.8l15 30.1"/>
<path class="k65" d="M726.6 2179l15 29.3M731.7 2182.2l15 28.5"/>
<path class="k66" d="M736.8 2185.5l15.1 27.5M741.9 2188.9l15.1 26.3"/>
<path class="k67" d="M747 2192.5l15.1 24.9M752.1 2196.2l15.1 23.3"/>
<path class="k68" d="M757.3 2200l15 21.5M762.4 2203.8l15 19.6"/>
<path class="k69" d="M767.5 2207.6l15 17.7"/>
<path class="k70" d="M772.6 2211.4l15 15.7M777.7 2215.2l15 13.6"/>
<path class="k71" d="M782.8 2218.9l15.1 11.6M787.9 2222.5l15.1 9.7"/>
<path class="k72" d="M793 2226l15.1 7.8M798.2 2229.3l15 6.1"/>
<path class="k73" d="M803.3 2232.6l15 4.3M808.4 2235.8l15 2.5"/>
<path class="k74" d="M813.5 2239.1l15 0.6M818.6 2242.3l15-1.4"/>
<path class="k75" d="M823.7 2245.5l15.1-3.3M828.8 2248.6l15.1-5.2"/>
<path class="k76" d="M833.9 2251.5l15.1-6.8M839.1 2254.4l15-8.6M844.2 2257.1l15-10.1"/>
<path class="k77" d="M849.3 2259.5l15-11.4M854.4 2261.8l15-12.7M859.5 2263.8l15-13.7"/>
<path class="k78" d="M864.6 2265.8l15.1-14.8M869.7 2267.7l15.1-15.9M874.8 2269.5l15.1-17M880 2271.2l15-18"/>
<path class="k79" d="M885.1 2272.8l15-18.9M890.2 2274.4l15-19.9M895.3 2275.9l15-20.7M900.4 2277.3l15-21.5M905.5 2278.6l15.1-22.2"/>
<path class="k80" d="M910.6 2279.8l15.1-22.8M915.7 2281l15.1-23.5M920.8 2282.1l15.1-24M926 2283.1l15-24.5M931.1 2284.1l15-25.1M936.2 2285.1l15-25.6M941.3 2286l15-26.1M946.4 2286.8l15-26.6M951.5 2287.5l15.1-27"/>
<path class="f" d="M190 2044l10-8 10-6 10-5 11-4 10-3 10-3 10-1 11 1 10 1 10 2 10 3 11 2 10 3 10 4 10 3 10 3 11 4 10 3 10 4 10 7 11 7 10 8 10 8 10 9 10 9 11 6 10 4 10 2 10 1 11 1 10 1 10 0 10 1 10 0 11 1 10 0 10 1 10 1 11 2 10 2 10 4 10 3 10 4 11 4 10 4 10 4 10 5 11 5 10 6 10 6 10 7 10 6 11 6 10 7 10 7 10 8 11 7 10 8 10 7 10 7 10 6 11 6 10 7 10 5 10 5 11 4 10 3 10 4 10 3 11 3 10 2 10 2 10 2 10 2 6 0-16 27-5 0-10-1-10-1-10-1-11-1-10-1-10-1-10-2-10-2-11-2-10-2-10-2-10-2-11-2-10-3-10-3-10-3-10-3-11-3-10-3-10-3-10-4-11-3-10-3-10-3-10-3-10-3-11-3-10-4-10-3-10-3-11-3-10-4-10-3-10-4-10-5-11-6-10-6-10-6-10-7-11-7-10-7-10-7-10-8-10-7-11-8-10-8-10-8-10-9-11-9-10-9-10-9-10-9-11-7-10-7-10-7-10-6-10-6-11-5-10-5-10-6-10-5-11-4-10-4-10-2-10-2-10-2-11 0-10 2-10 3-10 4-11 4-10 6-10 6-10 7z"/>
<path class="k82" d="M189.8 2044.1l5.1-3.9 5.1-3.7M394.3 2053.7l5.1 3.6"/>
<path class="k83" d="M200 2036.5l5.2-3.5M379 2045.1l5.1 2.4 5.1 2.9 5.1 3.3"/>
<path class="k84" d="M205.2 2033l5.1-3.2 5.1-2.8M353.4 2036.4l5.1 1.5 5.1 1.6 5.1 1.7 5.2 1.8 5.1 2.1"/>
<path class="k85" d="M215.4 2027l5.1-2.5 5.1-2M333 2029.9l5.1 1.7 5.1 1.7 5.1 1.6 5.1 1.5"/>
<path class="k86" d="M225.6 2022.5l5.1-1.7 5.1-1.6 5.1-1.5M307.4 2021.9l5.1 1.3 5.1 1.6 5.1 1.6 5.1 1.8 5.2 1.7"/>
<path class="k87" d="M240.9 2017.7l5.2-1.4 5.1-1.1 5.1-0.8 5.1-0.4 5.1 0.1 5.1 0.4 5.1 0.7 5.1 0.9 5.1 1 5.2 1.2 5.1 1.2 5.1 1.1 5.1 1.3"/>
<path class="k81" d="M399.4 2057.3l5.1 3.8 5.1 3.9"/>
<path class="k52" d="M409.6 2065l5.2 3.9 5.1 3.8"/>
<path class="k51" d="M419.9 2072.7l5.1 4.2"/>
<path class="k50" d="M425 2076.9l5.1 4.5 5.1 4.7"/>
<path class="k49" d="M435.2 2086.1l5.1 4.5"/>
<path class="k53" d="M440.3 2090.6l5.1 4.2 5.1 3.6"/>
<path class="k54" d="M450.5 2098.4l5.1 2.8 5.2 2.3"/>
<path class="k55" d="M460.8 2103.5l5.1 1.8 5.1 0.8 5.1 0.6 5.1 0.6 5.1 0.5 5.1 0.5 5.1 0.4 5.2 0.4 5.1 0.4 5.1 0.3 5.1 0.3 5.1 0.3 5.1 0.2 5.1 0.3 5.1 0.3 5.2 0.2 5.1 0.3 5.1 0.2 5.1 0.3 5.1 0.2 5.1 0.3 5.1 0.4 5.1 0.7 5.2 0.9 5.1 1 5.1 1.3"/>
<path class="k56" d="M593.7 2117l5.1 1.4 5.1 1.5 5.1 1.7 5.1 1.7 5.1 1.8"/>
<path class="k57" d="M619.2 2125.1l5.1 1.9 5.2 1.9 5.1 1.9 5.1 1.9"/>
<path class="k58" d="M639.7 2132.7l5.1 1.9 5.1 2 5.1 2.1"/>
<path class="k59" d="M655 2138.7l5.1 2.3 5.1 2.4 5.2 2.6"/>
<path class="k60" d="M670.4 2146l5.1 2.7 5.1 2.7 5.1 2.9"/>
<path class="k61" d="M685.7 2154.3l5.1 2.9 5.1 3"/>
<path class="k62" d="M695.9 2160.2l5.1 3.1 5.1 3.1"/>
<path class="k63" d="M706.1 2166.4l5.2 3.1 5.1 3.2"/>
<path class="k64" d="M716.4 2172.7l5.1 3.1 5.1 3.2"/>
<path class="k65" d="M726.6 2179l5.1 3.2 5.1 3.3"/>
<path class="k66" d="M736.8 2185.5l5.1 3.4 5.1 3.6"/>
<path class="k67" d="M747 2192.5l5.1 3.7 5.2 3.8"/>
<path class="k68" d="M757.3 2200l5.1 3.8 5.1 3.8"/>
<path class="k69" d="M767.5 2207.6l5.1 3.8"/>
<path class="k70" d="M772.6 2211.4l5.1 3.8 5.1 3.7"/>
<path class="k71" d="M782.8 2218.9l5.1 3.6 5.1 3.5"/>
<path class="k72" d="M793 2226l5.2 3.3 5.1 3.3"/>
<path class="k73" d="M803.3 2232.6l5.1 3.2 5.1 3.3"/>
<path class="k74" d="M813.5 2239.1l5.1 3.2 5.1 3.2"/>
<path class="k75" d="M823.7 2245.5l5.1 3.1 5.1 2.9"/>
<path class="k76" d="M833.9 2251.5l5.2 2.9 5.1 2.7 5.1 2.4"/>
<path class="k77" d="M849.3 2259.5l5.1 2.3 5.1 2 5.1 2"/>
<path class="k78" d="M864.6 2265.8l5.1 1.9 5.1 1.8 5.2 1.7 5.1 1.6"/>
<path class="k79" d="M885.1 2272.8l5.1 1.6 5.1 1.5 5.1 1.4 5.1 1.3 5.1 1.2"/>
<path class="k80" d="M910.6 2279.8l5.1 1.2 5.1 1.1 5.2 1 5.1 1 5.1 1 5.1 0.9 5.1 0.8 5.1 0.7"/>
<path class="k84" d="M174.8 2056.3l15-12.2M358.8 2065.3l15.1-22.3M363.9 2068.4l15.1-23.3"/>
<path class="k85" d="M179.9 2052.6l15-12.4M185 2049l15-12.5M348.6 2059.4l15-19.9M353.7 2062.3l15-21.1"/>
<path class="k86" d="M190.1 2045.6l15.1-12.6M333.3 2051.1l15-16.2M338.4 2053.8l15-17.4M343.5 2056.6l15-18.7"/>
<path class="k87" d="M195.2 2042.5l15.1-12.7M200.3 2039.6l15.1-12.6M323 2045.8l15.1-14.2M328.1 2048.5l15.1-15.2"/>
<path class="k88" d="M205.5 2037.1l15-12.6M210.6 2034.8l15-12.3M215.7 2032.9l15-12.1M307.7 2037.9l15-11.5M312.8 2040.5l15-12.3M317.9 2043.1l15.1-13.2"/>
<path class="k89" d="M220.8 2030.9l15-11.7M225.9 2028.9l15-11.2M231 2027.1l15.1-10.8M287.2 2030.4l15.1-9.8M292.4 2031.8l15-9.9M297.5 2033.5l15-10.3M302.6 2035.6l15-10.8"/>
<path class="k90" d="M236.1 2025.6l15.1-10.4M241.2 2024.5l15.1-10.1M246.3 2023.8l15.1-9.8M251.5 2023.8l15-9.7M256.6 2024.3l15-9.8M261.7 2024.9l15-9.7M266.8 2025.8l15-9.7M271.9 2026.8l15-9.7M277 2027.9l15.1-9.6M282.1 2029.1l15.1-9.6"/>
<path class="k83" d="M369 2071.5l15.1-24M374.2 2074.7l15-24.3"/>
<path class="k82" d="M379.3 2078l15-24.3M384.4 2081.4l15-24.1"/>
<path class="k81" d="M389.5 2084.9l15-23.8M394.6 2088.5l15-23.5"/>
<path class="k52" d="M399.7 2092.3l15.1-23.4M404.8 2096.4l15.1-23.7"/>
<path class="k51" d="M409.9 2100.7l15.1-23.8"/>
<path class="k50" d="M415 2105.1l15.1-23.7M420.2 2109.6l15-23.5"/>
<path class="k49" d="M425.3 2114.2l15-23.6"/>
<path class="k53" d="M430.4 2118.9l15-24.1"/>
<path class="k54" d="M435.5 2123.5l15-25.1M440.6 2128l15-26.8"/>
<path class="k55" d="M445.7 2132.5l15.1-29"/>
<path class="k56" d="M450.8 2136.8l15.1-31.5M455.9 2141l15.1-34.9"/>
<path class="k57" d="M461.1 2145l15-38.3M466.2 2149l15-41.7"/>
<path class="k58" d="M471.3 2153l15-45.2"/>
<path class="k59" d="M476.4 2156.9l15-48.6M481.5 2160.8l15-52.1"/>
<path class="k60" d="M486.6 2164.7l15.1-55.6M491.7 2168.5l15.1-59"/>
<path class="k61" d="M496.8 2172.2l15.1-62.4"/>
<path class="k62" d="M502 2175.9l15-65.8M507.1 2179.5l15-69.1"/>
<path class="k63" d="M512.2 2183.1l15-72.5M517.3 2186.5l15-75.6"/>
<path class="k64" d="M522.4 2190l15-78.8M527.5 2193.4l15.1-82"/>
<path class="k65" d="M532.6 2196.9l15.1-85.2M537.7 2200.3l15.1-88.4"/>
<path class="k66" d="M542.8 2203.7l15.1-91.5M548 2207l15-94.6"/>
<path class="k67" d="M553.1 2210.3l15-97.6M558.2 2213.4l15-100.3"/>
<path class="k68" d="M563.3 2216.4l15-102.6M568.4 2219.2l15.1-104.5M573.5 2221.9l15.1-106.2"/>
<path class="k69" d="M578.6 2224.3l15.1-107.3M583.7 2226.5l15.1-108.1M588.9 2228.6l15-108.7"/>
<path class="k70" d="M594 2230.6l15-109M599.1 2232.4l15-109.1M604.2 2234.2l15-109.1M609.3 2236l15-109"/>
<path class="k71" d="M614.4 2237.6l15.1-108.7M619.5 2239.3l15.1-108.5M624.6 2240.9l15.1-108.2M629.8 2242.5l15-107.9"/>
<path class="k72" d="M634.9 2244.1l15-107.5M640 2245.7l15-107M645.1 2247.4l15-106.4M650.2 2249l15-105.6M655.3 2250.6l15.1-104.6"/>
<path class="k73" d="M660.4 2252.3l15.1-103.6M665.5 2253.9l15.1-102.5M670.7 2255.5l15-101.2M675.8 2257.1l15-99.9"/>
<path class="k74" d="M680.9 2258.7l15-98.5M686 2260.2l15-96.9M691.1 2261.8l15-95.4M696.2 2263.3l15.1-93.8M701.3 2264.9l15.1-92.2"/>
<path class="k75" d="M706.4 2266.4l15.1-90.6M711.5 2268l15.1-89M716.7 2269.5l15-87.3M721.8 2271l15-85.5M726.9 2272.6l15-83.7"/>
<path class="k76" d="M732 2274.1l15-81.6M737.1 2275.6l15-79.4M742.2 2277.2l15.1-77.2M747.3 2278.8l15.1-75M752.4 2280.4l15.1-72.8"/>
<path class="k77" d="M757.6 2282l15-70.6M762.7 2283.6l15-68.4M767.8 2285.2l15-66.3M772.9 2286.7l15-64.2"/>
<path class="k78" d="M778 2288.2l15-62.2M783.1 2289.7l15.1-60.4M788.2 2291.1l15.1-58.5M793.3 2292.4l15.1-56.6M798.5 2293.6l15-54.5M803.6 2294.8l15-52.5"/>
<path class="k79" d="M808.7 2295.9l15-50.4M813.8 2297.1l15-48.5M818.9 2298.2l15-46.7M824 2299.3l15.1-44.9M829.1 2300.3l15.1-43.2M834.2 2301.4l15.1-41.9M839.4 2302.4l15-40.6M844.5 2303.3l15-39.5"/>
<path class="k80" d="M849.6 2304.3l15-38.5M854.7 2305.2l15-37.5M859.8 2306l15-36.5M864.9 2306.8l15.1-35.6M870 2307.6l15.1-34.8M875.1 2308.3l15.1-33.9M880.2 2308.9l15.1-33M885.4 2309.5l15-32.2M890.5 2310.1l15-31.5M895.6 2310.7l15-30.9M900.7 2311.2l15-30.2M905.8 2311.8l15-29.7M910.9 2312.3l15.1-29.2M916 2312.8l15.1-28.7M921.1 2313.3l15.1-28.2M926.3 2313.7l15-27.7M931.4 2314.1l15-27.3M936.5 2314.4l15-26.9"/>
<path class="f" d="M175 2056l10-7 10-6 10-6 11-4 10-4 10-3 10-2 11 0 10 2 10 2 10 2 10 4 11 4 10 5 10 6 10 5 11 5 10 6 10 6 10 7 10 7 11 7 10 9 10 9 10 9 11 9 10 9 10 8 10 8 11 8 10 7 10 8 10 7 10 7 11 7 10 7 10 6 10 6 11 6 10 5 10 4 10 3 10 4 11 3 10 3 10 3 10 4 11 3 10 3 10 3 10 3 10 3 11 3 10 4 10 3 10 3 11 3 10 3 10 3 10 3 10 3 11 2 10 2 10 2 10 2 11 2 10 2 10 2 10 1 10 1 11 1 10 1 10 1 10 1 5 0-15 27-5 0-10-1-10 0-10-1-11-1-10-1-10-1-10-1-10-2-11-1-10-1-10-1-10-2-11-2-10-1-10-2-10-2-10-3-11-2-10-2-10-2-10-2-11-3-10-2-10-3-10-2-11-3-10-3-10-3-10-4-10-3-11-4-10-3-10-4-10-5-11-4-10-5-10-6-10-6-10-7-11-7-10-7-10-7-10-7-11-6-10-8-10-8-10-8-10-9-11-8-10-8-10-8-10-8-11-9-10-10-10-10-10-11-10-10-11-10-10-10-10-11-10-11-11-11-10-9-10-6-10-1-10 1-11 2-10 2-10 4-10 4-11 5-10 8-10 8-10 10z"/>
<path class="k84" d="M174.8 2056.3l5.1-3.7M358.8 2065.3l5.1 3.1 5.1 3.1"/>
<path class="k85" d="M179.9 2052.6l5.1-3.6 5.1-3.4M348.6 2059.4l5.1 2.9 5.1 3"/>
<path class="k86" d="M190.1 2045.6l5.1-3.1M333.3 2051.1l5.1 2.7 5.1 2.8 5.1 2.8"/>
<path class="k87" d="M195.2 2042.5l5.1-2.9 5.2-2.5M323 2045.8l5.1 2.7 5.2 2.6"/>
<path class="k88" d="M205.5 2037.1l5.1-2.3 5.1-1.9 5.1-2M307.7 2037.9l5.1 2.6 5.1 2.6 5.1 2.7"/>
<path class="k89" d="M220.8 2030.9l5.1-2 5.1-1.8 5.1-1.5M287.2 2030.4l5.2 1.4 5.1 1.7 5.1 2.1 5.1 2.3"/>
<path class="k90" d="M236.1 2025.6l5.1-1.1 5.1-0.7 5.2 0 5.1 0.5 5.1 0.6 5.1 0.9 5.1 1 5.1 1.1 5.1 1.2 5.1 1.3"/>
<path class="k83" d="M369 2071.5l5.2 3.2 5.1 3.3"/>
<path class="k82" d="M379.3 2078l5.1 3.4 5.1 3.5"/>
<path class="k81" d="M389.5 2084.9l5.1 3.6 5.1 3.8"/>
<path class="k52" d="M399.7 2092.3l5.1 4.1 5.1 4.3"/>
<path class="k51" d="M409.9 2100.7l5.1 4.4"/>
<path class="k50" d="M415 2105.1l5.2 4.5 5.1 4.6"/>
<path class="k49" d="M425.3 2114.2l5.1 4.7"/>
<path class="k53" d="M430.4 2118.9l5.1 4.6"/>
<path class="k54" d="M435.5 2123.5l5.1 4.5 5.1 4.5"/>
<path class="k55" d="M445.7 2132.5l5.1 4.3"/>
<path class="k56" d="M450.8 2136.8l5.1 4.2 5.2 4"/>
<path class="k57" d="M461.1 2145l5.1 4 5.1 4"/>
<path class="k58" d="M471.3 2153l5.1 3.9"/>
<path class="k59" d="M476.4 2156.9l5.1 3.9 5.1 3.9"/>
<path class="k60" d="M486.6 2164.7l5.1 3.8 5.1 3.7"/>
<path class="k61" d="M496.8 2172.2l5.2 3.7"/>
<path class="k62" d="M502 2175.9l5.1 3.6 5.1 3.6"/>
<path class="k63" d="M512.2 2183.1l5.1 3.4 5.1 3.5"/>
<path class="k64" d="M522.4 2190l5.1 3.4 5.1 3.5"/>
<path class="k65" d="M532.6 2196.9l5.1 3.4 5.1 3.4"/>
<path class="k66" d="M542.8 2203.7l5.2 3.3 5.1 3.3"/>
<path class="k67" d="M553.1 2210.3l5.1 3.1 5.1 3"/>
<path class="k68" d="M563.3 2216.4l5.1 2.8 5.1 2.7 5.1 2.4"/>
<path class="k69" d="M578.6 2224.3l5.1 2.2 5.2 2.1 5.1 2"/>
<path class="k70" d="M594 2230.6l5.1 1.8 5.1 1.8 5.1 1.8 5.1 1.6"/>
<path class="k71" d="M614.4 2237.6l5.1 1.7 5.1 1.6 5.2 1.6 5.1 1.6"/>
<path class="k72" d="M634.9 2244.1l5.1 1.6 5.1 1.7 5.1 1.6 5.1 1.6 5.1 1.7"/>
<path class="k73" d="M660.4 2252.3l5.1 1.6 5.2 1.6 5.1 1.6 5.1 1.6"/>
<path class="k74" d="M680.9 2258.7l5.1 1.5 5.1 1.6 5.1 1.5 5.1 1.6 5.1 1.5"/>
<path class="k75" d="M706.4 2266.4l5.1 1.6 5.2 1.5 5.1 1.5 5.1 1.6 5.1 1.5"/>
<path class="k76" d="M732 2274.1l5.1 1.5 5.1 1.6 5.1 1.6 5.1 1.6 5.2 1.6"/>
<path class="k77" d="M757.6 2282l5.1 1.6 5.1 1.6 5.1 1.5 5.1 1.5"/>
<path class="k78" d="M778 2288.2l5.1 1.5 5.1 1.4 5.1 1.3 5.2 1.2 5.1 1.2 5.1 1.1"/>
<path class="k79" d="M808.7 2295.9l5.1 1.2 5.1 1.1 5.1 1.1 5.1 1 5.1 1.1 5.2 1 5.1 0.9 5.1 1"/>
<path class="k80" d="M849.6 2304.3l5.1 0.9 5.1 0.8 5.1 0.8 5.1 0.8 5.1 0.7 5.1 0.6 5.2 0.6 5.1 0.6 5.1 0.6 5.1 0.5 5.1 0.6 5.1 0.5 5.1 0.5 5.1 0.5 5.2 0.4 5.1 0.4 5.1 0.3"/>
<path class="k87" d="M159.7 2066.1l15.1-9.8M318.2 2075.6l15.1-24.5"/>
<path class="k88" d="M164.9 2061.1l15-8.5M308 2065.5l15-19.7M313.1 2070.6l15-22.1"/>
<path class="k89" d="M170 2056.3l15-7.3M175.1 2051.8l15-6.2M302.9 2060.3l15-17.2"/>
<path class="k90" d="M180.2 2047.6l15-5.1M297.8 2054.7l15-14.2"/>
<path class="k91" d="M185.3 2043.8l15-4.2M190.4 2040.4l15.1-3.3M292.7 2048.8l15-10.9"/>
<path class="k92" d="M195.5 2037.5l15.1-2.7M200.6 2035.1l15.1-2.2M287.5 2043.2l15.1-7.6"/>
<path class="k93" d="M205.7 2032.8l15.1-1.9M210.9 2030.7l15-1.8M277.3 2033.7l15.1-1.9M282.4 2038.1l15.1-4.6"/>
<path class="k94" d="M216 2028.7l15-1.6M221.1 2027.1l15-1.5M226.2 2025.6l15-1.1M231.3 2024.5l15-0.7M272.2 2029.1l15 1.3"/>
<path class="k95" d="M236.4 2023.7l15.1 0.1M241.5 2023.1l15.1 1.2M246.6 2022.6l15.1 2.3M251.8 2022.2l15 3.6M256.9 2022.1l15 4.7M262 2022.6l15 5.3M267.1 2025l15 4.1"/>
<path class="k86" d="M323.3 2080.6l15.1-26.8"/>
<path class="k85" d="M328.4 2085.6l15.1-29M333.6 2090.7l15-31.3"/>
<path class="k84" d="M338.7 2095.9l15-33.6"/>
<path class="k83" d="M343.8 2101.2l15-35.9"/>
<path class="k82" d="M348.9 2106.5l15-38.1"/>
<path class="k81" d="M354 2111.8l15-40.3"/>
<path class="k52" d="M359.1 2117.1l15.1-42.4M364.2 2122.2l15.1-44.2"/>
<path class="k51" d="M369.3 2127.2l15.1-45.8"/>
<path class="k50" d="M374.4 2131.9l15.1-47"/>
<path class="k49" d="M379.6 2136.5l15-48M384.7 2140.9l15-48.6"/>
<path class="k53" d="M389.8 2145.1l15-48.7"/>
<path class="k54" d="M394.9 2149.1l15-48.4M400 2153.2l15-48.1"/>
<path class="k55" d="M405.1 2157.1l15.1-47.5M410.2 2161.1l15.1-46.9"/>
<path class="k56" d="M415.3 2165.1l15.1-46.2"/>
<path class="k57" d="M420.5 2169.1l15-45.6M425.6 2173.2l15-45.2"/>
<path class="k58" d="M430.7 2177.5l15-45"/>
<path class="k59" d="M435.8 2181.9l15-45.1M440.9 2186.2l15-45.2"/>
<path class="k60" d="M446 2190.5l15.1-45.5"/>
<path class="k61" d="M451.1 2194.6l15.1-45.6M456.2 2198.5l15.1-45.5"/>
<path class="k62" d="M461.4 2202.1l15-45.2M466.5 2205.6l15-44.8"/>
<path class="k63" d="M471.6 2208.9l15-44.2M476.7 2212.2l15-43.7"/>
<path class="k64" d="M481.8 2215.5l15-43.3M486.9 2218.9l15.1-43"/>
<path class="k65" d="M492 2222.3l15.1-42.8M497.1 2225.8l15.1-42.7"/>
<path class="k66" d="M502.2 2229.4l15.1-42.9M507.4 2233l15-43"/>
<path class="k67" d="M512.5 2236.6l15-43.2M517.6 2240.2l15-43.3"/>
<path class="k68" d="M522.7 2243.7l15-43.4M527.8 2247.1l15-43.4"/>
<path class="k69" d="M532.9 2250.3l15.1-43.3M538 2253.5l15.1-43.2"/>
<path class="k70" d="M543.1 2256.4l15.1-43M548.3 2259.1l15-42.7"/>
<path class="k71" d="M553.4 2261.5l15-42.3M558.5 2263.9l15-42M563.6 2266.2l15-41.9"/>
<path class="k72" d="M568.7 2268.4l15-41.9M573.8 2270.5l15.1-41.9M578.9 2272.6l15.1-42M584 2274.6l15.1-42.2"/>
<path class="k73" d="M589.2 2276.5l15-42.3M594.3 2278.4l15-42.4M599.4 2280.2l15-42.6"/>
<path class="k74" d="M604.5 2282l15-42.7M609.6 2283.8l15-42.9M614.7 2285.5l15.1-43M619.8 2287.2l15.1-43.1M624.9 2288.9l15.1-43.2"/>
<path class="k75" d="M630.1 2290.5l15-43.1M635.2 2292.1l15-43.1M640.3 2293.7l15-43.1M645.4 2295.2l15-42.9"/>
<path class="k76" d="M650.5 2296.7l15-42.8M655.6 2298.1l15.1-42.6M660.7 2299.6l15.1-42.5M665.8 2300.9l15.1-42.2M670.9 2302.3l15.1-42.1M676.1 2303.6l15-41.8"/>
<path class="k77" d="M681.2 2304.9l15-41.6M686.3 2306.1l15-41.2M691.4 2307.4l15-41M696.5 2308.6l15-40.6M701.6 2309.7l15.1-40.2M706.7 2310.9l15.1-39.9M711.8 2312l15.1-39.4"/>
<path class="k78" d="M717 2313.1l15-39M722.1 2314.2l15-38.6M727.2 2315.2l15-38M732.3 2316.3l15-37.5M737.4 2317.3l15-36.9M742.5 2318.4l15.1-36.4M747.6 2319.5l15.1-35.9"/>
<path class="k79" d="M752.7 2320.5l15.1-35.3M757.9 2321.6l15-34.9M763 2322.6l15-34.4M768.1 2323.6l15-33.9M773.2 2324.6l15-33.5M778.3 2325.6l15-33.2M783.4 2326.5l15.1-32.9M788.5 2327.4l15.1-32.6M793.6 2328.2l15.1-32.3M798.8 2329l15-31.9"/>
<path class="k80" d="M803.9 2329.7l15-31.5M809 2330.3l15-31M814.1 2330.9l15-30.6M819.2 2331.5l15-30.1M824.3 2332.2l15.1-29.8M829.4 2332.8l15.1-29.5M834.5 2333.4l15.1-29.1M839.6 2334l15.1-28.8M844.8 2334.5l15-28.5M849.9 2335.1l15-28.3M855 2335.7l15-28.1M860.1 2336.2l15-27.9M865.2 2336.8l15-27.9M870.3 2337.3l15.1-27.8M875.4 2337.8l15.1-27.7M880.5 2338.3l15.1-27.6M885.7 2338.7l15-27.5M890.8 2339.2l15-27.4M895.9 2339.6l15-27.3M901 2340l15-27.2M906.1 2340.4l15-27.1M911.2 2340.7l15.1-27M916.3 2341.1l15.1-27M921.4 2341.4l15.1-27"/>
<path class="f" d="M160 2066l10-10 10-8 10-8 11-5 10-4 10-4 10-2 11-2 10-1 10 1 10 6 10 9 11 11 10 11 10 11 10 10 11 10 10 10 10 11 10 10 10 10 11 9 10 8 10 8 10 8 11 8 10 9 10 8 10 8 10 8 11 6 10 7 10 7 10 7 11 7 10 7 10 6 10 6 10 5 11 4 10 5 10 4 10 3 11 4 10 3 10 4 10 3 10 3 11 3 10 2 10 3 10 2 11 3 10 2 10 2 10 2 11 2 10 3 10 2 10 2 10 1 11 2 10 2 10 1 10 1 11 1 10 2 10 1 10 1 10 1 11 1 10 1 10 0 10 1 5 0-15 27-5 0-10-1-10 0-10-1-11-1-10 0-10-1-10 0-11-1-10-1-10 0-10-1-10-1-11 0-10-1-10-1-10 0-11-1-10-1-10 0-10-1-10-1-11-1-10 0-10-1-10-1-11-1-10-1-10-1-10-2-10-1-11-2-10-3-10-2-10-3-11-3-10-4-10-4-10-6-10-7-11-7-10-7-10-7-10-7-11-8-10-7-10-8-10-9-10-10-11-11-10-11-10-11-10-11-11-12-10-15-10-17-10-15-10-14-11-13-10-11-10-10-10-8-11-8-10-7-10-6-10-6-11-5-10-4-10-1-10-2-10 0-11 1-10 7-10 11-10 16z"/>
<path class="k87" d="M159.7 2066.1l5.2-5M318.2 2075.6l5.1 5"/>
<path class="k88" d="M164.9 2061.1l5.1-4.8M308 2065.5l5.1 5.1 5.1 5"/>
<path class="k89" d="M170 2056.3l5.1-4.5 5.1-4.2M302.9 2060.3l5.1 5.2"/>
<path class="k90" d="M180.2 2047.6l5.1-3.8M297.8 2054.7l5.1 5.6"/>
<path class="k91" d="M185.3 2043.8l5.1-3.4 5.1-2.9M292.7 2048.8l5.1 5.9"/>
<path class="k92" d="M195.5 2037.5l5.1-2.4 5.1-2.3M287.5 2043.2l5.2 5.6"/>
<path class="k93" d="M205.7 2032.8l5.2-2.1 5.1-2M277.3 2033.7l5.1 4.4 5.1 5.1"/>
<path class="k94" d="M216 2028.7l5.1-1.6 5.1-1.5 5.1-1.1 5.1-0.8M272.2 2029.1l5.1 4.6"/>
<path class="k95" d="M236.4 2023.7l5.1-0.6 5.1-0.5 5.2-0.4 5.1-0.1 5.1 0.5 5.1 2.4 5.1 4.1"/>
<path class="k86" d="M323.3 2080.6l5.1 5"/>
<path class="k85" d="M328.4 2085.6l5.2 5.1 5.1 5.2"/>
<path class="k84" d="M338.7 2095.9l5.1 5.3"/>
<path class="k83" d="M343.8 2101.2l5.1 5.3"/>
<path class="k82" d="M348.9 2106.5l5.1 5.3"/>
<path class="k81" d="M354 2111.8l5.1 5.3"/>
<path class="k52" d="M359.1 2117.1l5.1 5.1 5.1 5"/>
<path class="k51" d="M369.3 2127.2l5.1 4.7"/>
<path class="k50" d="M374.4 2131.9l5.2 4.6"/>
<path class="k49" d="M379.6 2136.5l5.1 4.4 5.1 4.2"/>
<path class="k53" d="M389.8 2145.1l5.1 4"/>
<path class="k54" d="M394.9 2149.1l5.1 4.1 5.1 3.9"/>
<path class="k55" d="M405.1 2157.1l5.1 4 5.1 4"/>
<path class="k56" d="M415.3 2165.1l5.2 4"/>
<path class="k57" d="M420.5 2169.1l5.1 4.1 5.1 4.3"/>
<path class="k58" d="M430.7 2177.5l5.1 4.4"/>
<path class="k59" d="M435.8 2181.9l5.1 4.3 5.1 4.3"/>
<path class="k60" d="M446 2190.5l5.1 4.1"/>
<path class="k61" d="M451.1 2194.6l5.1 3.9 5.2 3.6"/>
<path class="k62" d="M461.4 2202.1l5.1 3.5 5.1 3.3"/>
<path class="k63" d="M471.6 2208.9l5.1 3.3 5.1 3.3"/>
<path class="k64" d="M481.8 2215.5l5.1 3.4 5.1 3.4"/>
<path class="k65" d="M492 2222.3l5.1 3.5 5.1 3.6"/>
<path class="k66" d="M502.2 2229.4l5.2 3.6 5.1 3.6"/>
<path class="k67" d="M512.5 2236.6l5.1 3.6 5.1 3.5"/>
<path class="k68" d="M522.7 2243.7l5.1 3.4 5.1 3.2"/>
<path class="k69" d="M532.9 2250.3l5.1 3.2 5.1 2.9"/>
<path class="k70" d="M543.1 2256.4l5.2 2.7 5.1 2.4"/>
<path class="k71" d="M553.4 2261.5l5.1 2.4 5.1 2.3 5.1 2.2"/>
<path class="k72" d="M568.7 2268.4l5.1 2.1 5.1 2.1 5.1 2 5.2 1.9"/>
<path class="k73" d="M589.2 2276.5l5.1 1.9 5.1 1.8 5.1 1.8"/>
<path class="k74" d="M604.5 2282l5.1 1.8 5.1 1.7 5.1 1.7 5.1 1.7 5.2 1.6"/>
<path class="k75" d="M630.1 2290.5l5.1 1.6 5.1 1.6 5.1 1.5 5.1 1.5"/>
<path class="k76" d="M650.5 2296.7l5.1 1.4 5.1 1.5 5.1 1.3 5.1 1.4 5.2 1.3 5.1 1.3"/>
<path class="k77" d="M681.2 2304.9l5.1 1.2 5.1 1.3 5.1 1.2 5.1 1.1 5.1 1.2 5.1 1.1 5.2 1.1"/>
<path class="k78" d="M717 2313.1l5.1 1.1 5.1 1 5.1 1.1 5.1 1 5.1 1.1 5.1 1.1 5.1 1"/>
<path class="k79" d="M752.7 2320.5l5.2 1.1 5.1 1 5.1 1 5.1 1 5.1 1 5.1 0.9 5.1 0.9 5.1 0.8 5.2 0.8 5.1 0.7"/>
<path class="k80" d="M803.9 2329.7l5.1 0.6 5.1 0.6 5.1 0.6 5.1 0.7 5.1 0.6 5.1 0.6 5.1 0.6 5.2 0.5 5.1 0.6 5.1 0.6 5.1 0.5 5.1 0.6 5.1 0.5 5.1 0.5 5.1 0.5 5.2 0.4 5.1 0.5 5.1 0.4 5.1 0.4 5.1 0.4 5.1 0.3 5.1 0.4 5.1 0.3"/>
<path class="k89" d="M144.7 2078.4l15-12.3M282.7 2085.8l15.1-31.1M287.8 2090.2l15.1-29.9"/>
<path class="k91" d="M149.8 2069.7l15.1-8.6M267.4 2074l15-35.9M272.5 2077.7l15-34.5"/>
<path class="k92" d="M154.9 2062l15.1-5.7M257.2 2067.2l15-38.1M262.3 2070.5l15-36.8"/>
<path class="k93" d="M160 2055.8l15.1-4M246.9 2061.1l15.1-38.5M252.1 2064.1l15-39.1"/>
<path class="k94" d="M165.1 2051.4l15.1-3.8M231.6 2052.5l15-29.9M236.7 2055.4l15.1-33.2M241.8 2058.3l15.1-36.2"/>
<path class="k95" d="M170.3 2047.5l15-3.7M175.4 2044.3l15-3.9M211.2 2045.2l15-19.6M216.3 2046l15-21.5M221.4 2047.6l15-23.9M226.5 2049.8l15-26.7"/>
<path class="k96" d="M180.5 2042.6l15-5.1M185.6 2042.7l15-7.6M190.7 2043l15-10.2M195.8 2043.5l15.1-12.8M200.9 2044l15.1-15.3M206 2044.5l15.1-17.4"/>
<path class="k90" d="M277.6 2081.6l15.1-32.8"/>
<path class="k88" d="M293 2095.1l15-29.6"/>
<path class="k87" d="M298.1 2100.2l15-29.6"/>
<path class="k86" d="M303.2 2105.6l15-30"/>
<path class="k85" d="M308.3 2111.3l15-30.7M313.4 2117.3l15-31.7"/>
<path class="k83" d="M318.5 2123.9l15.1-33.2"/>
<path class="k82" d="M323.6 2130.9l15.1-35"/>
<path class="k81" d="M328.7 2138.1l15.1-36.9"/>
<path class="k52" d="M333.8 2145.5l15.1-39"/>
<path class="k51" d="M339 2153.4l15-41.6"/>
<path class="k50" d="M344.1 2161.5l15-44.4"/>
<path class="k53" d="M349.2 2169.6l15-47.4"/>
<path class="k54" d="M354.3 2177.4l15-50.2"/>
<path class="k55" d="M359.4 2184.6l15-52.7"/>
<path class="k56" d="M364.5 2191.1l15.1-54.6"/>
<path class="k57" d="M369.6 2197.1l15.1-56.2"/>
<path class="k58" d="M374.7 2202.9l15.1-57.8"/>
<path class="k59" d="M379.9 2208.4l15-59.3"/>
<path class="k60" d="M385 2213.7l15-60.5"/>
<path class="k61" d="M390.1 2219.1l15-62M395.2 2224.5l15-63.4"/>
<path class="k62" d="M400.3 2230l15-64.9"/>
<path class="k63" d="M405.4 2235.5l15.1-66.4"/>
<path class="k64" d="M410.5 2240.8l15.1-67.6"/>
<path class="k65" d="M415.6 2246l15.1-68.5"/>
<path class="k66" d="M420.8 2250.9l15-69M425.9 2255.4l15-69.2"/>
<path class="k67" d="M431 2259.7l15-69.2M436.1 2263.7l15-69.1"/>
<path class="k68" d="M441.2 2267.7l15-69.2"/>
<path class="k69" d="M446.3 2271.5l15.1-69.4M451.4 2275.2l15.1-69.6"/>
<path class="k70" d="M456.5 2279l15.1-70.1M461.6 2282.8l15.1-70.6"/>
<path class="k71" d="M466.8 2286.5l15-71"/>
<path class="k72" d="M471.9 2290.2l15-71.3M477 2293.8l15-71.5"/>
<path class="k73" d="M482.1 2297.2l15-71.4M487.2 2300.6l15-71.2"/>
<path class="k74" d="M492.3 2304l15.1-71M497.4 2307.5l15.1-70.9"/>
<path class="k75" d="M502.5 2311l15.1-70.8M507.7 2314.4l15-70.7"/>
<path class="k76" d="M512.8 2317.7l15-70.6M517.9 2320.8l15-70.5"/>
<path class="k77" d="M523 2323.6l15-70.1M528.1 2326.1l15-69.7M533.2 2328.2l15.1-69.1M538.3 2329.9l15.1-68.4"/>
<path class="k78" d="M543.4 2331.6l15.1-67.7M548.6 2333.2l15-67M553.7 2334.7l15-66.3M558.8 2336.2l15-65.7M563.9 2337.6l15-65"/>
<path class="k79" d="M569 2339l15-64.4M574.1 2340.3l15.1-63.8M579.2 2341.5l15.1-63.1M584.3 2342.6l15.1-62.4M589.5 2343.6l15-61.6M594.6 2344.6l15-60.8M599.7 2345.5l15-60"/>
<path class="k80" d="M604.8 2346.3l15-59.1M609.9 2347l15-58.1M615 2347.6l15.1-57.1M620.1 2348.2l15.1-56.1M625.2 2348.8l15.1-55.1M630.3 2349.3l15.1-54.1M635.5 2349.9l15-53.2M640.6 2350.4l15-52.3M645.7 2350.9l15-51.3M650.8 2351.3l15-50.4M655.9 2351.8l15-49.5M661 2352.3l15.1-48.7M666.1 2352.7l15.1-47.8M671.2 2353.1l15.1-47M676.4 2353.5l15-46.1M681.5 2353.9l15-45.3M686.6 2354.2l15-44.5M691.7 2354.6l15-43.7M696.8 2355l15-43M701.9 2355.3l15.1-42.2M707 2355.7l15.1-41.5M712.1 2356l15.1-40.8M717.3 2356.4l15-40.1M722.4 2356.7l15-39.4M727.5 2357l15-38.6M732.6 2357.4l15-37.9M737.7 2357.7l15-37.2M742.8 2358l15.1-36.4M747.9 2358.4l15.1-35.8M753 2358.7l15.1-35.1M758.1 2359l15.1-34.4M763.3 2359.4l15-33.8M768.4 2359.7l15-33.2M773.5 2360l15-32.6M778.6 2360.3l15-32.1M783.7 2360.7l15.1-31.7M788.8 2361l15.1-31.3M793.9 2361.3l15.1-31M799 2361.6l15.1-30.7M804.2 2362l15-30.5M809.3 2362.3l15-30.1M814.4 2362.6l15-29.8M819.5 2362.9l15-29.5M824.6 2363.3l15-29.3M829.7 2363.6l15.1-29.1M834.8 2363.9l15.1-28.8M839.9 2364.2l15.1-28.5M845.1 2364.5l15-28.3M850.2 2364.9l15-28.1M855.3 2365.2l15-27.9M860.4 2365.5l15-27.7M865.5 2365.8l15-27.5M870.6 2366.1l15.1-27.4M875.7 2366.4l15.1-27.2M880.8 2366.7l15.1-27.1M886 2367.1l15-27.1M891.1 2367.4l15-27M896.2 2367.7l15-27M901.3 2368l15-26.9M906.4 2368.3l15-26.9"/>
<path class="k89" d="M144.7 2078.4l5.1-8.7M282.7 2085.8l5.1 4.4 5.2 4.9"/>
<path class="k91" d="M149.8 2069.7l5.1-7.7M267.4 2074l5.1 3.7 5.1 3.9"/>
<path class="k92" d="M154.9 2062l5.1-6.2M257.2 2067.2l5.1 3.3 5.1 3.5"/>
<path class="k93" d="M160 2055.8l5.1-4.4M246.9 2061.1l5.2 3 5.1 3.1"/>
<path class="k94" d="M165.1 2051.4l5.2-3.9M231.6 2052.5l5.1 2.9 5.1 2.9 5.1 2.8"/>
<path class="k95" d="M170.3 2047.5l5.1-3.2 5.1-1.7M211.2 2045.2l5.1 0.8 5.1 1.6 5.1 2.2 5.1 2.7"/>
<path class="k96" d="M180.5 2042.6l5.1 0.1 5.1 0.3 5.1 0.5 5.1 0.5 5.1 0.5 5.2 0.7"/>
<path class="k90" d="M277.6 2081.6l5.1 4.2"/>
<path class="k88" d="M293 2095.1l5.1 5.1"/>
<path class="k87" d="M298.1 2100.2l5.1 5.4"/>
<path class="k86" d="M303.2 2105.6l5.1 5.7"/>
<path class="k85" d="M308.3 2111.3l5.1 6 5.1 6.6"/>
<path class="k83" d="M318.5 2123.9l5.1 7"/>
<path class="k82" d="M323.6 2130.9l5.1 7.2"/>
<path class="k81" d="M328.7 2138.1l5.1 7.4"/>
<path class="k52" d="M333.8 2145.5l5.2 7.9"/>
<path class="k51" d="M339 2153.4l5.1 8.1"/>
<path class="k50" d="M344.1 2161.5l5.1 8.1"/>
<path class="k53" d="M349.2 2169.6l5.1 7.8"/>
<path class="k54" d="M354.3 2177.4l5.1 7.2"/>
<path class="k55" d="M359.4 2184.6l5.1 6.5"/>
<path class="k56" d="M364.5 2191.1l5.1 6"/>
<path class="k57" d="M369.6 2197.1l5.1 5.8"/>
<path class="k58" d="M374.7 2202.9l5.2 5.5"/>
<path class="k59" d="M379.9 2208.4l5.1 5.3"/>
<path class="k60" d="M385 2213.7l5.1 5.4"/>
<path class="k61" d="M390.1 2219.1l5.1 5.4 5.1 5.5"/>
<path class="k62" d="M400.3 2230l5.1 5.5"/>
<path class="k63" d="M405.4 2235.5l5.1 5.3"/>
<path class="k64" d="M410.5 2240.8l5.1 5.2"/>
<path class="k65" d="M415.6 2246l5.2 4.9"/>
<path class="k66" d="M420.8 2250.9l5.1 4.5 5.1 4.3"/>
<path class="k67" d="M431 2259.7l5.1 4 5.1 4"/>
<path class="k68" d="M441.2 2267.7l5.1 3.8"/>
<path class="k69" d="M446.3 2271.5l5.1 3.7 5.1 3.8"/>
<path class="k70" d="M456.5 2279l5.1 3.8 5.2 3.7"/>
<path class="k71" d="M466.8 2286.5l5.1 3.7"/>
<path class="k72" d="M471.9 2290.2l5.1 3.6 5.1 3.4"/>
<path class="k73" d="M482.1 2297.2l5.1 3.4 5.1 3.4"/>
<path class="k74" d="M492.3 2304l5.1 3.5 5.1 3.5"/>
<path class="k75" d="M502.5 2311l5.2 3.4 5.1 3.3"/>
<path class="k76" d="M512.8 2317.7l5.1 3.1 5.1 2.8"/>
<path class="k77" d="M523 2323.6l5.1 2.5 5.1 2.1 5.1 1.7 5.1 1.7"/>
<path class="k78" d="M543.4 2331.6l5.2 1.6 5.1 1.5 5.1 1.5 5.1 1.4 5.1 1.4"/>
<path class="k79" d="M569 2339l5.1 1.3 5.1 1.2 5.1 1.1 5.2 1 5.1 1 5.1 0.9 5.1 0.8"/>
<path class="k80" d="M604.8 2346.3l5.1 0.7 5.1 0.6 5.1 0.6 5.1 0.6 5.1 0.5 5.2 0.6 5.1 0.5 5.1 0.5 5.1 0.4 5.1 0.5 5.1 0.5 5.1 0.4 5.1 0.4 5.2 0.4 5.1 0.4 5.1 0.3 5.1 0.4 5.1 0.4 5.1 0.3 5.1 0.4 5.1 0.3 5.2 0.4 5.1 0.3 5.1 0.3 5.1 0.4 5.1 0.3 5.1 0.3 5.1 0.4 5.1 0.3 5.1 0.3 5.2 0.4 5.1 0.3 5.1 0.3 5.1 0.3 5.1 0.4 5.1 0.3 5.1 0.3 5.1 0.3 5.2 0.4 5.1 0.3 5.1 0.3 5.1 0.3 5.1 0.4 5.1 0.3 5.1 0.3 5.1 0.3 5.2 0.3 5.1 0.4 5.1 0.3 5.1 0.3 5.1 0.3 5.1 0.3 5.1 0.3 5.1 0.3 5.2 0.4 5.1 0.3 5.1 0.3 5.1 0.3 5.1 0.3"/></g>
<text x="132.2" y="2358.6" font-size="12.4" text-anchor="end">0</text>
<text x="208.4" y="2362.9" font-size="12.4" text-anchor="end">0.2</text>
<text x="284.5" y="2367.1" font-size="12.4" text-anchor="end">0.4</text>
<text x="360.7" y="2371.4" font-size="12.4" text-anchor="end">0.6</text>
<text x="436.9" y="2375.6" font-size="12.4" text-anchor="end">0.8</text>
<text x="513" y="2379.9" font-size="12.4" text-anchor="end">1</text>
<text x="589.2" y="2384.1" font-size="12.4" text-anchor="end">1.2</text>
<text x="665.4" y="2388.4" font-size="12.4" text-anchor="end">1.4</text>
<text x="741.6" y="2392.6" font-size="12.4" text-anchor="end">1.6</text>
<text x="817.7" y="2396.9" font-size="12.4" text-anchor="end">1.8</text>
<text x="893.9" y="2401.1" font-size="12.4" text-anchor="end">2</text>
<text x="120.4" y="2330.1" font-size="12.4" text-anchor="end">0</text>
<text x="120.4" y="2281.1" font-size="12.4" text-anchor="end">0.2</text>
<text x="120.4" y="2232.1" font-size="12.4" text-anchor="end">0.4</text>
<text x="120.4" y="2183.1" font-size="12.4" text-anchor="end">0.6</text>
<text x="120.4" y="2134.1" font-size="12.4" text-anchor="end">0.8</text>
<text x="120.4" y="2085.1" font-size="12.4" text-anchor="end">1</text>
<text x="120.4" y="2036.1" font-size="12.4" text-anchor="end">1.2</text>
<text x="931.4" y="2381.8" font-size="12.4">2012</text>
<text x="946.4" y="2354.9" font-size="12.4">2013</text>
<text x="961.4" y="2328" font-size="12.4">2014</text>
<text x="976.5" y="2301" font-size="12.4">2015</text>
<text x="991.5" y="2274.1" font-size="12.4">2016</text>
<text x="1006.6" y="2247.1" font-size="12.4">2017</text>
<text x="1021.6" y="2220.2" font-size="12.4">2018</text>
<text x="1036.6" y="2193.3" font-size="12.4">2019</text>
<text x="1051.7" y="2166.3" font-size="12.4">2020</text>
<text x="1066.7" y="2139.4" font-size="12.4">2021</text>
<defs><linearGradient id="gC" x1="0" y1="0" x2="0" y2="1"><stop offset="0.000" stop-color="#7a0403"/><stop offset="0.016" stop-color="#850702"/><stop offset="0.031" stop-color="#920b01"/><stop offset="0.047" stop-color="#9e1001"/><stop offset="0.062" stop-color="#a91601"/><stop offset="0.078" stop-color="#b41b01"/><stop offset="0.094" stop-color="#be2102"/><stop offset="0.109" stop-color="#c82803"/><stop offset="0.125" stop-color="#d02f05"/><stop offset="0.141" stop-color="#d83706"/><stop offset="0.156" stop-color="#df3f08"/><stop offset="0.172" stop-color="#e5470b"/><stop offset="0.188" stop-color="#eb500e"/><stop offset="0.203" stop-color="#f05b12"/><stop offset="0.219" stop-color="#f46617"/><stop offset="0.234" stop-color="#f8721c"/><stop offset="0.250" stop-color="#fb7e21"/><stop offset="0.266" stop-color="#fd8a26"/><stop offset="0.281" stop-color="#fe962b"/><stop offset="0.297" stop-color="#fea130"/><stop offset="0.312" stop-color="#fdac34"/><stop offset="0.328" stop-color="#fbb637"/><stop offset="0.344" stop-color="#f8be39"/><stop offset="0.359" stop-color="#f4c73a"/><stop offset="0.375" stop-color="#eecf3a"/><stop offset="0.391" stop-color="#e7d739"/><stop offset="0.406" stop-color="#dfdf37"/><stop offset="0.422" stop-color="#d7e535"/><stop offset="0.438" stop-color="#cdec34"/><stop offset="0.453" stop-color="#c3f134"/><stop offset="0.469" stop-color="#b9f635"/><stop offset="0.484" stop-color="#affa37"/><stop offset="0.500" stop-color="#a4fc3c"/><stop offset="0.516" stop-color="#99fe42"/><stop offset="0.531" stop-color="#8bff4b"/><stop offset="0.547" stop-color="#7dff56"/><stop offset="0.562" stop-color="#6dfe62"/><stop offset="0.578" stop-color="#5dfc6f"/><stop offset="0.594" stop-color="#4ef97d"/><stop offset="0.609" stop-color="#3ff68a"/><stop offset="0.625" stop-color="#32f298"/><stop offset="0.641" stop-color="#27eea4"/><stop offset="0.656" stop-color="#1fe9af"/><stop offset="0.672" stop-color="#19e3b9"/><stop offset="0.688" stop-color="#18ddc2"/><stop offset="0.703" stop-color="#19d5cd"/><stop offset="0.719" stop-color="#1ccdd8"/><stop offset="0.734" stop-color="#22c5e2"/><stop offset="0.750" stop-color="#28bceb"/><stop offset="0.766" stop-color="#2fb2f4"/><stop offset="0.781" stop-color="#37a8fa"/><stop offset="0.797" stop-color="#3d9efe"/><stop offset="0.812" stop-color="#4294ff"/><stop offset="0.828" stop-color="#458afc"/><stop offset="0.844" stop-color="#4680f6"/><stop offset="0.859" stop-color="#4776ee"/><stop offset="0.875" stop-color="#466be3"/><stop offset="0.891" stop-color="#4661d6"/><stop offset="0.906" stop-color="#4456c7"/><stop offset="0.922" stop-color="#424bb5"/><stop offset="0.938" stop-color="#4040a2"/><stop offset="0.953" stop-color="#3d358b"/><stop offset="0.969" stop-color="#392a73"/><stop offset="0.984" stop-color="#351e58"/><stop offset="1.000" stop-color="#30123b"/></linearGradient></defs>
<rect x="1240.5" y="1811.4" width="13.799999999999955" height="580.9000000000001" fill="url(#gC)" stroke="#262626" stroke-width="0.8"/>
<path d="M1248.3 2336.1L1254.3 2336.1M1248.3 2287.3L1254.3 2287.3M1248.3 2238.4L1254.3 2238.4M1248.3 2189.5L1254.3 2189.5M1248.3 2140.7L1254.3 2140.7M1248.3 2091.8L1254.3 2091.8M1248.3 2043L1254.3 2043M1248.3 1994.1L1254.3 1994.1M1248.3 1945.3L1254.3 1945.3M1248.3 1896.4L1254.3 1896.4M1248.3 1847.6L1254.3 1847.6" stroke="#262626" stroke-width="1"/>
<text x="1259.3" y="2340" font-size="11">0.1</text>
<text x="1259.3" y="2291.1" font-size="11">0.2</text>
<text x="1259.3" y="2242.3" font-size="11">0.3</text>
<text x="1259.3" y="2193.4" font-size="11">0.4</text>
<text x="1259.3" y="2144.5" font-size="11">0.5</text>
<text x="1259.3" y="2095.7" font-size="11">0.6</text>
<text x="1259.3" y="2046.8" font-size="11">0.7</text>
<text x="1259.3" y="1998" font-size="11">0.8</text>
<text x="1259.3" y="1949.1" font-size="11">0.9</text>
<text x="1259.3" y="1900.3" font-size="11">1</text>
<text x="1259.3" y="1851.4" font-size="11">1.1</text>
<text x="-1" y="19.5" font-size="27" font-weight="bold">A</text>
<text x="607.7" y="939.7" font-size="15.4" text-anchor="middle">Marine Economic Efficiency Index</text>
<text transform="translate(14.1,561.3) rotate(-90)" font-size="15.4" text-anchor="middle">Nuclear Density</text>
<text transform="translate(1181.8,751) rotate(-90)" font-size="15.4" text-anchor="middle">Year</text>
<text x="0" y="988" font-size="27" font-weight="bold">B</text>
<text x="525.4" y="1731.9" font-size="12.6" text-anchor="middle">Marine Economic Efficiency Index</text>
<text transform="translate(11.2,1455.8) rotate(-90)" font-size="12.75" text-anchor="middle">Nuclear Density</text>
<text x="1081.3" y="1576" font-size="12.3">Year</text>
<text x="0" y="1785" font-size="27" font-weight="bold">C</text>
<text x="497" y="2495.9" font-size="14" text-anchor="middle">Marine Economic Efficiency Index</text>
<text transform="translate(11.7,2222) rotate(-90)" font-size="13.9" text-anchor="middle">Nuclear Density</text>
<text x="1104.5" y="2235.4" font-size="12.4">Year</text>

</svg>
</body></html>
